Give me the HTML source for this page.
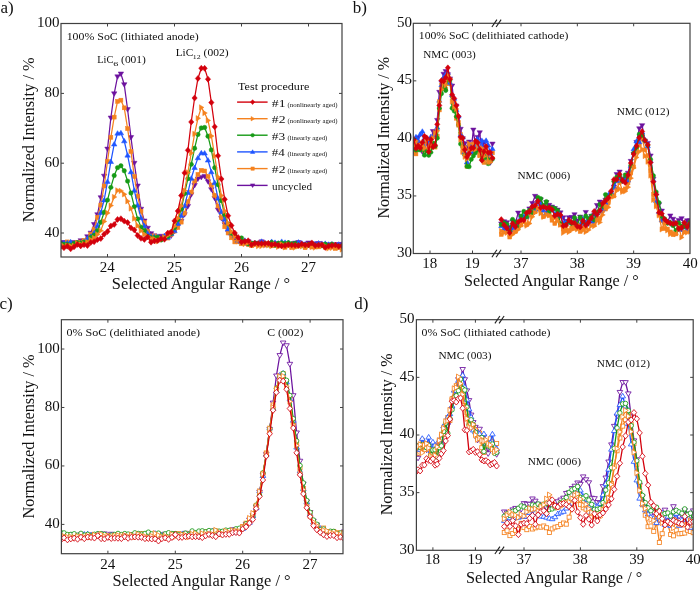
<!DOCTYPE html>
<html><head><meta charset="utf-8"><title>XRD panels</title>
<style>html,body{margin:0;padding:0;background:#fff;width:700px;height:590px;overflow:hidden}
svg{display:block;will-change:transform} text{font-family:"Liberation Serif",serif}</style></head>
<body><svg width="700" height="590" viewBox="0 0 700 590" font-family='"Liberation Serif", serif' fill="#111"><defs><clipPath id="ca"><rect x="61" y="23.5" width="281" height="233.5"/></clipPath><clipPath id="cb"><rect x="413.3" y="23.3" width="276.7" height="230.2"/></clipPath><clipPath id="cc"><rect x="61.4" y="319.7" width="281.6" height="234.00000000000006"/></clipPath><clipPath id="cd"><rect x="416.4" y="319.7" width="276.80000000000007" height="230.59999999999997"/></clipPath></defs><rect width="700" height="590" fill="#fff"/><g clip-path="url(#ca)">
<path d="M60.6,242.79 L63.95,242.34 L67.3,242.71 L70.65,244.1 L74,242.33 L77.35,242.75 L80.7,240.61 L84.05,240.9 L87.4,236.59 L90.75,233 L94.1,224.38 L97.45,214.57 L100.8,197.57 L104.15,176 L107.5,148.96 L110.85,117.88 L114.2,93.68 L117.55,76.68 L120.9,73.81 L124.25,84.56 L127.6,109.47 L130.95,137.4 L134.3,163.14 L137.65,185.84 L141,209.04 L144.35,220.83 L147.7,228.07 L151.05,233.5 L154.4,235.7 L157.75,237.04 L161.1,236.1 L164.45,236.91 L167.8,236.01 L171.15,235.89 L174.5,231.27 L177.85,225.97 L181.2,221.24 L184.55,214.52 L187.9,206.27 L191.25,194.62 L194.6,185.36 L197.95,178.86 L201.3,177.29 L204.65,176.35 L208,181.57 L211.35,189.48 L214.7,198.23 L218.05,209.79 L221.4,218.32 L224.75,224.49 L228.1,232.55 L231.45,236 L234.8,238.05 L238.15,241.09 L241.5,243.07 L244.85,241.82 L248.2,241.53 L251.55,244.44 L254.9,243.14 L258.25,243.44 L261.6,241.72 L264.95,244.8 L268.3,243.51 L271.65,244.86 L275,244.46 L278.35,243.5 L281.7,243.96 L285.05,243.84 L288.4,244.51 L291.75,245.45 L295.1,242.95 L298.45,242.45 L301.8,244.07 L305.15,244.48 L308.5,242.82 L311.85,243.73 L315.2,244.04 L318.55,243.45 L321.9,245.37 L325.25,245.38 L328.6,244.48 L331.95,245.8 L335.3,244.68 L338.65,244.53 L342,244.24" fill="none" stroke="#6c129e" stroke-width="1.25" stroke-linejoin="round"/>
<polygon points="60.6,245.43 63.33,240.95 57.87,240.95" fill="#6c129e" stroke="#6c129e" stroke-width="0.5"/>
<polygon points="63.95,244.98 66.68,240.49 61.22,240.49" fill="#6c129e" stroke="#6c129e" stroke-width="0.5"/>
<polygon points="67.3,245.35 70.03,240.86 64.57,240.86" fill="#6c129e" stroke="#6c129e" stroke-width="0.5"/>
<polygon points="70.65,246.74 73.38,242.25 67.92,242.25" fill="#6c129e" stroke="#6c129e" stroke-width="0.5"/>
<polygon points="74,244.97 76.73,240.48 71.27,240.48" fill="#6c129e" stroke="#6c129e" stroke-width="0.5"/>
<polygon points="77.35,245.39 80.08,240.9 74.62,240.9" fill="#6c129e" stroke="#6c129e" stroke-width="0.5"/>
<polygon points="80.7,243.25 83.43,238.76 77.97,238.76" fill="#6c129e" stroke="#6c129e" stroke-width="0.5"/>
<polygon points="84.05,243.54 86.78,239.05 81.32,239.05" fill="#6c129e" stroke="#6c129e" stroke-width="0.5"/>
<polygon points="87.4,239.23 90.13,234.74 84.67,234.74" fill="#6c129e" stroke="#6c129e" stroke-width="0.5"/>
<polygon points="90.75,235.64 93.48,231.15 88.02,231.15" fill="#6c129e" stroke="#6c129e" stroke-width="0.5"/>
<polygon points="94.1,227.02 96.83,222.54 91.37,222.54" fill="#6c129e" stroke="#6c129e" stroke-width="0.5"/>
<polygon points="97.45,217.21 100.18,212.72 94.72,212.72" fill="#6c129e" stroke="#6c129e" stroke-width="0.5"/>
<polygon points="100.8,200.21 103.53,195.73 98.07,195.73" fill="#6c129e" stroke="#6c129e" stroke-width="0.5"/>
<polygon points="104.15,178.64 106.88,174.16 101.42,174.16" fill="#6c129e" stroke="#6c129e" stroke-width="0.5"/>
<polygon points="107.5,151.6 110.23,147.11 104.77,147.11" fill="#6c129e" stroke="#6c129e" stroke-width="0.5"/>
<polygon points="110.85,120.52 113.58,116.03 108.12,116.03" fill="#6c129e" stroke="#6c129e" stroke-width="0.5"/>
<polygon points="114.2,96.32 116.93,91.83 111.47,91.83" fill="#6c129e" stroke="#6c129e" stroke-width="0.5"/>
<polygon points="117.55,79.32 120.28,74.83 114.82,74.83" fill="#6c129e" stroke="#6c129e" stroke-width="0.5"/>
<polygon points="120.9,76.45 123.63,71.97 118.17,71.97" fill="#6c129e" stroke="#6c129e" stroke-width="0.5"/>
<polygon points="124.25,87.2 126.98,82.71 121.52,82.71" fill="#6c129e" stroke="#6c129e" stroke-width="0.5"/>
<polygon points="127.6,112.11 130.33,107.62 124.87,107.62" fill="#6c129e" stroke="#6c129e" stroke-width="0.5"/>
<polygon points="130.95,140.04 133.68,135.55 128.22,135.55" fill="#6c129e" stroke="#6c129e" stroke-width="0.5"/>
<polygon points="134.3,165.78 137.03,161.3 131.57,161.3" fill="#6c129e" stroke="#6c129e" stroke-width="0.5"/>
<polygon points="137.65,188.48 140.38,183.99 134.92,183.99" fill="#6c129e" stroke="#6c129e" stroke-width="0.5"/>
<polygon points="141,211.68 143.73,207.19 138.27,207.19" fill="#6c129e" stroke="#6c129e" stroke-width="0.5"/>
<polygon points="144.35,223.47 147.08,218.99 141.62,218.99" fill="#6c129e" stroke="#6c129e" stroke-width="0.5"/>
<polygon points="147.7,230.71 150.43,226.22 144.97,226.22" fill="#6c129e" stroke="#6c129e" stroke-width="0.5"/>
<polygon points="151.05,236.14 153.78,231.65 148.32,231.65" fill="#6c129e" stroke="#6c129e" stroke-width="0.5"/>
<polygon points="154.4,238.34 157.13,233.85 151.67,233.85" fill="#6c129e" stroke="#6c129e" stroke-width="0.5"/>
<polygon points="157.75,239.68 160.48,235.19 155.02,235.19" fill="#6c129e" stroke="#6c129e" stroke-width="0.5"/>
<polygon points="161.1,238.74 163.83,234.25 158.37,234.25" fill="#6c129e" stroke="#6c129e" stroke-width="0.5"/>
<polygon points="164.45,239.55 167.18,235.06 161.72,235.06" fill="#6c129e" stroke="#6c129e" stroke-width="0.5"/>
<polygon points="167.8,238.65 170.53,234.16 165.07,234.16" fill="#6c129e" stroke="#6c129e" stroke-width="0.5"/>
<polygon points="171.15,238.53 173.88,234.04 168.42,234.04" fill="#6c129e" stroke="#6c129e" stroke-width="0.5"/>
<polygon points="174.5,233.91 177.23,229.43 171.77,229.43" fill="#6c129e" stroke="#6c129e" stroke-width="0.5"/>
<polygon points="177.85,228.61 180.58,224.12 175.12,224.12" fill="#6c129e" stroke="#6c129e" stroke-width="0.5"/>
<polygon points="181.2,223.88 183.93,219.4 178.47,219.4" fill="#6c129e" stroke="#6c129e" stroke-width="0.5"/>
<polygon points="184.55,217.16 187.28,212.68 181.82,212.68" fill="#6c129e" stroke="#6c129e" stroke-width="0.5"/>
<polygon points="187.9,208.91 190.63,204.42 185.17,204.42" fill="#6c129e" stroke="#6c129e" stroke-width="0.5"/>
<polygon points="191.25,197.26 193.98,192.77 188.52,192.77" fill="#6c129e" stroke="#6c129e" stroke-width="0.5"/>
<polygon points="194.6,188 197.33,183.51 191.87,183.51" fill="#6c129e" stroke="#6c129e" stroke-width="0.5"/>
<polygon points="197.95,181.5 200.68,177.01 195.22,177.01" fill="#6c129e" stroke="#6c129e" stroke-width="0.5"/>
<polygon points="201.3,179.93 204.03,175.44 198.57,175.44" fill="#6c129e" stroke="#6c129e" stroke-width="0.5"/>
<polygon points="204.65,178.99 207.38,174.5 201.92,174.5" fill="#6c129e" stroke="#6c129e" stroke-width="0.5"/>
<polygon points="208,184.21 210.73,179.73 205.27,179.73" fill="#6c129e" stroke="#6c129e" stroke-width="0.5"/>
<polygon points="211.35,192.12 214.08,187.63 208.62,187.63" fill="#6c129e" stroke="#6c129e" stroke-width="0.5"/>
<polygon points="214.7,200.87 217.43,196.38 211.97,196.38" fill="#6c129e" stroke="#6c129e" stroke-width="0.5"/>
<polygon points="218.05,212.43 220.78,207.94 215.32,207.94" fill="#6c129e" stroke="#6c129e" stroke-width="0.5"/>
<polygon points="221.4,220.96 224.13,216.47 218.67,216.47" fill="#6c129e" stroke="#6c129e" stroke-width="0.5"/>
<polygon points="224.75,227.13 227.48,222.64 222.02,222.64" fill="#6c129e" stroke="#6c129e" stroke-width="0.5"/>
<polygon points="228.1,235.19 230.83,230.7 225.37,230.7" fill="#6c129e" stroke="#6c129e" stroke-width="0.5"/>
<polygon points="231.45,238.64 234.18,234.16 228.72,234.16" fill="#6c129e" stroke="#6c129e" stroke-width="0.5"/>
<polygon points="234.8,240.69 237.53,236.2 232.07,236.2" fill="#6c129e" stroke="#6c129e" stroke-width="0.5"/>
<polygon points="238.15,243.73 240.88,239.24 235.42,239.24" fill="#6c129e" stroke="#6c129e" stroke-width="0.5"/>
<polygon points="241.5,245.71 244.23,241.22 238.77,241.22" fill="#6c129e" stroke="#6c129e" stroke-width="0.5"/>
<polygon points="244.85,244.46 247.58,239.97 242.12,239.97" fill="#6c129e" stroke="#6c129e" stroke-width="0.5"/>
<polygon points="248.2,244.17 250.93,239.68 245.47,239.68" fill="#6c129e" stroke="#6c129e" stroke-width="0.5"/>
<polygon points="251.55,247.08 254.28,242.59 248.82,242.59" fill="#6c129e" stroke="#6c129e" stroke-width="0.5"/>
<polygon points="254.9,245.78 257.63,241.29 252.17,241.29" fill="#6c129e" stroke="#6c129e" stroke-width="0.5"/>
<polygon points="258.25,246.08 260.98,241.59 255.52,241.59" fill="#6c129e" stroke="#6c129e" stroke-width="0.5"/>
<polygon points="261.6,244.36 264.33,239.87 258.87,239.87" fill="#6c129e" stroke="#6c129e" stroke-width="0.5"/>
<polygon points="264.95,247.44 267.68,242.95 262.22,242.95" fill="#6c129e" stroke="#6c129e" stroke-width="0.5"/>
<polygon points="268.3,246.15 271.03,241.66 265.57,241.66" fill="#6c129e" stroke="#6c129e" stroke-width="0.5"/>
<polygon points="271.65,247.5 274.38,243.01 268.92,243.01" fill="#6c129e" stroke="#6c129e" stroke-width="0.5"/>
<polygon points="275,247.1 277.73,242.61 272.27,242.61" fill="#6c129e" stroke="#6c129e" stroke-width="0.5"/>
<polygon points="278.35,246.14 281.08,241.65 275.62,241.65" fill="#6c129e" stroke="#6c129e" stroke-width="0.5"/>
<polygon points="281.7,246.6 284.43,242.12 278.97,242.12" fill="#6c129e" stroke="#6c129e" stroke-width="0.5"/>
<polygon points="285.05,246.48 287.78,241.99 282.32,241.99" fill="#6c129e" stroke="#6c129e" stroke-width="0.5"/>
<polygon points="288.4,247.15 291.13,242.66 285.67,242.66" fill="#6c129e" stroke="#6c129e" stroke-width="0.5"/>
<polygon points="291.75,248.09 294.48,243.6 289.02,243.6" fill="#6c129e" stroke="#6c129e" stroke-width="0.5"/>
<polygon points="295.1,245.59 297.83,241.1 292.37,241.1" fill="#6c129e" stroke="#6c129e" stroke-width="0.5"/>
<polygon points="298.45,245.09 301.18,240.61 295.72,240.61" fill="#6c129e" stroke="#6c129e" stroke-width="0.5"/>
<polygon points="301.8,246.71 304.53,242.22 299.07,242.22" fill="#6c129e" stroke="#6c129e" stroke-width="0.5"/>
<polygon points="305.15,247.12 307.88,242.63 302.42,242.63" fill="#6c129e" stroke="#6c129e" stroke-width="0.5"/>
<polygon points="308.5,245.46 311.23,240.97 305.77,240.97" fill="#6c129e" stroke="#6c129e" stroke-width="0.5"/>
<polygon points="311.85,246.37 314.58,241.88 309.12,241.88" fill="#6c129e" stroke="#6c129e" stroke-width="0.5"/>
<polygon points="315.2,246.68 317.93,242.2 312.47,242.2" fill="#6c129e" stroke="#6c129e" stroke-width="0.5"/>
<polygon points="318.55,246.09 321.28,241.6 315.82,241.6" fill="#6c129e" stroke="#6c129e" stroke-width="0.5"/>
<polygon points="321.9,248.01 324.63,243.52 319.17,243.52" fill="#6c129e" stroke="#6c129e" stroke-width="0.5"/>
<polygon points="325.25,248.02 327.98,243.54 322.52,243.54" fill="#6c129e" stroke="#6c129e" stroke-width="0.5"/>
<polygon points="328.6,247.12 331.33,242.63 325.87,242.63" fill="#6c129e" stroke="#6c129e" stroke-width="0.5"/>
<polygon points="331.95,248.44 334.68,243.95 329.22,243.95" fill="#6c129e" stroke="#6c129e" stroke-width="0.5"/>
<polygon points="335.3,247.32 338.03,242.83 332.57,242.83" fill="#6c129e" stroke="#6c129e" stroke-width="0.5"/>
<polygon points="338.65,247.17 341.38,242.68 335.92,242.68" fill="#6c129e" stroke="#6c129e" stroke-width="0.5"/>
<polygon points="342,246.88 344.73,242.4 339.27,242.4" fill="#6c129e" stroke="#6c129e" stroke-width="0.5"/>
<path d="M60.6,245.2 L63.95,244.68 L67.3,241.9 L70.65,244.22 L74,244.77 L77.35,242.58 L80.7,242.04 L84.05,240.41 L87.4,239.5 L90.75,234.21 L94.1,229.06 L97.45,217.47 L100.8,205.04 L104.15,185.97 L107.5,161.46 L110.85,137.32 L114.2,117.11 L117.55,101.38 L120.9,100.16 L124.25,107.84 L127.6,128.63 L130.95,151.46 L134.3,176.55 L137.65,196.28 L141,211.28 L144.35,222.61 L147.7,231.34 L151.05,235.98 L154.4,235.97 L157.75,238.37 L161.1,238.76 L164.45,237.06 L167.8,238.1 L171.15,234.34 L174.5,231.11 L177.85,227.56 L181.2,222.14 L184.55,213.13 L187.9,201.46 L191.25,192.08 L194.6,180.98 L197.95,174.38 L201.3,170.32 L204.65,170.98 L208,176.36 L211.35,185.03 L214.7,195.28 L218.05,206.06 L221.4,217.57 L224.75,226.82 L228.1,232.99 L231.45,237.82 L234.8,241.95 L238.15,241.87 L241.5,243.82 L244.85,241.89 L248.2,244.63 L251.55,245.73 L254.9,244.13 L258.25,244.68 L261.6,243.95 L264.95,244.78 L268.3,243.19 L271.65,245.85 L275,245.04 L278.35,245.83 L281.7,245.98 L285.05,247.24 L288.4,245.09 L291.75,247.43 L295.1,245.52 L298.45,245.53 L301.8,245.68 L305.15,247.74 L308.5,245.46 L311.85,247.04 L315.2,246.06 L318.55,246.9 L321.9,244.69 L325.25,247.28 L328.6,247.02 L331.95,246.6 L335.3,248.43 L338.65,247.54 L342,247.37" fill="none" stroke="#f5821f" stroke-width="1.25" stroke-linejoin="round"/>
<rect x="58.62" y="243.22" width="3.96" height="3.96" fill="#f5821f" stroke="#f5821f" stroke-width="0.5"/>
<rect x="61.97" y="242.7" width="3.96" height="3.96" fill="#f5821f" stroke="#f5821f" stroke-width="0.5"/>
<rect x="65.32" y="239.92" width="3.96" height="3.96" fill="#f5821f" stroke="#f5821f" stroke-width="0.5"/>
<rect x="68.67" y="242.24" width="3.96" height="3.96" fill="#f5821f" stroke="#f5821f" stroke-width="0.5"/>
<rect x="72.02" y="242.79" width="3.96" height="3.96" fill="#f5821f" stroke="#f5821f" stroke-width="0.5"/>
<rect x="75.37" y="240.6" width="3.96" height="3.96" fill="#f5821f" stroke="#f5821f" stroke-width="0.5"/>
<rect x="78.72" y="240.06" width="3.96" height="3.96" fill="#f5821f" stroke="#f5821f" stroke-width="0.5"/>
<rect x="82.07" y="238.43" width="3.96" height="3.96" fill="#f5821f" stroke="#f5821f" stroke-width="0.5"/>
<rect x="85.42" y="237.52" width="3.96" height="3.96" fill="#f5821f" stroke="#f5821f" stroke-width="0.5"/>
<rect x="88.77" y="232.23" width="3.96" height="3.96" fill="#f5821f" stroke="#f5821f" stroke-width="0.5"/>
<rect x="92.12" y="227.08" width="3.96" height="3.96" fill="#f5821f" stroke="#f5821f" stroke-width="0.5"/>
<rect x="95.47" y="215.49" width="3.96" height="3.96" fill="#f5821f" stroke="#f5821f" stroke-width="0.5"/>
<rect x="98.82" y="203.06" width="3.96" height="3.96" fill="#f5821f" stroke="#f5821f" stroke-width="0.5"/>
<rect x="102.17" y="183.99" width="3.96" height="3.96" fill="#f5821f" stroke="#f5821f" stroke-width="0.5"/>
<rect x="105.52" y="159.48" width="3.96" height="3.96" fill="#f5821f" stroke="#f5821f" stroke-width="0.5"/>
<rect x="108.87" y="135.34" width="3.96" height="3.96" fill="#f5821f" stroke="#f5821f" stroke-width="0.5"/>
<rect x="112.22" y="115.13" width="3.96" height="3.96" fill="#f5821f" stroke="#f5821f" stroke-width="0.5"/>
<rect x="115.57" y="99.4" width="3.96" height="3.96" fill="#f5821f" stroke="#f5821f" stroke-width="0.5"/>
<rect x="118.92" y="98.18" width="3.96" height="3.96" fill="#f5821f" stroke="#f5821f" stroke-width="0.5"/>
<rect x="122.27" y="105.86" width="3.96" height="3.96" fill="#f5821f" stroke="#f5821f" stroke-width="0.5"/>
<rect x="125.62" y="126.65" width="3.96" height="3.96" fill="#f5821f" stroke="#f5821f" stroke-width="0.5"/>
<rect x="128.97" y="149.48" width="3.96" height="3.96" fill="#f5821f" stroke="#f5821f" stroke-width="0.5"/>
<rect x="132.32" y="174.57" width="3.96" height="3.96" fill="#f5821f" stroke="#f5821f" stroke-width="0.5"/>
<rect x="135.67" y="194.3" width="3.96" height="3.96" fill="#f5821f" stroke="#f5821f" stroke-width="0.5"/>
<rect x="139.02" y="209.3" width="3.96" height="3.96" fill="#f5821f" stroke="#f5821f" stroke-width="0.5"/>
<rect x="142.37" y="220.63" width="3.96" height="3.96" fill="#f5821f" stroke="#f5821f" stroke-width="0.5"/>
<rect x="145.72" y="229.36" width="3.96" height="3.96" fill="#f5821f" stroke="#f5821f" stroke-width="0.5"/>
<rect x="149.07" y="234" width="3.96" height="3.96" fill="#f5821f" stroke="#f5821f" stroke-width="0.5"/>
<rect x="152.42" y="233.99" width="3.96" height="3.96" fill="#f5821f" stroke="#f5821f" stroke-width="0.5"/>
<rect x="155.77" y="236.39" width="3.96" height="3.96" fill="#f5821f" stroke="#f5821f" stroke-width="0.5"/>
<rect x="159.12" y="236.78" width="3.96" height="3.96" fill="#f5821f" stroke="#f5821f" stroke-width="0.5"/>
<rect x="162.47" y="235.08" width="3.96" height="3.96" fill="#f5821f" stroke="#f5821f" stroke-width="0.5"/>
<rect x="165.82" y="236.12" width="3.96" height="3.96" fill="#f5821f" stroke="#f5821f" stroke-width="0.5"/>
<rect x="169.17" y="232.36" width="3.96" height="3.96" fill="#f5821f" stroke="#f5821f" stroke-width="0.5"/>
<rect x="172.52" y="229.13" width="3.96" height="3.96" fill="#f5821f" stroke="#f5821f" stroke-width="0.5"/>
<rect x="175.87" y="225.58" width="3.96" height="3.96" fill="#f5821f" stroke="#f5821f" stroke-width="0.5"/>
<rect x="179.22" y="220.16" width="3.96" height="3.96" fill="#f5821f" stroke="#f5821f" stroke-width="0.5"/>
<rect x="182.57" y="211.15" width="3.96" height="3.96" fill="#f5821f" stroke="#f5821f" stroke-width="0.5"/>
<rect x="185.92" y="199.48" width="3.96" height="3.96" fill="#f5821f" stroke="#f5821f" stroke-width="0.5"/>
<rect x="189.27" y="190.1" width="3.96" height="3.96" fill="#f5821f" stroke="#f5821f" stroke-width="0.5"/>
<rect x="192.62" y="179" width="3.96" height="3.96" fill="#f5821f" stroke="#f5821f" stroke-width="0.5"/>
<rect x="195.97" y="172.4" width="3.96" height="3.96" fill="#f5821f" stroke="#f5821f" stroke-width="0.5"/>
<rect x="199.32" y="168.34" width="3.96" height="3.96" fill="#f5821f" stroke="#f5821f" stroke-width="0.5"/>
<rect x="202.67" y="169" width="3.96" height="3.96" fill="#f5821f" stroke="#f5821f" stroke-width="0.5"/>
<rect x="206.02" y="174.38" width="3.96" height="3.96" fill="#f5821f" stroke="#f5821f" stroke-width="0.5"/>
<rect x="209.37" y="183.05" width="3.96" height="3.96" fill="#f5821f" stroke="#f5821f" stroke-width="0.5"/>
<rect x="212.72" y="193.3" width="3.96" height="3.96" fill="#f5821f" stroke="#f5821f" stroke-width="0.5"/>
<rect x="216.07" y="204.08" width="3.96" height="3.96" fill="#f5821f" stroke="#f5821f" stroke-width="0.5"/>
<rect x="219.42" y="215.59" width="3.96" height="3.96" fill="#f5821f" stroke="#f5821f" stroke-width="0.5"/>
<rect x="222.77" y="224.84" width="3.96" height="3.96" fill="#f5821f" stroke="#f5821f" stroke-width="0.5"/>
<rect x="226.12" y="231.01" width="3.96" height="3.96" fill="#f5821f" stroke="#f5821f" stroke-width="0.5"/>
<rect x="229.47" y="235.84" width="3.96" height="3.96" fill="#f5821f" stroke="#f5821f" stroke-width="0.5"/>
<rect x="232.82" y="239.97" width="3.96" height="3.96" fill="#f5821f" stroke="#f5821f" stroke-width="0.5"/>
<rect x="236.17" y="239.89" width="3.96" height="3.96" fill="#f5821f" stroke="#f5821f" stroke-width="0.5"/>
<rect x="239.52" y="241.84" width="3.96" height="3.96" fill="#f5821f" stroke="#f5821f" stroke-width="0.5"/>
<rect x="242.87" y="239.91" width="3.96" height="3.96" fill="#f5821f" stroke="#f5821f" stroke-width="0.5"/>
<rect x="246.22" y="242.65" width="3.96" height="3.96" fill="#f5821f" stroke="#f5821f" stroke-width="0.5"/>
<rect x="249.57" y="243.75" width="3.96" height="3.96" fill="#f5821f" stroke="#f5821f" stroke-width="0.5"/>
<rect x="252.92" y="242.15" width="3.96" height="3.96" fill="#f5821f" stroke="#f5821f" stroke-width="0.5"/>
<rect x="256.27" y="242.7" width="3.96" height="3.96" fill="#f5821f" stroke="#f5821f" stroke-width="0.5"/>
<rect x="259.62" y="241.97" width="3.96" height="3.96" fill="#f5821f" stroke="#f5821f" stroke-width="0.5"/>
<rect x="262.97" y="242.8" width="3.96" height="3.96" fill="#f5821f" stroke="#f5821f" stroke-width="0.5"/>
<rect x="266.32" y="241.21" width="3.96" height="3.96" fill="#f5821f" stroke="#f5821f" stroke-width="0.5"/>
<rect x="269.67" y="243.87" width="3.96" height="3.96" fill="#f5821f" stroke="#f5821f" stroke-width="0.5"/>
<rect x="273.02" y="243.06" width="3.96" height="3.96" fill="#f5821f" stroke="#f5821f" stroke-width="0.5"/>
<rect x="276.37" y="243.85" width="3.96" height="3.96" fill="#f5821f" stroke="#f5821f" stroke-width="0.5"/>
<rect x="279.72" y="244" width="3.96" height="3.96" fill="#f5821f" stroke="#f5821f" stroke-width="0.5"/>
<rect x="283.07" y="245.26" width="3.96" height="3.96" fill="#f5821f" stroke="#f5821f" stroke-width="0.5"/>
<rect x="286.42" y="243.11" width="3.96" height="3.96" fill="#f5821f" stroke="#f5821f" stroke-width="0.5"/>
<rect x="289.77" y="245.45" width="3.96" height="3.96" fill="#f5821f" stroke="#f5821f" stroke-width="0.5"/>
<rect x="293.12" y="243.54" width="3.96" height="3.96" fill="#f5821f" stroke="#f5821f" stroke-width="0.5"/>
<rect x="296.47" y="243.55" width="3.96" height="3.96" fill="#f5821f" stroke="#f5821f" stroke-width="0.5"/>
<rect x="299.82" y="243.7" width="3.96" height="3.96" fill="#f5821f" stroke="#f5821f" stroke-width="0.5"/>
<rect x="303.17" y="245.76" width="3.96" height="3.96" fill="#f5821f" stroke="#f5821f" stroke-width="0.5"/>
<rect x="306.52" y="243.48" width="3.96" height="3.96" fill="#f5821f" stroke="#f5821f" stroke-width="0.5"/>
<rect x="309.87" y="245.06" width="3.96" height="3.96" fill="#f5821f" stroke="#f5821f" stroke-width="0.5"/>
<rect x="313.22" y="244.08" width="3.96" height="3.96" fill="#f5821f" stroke="#f5821f" stroke-width="0.5"/>
<rect x="316.57" y="244.92" width="3.96" height="3.96" fill="#f5821f" stroke="#f5821f" stroke-width="0.5"/>
<rect x="319.92" y="242.71" width="3.96" height="3.96" fill="#f5821f" stroke="#f5821f" stroke-width="0.5"/>
<rect x="323.27" y="245.3" width="3.96" height="3.96" fill="#f5821f" stroke="#f5821f" stroke-width="0.5"/>
<rect x="326.62" y="245.04" width="3.96" height="3.96" fill="#f5821f" stroke="#f5821f" stroke-width="0.5"/>
<rect x="329.97" y="244.62" width="3.96" height="3.96" fill="#f5821f" stroke="#f5821f" stroke-width="0.5"/>
<rect x="333.32" y="246.45" width="3.96" height="3.96" fill="#f5821f" stroke="#f5821f" stroke-width="0.5"/>
<rect x="336.67" y="245.56" width="3.96" height="3.96" fill="#f5821f" stroke="#f5821f" stroke-width="0.5"/>
<rect x="340.02" y="245.39" width="3.96" height="3.96" fill="#f5821f" stroke="#f5821f" stroke-width="0.5"/>
<path d="M60.6,243.32 L63.95,242.79 L67.3,242.86 L70.65,241.96 L74,243.73 L77.35,243.17 L80.7,242.94 L84.05,241.96 L87.4,238.43 L90.75,236.56 L94.1,233.12 L97.45,225.63 L100.8,212.64 L104.15,200.05 L107.5,181.57 L110.85,161.69 L114.2,144.21 L117.55,133.3 L120.9,132.98 L124.25,140.99 L127.6,155.29 L130.95,171.91 L134.3,190.37 L137.65,205.26 L141,217.82 L144.35,226 L147.7,233.32 L151.05,236.34 L154.4,236.72 L157.75,236.99 L161.1,238.24 L164.45,235.72 L167.8,237.44 L171.15,233.69 L174.5,230.73 L177.85,223.66 L181.2,215.54 L184.55,205.84 L187.9,192.64 L191.25,178.3 L194.6,167.63 L197.95,157.87 L201.3,153 L204.65,153.15 L208,160.25 L211.35,171.89 L214.7,182.74 L218.05,198.3 L221.4,211.91 L224.75,219.51 L228.1,229.13 L231.45,232.94 L234.8,236.03 L238.15,240.39 L241.5,241.9 L244.85,240.38 L248.2,243.6 L251.55,243.4 L254.9,243.19 L258.25,243.32 L261.6,241.43 L264.95,242.93 L268.3,244.7 L271.65,241.59 L275,242.5 L278.35,243.37 L281.7,241.52 L285.05,242.5 L288.4,242.73 L291.75,244.18 L295.1,243.66 L298.45,242.22 L301.8,243.16 L305.15,244.12 L308.5,245.32 L311.85,243.57 L315.2,243.93 L318.55,243.2 L321.9,243.58 L325.25,243.48 L328.6,244.38 L331.95,244.11 L335.3,245.01 L338.65,244.3 L342,244.32" fill="none" stroke="#1f55ff" stroke-width="1.25" stroke-linejoin="round"/>
<polygon points="60.6,240.68 63.33,245.17 57.87,245.17" fill="#1f55ff" stroke="#1f55ff" stroke-width="0.5"/>
<polygon points="63.95,240.15 66.68,244.64 61.22,244.64" fill="#1f55ff" stroke="#1f55ff" stroke-width="0.5"/>
<polygon points="67.3,240.22 70.03,244.7 64.57,244.7" fill="#1f55ff" stroke="#1f55ff" stroke-width="0.5"/>
<polygon points="70.65,239.32 73.38,243.81 67.92,243.81" fill="#1f55ff" stroke="#1f55ff" stroke-width="0.5"/>
<polygon points="74,241.09 76.73,245.57 71.27,245.57" fill="#1f55ff" stroke="#1f55ff" stroke-width="0.5"/>
<polygon points="77.35,240.53 80.08,245.02 74.62,245.02" fill="#1f55ff" stroke="#1f55ff" stroke-width="0.5"/>
<polygon points="80.7,240.3 83.43,244.79 77.97,244.79" fill="#1f55ff" stroke="#1f55ff" stroke-width="0.5"/>
<polygon points="84.05,239.32 86.78,243.81 81.32,243.81" fill="#1f55ff" stroke="#1f55ff" stroke-width="0.5"/>
<polygon points="87.4,235.79 90.13,240.27 84.67,240.27" fill="#1f55ff" stroke="#1f55ff" stroke-width="0.5"/>
<polygon points="90.75,233.92 93.48,238.41 88.02,238.41" fill="#1f55ff" stroke="#1f55ff" stroke-width="0.5"/>
<polygon points="94.1,230.48 96.83,234.97 91.37,234.97" fill="#1f55ff" stroke="#1f55ff" stroke-width="0.5"/>
<polygon points="97.45,222.99 100.18,227.48 94.72,227.48" fill="#1f55ff" stroke="#1f55ff" stroke-width="0.5"/>
<polygon points="100.8,210 103.53,214.49 98.07,214.49" fill="#1f55ff" stroke="#1f55ff" stroke-width="0.5"/>
<polygon points="104.15,197.41 106.88,201.9 101.42,201.9" fill="#1f55ff" stroke="#1f55ff" stroke-width="0.5"/>
<polygon points="107.5,178.93 110.23,183.42 104.77,183.42" fill="#1f55ff" stroke="#1f55ff" stroke-width="0.5"/>
<polygon points="110.85,159.05 113.58,163.53 108.12,163.53" fill="#1f55ff" stroke="#1f55ff" stroke-width="0.5"/>
<polygon points="114.2,141.57 116.93,146.06 111.47,146.06" fill="#1f55ff" stroke="#1f55ff" stroke-width="0.5"/>
<polygon points="117.55,130.66 120.28,135.14 114.82,135.14" fill="#1f55ff" stroke="#1f55ff" stroke-width="0.5"/>
<polygon points="120.9,130.34 123.63,134.83 118.17,134.83" fill="#1f55ff" stroke="#1f55ff" stroke-width="0.5"/>
<polygon points="124.25,138.35 126.98,142.84 121.52,142.84" fill="#1f55ff" stroke="#1f55ff" stroke-width="0.5"/>
<polygon points="127.6,152.65 130.33,157.14 124.87,157.14" fill="#1f55ff" stroke="#1f55ff" stroke-width="0.5"/>
<polygon points="130.95,169.27 133.68,173.76 128.22,173.76" fill="#1f55ff" stroke="#1f55ff" stroke-width="0.5"/>
<polygon points="134.3,187.73 137.03,192.22 131.57,192.22" fill="#1f55ff" stroke="#1f55ff" stroke-width="0.5"/>
<polygon points="137.65,202.62 140.38,207.11 134.92,207.11" fill="#1f55ff" stroke="#1f55ff" stroke-width="0.5"/>
<polygon points="141,215.18 143.73,219.67 138.27,219.67" fill="#1f55ff" stroke="#1f55ff" stroke-width="0.5"/>
<polygon points="144.35,223.36 147.08,227.85 141.62,227.85" fill="#1f55ff" stroke="#1f55ff" stroke-width="0.5"/>
<polygon points="147.7,230.68 150.43,235.17 144.97,235.17" fill="#1f55ff" stroke="#1f55ff" stroke-width="0.5"/>
<polygon points="151.05,233.7 153.78,238.18 148.32,238.18" fill="#1f55ff" stroke="#1f55ff" stroke-width="0.5"/>
<polygon points="154.4,234.08 157.13,238.57 151.67,238.57" fill="#1f55ff" stroke="#1f55ff" stroke-width="0.5"/>
<polygon points="157.75,234.35 160.48,238.84 155.02,238.84" fill="#1f55ff" stroke="#1f55ff" stroke-width="0.5"/>
<polygon points="161.1,235.6 163.83,240.09 158.37,240.09" fill="#1f55ff" stroke="#1f55ff" stroke-width="0.5"/>
<polygon points="164.45,233.08 167.18,237.57 161.72,237.57" fill="#1f55ff" stroke="#1f55ff" stroke-width="0.5"/>
<polygon points="167.8,234.8 170.53,239.29 165.07,239.29" fill="#1f55ff" stroke="#1f55ff" stroke-width="0.5"/>
<polygon points="171.15,231.05 173.88,235.53 168.42,235.53" fill="#1f55ff" stroke="#1f55ff" stroke-width="0.5"/>
<polygon points="174.5,228.09 177.23,232.58 171.77,232.58" fill="#1f55ff" stroke="#1f55ff" stroke-width="0.5"/>
<polygon points="177.85,221.02 180.58,225.51 175.12,225.51" fill="#1f55ff" stroke="#1f55ff" stroke-width="0.5"/>
<polygon points="181.2,212.9 183.93,217.38 178.47,217.38" fill="#1f55ff" stroke="#1f55ff" stroke-width="0.5"/>
<polygon points="184.55,203.2 187.28,207.69 181.82,207.69" fill="#1f55ff" stroke="#1f55ff" stroke-width="0.5"/>
<polygon points="187.9,190 190.63,194.49 185.17,194.49" fill="#1f55ff" stroke="#1f55ff" stroke-width="0.5"/>
<polygon points="191.25,175.66 193.98,180.15 188.52,180.15" fill="#1f55ff" stroke="#1f55ff" stroke-width="0.5"/>
<polygon points="194.6,164.99 197.33,169.47 191.87,169.47" fill="#1f55ff" stroke="#1f55ff" stroke-width="0.5"/>
<polygon points="197.95,155.23 200.68,159.72 195.22,159.72" fill="#1f55ff" stroke="#1f55ff" stroke-width="0.5"/>
<polygon points="201.3,150.36 204.03,154.85 198.57,154.85" fill="#1f55ff" stroke="#1f55ff" stroke-width="0.5"/>
<polygon points="204.65,150.51 207.38,155 201.92,155" fill="#1f55ff" stroke="#1f55ff" stroke-width="0.5"/>
<polygon points="208,157.61 210.73,162.1 205.27,162.1" fill="#1f55ff" stroke="#1f55ff" stroke-width="0.5"/>
<polygon points="211.35,169.25 214.08,173.74 208.62,173.74" fill="#1f55ff" stroke="#1f55ff" stroke-width="0.5"/>
<polygon points="214.7,180.1 217.43,184.58 211.97,184.58" fill="#1f55ff" stroke="#1f55ff" stroke-width="0.5"/>
<polygon points="218.05,195.66 220.78,200.15 215.32,200.15" fill="#1f55ff" stroke="#1f55ff" stroke-width="0.5"/>
<polygon points="221.4,209.27 224.13,213.76 218.67,213.76" fill="#1f55ff" stroke="#1f55ff" stroke-width="0.5"/>
<polygon points="224.75,216.87 227.48,221.35 222.02,221.35" fill="#1f55ff" stroke="#1f55ff" stroke-width="0.5"/>
<polygon points="228.1,226.49 230.83,230.98 225.37,230.98" fill="#1f55ff" stroke="#1f55ff" stroke-width="0.5"/>
<polygon points="231.45,230.3 234.18,234.78 228.72,234.78" fill="#1f55ff" stroke="#1f55ff" stroke-width="0.5"/>
<polygon points="234.8,233.39 237.53,237.87 232.07,237.87" fill="#1f55ff" stroke="#1f55ff" stroke-width="0.5"/>
<polygon points="238.15,237.75 240.88,242.24 235.42,242.24" fill="#1f55ff" stroke="#1f55ff" stroke-width="0.5"/>
<polygon points="241.5,239.26 244.23,243.75 238.77,243.75" fill="#1f55ff" stroke="#1f55ff" stroke-width="0.5"/>
<polygon points="244.85,237.74 247.58,242.23 242.12,242.23" fill="#1f55ff" stroke="#1f55ff" stroke-width="0.5"/>
<polygon points="248.2,240.96 250.93,245.45 245.47,245.45" fill="#1f55ff" stroke="#1f55ff" stroke-width="0.5"/>
<polygon points="251.55,240.76 254.28,245.25 248.82,245.25" fill="#1f55ff" stroke="#1f55ff" stroke-width="0.5"/>
<polygon points="254.9,240.55 257.63,245.03 252.17,245.03" fill="#1f55ff" stroke="#1f55ff" stroke-width="0.5"/>
<polygon points="258.25,240.68 260.98,245.17 255.52,245.17" fill="#1f55ff" stroke="#1f55ff" stroke-width="0.5"/>
<polygon points="261.6,238.79 264.33,243.28 258.87,243.28" fill="#1f55ff" stroke="#1f55ff" stroke-width="0.5"/>
<polygon points="264.95,240.29 267.68,244.78 262.22,244.78" fill="#1f55ff" stroke="#1f55ff" stroke-width="0.5"/>
<polygon points="268.3,242.06 271.03,246.55 265.57,246.55" fill="#1f55ff" stroke="#1f55ff" stroke-width="0.5"/>
<polygon points="271.65,238.95 274.38,243.43 268.92,243.43" fill="#1f55ff" stroke="#1f55ff" stroke-width="0.5"/>
<polygon points="275,239.86 277.73,244.35 272.27,244.35" fill="#1f55ff" stroke="#1f55ff" stroke-width="0.5"/>
<polygon points="278.35,240.73 281.08,245.22 275.62,245.22" fill="#1f55ff" stroke="#1f55ff" stroke-width="0.5"/>
<polygon points="281.7,238.88 284.43,243.37 278.97,243.37" fill="#1f55ff" stroke="#1f55ff" stroke-width="0.5"/>
<polygon points="285.05,239.86 287.78,244.35 282.32,244.35" fill="#1f55ff" stroke="#1f55ff" stroke-width="0.5"/>
<polygon points="288.4,240.09 291.13,244.58 285.67,244.58" fill="#1f55ff" stroke="#1f55ff" stroke-width="0.5"/>
<polygon points="291.75,241.54 294.48,246.03 289.02,246.03" fill="#1f55ff" stroke="#1f55ff" stroke-width="0.5"/>
<polygon points="295.1,241.02 297.83,245.51 292.37,245.51" fill="#1f55ff" stroke="#1f55ff" stroke-width="0.5"/>
<polygon points="298.45,239.58 301.18,244.07 295.72,244.07" fill="#1f55ff" stroke="#1f55ff" stroke-width="0.5"/>
<polygon points="301.8,240.52 304.53,245.01 299.07,245.01" fill="#1f55ff" stroke="#1f55ff" stroke-width="0.5"/>
<polygon points="305.15,241.48 307.88,245.97 302.42,245.97" fill="#1f55ff" stroke="#1f55ff" stroke-width="0.5"/>
<polygon points="308.5,242.68 311.23,247.16 305.77,247.16" fill="#1f55ff" stroke="#1f55ff" stroke-width="0.5"/>
<polygon points="311.85,240.93 314.58,245.42 309.12,245.42" fill="#1f55ff" stroke="#1f55ff" stroke-width="0.5"/>
<polygon points="315.2,241.29 317.93,245.78 312.47,245.78" fill="#1f55ff" stroke="#1f55ff" stroke-width="0.5"/>
<polygon points="318.55,240.56 321.28,245.05 315.82,245.05" fill="#1f55ff" stroke="#1f55ff" stroke-width="0.5"/>
<polygon points="321.9,240.94 324.63,245.42 319.17,245.42" fill="#1f55ff" stroke="#1f55ff" stroke-width="0.5"/>
<polygon points="325.25,240.84 327.98,245.32 322.52,245.32" fill="#1f55ff" stroke="#1f55ff" stroke-width="0.5"/>
<polygon points="328.6,241.74 331.33,246.22 325.87,246.22" fill="#1f55ff" stroke="#1f55ff" stroke-width="0.5"/>
<polygon points="331.95,241.47 334.68,245.95 329.22,245.95" fill="#1f55ff" stroke="#1f55ff" stroke-width="0.5"/>
<polygon points="335.3,242.37 338.03,246.86 332.57,246.86" fill="#1f55ff" stroke="#1f55ff" stroke-width="0.5"/>
<polygon points="338.65,241.66 341.38,246.15 335.92,246.15" fill="#1f55ff" stroke="#1f55ff" stroke-width="0.5"/>
<polygon points="342,241.68 344.73,246.17 339.27,246.17" fill="#1f55ff" stroke="#1f55ff" stroke-width="0.5"/>
<path d="M60.6,243.59 L63.95,244.53 L67.3,244.42 L70.65,245.38 L74,243.41 L77.35,242.74 L80.7,243.04 L84.05,242.24 L87.4,242.31 L90.75,237.46 L94.1,235.22 L97.45,230.77 L100.8,222.2 L104.15,212.21 L107.5,200.11 L110.85,187.37 L114.2,175.56 L117.55,167.66 L120.9,165.81 L124.25,170.74 L127.6,181.1 L130.95,193 L134.3,206.59 L137.65,218.85 L141,227.11 L144.35,230.5 L147.7,236.56 L151.05,237.67 L154.4,237.75 L157.75,237.16 L161.1,239.97 L164.45,238.27 L167.8,236.31 L171.15,233.3 L174.5,227.69 L177.85,219.46 L181.2,209.28 L184.55,193.57 L187.9,178.7 L191.25,164.37 L194.6,148.29 L197.95,134.45 L201.3,127.93 L204.65,127.48 L208,136.19 L211.35,149.88 L214.7,167.67 L218.05,184.72 L221.4,200.8 L224.75,214.66 L228.1,223.94 L231.45,233 L234.8,235.31 L238.15,238.53 L241.5,237.98 L244.85,241.87 L248.2,243.88 L251.55,243.32 L254.9,243.1 L258.25,243.85 L261.6,244.47 L264.95,243.76 L268.3,244.9 L271.65,242.48 L275,245.23 L278.35,243.25 L281.7,242.94 L285.05,243.59 L288.4,242.75 L291.75,243.81 L295.1,243.43 L298.45,245.25 L301.8,245.71 L305.15,245.09 L308.5,244.5 L311.85,243.76 L315.2,246.04 L318.55,245.54 L321.9,245.77 L325.25,244.27 L328.6,245.72 L331.95,244.1 L335.3,245.66 L338.65,246.12 L342,246.17" fill="none" stroke="#169a16" stroke-width="1.25" stroke-linejoin="round"/>
<circle cx="60.6" cy="243.59" r="2.2" fill="#169a16" stroke="#169a16" stroke-width="0.5"/>
<circle cx="63.95" cy="244.53" r="2.2" fill="#169a16" stroke="#169a16" stroke-width="0.5"/>
<circle cx="67.3" cy="244.42" r="2.2" fill="#169a16" stroke="#169a16" stroke-width="0.5"/>
<circle cx="70.65" cy="245.38" r="2.2" fill="#169a16" stroke="#169a16" stroke-width="0.5"/>
<circle cx="74" cy="243.41" r="2.2" fill="#169a16" stroke="#169a16" stroke-width="0.5"/>
<circle cx="77.35" cy="242.74" r="2.2" fill="#169a16" stroke="#169a16" stroke-width="0.5"/>
<circle cx="80.7" cy="243.04" r="2.2" fill="#169a16" stroke="#169a16" stroke-width="0.5"/>
<circle cx="84.05" cy="242.24" r="2.2" fill="#169a16" stroke="#169a16" stroke-width="0.5"/>
<circle cx="87.4" cy="242.31" r="2.2" fill="#169a16" stroke="#169a16" stroke-width="0.5"/>
<circle cx="90.75" cy="237.46" r="2.2" fill="#169a16" stroke="#169a16" stroke-width="0.5"/>
<circle cx="94.1" cy="235.22" r="2.2" fill="#169a16" stroke="#169a16" stroke-width="0.5"/>
<circle cx="97.45" cy="230.77" r="2.2" fill="#169a16" stroke="#169a16" stroke-width="0.5"/>
<circle cx="100.8" cy="222.2" r="2.2" fill="#169a16" stroke="#169a16" stroke-width="0.5"/>
<circle cx="104.15" cy="212.21" r="2.2" fill="#169a16" stroke="#169a16" stroke-width="0.5"/>
<circle cx="107.5" cy="200.11" r="2.2" fill="#169a16" stroke="#169a16" stroke-width="0.5"/>
<circle cx="110.85" cy="187.37" r="2.2" fill="#169a16" stroke="#169a16" stroke-width="0.5"/>
<circle cx="114.2" cy="175.56" r="2.2" fill="#169a16" stroke="#169a16" stroke-width="0.5"/>
<circle cx="117.55" cy="167.66" r="2.2" fill="#169a16" stroke="#169a16" stroke-width="0.5"/>
<circle cx="120.9" cy="165.81" r="2.2" fill="#169a16" stroke="#169a16" stroke-width="0.5"/>
<circle cx="124.25" cy="170.74" r="2.2" fill="#169a16" stroke="#169a16" stroke-width="0.5"/>
<circle cx="127.6" cy="181.1" r="2.2" fill="#169a16" stroke="#169a16" stroke-width="0.5"/>
<circle cx="130.95" cy="193" r="2.2" fill="#169a16" stroke="#169a16" stroke-width="0.5"/>
<circle cx="134.3" cy="206.59" r="2.2" fill="#169a16" stroke="#169a16" stroke-width="0.5"/>
<circle cx="137.65" cy="218.85" r="2.2" fill="#169a16" stroke="#169a16" stroke-width="0.5"/>
<circle cx="141" cy="227.11" r="2.2" fill="#169a16" stroke="#169a16" stroke-width="0.5"/>
<circle cx="144.35" cy="230.5" r="2.2" fill="#169a16" stroke="#169a16" stroke-width="0.5"/>
<circle cx="147.7" cy="236.56" r="2.2" fill="#169a16" stroke="#169a16" stroke-width="0.5"/>
<circle cx="151.05" cy="237.67" r="2.2" fill="#169a16" stroke="#169a16" stroke-width="0.5"/>
<circle cx="154.4" cy="237.75" r="2.2" fill="#169a16" stroke="#169a16" stroke-width="0.5"/>
<circle cx="157.75" cy="237.16" r="2.2" fill="#169a16" stroke="#169a16" stroke-width="0.5"/>
<circle cx="161.1" cy="239.97" r="2.2" fill="#169a16" stroke="#169a16" stroke-width="0.5"/>
<circle cx="164.45" cy="238.27" r="2.2" fill="#169a16" stroke="#169a16" stroke-width="0.5"/>
<circle cx="167.8" cy="236.31" r="2.2" fill="#169a16" stroke="#169a16" stroke-width="0.5"/>
<circle cx="171.15" cy="233.3" r="2.2" fill="#169a16" stroke="#169a16" stroke-width="0.5"/>
<circle cx="174.5" cy="227.69" r="2.2" fill="#169a16" stroke="#169a16" stroke-width="0.5"/>
<circle cx="177.85" cy="219.46" r="2.2" fill="#169a16" stroke="#169a16" stroke-width="0.5"/>
<circle cx="181.2" cy="209.28" r="2.2" fill="#169a16" stroke="#169a16" stroke-width="0.5"/>
<circle cx="184.55" cy="193.57" r="2.2" fill="#169a16" stroke="#169a16" stroke-width="0.5"/>
<circle cx="187.9" cy="178.7" r="2.2" fill="#169a16" stroke="#169a16" stroke-width="0.5"/>
<circle cx="191.25" cy="164.37" r="2.2" fill="#169a16" stroke="#169a16" stroke-width="0.5"/>
<circle cx="194.6" cy="148.29" r="2.2" fill="#169a16" stroke="#169a16" stroke-width="0.5"/>
<circle cx="197.95" cy="134.45" r="2.2" fill="#169a16" stroke="#169a16" stroke-width="0.5"/>
<circle cx="201.3" cy="127.93" r="2.2" fill="#169a16" stroke="#169a16" stroke-width="0.5"/>
<circle cx="204.65" cy="127.48" r="2.2" fill="#169a16" stroke="#169a16" stroke-width="0.5"/>
<circle cx="208" cy="136.19" r="2.2" fill="#169a16" stroke="#169a16" stroke-width="0.5"/>
<circle cx="211.35" cy="149.88" r="2.2" fill="#169a16" stroke="#169a16" stroke-width="0.5"/>
<circle cx="214.7" cy="167.67" r="2.2" fill="#169a16" stroke="#169a16" stroke-width="0.5"/>
<circle cx="218.05" cy="184.72" r="2.2" fill="#169a16" stroke="#169a16" stroke-width="0.5"/>
<circle cx="221.4" cy="200.8" r="2.2" fill="#169a16" stroke="#169a16" stroke-width="0.5"/>
<circle cx="224.75" cy="214.66" r="2.2" fill="#169a16" stroke="#169a16" stroke-width="0.5"/>
<circle cx="228.1" cy="223.94" r="2.2" fill="#169a16" stroke="#169a16" stroke-width="0.5"/>
<circle cx="231.45" cy="233" r="2.2" fill="#169a16" stroke="#169a16" stroke-width="0.5"/>
<circle cx="234.8" cy="235.31" r="2.2" fill="#169a16" stroke="#169a16" stroke-width="0.5"/>
<circle cx="238.15" cy="238.53" r="2.2" fill="#169a16" stroke="#169a16" stroke-width="0.5"/>
<circle cx="241.5" cy="237.98" r="2.2" fill="#169a16" stroke="#169a16" stroke-width="0.5"/>
<circle cx="244.85" cy="241.87" r="2.2" fill="#169a16" stroke="#169a16" stroke-width="0.5"/>
<circle cx="248.2" cy="243.88" r="2.2" fill="#169a16" stroke="#169a16" stroke-width="0.5"/>
<circle cx="251.55" cy="243.32" r="2.2" fill="#169a16" stroke="#169a16" stroke-width="0.5"/>
<circle cx="254.9" cy="243.1" r="2.2" fill="#169a16" stroke="#169a16" stroke-width="0.5"/>
<circle cx="258.25" cy="243.85" r="2.2" fill="#169a16" stroke="#169a16" stroke-width="0.5"/>
<circle cx="261.6" cy="244.47" r="2.2" fill="#169a16" stroke="#169a16" stroke-width="0.5"/>
<circle cx="264.95" cy="243.76" r="2.2" fill="#169a16" stroke="#169a16" stroke-width="0.5"/>
<circle cx="268.3" cy="244.9" r="2.2" fill="#169a16" stroke="#169a16" stroke-width="0.5"/>
<circle cx="271.65" cy="242.48" r="2.2" fill="#169a16" stroke="#169a16" stroke-width="0.5"/>
<circle cx="275" cy="245.23" r="2.2" fill="#169a16" stroke="#169a16" stroke-width="0.5"/>
<circle cx="278.35" cy="243.25" r="2.2" fill="#169a16" stroke="#169a16" stroke-width="0.5"/>
<circle cx="281.7" cy="242.94" r="2.2" fill="#169a16" stroke="#169a16" stroke-width="0.5"/>
<circle cx="285.05" cy="243.59" r="2.2" fill="#169a16" stroke="#169a16" stroke-width="0.5"/>
<circle cx="288.4" cy="242.75" r="2.2" fill="#169a16" stroke="#169a16" stroke-width="0.5"/>
<circle cx="291.75" cy="243.81" r="2.2" fill="#169a16" stroke="#169a16" stroke-width="0.5"/>
<circle cx="295.1" cy="243.43" r="2.2" fill="#169a16" stroke="#169a16" stroke-width="0.5"/>
<circle cx="298.45" cy="245.25" r="2.2" fill="#169a16" stroke="#169a16" stroke-width="0.5"/>
<circle cx="301.8" cy="245.71" r="2.2" fill="#169a16" stroke="#169a16" stroke-width="0.5"/>
<circle cx="305.15" cy="245.09" r="2.2" fill="#169a16" stroke="#169a16" stroke-width="0.5"/>
<circle cx="308.5" cy="244.5" r="2.2" fill="#169a16" stroke="#169a16" stroke-width="0.5"/>
<circle cx="311.85" cy="243.76" r="2.2" fill="#169a16" stroke="#169a16" stroke-width="0.5"/>
<circle cx="315.2" cy="246.04" r="2.2" fill="#169a16" stroke="#169a16" stroke-width="0.5"/>
<circle cx="318.55" cy="245.54" r="2.2" fill="#169a16" stroke="#169a16" stroke-width="0.5"/>
<circle cx="321.9" cy="245.77" r="2.2" fill="#169a16" stroke="#169a16" stroke-width="0.5"/>
<circle cx="325.25" cy="244.27" r="2.2" fill="#169a16" stroke="#169a16" stroke-width="0.5"/>
<circle cx="328.6" cy="245.72" r="2.2" fill="#169a16" stroke="#169a16" stroke-width="0.5"/>
<circle cx="331.95" cy="244.1" r="2.2" fill="#169a16" stroke="#169a16" stroke-width="0.5"/>
<circle cx="335.3" cy="245.66" r="2.2" fill="#169a16" stroke="#169a16" stroke-width="0.5"/>
<circle cx="338.65" cy="246.12" r="2.2" fill="#169a16" stroke="#169a16" stroke-width="0.5"/>
<circle cx="342" cy="246.17" r="2.2" fill="#169a16" stroke="#169a16" stroke-width="0.5"/>
<path d="M60.6,244.25 L63.95,246.41 L67.3,245.73 L70.65,246.08 L74,245.84 L77.35,243.41 L80.7,244.29 L84.05,243.96 L87.4,241.88 L90.75,239.67 L94.1,238.03 L97.45,234.43 L100.8,230.63 L104.15,221.41 L107.5,213.02 L110.85,205.56 L114.2,197.02 L117.55,190.44 L120.9,190.88 L124.25,194.29 L127.6,201.23 L130.95,208.45 L134.3,218.58 L137.65,225.65 L141,230.79 L144.35,234.18 L147.7,236.7 L151.05,238.27 L154.4,238.98 L157.75,241.36 L161.1,239.21 L164.45,237.14 L167.8,235.34 L171.15,233.05 L174.5,226.24 L177.85,218.19 L181.2,205.92 L184.55,190.55 L187.9,172.44 L191.25,153.01 L194.6,133.89 L197.95,118.29 L201.3,107.44 L204.65,113.03 L208,120.46 L211.35,136.06 L214.7,155.98 L218.05,177.07 L221.4,195.61 L224.75,210.96 L228.1,223.45 L231.45,231.71 L234.8,236.77 L238.15,240.1 L241.5,241.94 L244.85,243.97 L248.2,242.69 L251.55,243.69 L254.9,244.82 L258.25,246.08 L261.6,246.05 L264.95,245.39 L268.3,245.32 L271.65,246.11 L275,244.58 L278.35,246.77 L281.7,244.33 L285.05,247.32 L288.4,245.19 L291.75,246.91 L295.1,247.58 L298.45,246.32 L301.8,246.39 L305.15,246.38 L308.5,245.79 L311.85,246.77 L315.2,247.59 L318.55,246.5 L321.9,245.62 L325.25,246.06 L328.6,248.36 L331.95,247.89 L335.3,247.64 L338.65,247.62 L342,249.43" fill="none" stroke="#f5821f" stroke-width="1.25" stroke-linejoin="round"/>
<polygon points="63.24,244.25 58.75,241.52 58.75,246.98" fill="#f5821f" stroke="#f5821f" stroke-width="0.5"/>
<polygon points="66.59,246.41 62.1,243.68 62.1,249.14" fill="#f5821f" stroke="#f5821f" stroke-width="0.5"/>
<polygon points="69.94,245.73 65.45,243.01 65.45,248.46" fill="#f5821f" stroke="#f5821f" stroke-width="0.5"/>
<polygon points="73.29,246.08 68.8,243.35 68.8,248.81" fill="#f5821f" stroke="#f5821f" stroke-width="0.5"/>
<polygon points="76.64,245.84 72.15,243.11 72.15,248.57" fill="#f5821f" stroke="#f5821f" stroke-width="0.5"/>
<polygon points="79.99,243.41 75.5,240.68 75.5,246.14" fill="#f5821f" stroke="#f5821f" stroke-width="0.5"/>
<polygon points="83.34,244.29 78.85,241.57 78.85,247.02" fill="#f5821f" stroke="#f5821f" stroke-width="0.5"/>
<polygon points="86.69,243.96 82.2,241.23 82.2,246.69" fill="#f5821f" stroke="#f5821f" stroke-width="0.5"/>
<polygon points="90.04,241.88 85.55,239.15 85.55,244.61" fill="#f5821f" stroke="#f5821f" stroke-width="0.5"/>
<polygon points="93.39,239.67 88.9,236.94 88.9,242.4" fill="#f5821f" stroke="#f5821f" stroke-width="0.5"/>
<polygon points="96.74,238.03 92.25,235.3 92.25,240.76" fill="#f5821f" stroke="#f5821f" stroke-width="0.5"/>
<polygon points="100.09,234.43 95.6,231.7 95.6,237.16" fill="#f5821f" stroke="#f5821f" stroke-width="0.5"/>
<polygon points="103.44,230.63 98.95,227.9 98.95,233.35" fill="#f5821f" stroke="#f5821f" stroke-width="0.5"/>
<polygon points="106.79,221.41 102.3,218.69 102.3,224.14" fill="#f5821f" stroke="#f5821f" stroke-width="0.5"/>
<polygon points="110.14,213.02 105.65,210.29 105.65,215.75" fill="#f5821f" stroke="#f5821f" stroke-width="0.5"/>
<polygon points="113.49,205.56 109,202.83 109,208.29" fill="#f5821f" stroke="#f5821f" stroke-width="0.5"/>
<polygon points="116.84,197.02 112.35,194.29 112.35,199.75" fill="#f5821f" stroke="#f5821f" stroke-width="0.5"/>
<polygon points="120.19,190.44 115.7,187.71 115.7,193.16" fill="#f5821f" stroke="#f5821f" stroke-width="0.5"/>
<polygon points="123.54,190.88 119.05,188.15 119.05,193.6" fill="#f5821f" stroke="#f5821f" stroke-width="0.5"/>
<polygon points="126.89,194.29 122.4,191.56 122.4,197.02" fill="#f5821f" stroke="#f5821f" stroke-width="0.5"/>
<polygon points="130.24,201.23 125.75,198.5 125.75,203.96" fill="#f5821f" stroke="#f5821f" stroke-width="0.5"/>
<polygon points="133.59,208.45 129.1,205.73 129.1,211.18" fill="#f5821f" stroke="#f5821f" stroke-width="0.5"/>
<polygon points="136.94,218.58 132.45,215.86 132.45,221.31" fill="#f5821f" stroke="#f5821f" stroke-width="0.5"/>
<polygon points="140.29,225.65 135.8,222.93 135.8,228.38" fill="#f5821f" stroke="#f5821f" stroke-width="0.5"/>
<polygon points="143.64,230.79 139.15,228.06 139.15,233.52" fill="#f5821f" stroke="#f5821f" stroke-width="0.5"/>
<polygon points="146.99,234.18 142.5,231.45 142.5,236.91" fill="#f5821f" stroke="#f5821f" stroke-width="0.5"/>
<polygon points="150.34,236.7 145.85,233.97 145.85,239.42" fill="#f5821f" stroke="#f5821f" stroke-width="0.5"/>
<polygon points="153.69,238.27 149.2,235.55 149.2,241" fill="#f5821f" stroke="#f5821f" stroke-width="0.5"/>
<polygon points="157.04,238.98 152.55,236.25 152.55,241.71" fill="#f5821f" stroke="#f5821f" stroke-width="0.5"/>
<polygon points="160.39,241.36 155.9,238.63 155.9,244.09" fill="#f5821f" stroke="#f5821f" stroke-width="0.5"/>
<polygon points="163.74,239.21 159.25,236.49 159.25,241.94" fill="#f5821f" stroke="#f5821f" stroke-width="0.5"/>
<polygon points="167.09,237.14 162.6,234.41 162.6,239.87" fill="#f5821f" stroke="#f5821f" stroke-width="0.5"/>
<polygon points="170.44,235.34 165.95,232.61 165.95,238.07" fill="#f5821f" stroke="#f5821f" stroke-width="0.5"/>
<polygon points="173.79,233.05 169.3,230.32 169.3,235.78" fill="#f5821f" stroke="#f5821f" stroke-width="0.5"/>
<polygon points="177.14,226.24 172.65,223.51 172.65,228.96" fill="#f5821f" stroke="#f5821f" stroke-width="0.5"/>
<polygon points="180.49,218.19 176,215.46 176,220.92" fill="#f5821f" stroke="#f5821f" stroke-width="0.5"/>
<polygon points="183.84,205.92 179.35,203.2 179.35,208.65" fill="#f5821f" stroke="#f5821f" stroke-width="0.5"/>
<polygon points="187.19,190.55 182.7,187.83 182.7,193.28" fill="#f5821f" stroke="#f5821f" stroke-width="0.5"/>
<polygon points="190.54,172.44 186.05,169.71 186.05,175.17" fill="#f5821f" stroke="#f5821f" stroke-width="0.5"/>
<polygon points="193.89,153.01 189.4,150.28 189.4,155.74" fill="#f5821f" stroke="#f5821f" stroke-width="0.5"/>
<polygon points="197.24,133.89 192.75,131.16 192.75,136.62" fill="#f5821f" stroke="#f5821f" stroke-width="0.5"/>
<polygon points="200.59,118.29 196.1,115.56 196.1,121.02" fill="#f5821f" stroke="#f5821f" stroke-width="0.5"/>
<polygon points="203.94,107.44 199.45,104.71 199.45,110.17" fill="#f5821f" stroke="#f5821f" stroke-width="0.5"/>
<polygon points="207.29,113.03 202.8,110.3 202.8,115.75" fill="#f5821f" stroke="#f5821f" stroke-width="0.5"/>
<polygon points="210.64,120.46 206.15,117.73 206.15,123.18" fill="#f5821f" stroke="#f5821f" stroke-width="0.5"/>
<polygon points="213.99,136.06 209.5,133.33 209.5,138.79" fill="#f5821f" stroke="#f5821f" stroke-width="0.5"/>
<polygon points="217.34,155.98 212.85,153.26 212.85,158.71" fill="#f5821f" stroke="#f5821f" stroke-width="0.5"/>
<polygon points="220.69,177.07 216.2,174.35 216.2,179.8" fill="#f5821f" stroke="#f5821f" stroke-width="0.5"/>
<polygon points="224.04,195.61 219.55,192.88 219.55,198.34" fill="#f5821f" stroke="#f5821f" stroke-width="0.5"/>
<polygon points="227.39,210.96 222.9,208.23 222.9,213.69" fill="#f5821f" stroke="#f5821f" stroke-width="0.5"/>
<polygon points="230.74,223.45 226.25,220.72 226.25,226.18" fill="#f5821f" stroke="#f5821f" stroke-width="0.5"/>
<polygon points="234.09,231.71 229.6,228.98 229.6,234.44" fill="#f5821f" stroke="#f5821f" stroke-width="0.5"/>
<polygon points="237.44,236.77 232.95,234.04 232.95,239.5" fill="#f5821f" stroke="#f5821f" stroke-width="0.5"/>
<polygon points="240.79,240.1 236.3,237.37 236.3,242.83" fill="#f5821f" stroke="#f5821f" stroke-width="0.5"/>
<polygon points="244.14,241.94 239.65,239.21 239.65,244.66" fill="#f5821f" stroke="#f5821f" stroke-width="0.5"/>
<polygon points="247.49,243.97 243,241.24 243,246.7" fill="#f5821f" stroke="#f5821f" stroke-width="0.5"/>
<polygon points="250.84,242.69 246.35,239.96 246.35,245.42" fill="#f5821f" stroke="#f5821f" stroke-width="0.5"/>
<polygon points="254.19,243.69 249.7,240.96 249.7,246.42" fill="#f5821f" stroke="#f5821f" stroke-width="0.5"/>
<polygon points="257.54,244.82 253.05,242.09 253.05,247.55" fill="#f5821f" stroke="#f5821f" stroke-width="0.5"/>
<polygon points="260.89,246.08 256.4,243.35 256.4,248.81" fill="#f5821f" stroke="#f5821f" stroke-width="0.5"/>
<polygon points="264.24,246.05 259.75,243.32 259.75,248.77" fill="#f5821f" stroke="#f5821f" stroke-width="0.5"/>
<polygon points="267.59,245.39 263.1,242.66 263.1,248.12" fill="#f5821f" stroke="#f5821f" stroke-width="0.5"/>
<polygon points="270.94,245.32 266.45,242.6 266.45,248.05" fill="#f5821f" stroke="#f5821f" stroke-width="0.5"/>
<polygon points="274.29,246.11 269.8,243.39 269.8,248.84" fill="#f5821f" stroke="#f5821f" stroke-width="0.5"/>
<polygon points="277.64,244.58 273.15,241.85 273.15,247.3" fill="#f5821f" stroke="#f5821f" stroke-width="0.5"/>
<polygon points="280.99,246.77 276.5,244.04 276.5,249.5" fill="#f5821f" stroke="#f5821f" stroke-width="0.5"/>
<polygon points="284.34,244.33 279.85,241.6 279.85,247.05" fill="#f5821f" stroke="#f5821f" stroke-width="0.5"/>
<polygon points="287.69,247.32 283.2,244.59 283.2,250.05" fill="#f5821f" stroke="#f5821f" stroke-width="0.5"/>
<polygon points="291.04,245.19 286.55,242.46 286.55,247.92" fill="#f5821f" stroke="#f5821f" stroke-width="0.5"/>
<polygon points="294.39,246.91 289.9,244.19 289.9,249.64" fill="#f5821f" stroke="#f5821f" stroke-width="0.5"/>
<polygon points="297.74,247.58 293.25,244.85 293.25,250.31" fill="#f5821f" stroke="#f5821f" stroke-width="0.5"/>
<polygon points="301.09,246.32 296.6,243.59 296.6,249.05" fill="#f5821f" stroke="#f5821f" stroke-width="0.5"/>
<polygon points="304.44,246.39 299.95,243.66 299.95,249.12" fill="#f5821f" stroke="#f5821f" stroke-width="0.5"/>
<polygon points="307.79,246.38 303.3,243.65 303.3,249.11" fill="#f5821f" stroke="#f5821f" stroke-width="0.5"/>
<polygon points="311.14,245.79 306.65,243.07 306.65,248.52" fill="#f5821f" stroke="#f5821f" stroke-width="0.5"/>
<polygon points="314.49,246.77 310,244.04 310,249.49" fill="#f5821f" stroke="#f5821f" stroke-width="0.5"/>
<polygon points="317.84,247.59 313.35,244.86 313.35,250.32" fill="#f5821f" stroke="#f5821f" stroke-width="0.5"/>
<polygon points="321.19,246.5 316.7,243.77 316.7,249.23" fill="#f5821f" stroke="#f5821f" stroke-width="0.5"/>
<polygon points="324.54,245.62 320.05,242.89 320.05,248.35" fill="#f5821f" stroke="#f5821f" stroke-width="0.5"/>
<polygon points="327.89,246.06 323.4,243.33 323.4,248.78" fill="#f5821f" stroke="#f5821f" stroke-width="0.5"/>
<polygon points="331.24,248.36 326.75,245.63 326.75,251.08" fill="#f5821f" stroke="#f5821f" stroke-width="0.5"/>
<polygon points="334.59,247.89 330.1,245.16 330.1,250.61" fill="#f5821f" stroke="#f5821f" stroke-width="0.5"/>
<polygon points="337.94,247.64 333.45,244.91 333.45,250.37" fill="#f5821f" stroke="#f5821f" stroke-width="0.5"/>
<polygon points="341.29,247.62 336.8,244.89 336.8,250.35" fill="#f5821f" stroke="#f5821f" stroke-width="0.5"/>
<polygon points="344.64,249.43 340.15,246.7 340.15,252.15" fill="#f5821f" stroke="#f5821f" stroke-width="0.5"/>
<path d="M60.6,246.7 L63.95,247.71 L67.3,246.2 L70.65,248.85 L74,246.88 L77.35,244.39 L80.7,245.89 L84.05,244.67 L87.4,245.56 L90.75,242.47 L94.1,241.69 L97.45,239.63 L100.8,238.55 L104.15,234.29 L107.5,231.53 L110.85,225.91 L114.2,224.42 L117.55,219.42 L120.9,218.7 L124.25,221.13 L127.6,222.54 L130.95,227.87 L134.3,229.94 L137.65,235.51 L141,238.34 L144.35,239.42 L147.7,236.94 L151.05,242.24 L154.4,241 L157.75,240.61 L161.1,238.67 L164.45,239.31 L167.8,233.06 L171.15,232.04 L174.5,220.9 L177.85,211.03 L181.2,195.59 L184.55,172.88 L187.9,150.31 L191.25,121.96 L194.6,98.02 L197.95,78.46 L201.3,68.21 L204.65,68.36 L208,79.18 L211.35,102.55 L214.7,126.85 L218.05,155.76 L221.4,178.99 L224.75,199.35 L228.1,215.69 L231.45,225.58 L234.8,233.06 L238.15,237.39 L241.5,241.97 L244.85,241.45 L248.2,240.71 L251.55,244.79 L254.9,243.34 L258.25,243.49 L261.6,243.46 L264.95,243.42 L268.3,243.29 L271.65,244.63 L275,244.29 L278.35,245.28 L281.7,245.98 L285.05,245.39 L288.4,244.74 L291.75,244.94 L295.1,245.31 L298.45,245.47 L301.8,244.1 L305.15,245.06 L308.5,244.91 L311.85,242.89 L315.2,245.52 L318.55,245.04 L321.9,244.69 L325.25,247.49 L328.6,246.05 L331.95,245.5 L335.3,245 L338.65,246.33 L342,245.72" fill="none" stroke="#d3000c" stroke-width="1.25" stroke-linejoin="round"/>
<polygon points="60.6,243.7 63.24,246.7 60.6,249.69 57.96,246.7" fill="#d3000c" stroke="#d3000c" stroke-width="0.5"/>
<polygon points="63.95,244.71 66.59,247.71 63.95,250.7 61.31,247.71" fill="#d3000c" stroke="#d3000c" stroke-width="0.5"/>
<polygon points="67.3,243.21 69.94,246.2 67.3,249.19 64.66,246.2" fill="#d3000c" stroke="#d3000c" stroke-width="0.5"/>
<polygon points="70.65,245.86 73.29,248.85 70.65,251.85 68.01,248.85" fill="#d3000c" stroke="#d3000c" stroke-width="0.5"/>
<polygon points="74,243.88 76.64,246.88 74,249.87 71.36,246.88" fill="#d3000c" stroke="#d3000c" stroke-width="0.5"/>
<polygon points="77.35,241.4 79.99,244.39 77.35,247.38 74.71,244.39" fill="#d3000c" stroke="#d3000c" stroke-width="0.5"/>
<polygon points="80.7,242.9 83.34,245.89 80.7,248.88 78.06,245.89" fill="#d3000c" stroke="#d3000c" stroke-width="0.5"/>
<polygon points="84.05,241.68 86.69,244.67 84.05,247.66 81.41,244.67" fill="#d3000c" stroke="#d3000c" stroke-width="0.5"/>
<polygon points="87.4,242.57 90.04,245.56 87.4,248.55 84.76,245.56" fill="#d3000c" stroke="#d3000c" stroke-width="0.5"/>
<polygon points="90.75,239.48 93.39,242.47 90.75,245.46 88.11,242.47" fill="#d3000c" stroke="#d3000c" stroke-width="0.5"/>
<polygon points="94.1,238.69 96.74,241.69 94.1,244.68 91.46,241.69" fill="#d3000c" stroke="#d3000c" stroke-width="0.5"/>
<polygon points="97.45,236.63 100.09,239.63 97.45,242.62 94.81,239.63" fill="#d3000c" stroke="#d3000c" stroke-width="0.5"/>
<polygon points="100.8,235.56 103.44,238.55 100.8,241.54 98.16,238.55" fill="#d3000c" stroke="#d3000c" stroke-width="0.5"/>
<polygon points="104.15,231.3 106.79,234.29 104.15,237.28 101.51,234.29" fill="#d3000c" stroke="#d3000c" stroke-width="0.5"/>
<polygon points="107.5,228.54 110.14,231.53 107.5,234.52 104.86,231.53" fill="#d3000c" stroke="#d3000c" stroke-width="0.5"/>
<polygon points="110.85,222.92 113.49,225.91 110.85,228.9 108.21,225.91" fill="#d3000c" stroke="#d3000c" stroke-width="0.5"/>
<polygon points="114.2,221.43 116.84,224.42 114.2,227.41 111.56,224.42" fill="#d3000c" stroke="#d3000c" stroke-width="0.5"/>
<polygon points="117.55,216.42 120.19,219.42 117.55,222.41 114.91,219.42" fill="#d3000c" stroke="#d3000c" stroke-width="0.5"/>
<polygon points="120.9,215.71 123.54,218.7 120.9,221.69 118.26,218.7" fill="#d3000c" stroke="#d3000c" stroke-width="0.5"/>
<polygon points="124.25,218.14 126.89,221.13 124.25,224.12 121.61,221.13" fill="#d3000c" stroke="#d3000c" stroke-width="0.5"/>
<polygon points="127.6,219.55 130.24,222.54 127.6,225.53 124.96,222.54" fill="#d3000c" stroke="#d3000c" stroke-width="0.5"/>
<polygon points="130.95,224.88 133.59,227.87 130.95,230.86 128.31,227.87" fill="#d3000c" stroke="#d3000c" stroke-width="0.5"/>
<polygon points="134.3,226.95 136.94,229.94 134.3,232.93 131.66,229.94" fill="#d3000c" stroke="#d3000c" stroke-width="0.5"/>
<polygon points="137.65,232.52 140.29,235.51 137.65,238.5 135.01,235.51" fill="#d3000c" stroke="#d3000c" stroke-width="0.5"/>
<polygon points="141,235.35 143.64,238.34 141,241.33 138.36,238.34" fill="#d3000c" stroke="#d3000c" stroke-width="0.5"/>
<polygon points="144.35,236.43 146.99,239.42 144.35,242.41 141.71,239.42" fill="#d3000c" stroke="#d3000c" stroke-width="0.5"/>
<polygon points="147.7,233.95 150.34,236.94 147.7,239.93 145.06,236.94" fill="#d3000c" stroke="#d3000c" stroke-width="0.5"/>
<polygon points="151.05,239.25 153.69,242.24 151.05,245.23 148.41,242.24" fill="#d3000c" stroke="#d3000c" stroke-width="0.5"/>
<polygon points="154.4,238.01 157.04,241 154.4,243.99 151.76,241" fill="#d3000c" stroke="#d3000c" stroke-width="0.5"/>
<polygon points="157.75,237.61 160.39,240.61 157.75,243.6 155.11,240.61" fill="#d3000c" stroke="#d3000c" stroke-width="0.5"/>
<polygon points="161.1,235.68 163.74,238.67 161.1,241.66 158.46,238.67" fill="#d3000c" stroke="#d3000c" stroke-width="0.5"/>
<polygon points="164.45,236.32 167.09,239.31 164.45,242.31 161.81,239.31" fill="#d3000c" stroke="#d3000c" stroke-width="0.5"/>
<polygon points="167.8,230.07 170.44,233.06 167.8,236.05 165.16,233.06" fill="#d3000c" stroke="#d3000c" stroke-width="0.5"/>
<polygon points="171.15,229.05 173.79,232.04 171.15,235.04 168.51,232.04" fill="#d3000c" stroke="#d3000c" stroke-width="0.5"/>
<polygon points="174.5,217.91 177.14,220.9 174.5,223.89 171.86,220.9" fill="#d3000c" stroke="#d3000c" stroke-width="0.5"/>
<polygon points="177.85,208.04 180.49,211.03 177.85,214.03 175.21,211.03" fill="#d3000c" stroke="#d3000c" stroke-width="0.5"/>
<polygon points="181.2,192.6 183.84,195.59 181.2,198.58 178.56,195.59" fill="#d3000c" stroke="#d3000c" stroke-width="0.5"/>
<polygon points="184.55,169.89 187.19,172.88 184.55,175.87 181.91,172.88" fill="#d3000c" stroke="#d3000c" stroke-width="0.5"/>
<polygon points="187.9,147.32 190.54,150.31 187.9,153.3 185.26,150.31" fill="#d3000c" stroke="#d3000c" stroke-width="0.5"/>
<polygon points="191.25,118.97 193.89,121.96 191.25,124.95 188.61,121.96" fill="#d3000c" stroke="#d3000c" stroke-width="0.5"/>
<polygon points="194.6,95.03 197.24,98.02 194.6,101.01 191.96,98.02" fill="#d3000c" stroke="#d3000c" stroke-width="0.5"/>
<polygon points="197.95,75.47 200.59,78.46 197.95,81.45 195.31,78.46" fill="#d3000c" stroke="#d3000c" stroke-width="0.5"/>
<polygon points="201.3,65.22 203.94,68.21 201.3,71.2 198.66,68.21" fill="#d3000c" stroke="#d3000c" stroke-width="0.5"/>
<polygon points="204.65,65.37 207.29,68.36 204.65,71.35 202.01,68.36" fill="#d3000c" stroke="#d3000c" stroke-width="0.5"/>
<polygon points="208,76.18 210.64,79.18 208,82.17 205.36,79.18" fill="#d3000c" stroke="#d3000c" stroke-width="0.5"/>
<polygon points="211.35,99.56 213.99,102.55 211.35,105.54 208.71,102.55" fill="#d3000c" stroke="#d3000c" stroke-width="0.5"/>
<polygon points="214.7,123.86 217.34,126.85 214.7,129.84 212.06,126.85" fill="#d3000c" stroke="#d3000c" stroke-width="0.5"/>
<polygon points="218.05,152.77 220.69,155.76 218.05,158.75 215.41,155.76" fill="#d3000c" stroke="#d3000c" stroke-width="0.5"/>
<polygon points="221.4,176 224.04,178.99 221.4,181.98 218.76,178.99" fill="#d3000c" stroke="#d3000c" stroke-width="0.5"/>
<polygon points="224.75,196.36 227.39,199.35 224.75,202.34 222.11,199.35" fill="#d3000c" stroke="#d3000c" stroke-width="0.5"/>
<polygon points="228.1,212.7 230.74,215.69 228.1,218.68 225.46,215.69" fill="#d3000c" stroke="#d3000c" stroke-width="0.5"/>
<polygon points="231.45,222.59 234.09,225.58 231.45,228.57 228.81,225.58" fill="#d3000c" stroke="#d3000c" stroke-width="0.5"/>
<polygon points="234.8,230.07 237.44,233.06 234.8,236.05 232.16,233.06" fill="#d3000c" stroke="#d3000c" stroke-width="0.5"/>
<polygon points="238.15,234.4 240.79,237.39 238.15,240.38 235.51,237.39" fill="#d3000c" stroke="#d3000c" stroke-width="0.5"/>
<polygon points="241.5,238.97 244.14,241.97 241.5,244.96 238.86,241.97" fill="#d3000c" stroke="#d3000c" stroke-width="0.5"/>
<polygon points="244.85,238.46 247.49,241.45 244.85,244.45 242.21,241.45" fill="#d3000c" stroke="#d3000c" stroke-width="0.5"/>
<polygon points="248.2,237.72 250.84,240.71 248.2,243.71 245.56,240.71" fill="#d3000c" stroke="#d3000c" stroke-width="0.5"/>
<polygon points="251.55,241.8 254.19,244.79 251.55,247.78 248.91,244.79" fill="#d3000c" stroke="#d3000c" stroke-width="0.5"/>
<polygon points="254.9,240.34 257.54,243.34 254.9,246.33 252.26,243.34" fill="#d3000c" stroke="#d3000c" stroke-width="0.5"/>
<polygon points="258.25,240.5 260.89,243.49 258.25,246.48 255.61,243.49" fill="#d3000c" stroke="#d3000c" stroke-width="0.5"/>
<polygon points="261.6,240.47 264.24,243.46 261.6,246.45 258.96,243.46" fill="#d3000c" stroke="#d3000c" stroke-width="0.5"/>
<polygon points="264.95,240.43 267.59,243.42 264.95,246.42 262.31,243.42" fill="#d3000c" stroke="#d3000c" stroke-width="0.5"/>
<polygon points="268.3,240.3 270.94,243.29 268.3,246.29 265.66,243.29" fill="#d3000c" stroke="#d3000c" stroke-width="0.5"/>
<polygon points="271.65,241.64 274.29,244.63 271.65,247.62 269.01,244.63" fill="#d3000c" stroke="#d3000c" stroke-width="0.5"/>
<polygon points="275,241.3 277.64,244.29 275,247.29 272.36,244.29" fill="#d3000c" stroke="#d3000c" stroke-width="0.5"/>
<polygon points="278.35,242.29 280.99,245.28 278.35,248.27 275.71,245.28" fill="#d3000c" stroke="#d3000c" stroke-width="0.5"/>
<polygon points="281.7,242.99 284.34,245.98 281.7,248.97 279.06,245.98" fill="#d3000c" stroke="#d3000c" stroke-width="0.5"/>
<polygon points="285.05,242.4 287.69,245.39 285.05,248.38 282.41,245.39" fill="#d3000c" stroke="#d3000c" stroke-width="0.5"/>
<polygon points="288.4,241.74 291.04,244.74 288.4,247.73 285.76,244.74" fill="#d3000c" stroke="#d3000c" stroke-width="0.5"/>
<polygon points="291.75,241.94 294.39,244.94 291.75,247.93 289.11,244.94" fill="#d3000c" stroke="#d3000c" stroke-width="0.5"/>
<polygon points="295.1,242.31 297.74,245.31 295.1,248.3 292.46,245.31" fill="#d3000c" stroke="#d3000c" stroke-width="0.5"/>
<polygon points="298.45,242.48 301.09,245.47 298.45,248.46 295.81,245.47" fill="#d3000c" stroke="#d3000c" stroke-width="0.5"/>
<polygon points="301.8,241.11 304.44,244.1 301.8,247.1 299.16,244.1" fill="#d3000c" stroke="#d3000c" stroke-width="0.5"/>
<polygon points="305.15,242.07 307.79,245.06 305.15,248.05 302.51,245.06" fill="#d3000c" stroke="#d3000c" stroke-width="0.5"/>
<polygon points="308.5,241.92 311.14,244.91 308.5,247.9 305.86,244.91" fill="#d3000c" stroke="#d3000c" stroke-width="0.5"/>
<polygon points="311.85,239.9 314.49,242.89 311.85,245.89 309.21,242.89" fill="#d3000c" stroke="#d3000c" stroke-width="0.5"/>
<polygon points="315.2,242.53 317.84,245.52 315.2,248.52 312.56,245.52" fill="#d3000c" stroke="#d3000c" stroke-width="0.5"/>
<polygon points="318.55,242.05 321.19,245.04 318.55,248.03 315.91,245.04" fill="#d3000c" stroke="#d3000c" stroke-width="0.5"/>
<polygon points="321.9,241.7 324.54,244.69 321.9,247.68 319.26,244.69" fill="#d3000c" stroke="#d3000c" stroke-width="0.5"/>
<polygon points="325.25,244.5 327.89,247.49 325.25,250.48 322.61,247.49" fill="#d3000c" stroke="#d3000c" stroke-width="0.5"/>
<polygon points="328.6,243.06 331.24,246.05 328.6,249.04 325.96,246.05" fill="#d3000c" stroke="#d3000c" stroke-width="0.5"/>
<polygon points="331.95,242.51 334.59,245.5 331.95,248.49 329.31,245.5" fill="#d3000c" stroke="#d3000c" stroke-width="0.5"/>
<polygon points="335.3,242.01 337.94,245 335.3,248 332.66,245" fill="#d3000c" stroke="#d3000c" stroke-width="0.5"/>
<polygon points="338.65,243.34 341.29,246.33 338.65,249.32 336.01,246.33" fill="#d3000c" stroke="#d3000c" stroke-width="0.5"/>
<polygon points="342,242.73 344.64,245.72 342,248.72 339.36,245.72" fill="#d3000c" stroke="#d3000c" stroke-width="0.5"/>
</g>
<rect x="61" y="23.5" width="281" height="233.5" fill="none" stroke="#404040" stroke-width="1.2"/>
<line x1="107.5" y1="257" x2="107.5" y2="254" stroke="#404040" stroke-width="1"/>
<line x1="107.5" y1="23.5" x2="107.5" y2="26.5" stroke="#404040" stroke-width="1"/>
<line x1="174.5" y1="257" x2="174.5" y2="254" stroke="#404040" stroke-width="1"/>
<line x1="174.5" y1="23.5" x2="174.5" y2="26.5" stroke="#404040" stroke-width="1"/>
<line x1="241.5" y1="257" x2="241.5" y2="254" stroke="#404040" stroke-width="1"/>
<line x1="241.5" y1="23.5" x2="241.5" y2="26.5" stroke="#404040" stroke-width="1"/>
<line x1="308.5" y1="257" x2="308.5" y2="254" stroke="#404040" stroke-width="1"/>
<line x1="308.5" y1="23.5" x2="308.5" y2="26.5" stroke="#404040" stroke-width="1"/>
<line x1="61" y1="233" x2="64" y2="233" stroke="#404040" stroke-width="1"/>
<line x1="342" y1="233" x2="339" y2="233" stroke="#404040" stroke-width="1"/>
<line x1="61" y1="163.2" x2="64" y2="163.2" stroke="#404040" stroke-width="1"/>
<line x1="342" y1="163.2" x2="339" y2="163.2" stroke="#404040" stroke-width="1"/>
<line x1="61" y1="93.4" x2="64" y2="93.4" stroke="#404040" stroke-width="1"/>
<line x1="342" y1="93.4" x2="339" y2="93.4" stroke="#404040" stroke-width="1"/>
<text x="99.78" y="271.6" font-size="15">24</text>
<text x="166.96" y="271.6" font-size="15">25</text>
<text x="233.89" y="271.6" font-size="15">26</text>
<text x="300.89" y="271.6" font-size="15">27</text>
<text x="44.5" y="236.5" font-size="15">40</text>
<text x="44.5" y="166.7" font-size="15">60</text>
<text x="44.5" y="96.9" font-size="15">80</text>
<text x="37" y="27.1" font-size="15">100</text>
<text x="-0.49" y="0" font-size="16.2" textLength="164.87" lengthAdjust="spacingAndGlyphs" transform="translate(33.7,221.7) rotate(-90)">Normalized Intensity / %</text>
<text x="111.83" y="289.3" font-size="16.2" textLength="178.31" lengthAdjust="spacingAndGlyphs">Selected Angular Range / °</text>
<text x="0.41" y="12.6" font-size="17">a)</text>
<text x="66.69" y="39.5" font-size="11" textLength="132" lengthAdjust="spacingAndGlyphs">100% SoC (lithiated anode)</text>
<text x="97.29" y="62.8" font-size="11" textLength="16.09" lengthAdjust="spacingAndGlyphs">LiC</text>
<text x="113.19" y="65.5" font-size="6.6" textLength="5.12" lengthAdjust="spacingAndGlyphs">6</text>
<text x="121.09" y="62.8" font-size="11" textLength="24.79" lengthAdjust="spacingAndGlyphs">(001)</text>
<text x="175.76" y="56.3" font-size="11" textLength="17.46" lengthAdjust="spacingAndGlyphs">LiC</text>
<text x="192.74" y="58.8" font-size="6.6" textLength="7.79" lengthAdjust="spacingAndGlyphs">12</text>
<text x="203.58" y="56.3" font-size="11" textLength="24.99" lengthAdjust="spacingAndGlyphs">(002)</text>
<text x="238.06" y="89.5" font-size="11" textLength="71.26" lengthAdjust="spacingAndGlyphs">Test procedure</text>
<line x1="237.1" y1="102.1" x2="267.6" y2="102.1" stroke="#d3000c" stroke-width="1.4"/>
<polygon points="252.6,99.65 254.76,102.1 252.6,104.55 250.44,102.1" fill="#d3000c" stroke="#d3000c" stroke-width="0.5"/>
<text x="271.83" y="106.6" font-size="10.8" textLength="13.7" lengthAdjust="spacingAndGlyphs">#1</text>
<text x="287.59" y="106.6" font-size="6.5" textLength="49.9" lengthAdjust="spacingAndGlyphs">(nonlinearly aged)</text>
<line x1="237.1" y1="118.7" x2="267.6" y2="118.7" stroke="#f5821f" stroke-width="1.4"/>
<polygon points="254.76,118.7 251.09,116.47 251.09,120.93" fill="#f5821f" stroke="#f5821f" stroke-width="0.5"/>
<text x="271.83" y="123.2" font-size="10.8" textLength="13.62" lengthAdjust="spacingAndGlyphs">#2</text>
<text x="287.59" y="123.2" font-size="6.5" textLength="49.9" lengthAdjust="spacingAndGlyphs">(nonlinearly aged)</text>
<line x1="237.1" y1="135.2" x2="267.6" y2="135.2" stroke="#169a16" stroke-width="1.4"/>
<circle cx="252.6" cy="135.2" r="1.8" fill="#169a16" stroke="#169a16" stroke-width="0.5"/>
<text x="271.83" y="139.7" font-size="10.8" textLength="13.4" lengthAdjust="spacingAndGlyphs">#3</text>
<text x="287.6" y="139.7" font-size="6.5" textLength="39.7" lengthAdjust="spacingAndGlyphs">(linearly aged)</text>
<line x1="237.1" y1="151.9" x2="267.6" y2="151.9" stroke="#1f55ff" stroke-width="1.4"/>
<polygon points="252.6,149.74 254.83,153.41 250.37,153.41" fill="#1f55ff" stroke="#1f55ff" stroke-width="0.5"/>
<text x="271.84" y="156.4" font-size="10.8" textLength="13.06" lengthAdjust="spacingAndGlyphs">#4</text>
<text x="287.6" y="156.4" font-size="6.5" textLength="39.7" lengthAdjust="spacingAndGlyphs">(linearly aged)</text>
<line x1="237.1" y1="168.6" x2="267.6" y2="168.6" stroke="#f5821f" stroke-width="1.4"/>
<rect x="250.98" y="166.98" width="3.24" height="3.24" fill="#f5821f" stroke="#f5821f" stroke-width="0.5"/>
<text x="271.83" y="173.1" font-size="10.8" textLength="13.62" lengthAdjust="spacingAndGlyphs">#2</text>
<text x="287.6" y="173.1" font-size="6.5" textLength="39.7" lengthAdjust="spacingAndGlyphs">(linearly aged)</text>
<line x1="237.1" y1="185.4" x2="267.6" y2="185.4" stroke="#6c129e" stroke-width="1.4"/>
<polygon points="252.6,187.56 254.83,183.89 250.37,183.89" fill="#6c129e" stroke="#6c129e" stroke-width="0.5"/>
<text x="272.13" y="189.6" font-size="11" textLength="39.87" lengthAdjust="spacingAndGlyphs">uncycled</text>
<g clip-path="url(#cb)">
<path d="M411.73,139.24 L413.85,149.48 L415.98,145.56 L418.1,137.71 L420.22,146.52 L422.35,151.92 L424.48,140.86 L426.6,142.81 L428.72,146.94 L430.85,141.23 L432.98,131.32 L435.1,134.12 L437.23,120.23 L439.35,92.15 L441.47,82.66 L443.6,74.07 L445.73,71.4 L447.85,74.51 L449.97,78.73 L452.1,85.82 L454.23,105.7 L456.35,105.96 L458.48,117.8 L460.6,129.07 L462.72,138.46 L464.85,143.5 L466.98,147.94 L469.1,141.85 L471.22,149.78 L473.35,129.89 L475.48,146.21 L477.6,137.2 L479.73,132.56 L481.85,153.06 L483.97,141.96 L486.1,146.39 L488.23,155.5 L490.35,162.75 L492.47,143.89" fill="none" stroke="#6c129e" stroke-width="1.3" stroke-linejoin="round"/>
<polygon points="411.73,141.82 414.39,137.44 409.06,137.44" fill="#6c129e" stroke="#6c129e" stroke-width="0.5"/>
<polygon points="413.85,152.06 416.52,147.67 411.18,147.67" fill="#6c129e" stroke="#6c129e" stroke-width="0.5"/>
<polygon points="415.98,148.14 418.64,143.75 413.31,143.75" fill="#6c129e" stroke="#6c129e" stroke-width="0.5"/>
<polygon points="418.1,140.29 420.77,135.9 415.43,135.9" fill="#6c129e" stroke="#6c129e" stroke-width="0.5"/>
<polygon points="420.22,149.1 422.89,144.71 417.56,144.71" fill="#6c129e" stroke="#6c129e" stroke-width="0.5"/>
<polygon points="422.35,154.5 425.02,150.11 419.68,150.11" fill="#6c129e" stroke="#6c129e" stroke-width="0.5"/>
<polygon points="424.48,143.44 427.14,139.05 421.81,139.05" fill="#6c129e" stroke="#6c129e" stroke-width="0.5"/>
<polygon points="426.6,145.39 429.27,141 423.93,141" fill="#6c129e" stroke="#6c129e" stroke-width="0.5"/>
<polygon points="428.72,149.52 431.39,145.13 426.06,145.13" fill="#6c129e" stroke="#6c129e" stroke-width="0.5"/>
<polygon points="430.85,143.81 433.52,139.42 428.18,139.42" fill="#6c129e" stroke="#6c129e" stroke-width="0.5"/>
<polygon points="432.98,133.9 435.64,129.51 430.31,129.51" fill="#6c129e" stroke="#6c129e" stroke-width="0.5"/>
<polygon points="435.1,136.7 437.77,132.31 432.43,132.31" fill="#6c129e" stroke="#6c129e" stroke-width="0.5"/>
<polygon points="437.23,122.81 439.89,118.42 434.56,118.42" fill="#6c129e" stroke="#6c129e" stroke-width="0.5"/>
<polygon points="439.35,94.73 442.02,90.34 436.68,90.34" fill="#6c129e" stroke="#6c129e" stroke-width="0.5"/>
<polygon points="441.47,85.24 444.14,80.85 438.81,80.85" fill="#6c129e" stroke="#6c129e" stroke-width="0.5"/>
<polygon points="443.6,76.65 446.27,72.26 440.93,72.26" fill="#6c129e" stroke="#6c129e" stroke-width="0.5"/>
<polygon points="445.73,73.98 448.39,69.59 443.06,69.59" fill="#6c129e" stroke="#6c129e" stroke-width="0.5"/>
<polygon points="447.85,77.09 450.52,72.7 445.18,72.7" fill="#6c129e" stroke="#6c129e" stroke-width="0.5"/>
<polygon points="449.97,81.31 452.64,76.92 447.31,76.92" fill="#6c129e" stroke="#6c129e" stroke-width="0.5"/>
<polygon points="452.1,88.4 454.77,84.02 449.43,84.02" fill="#6c129e" stroke="#6c129e" stroke-width="0.5"/>
<polygon points="454.23,108.28 456.89,103.9 451.56,103.9" fill="#6c129e" stroke="#6c129e" stroke-width="0.5"/>
<polygon points="456.35,108.54 459.02,104.15 453.68,104.15" fill="#6c129e" stroke="#6c129e" stroke-width="0.5"/>
<polygon points="458.48,120.38 461.14,115.99 455.81,115.99" fill="#6c129e" stroke="#6c129e" stroke-width="0.5"/>
<polygon points="460.6,131.65 463.27,127.26 457.93,127.26" fill="#6c129e" stroke="#6c129e" stroke-width="0.5"/>
<polygon points="462.72,141.04 465.39,136.66 460.06,136.66" fill="#6c129e" stroke="#6c129e" stroke-width="0.5"/>
<polygon points="464.85,146.08 467.52,141.69 462.18,141.69" fill="#6c129e" stroke="#6c129e" stroke-width="0.5"/>
<polygon points="466.98,150.52 469.64,146.13 464.31,146.13" fill="#6c129e" stroke="#6c129e" stroke-width="0.5"/>
<polygon points="469.1,144.43 471.77,140.04 466.43,140.04" fill="#6c129e" stroke="#6c129e" stroke-width="0.5"/>
<polygon points="471.22,152.36 473.89,147.97 468.56,147.97" fill="#6c129e" stroke="#6c129e" stroke-width="0.5"/>
<polygon points="473.35,132.47 476.02,128.08 470.68,128.08" fill="#6c129e" stroke="#6c129e" stroke-width="0.5"/>
<polygon points="475.48,148.79 478.14,144.41 472.81,144.41" fill="#6c129e" stroke="#6c129e" stroke-width="0.5"/>
<polygon points="477.6,139.78 480.27,135.39 474.93,135.39" fill="#6c129e" stroke="#6c129e" stroke-width="0.5"/>
<polygon points="479.73,135.14 482.39,130.75 477.06,130.75" fill="#6c129e" stroke="#6c129e" stroke-width="0.5"/>
<polygon points="481.85,155.64 484.52,151.26 479.18,151.26" fill="#6c129e" stroke="#6c129e" stroke-width="0.5"/>
<polygon points="483.97,144.54 486.64,140.16 481.31,140.16" fill="#6c129e" stroke="#6c129e" stroke-width="0.5"/>
<polygon points="486.1,148.97 488.77,144.58 483.43,144.58" fill="#6c129e" stroke="#6c129e" stroke-width="0.5"/>
<polygon points="488.23,158.08 490.89,153.7 485.56,153.7" fill="#6c129e" stroke="#6c129e" stroke-width="0.5"/>
<polygon points="490.35,165.33 493.02,160.94 487.68,160.94" fill="#6c129e" stroke="#6c129e" stroke-width="0.5"/>
<polygon points="492.47,146.47 495.14,142.08 489.81,142.08" fill="#6c129e" stroke="#6c129e" stroke-width="0.5"/>
<path d="M501.28,223.75 L504.1,221.6 L506.92,222.49 L509.73,227.44 L512.55,221.57 L515.37,223.13 L518.18,212.87 L521,217.63 L523.82,219.83 L526.63,213.42 L529.45,208.74 L532.27,203.3 L535.08,196.14 L537.9,202.15 L540.72,199.65 L543.53,207.15 L546.35,202.28 L549.16,205.15 L551.98,206.84 L554.8,208.34 L557.61,209.89 L560.43,212.67 L563.25,217.66 L566.06,221.41 L568.88,217.55 L571.7,217.26 L574.51,214.52 L577.33,220.7 L580.15,216.88 L582.96,222.75 L585.78,212.25 L588.6,223.8 L591.41,216.15 L594.23,214.62 L597.05,205.31 L599.86,201.82 L602.68,210.35 L605.5,200.03 L608.31,198.74 L611.13,193.3 L613.94,186.8 L616.76,174.38 L619.58,171.87 L622.39,181.37 L625.21,178.54 L628.03,173.02 L630.84,161.17 L633.66,154.11 L636.48,142.23 L639.29,128.6 L642.11,125.43 L644.93,140.97 L647.74,143.22 L650.56,155.77 L653.38,178.97 L656.19,195.9 L659.01,204.63 L661.83,210.9 L664.64,221.23 L667.46,222.28 L670.27,215.76 L673.09,219.06 L675.91,223.03 L678.72,220.2 L681.54,218.5 L684.36,224.22 L687.17,220.57 L689.99,220.49" fill="none" stroke="#6c129e" stroke-width="1.3" stroke-linejoin="round"/>
<polygon points="501.28,226.33 503.95,221.94 498.62,221.94" fill="#6c129e" stroke="#6c129e" stroke-width="0.5"/>
<polygon points="504.1,224.18 506.77,219.79 501.43,219.79" fill="#6c129e" stroke="#6c129e" stroke-width="0.5"/>
<polygon points="506.92,225.07 509.58,220.68 504.25,220.68" fill="#6c129e" stroke="#6c129e" stroke-width="0.5"/>
<polygon points="509.73,230.02 512.4,225.64 507.07,225.64" fill="#6c129e" stroke="#6c129e" stroke-width="0.5"/>
<polygon points="512.55,224.15 515.22,219.76 509.88,219.76" fill="#6c129e" stroke="#6c129e" stroke-width="0.5"/>
<polygon points="515.37,225.71 518.03,221.32 512.7,221.32" fill="#6c129e" stroke="#6c129e" stroke-width="0.5"/>
<polygon points="518.18,215.45 520.85,211.06 515.52,211.06" fill="#6c129e" stroke="#6c129e" stroke-width="0.5"/>
<polygon points="521,220.21 523.67,215.83 518.33,215.83" fill="#6c129e" stroke="#6c129e" stroke-width="0.5"/>
<polygon points="523.82,222.41 526.48,218.02 521.15,218.02" fill="#6c129e" stroke="#6c129e" stroke-width="0.5"/>
<polygon points="526.63,216 529.3,211.61 523.97,211.61" fill="#6c129e" stroke="#6c129e" stroke-width="0.5"/>
<polygon points="529.45,211.32 532.12,206.93 526.78,206.93" fill="#6c129e" stroke="#6c129e" stroke-width="0.5"/>
<polygon points="532.27,205.88 534.93,201.49 529.6,201.49" fill="#6c129e" stroke="#6c129e" stroke-width="0.5"/>
<polygon points="535.08,198.72 537.75,194.33 532.42,194.33" fill="#6c129e" stroke="#6c129e" stroke-width="0.5"/>
<polygon points="537.9,204.73 540.56,200.34 535.23,200.34" fill="#6c129e" stroke="#6c129e" stroke-width="0.5"/>
<polygon points="540.72,202.23 543.38,197.85 538.05,197.85" fill="#6c129e" stroke="#6c129e" stroke-width="0.5"/>
<polygon points="543.53,209.73 546.2,205.35 540.87,205.35" fill="#6c129e" stroke="#6c129e" stroke-width="0.5"/>
<polygon points="546.35,204.86 549.01,200.48 543.68,200.48" fill="#6c129e" stroke="#6c129e" stroke-width="0.5"/>
<polygon points="549.16,207.73 551.83,203.35 546.5,203.35" fill="#6c129e" stroke="#6c129e" stroke-width="0.5"/>
<polygon points="551.98,209.42 554.65,205.03 549.32,205.03" fill="#6c129e" stroke="#6c129e" stroke-width="0.5"/>
<polygon points="554.8,210.92 557.46,206.54 552.13,206.54" fill="#6c129e" stroke="#6c129e" stroke-width="0.5"/>
<polygon points="557.61,212.47 560.28,208.08 554.95,208.08" fill="#6c129e" stroke="#6c129e" stroke-width="0.5"/>
<polygon points="560.43,215.25 563.1,210.86 557.76,210.86" fill="#6c129e" stroke="#6c129e" stroke-width="0.5"/>
<polygon points="563.25,220.24 565.91,215.85 560.58,215.85" fill="#6c129e" stroke="#6c129e" stroke-width="0.5"/>
<polygon points="566.06,223.99 568.73,219.61 563.4,219.61" fill="#6c129e" stroke="#6c129e" stroke-width="0.5"/>
<polygon points="568.88,220.13 571.55,215.74 566.21,215.74" fill="#6c129e" stroke="#6c129e" stroke-width="0.5"/>
<polygon points="571.7,219.84 574.36,215.45 569.03,215.45" fill="#6c129e" stroke="#6c129e" stroke-width="0.5"/>
<polygon points="574.51,217.1 577.18,212.72 571.85,212.72" fill="#6c129e" stroke="#6c129e" stroke-width="0.5"/>
<polygon points="577.33,223.28 580,218.89 574.66,218.89" fill="#6c129e" stroke="#6c129e" stroke-width="0.5"/>
<polygon points="580.15,219.46 582.81,215.08 577.48,215.08" fill="#6c129e" stroke="#6c129e" stroke-width="0.5"/>
<polygon points="582.96,225.33 585.63,220.94 580.3,220.94" fill="#6c129e" stroke="#6c129e" stroke-width="0.5"/>
<polygon points="585.78,214.83 588.45,210.45 583.11,210.45" fill="#6c129e" stroke="#6c129e" stroke-width="0.5"/>
<polygon points="588.6,226.38 591.26,222 585.93,222" fill="#6c129e" stroke="#6c129e" stroke-width="0.5"/>
<polygon points="591.41,218.73 594.08,214.35 588.75,214.35" fill="#6c129e" stroke="#6c129e" stroke-width="0.5"/>
<polygon points="594.23,217.2 596.89,212.81 591.56,212.81" fill="#6c129e" stroke="#6c129e" stroke-width="0.5"/>
<polygon points="597.05,207.89 599.71,203.5 594.38,203.5" fill="#6c129e" stroke="#6c129e" stroke-width="0.5"/>
<polygon points="599.86,204.4 602.53,200.02 597.2,200.02" fill="#6c129e" stroke="#6c129e" stroke-width="0.5"/>
<polygon points="602.68,212.93 605.34,208.54 600.01,208.54" fill="#6c129e" stroke="#6c129e" stroke-width="0.5"/>
<polygon points="605.5,202.61 608.16,198.22 602.83,198.22" fill="#6c129e" stroke="#6c129e" stroke-width="0.5"/>
<polygon points="608.31,201.32 610.98,196.93 605.65,196.93" fill="#6c129e" stroke="#6c129e" stroke-width="0.5"/>
<polygon points="611.13,195.88 613.79,191.49 608.46,191.49" fill="#6c129e" stroke="#6c129e" stroke-width="0.5"/>
<polygon points="613.94,189.38 616.61,184.99 611.28,184.99" fill="#6c129e" stroke="#6c129e" stroke-width="0.5"/>
<polygon points="616.76,176.96 619.43,172.57 614.09,172.57" fill="#6c129e" stroke="#6c129e" stroke-width="0.5"/>
<polygon points="619.58,174.45 622.24,170.06 616.91,170.06" fill="#6c129e" stroke="#6c129e" stroke-width="0.5"/>
<polygon points="622.39,183.95 625.06,179.56 619.73,179.56" fill="#6c129e" stroke="#6c129e" stroke-width="0.5"/>
<polygon points="625.21,181.12 627.88,176.73 622.54,176.73" fill="#6c129e" stroke="#6c129e" stroke-width="0.5"/>
<polygon points="628.03,175.6 630.69,171.21 625.36,171.21" fill="#6c129e" stroke="#6c129e" stroke-width="0.5"/>
<polygon points="630.84,163.75 633.51,159.37 628.18,159.37" fill="#6c129e" stroke="#6c129e" stroke-width="0.5"/>
<polygon points="633.66,156.69 636.33,152.3 630.99,152.3" fill="#6c129e" stroke="#6c129e" stroke-width="0.5"/>
<polygon points="636.48,144.81 639.14,140.43 633.81,140.43" fill="#6c129e" stroke="#6c129e" stroke-width="0.5"/>
<polygon points="639.29,131.18 641.96,126.8 636.63,126.8" fill="#6c129e" stroke="#6c129e" stroke-width="0.5"/>
<polygon points="642.11,128.01 644.78,123.63 639.44,123.63" fill="#6c129e" stroke="#6c129e" stroke-width="0.5"/>
<polygon points="644.93,143.55 647.59,139.16 642.26,139.16" fill="#6c129e" stroke="#6c129e" stroke-width="0.5"/>
<polygon points="647.74,145.8 650.41,141.42 645.08,141.42" fill="#6c129e" stroke="#6c129e" stroke-width="0.5"/>
<polygon points="650.56,158.35 653.22,153.96 647.89,153.96" fill="#6c129e" stroke="#6c129e" stroke-width="0.5"/>
<polygon points="653.38,181.55 656.04,177.16 650.71,177.16" fill="#6c129e" stroke="#6c129e" stroke-width="0.5"/>
<polygon points="656.19,198.48 658.86,194.09 653.53,194.09" fill="#6c129e" stroke="#6c129e" stroke-width="0.5"/>
<polygon points="659.01,207.21 661.67,202.83 656.34,202.83" fill="#6c129e" stroke="#6c129e" stroke-width="0.5"/>
<polygon points="661.83,213.48 664.49,209.09 659.16,209.09" fill="#6c129e" stroke="#6c129e" stroke-width="0.5"/>
<polygon points="664.64,223.81 667.31,219.42 661.98,219.42" fill="#6c129e" stroke="#6c129e" stroke-width="0.5"/>
<polygon points="667.46,224.86 670.12,220.47 664.79,220.47" fill="#6c129e" stroke="#6c129e" stroke-width="0.5"/>
<polygon points="670.27,218.34 672.94,213.95 667.61,213.95" fill="#6c129e" stroke="#6c129e" stroke-width="0.5"/>
<polygon points="673.09,221.64 675.76,217.26 670.42,217.26" fill="#6c129e" stroke="#6c129e" stroke-width="0.5"/>
<polygon points="675.91,225.61 678.57,221.22 673.24,221.22" fill="#6c129e" stroke="#6c129e" stroke-width="0.5"/>
<polygon points="678.72,222.78 681.39,218.4 676.06,218.4" fill="#6c129e" stroke="#6c129e" stroke-width="0.5"/>
<polygon points="681.54,221.08 684.21,216.69 678.87,216.69" fill="#6c129e" stroke="#6c129e" stroke-width="0.5"/>
<polygon points="684.36,226.8 687.02,222.42 681.69,222.42" fill="#6c129e" stroke="#6c129e" stroke-width="0.5"/>
<polygon points="687.17,223.15 689.84,218.77 684.51,218.77" fill="#6c129e" stroke="#6c129e" stroke-width="0.5"/>
<polygon points="689.99,223.07 692.66,218.68 687.32,218.68" fill="#6c129e" stroke="#6c129e" stroke-width="0.5"/>
<path d="M411.73,150.79 L413.85,152.73 L415.98,153.96 L418.1,145.81 L420.22,144.25 L422.35,144.22 L424.48,150.47 L426.6,140.09 L428.72,149.62 L430.85,139.63 L432.98,143.42 L435.1,147.14 L437.23,136.15 L439.35,109.99 L441.47,85.35 L443.6,87.47 L445.73,89 L447.85,79.06 L449.97,83.73 L452.1,95.84 L454.23,103.01 L456.35,118.26 L458.48,122.46 L460.6,134.61 L462.72,152.32 L464.85,147.58 L466.98,166.37 L469.1,150.83 L471.22,145.53 L473.35,144.06 L475.48,149.6 L477.6,143.22 L479.73,155.58 L481.85,152.23 L483.97,162.52 L486.1,146.53 L488.23,153.64 L490.35,160.96 L492.47,152.86" fill="none" stroke="#f5821f" stroke-width="1.3" stroke-linejoin="round"/>
<rect x="409.79" y="148.85" width="3.87" height="3.87" fill="#f5821f" stroke="#f5821f" stroke-width="0.5"/>
<rect x="411.92" y="150.8" width="3.87" height="3.87" fill="#f5821f" stroke="#f5821f" stroke-width="0.5"/>
<rect x="414.04" y="152.03" width="3.87" height="3.87" fill="#f5821f" stroke="#f5821f" stroke-width="0.5"/>
<rect x="416.16" y="143.88" width="3.87" height="3.87" fill="#f5821f" stroke="#f5821f" stroke-width="0.5"/>
<rect x="418.29" y="142.32" width="3.87" height="3.87" fill="#f5821f" stroke="#f5821f" stroke-width="0.5"/>
<rect x="420.42" y="142.29" width="3.87" height="3.87" fill="#f5821f" stroke="#f5821f" stroke-width="0.5"/>
<rect x="422.54" y="148.54" width="3.87" height="3.87" fill="#f5821f" stroke="#f5821f" stroke-width="0.5"/>
<rect x="424.67" y="138.16" width="3.87" height="3.87" fill="#f5821f" stroke="#f5821f" stroke-width="0.5"/>
<rect x="426.79" y="147.68" width="3.87" height="3.87" fill="#f5821f" stroke="#f5821f" stroke-width="0.5"/>
<rect x="428.91" y="137.7" width="3.87" height="3.87" fill="#f5821f" stroke="#f5821f" stroke-width="0.5"/>
<rect x="431.04" y="141.48" width="3.87" height="3.87" fill="#f5821f" stroke="#f5821f" stroke-width="0.5"/>
<rect x="433.17" y="145.21" width="3.87" height="3.87" fill="#f5821f" stroke="#f5821f" stroke-width="0.5"/>
<rect x="435.29" y="134.22" width="3.87" height="3.87" fill="#f5821f" stroke="#f5821f" stroke-width="0.5"/>
<rect x="437.41" y="108.05" width="3.87" height="3.87" fill="#f5821f" stroke="#f5821f" stroke-width="0.5"/>
<rect x="439.54" y="83.41" width="3.87" height="3.87" fill="#f5821f" stroke="#f5821f" stroke-width="0.5"/>
<rect x="441.67" y="85.54" width="3.87" height="3.87" fill="#f5821f" stroke="#f5821f" stroke-width="0.5"/>
<rect x="443.79" y="87.07" width="3.87" height="3.87" fill="#f5821f" stroke="#f5821f" stroke-width="0.5"/>
<rect x="445.92" y="77.13" width="3.87" height="3.87" fill="#f5821f" stroke="#f5821f" stroke-width="0.5"/>
<rect x="448.04" y="81.79" width="3.87" height="3.87" fill="#f5821f" stroke="#f5821f" stroke-width="0.5"/>
<rect x="450.16" y="93.91" width="3.87" height="3.87" fill="#f5821f" stroke="#f5821f" stroke-width="0.5"/>
<rect x="452.29" y="101.07" width="3.87" height="3.87" fill="#f5821f" stroke="#f5821f" stroke-width="0.5"/>
<rect x="454.42" y="116.33" width="3.87" height="3.87" fill="#f5821f" stroke="#f5821f" stroke-width="0.5"/>
<rect x="456.54" y="120.52" width="3.87" height="3.87" fill="#f5821f" stroke="#f5821f" stroke-width="0.5"/>
<rect x="458.66" y="132.67" width="3.87" height="3.87" fill="#f5821f" stroke="#f5821f" stroke-width="0.5"/>
<rect x="460.79" y="150.38" width="3.87" height="3.87" fill="#f5821f" stroke="#f5821f" stroke-width="0.5"/>
<rect x="462.92" y="145.64" width="3.87" height="3.87" fill="#f5821f" stroke="#f5821f" stroke-width="0.5"/>
<rect x="465.04" y="164.44" width="3.87" height="3.87" fill="#f5821f" stroke="#f5821f" stroke-width="0.5"/>
<rect x="467.17" y="148.89" width="3.87" height="3.87" fill="#f5821f" stroke="#f5821f" stroke-width="0.5"/>
<rect x="469.29" y="143.59" width="3.87" height="3.87" fill="#f5821f" stroke="#f5821f" stroke-width="0.5"/>
<rect x="471.41" y="142.13" width="3.87" height="3.87" fill="#f5821f" stroke="#f5821f" stroke-width="0.5"/>
<rect x="473.54" y="147.67" width="3.87" height="3.87" fill="#f5821f" stroke="#f5821f" stroke-width="0.5"/>
<rect x="475.67" y="141.29" width="3.87" height="3.87" fill="#f5821f" stroke="#f5821f" stroke-width="0.5"/>
<rect x="477.79" y="153.64" width="3.87" height="3.87" fill="#f5821f" stroke="#f5821f" stroke-width="0.5"/>
<rect x="479.91" y="150.3" width="3.87" height="3.87" fill="#f5821f" stroke="#f5821f" stroke-width="0.5"/>
<rect x="482.04" y="160.58" width="3.87" height="3.87" fill="#f5821f" stroke="#f5821f" stroke-width="0.5"/>
<rect x="484.17" y="144.59" width="3.87" height="3.87" fill="#f5821f" stroke="#f5821f" stroke-width="0.5"/>
<rect x="486.29" y="151.71" width="3.87" height="3.87" fill="#f5821f" stroke="#f5821f" stroke-width="0.5"/>
<rect x="488.42" y="159.03" width="3.87" height="3.87" fill="#f5821f" stroke="#f5821f" stroke-width="0.5"/>
<rect x="490.54" y="150.93" width="3.87" height="3.87" fill="#f5821f" stroke="#f5821f" stroke-width="0.5"/>
<path d="M501.28,234.52 L504.1,232.11 L506.92,230.22 L509.73,237.09 L512.55,230.03 L515.37,231.52 L518.18,224.98 L521,225 L523.82,221.53 L526.63,224.64 L529.45,215.12 L532.27,208.53 L535.08,211.86 L537.9,209.06 L540.72,210.37 L543.53,216.62 L546.35,214.25 L549.16,215.27 L551.98,220.26 L554.8,223.55 L557.61,216.48 L560.43,224.73 L563.25,229.02 L566.06,230.75 L568.88,230.3 L571.7,227.79 L574.51,228.32 L577.33,228.03 L580.15,231.55 L582.96,227.49 L585.78,227.83 L588.6,220.25 L591.41,221.14 L594.23,224.52 L597.05,218.49 L599.86,218.37 L602.68,210.74 L605.5,209.08 L608.31,202.64 L611.13,195.17 L613.94,195.99 L616.76,188.72 L619.58,182.37 L622.39,190.35 L625.21,188.85 L628.03,182.84 L630.84,172.81 L633.66,166.8 L636.48,151.4 L639.29,145.2 L642.11,138.25 L644.93,149.94 L647.74,155.71 L650.56,170.78 L653.38,194.55 L656.19,205.34 L659.01,214.61 L661.83,220.78 L664.64,228.62 L667.46,228.98 L670.27,231.93 L673.09,234.72 L675.91,233.94 L678.72,228.93 L681.54,229.83 L684.36,232.03 L687.17,227.75 L689.99,229.8" fill="none" stroke="#f5821f" stroke-width="1.3" stroke-linejoin="round"/>
<rect x="499.35" y="232.59" width="3.87" height="3.87" fill="#f5821f" stroke="#f5821f" stroke-width="0.5"/>
<rect x="502.17" y="230.17" width="3.87" height="3.87" fill="#f5821f" stroke="#f5821f" stroke-width="0.5"/>
<rect x="504.98" y="228.29" width="3.87" height="3.87" fill="#f5821f" stroke="#f5821f" stroke-width="0.5"/>
<rect x="507.8" y="235.16" width="3.87" height="3.87" fill="#f5821f" stroke="#f5821f" stroke-width="0.5"/>
<rect x="510.62" y="228.1" width="3.87" height="3.87" fill="#f5821f" stroke="#f5821f" stroke-width="0.5"/>
<rect x="513.43" y="229.59" width="3.87" height="3.87" fill="#f5821f" stroke="#f5821f" stroke-width="0.5"/>
<rect x="516.25" y="223.04" width="3.87" height="3.87" fill="#f5821f" stroke="#f5821f" stroke-width="0.5"/>
<rect x="519.07" y="223.07" width="3.87" height="3.87" fill="#f5821f" stroke="#f5821f" stroke-width="0.5"/>
<rect x="521.88" y="219.59" width="3.87" height="3.87" fill="#f5821f" stroke="#f5821f" stroke-width="0.5"/>
<rect x="524.7" y="222.7" width="3.87" height="3.87" fill="#f5821f" stroke="#f5821f" stroke-width="0.5"/>
<rect x="527.51" y="213.19" width="3.87" height="3.87" fill="#f5821f" stroke="#f5821f" stroke-width="0.5"/>
<rect x="530.33" y="206.6" width="3.87" height="3.87" fill="#f5821f" stroke="#f5821f" stroke-width="0.5"/>
<rect x="533.15" y="209.93" width="3.87" height="3.87" fill="#f5821f" stroke="#f5821f" stroke-width="0.5"/>
<rect x="535.96" y="207.12" width="3.87" height="3.87" fill="#f5821f" stroke="#f5821f" stroke-width="0.5"/>
<rect x="538.78" y="208.44" width="3.87" height="3.87" fill="#f5821f" stroke="#f5821f" stroke-width="0.5"/>
<rect x="541.6" y="214.68" width="3.87" height="3.87" fill="#f5821f" stroke="#f5821f" stroke-width="0.5"/>
<rect x="544.41" y="212.32" width="3.87" height="3.87" fill="#f5821f" stroke="#f5821f" stroke-width="0.5"/>
<rect x="547.23" y="213.34" width="3.87" height="3.87" fill="#f5821f" stroke="#f5821f" stroke-width="0.5"/>
<rect x="550.05" y="218.32" width="3.87" height="3.87" fill="#f5821f" stroke="#f5821f" stroke-width="0.5"/>
<rect x="552.86" y="221.62" width="3.87" height="3.87" fill="#f5821f" stroke="#f5821f" stroke-width="0.5"/>
<rect x="555.68" y="214.55" width="3.87" height="3.87" fill="#f5821f" stroke="#f5821f" stroke-width="0.5"/>
<rect x="558.5" y="222.8" width="3.87" height="3.87" fill="#f5821f" stroke="#f5821f" stroke-width="0.5"/>
<rect x="561.31" y="227.09" width="3.87" height="3.87" fill="#f5821f" stroke="#f5821f" stroke-width="0.5"/>
<rect x="564.13" y="228.81" width="3.87" height="3.87" fill="#f5821f" stroke="#f5821f" stroke-width="0.5"/>
<rect x="566.95" y="228.37" width="3.87" height="3.87" fill="#f5821f" stroke="#f5821f" stroke-width="0.5"/>
<rect x="569.76" y="225.86" width="3.87" height="3.87" fill="#f5821f" stroke="#f5821f" stroke-width="0.5"/>
<rect x="572.58" y="226.39" width="3.87" height="3.87" fill="#f5821f" stroke="#f5821f" stroke-width="0.5"/>
<rect x="575.4" y="226.1" width="3.87" height="3.87" fill="#f5821f" stroke="#f5821f" stroke-width="0.5"/>
<rect x="578.21" y="229.62" width="3.87" height="3.87" fill="#f5821f" stroke="#f5821f" stroke-width="0.5"/>
<rect x="581.03" y="225.55" width="3.87" height="3.87" fill="#f5821f" stroke="#f5821f" stroke-width="0.5"/>
<rect x="583.84" y="225.9" width="3.87" height="3.87" fill="#f5821f" stroke="#f5821f" stroke-width="0.5"/>
<rect x="586.66" y="218.31" width="3.87" height="3.87" fill="#f5821f" stroke="#f5821f" stroke-width="0.5"/>
<rect x="589.48" y="219.2" width="3.87" height="3.87" fill="#f5821f" stroke="#f5821f" stroke-width="0.5"/>
<rect x="592.29" y="222.58" width="3.87" height="3.87" fill="#f5821f" stroke="#f5821f" stroke-width="0.5"/>
<rect x="595.11" y="216.55" width="3.87" height="3.87" fill="#f5821f" stroke="#f5821f" stroke-width="0.5"/>
<rect x="597.93" y="216.43" width="3.87" height="3.87" fill="#f5821f" stroke="#f5821f" stroke-width="0.5"/>
<rect x="600.74" y="208.81" width="3.87" height="3.87" fill="#f5821f" stroke="#f5821f" stroke-width="0.5"/>
<rect x="603.56" y="207.15" width="3.87" height="3.87" fill="#f5821f" stroke="#f5821f" stroke-width="0.5"/>
<rect x="606.38" y="200.71" width="3.87" height="3.87" fill="#f5821f" stroke="#f5821f" stroke-width="0.5"/>
<rect x="609.19" y="193.24" width="3.87" height="3.87" fill="#f5821f" stroke="#f5821f" stroke-width="0.5"/>
<rect x="612.01" y="194.05" width="3.87" height="3.87" fill="#f5821f" stroke="#f5821f" stroke-width="0.5"/>
<rect x="614.83" y="186.78" width="3.87" height="3.87" fill="#f5821f" stroke="#f5821f" stroke-width="0.5"/>
<rect x="617.64" y="180.44" width="3.87" height="3.87" fill="#f5821f" stroke="#f5821f" stroke-width="0.5"/>
<rect x="620.46" y="188.42" width="3.87" height="3.87" fill="#f5821f" stroke="#f5821f" stroke-width="0.5"/>
<rect x="623.28" y="186.91" width="3.87" height="3.87" fill="#f5821f" stroke="#f5821f" stroke-width="0.5"/>
<rect x="626.09" y="180.9" width="3.87" height="3.87" fill="#f5821f" stroke="#f5821f" stroke-width="0.5"/>
<rect x="628.91" y="170.87" width="3.87" height="3.87" fill="#f5821f" stroke="#f5821f" stroke-width="0.5"/>
<rect x="631.73" y="164.86" width="3.87" height="3.87" fill="#f5821f" stroke="#f5821f" stroke-width="0.5"/>
<rect x="634.54" y="149.47" width="3.87" height="3.87" fill="#f5821f" stroke="#f5821f" stroke-width="0.5"/>
<rect x="637.36" y="143.27" width="3.87" height="3.87" fill="#f5821f" stroke="#f5821f" stroke-width="0.5"/>
<rect x="640.17" y="136.31" width="3.87" height="3.87" fill="#f5821f" stroke="#f5821f" stroke-width="0.5"/>
<rect x="642.99" y="148" width="3.87" height="3.87" fill="#f5821f" stroke="#f5821f" stroke-width="0.5"/>
<rect x="645.81" y="153.78" width="3.87" height="3.87" fill="#f5821f" stroke="#f5821f" stroke-width="0.5"/>
<rect x="648.62" y="168.85" width="3.87" height="3.87" fill="#f5821f" stroke="#f5821f" stroke-width="0.5"/>
<rect x="651.44" y="192.62" width="3.87" height="3.87" fill="#f5821f" stroke="#f5821f" stroke-width="0.5"/>
<rect x="654.26" y="203.4" width="3.87" height="3.87" fill="#f5821f" stroke="#f5821f" stroke-width="0.5"/>
<rect x="657.07" y="212.67" width="3.87" height="3.87" fill="#f5821f" stroke="#f5821f" stroke-width="0.5"/>
<rect x="659.89" y="218.85" width="3.87" height="3.87" fill="#f5821f" stroke="#f5821f" stroke-width="0.5"/>
<rect x="662.71" y="226.68" width="3.87" height="3.87" fill="#f5821f" stroke="#f5821f" stroke-width="0.5"/>
<rect x="665.52" y="227.04" width="3.87" height="3.87" fill="#f5821f" stroke="#f5821f" stroke-width="0.5"/>
<rect x="668.34" y="229.99" width="3.87" height="3.87" fill="#f5821f" stroke="#f5821f" stroke-width="0.5"/>
<rect x="671.16" y="232.78" width="3.87" height="3.87" fill="#f5821f" stroke="#f5821f" stroke-width="0.5"/>
<rect x="673.97" y="232.01" width="3.87" height="3.87" fill="#f5821f" stroke="#f5821f" stroke-width="0.5"/>
<rect x="676.79" y="227" width="3.87" height="3.87" fill="#f5821f" stroke="#f5821f" stroke-width="0.5"/>
<rect x="679.61" y="227.9" width="3.87" height="3.87" fill="#f5821f" stroke="#f5821f" stroke-width="0.5"/>
<rect x="682.42" y="230.1" width="3.87" height="3.87" fill="#f5821f" stroke="#f5821f" stroke-width="0.5"/>
<rect x="685.24" y="225.82" width="3.87" height="3.87" fill="#f5821f" stroke="#f5821f" stroke-width="0.5"/>
<rect x="688.06" y="227.86" width="3.87" height="3.87" fill="#f5821f" stroke="#f5821f" stroke-width="0.5"/>
<path d="M411.73,141.8 L413.85,148.31 L415.98,136.86 L418.1,140.71 L420.22,134.08 L422.35,131.31 L424.48,147.82 L426.6,140.18 L428.72,143.66 L430.85,136.66 L432.98,136.86 L435.1,136.55 L437.23,127.34 L439.35,100.41 L441.47,85.1 L443.6,77.57 L445.73,74.29 L447.85,72.82 L449.97,82.82 L452.1,94.71 L454.23,98.37 L456.35,109.77 L458.48,116.23 L460.6,134.8 L462.72,137.2 L464.85,152.11 L466.98,162.12 L469.1,143.96 L471.22,151.9 L473.35,152.01 L475.48,145.33 L477.6,138.81 L479.73,149.54 L481.85,140.46 L483.97,153.43 L486.1,140.38 L488.23,145.11 L490.35,153.53 L492.47,148.74" fill="none" stroke="#1f55ff" stroke-width="1.3" stroke-linejoin="round"/>
<polygon points="411.73,139.22 414.39,143.61 409.06,143.61" fill="#1f55ff" stroke="#1f55ff" stroke-width="0.5"/>
<polygon points="413.85,145.73 416.52,150.12 411.18,150.12" fill="#1f55ff" stroke="#1f55ff" stroke-width="0.5"/>
<polygon points="415.98,134.28 418.64,138.67 413.31,138.67" fill="#1f55ff" stroke="#1f55ff" stroke-width="0.5"/>
<polygon points="418.1,138.13 420.77,142.51 415.43,142.51" fill="#1f55ff" stroke="#1f55ff" stroke-width="0.5"/>
<polygon points="420.22,131.5 422.89,135.89 417.56,135.89" fill="#1f55ff" stroke="#1f55ff" stroke-width="0.5"/>
<polygon points="422.35,128.73 425.02,133.12 419.68,133.12" fill="#1f55ff" stroke="#1f55ff" stroke-width="0.5"/>
<polygon points="424.48,145.24 427.14,149.63 421.81,149.63" fill="#1f55ff" stroke="#1f55ff" stroke-width="0.5"/>
<polygon points="426.6,137.6 429.27,141.99 423.93,141.99" fill="#1f55ff" stroke="#1f55ff" stroke-width="0.5"/>
<polygon points="428.72,141.08 431.39,145.46 426.06,145.46" fill="#1f55ff" stroke="#1f55ff" stroke-width="0.5"/>
<polygon points="430.85,134.08 433.52,138.46 428.18,138.46" fill="#1f55ff" stroke="#1f55ff" stroke-width="0.5"/>
<polygon points="432.98,134.28 435.64,138.67 430.31,138.67" fill="#1f55ff" stroke="#1f55ff" stroke-width="0.5"/>
<polygon points="435.1,133.97 437.77,138.35 432.43,138.35" fill="#1f55ff" stroke="#1f55ff" stroke-width="0.5"/>
<polygon points="437.23,124.76 439.89,129.14 434.56,129.14" fill="#1f55ff" stroke="#1f55ff" stroke-width="0.5"/>
<polygon points="439.35,97.83 442.02,102.21 436.68,102.21" fill="#1f55ff" stroke="#1f55ff" stroke-width="0.5"/>
<polygon points="441.47,82.52 444.14,86.91 438.81,86.91" fill="#1f55ff" stroke="#1f55ff" stroke-width="0.5"/>
<polygon points="443.6,74.99 446.27,79.37 440.93,79.37" fill="#1f55ff" stroke="#1f55ff" stroke-width="0.5"/>
<polygon points="445.73,71.71 448.39,76.1 443.06,76.1" fill="#1f55ff" stroke="#1f55ff" stroke-width="0.5"/>
<polygon points="447.85,70.24 450.52,74.62 445.18,74.62" fill="#1f55ff" stroke="#1f55ff" stroke-width="0.5"/>
<polygon points="449.97,80.24 452.64,84.62 447.31,84.62" fill="#1f55ff" stroke="#1f55ff" stroke-width="0.5"/>
<polygon points="452.1,92.13 454.77,96.52 449.43,96.52" fill="#1f55ff" stroke="#1f55ff" stroke-width="0.5"/>
<polygon points="454.23,95.79 456.89,100.18 451.56,100.18" fill="#1f55ff" stroke="#1f55ff" stroke-width="0.5"/>
<polygon points="456.35,107.19 459.02,111.57 453.68,111.57" fill="#1f55ff" stroke="#1f55ff" stroke-width="0.5"/>
<polygon points="458.48,113.65 461.14,118.04 455.81,118.04" fill="#1f55ff" stroke="#1f55ff" stroke-width="0.5"/>
<polygon points="460.6,132.22 463.27,136.6 457.93,136.6" fill="#1f55ff" stroke="#1f55ff" stroke-width="0.5"/>
<polygon points="462.72,134.62 465.39,139.01 460.06,139.01" fill="#1f55ff" stroke="#1f55ff" stroke-width="0.5"/>
<polygon points="464.85,149.53 467.52,153.92 462.18,153.92" fill="#1f55ff" stroke="#1f55ff" stroke-width="0.5"/>
<polygon points="466.98,159.54 469.64,163.93 464.31,163.93" fill="#1f55ff" stroke="#1f55ff" stroke-width="0.5"/>
<polygon points="469.1,141.38 471.77,145.77 466.43,145.77" fill="#1f55ff" stroke="#1f55ff" stroke-width="0.5"/>
<polygon points="471.22,149.32 473.89,153.7 468.56,153.7" fill="#1f55ff" stroke="#1f55ff" stroke-width="0.5"/>
<polygon points="473.35,149.43 476.02,153.81 470.68,153.81" fill="#1f55ff" stroke="#1f55ff" stroke-width="0.5"/>
<polygon points="475.48,142.75 478.14,147.14 472.81,147.14" fill="#1f55ff" stroke="#1f55ff" stroke-width="0.5"/>
<polygon points="477.6,136.23 480.27,140.62 474.93,140.62" fill="#1f55ff" stroke="#1f55ff" stroke-width="0.5"/>
<polygon points="479.73,146.96 482.39,151.35 477.06,151.35" fill="#1f55ff" stroke="#1f55ff" stroke-width="0.5"/>
<polygon points="481.85,137.88 484.52,142.27 479.18,142.27" fill="#1f55ff" stroke="#1f55ff" stroke-width="0.5"/>
<polygon points="483.97,150.85 486.64,155.23 481.31,155.23" fill="#1f55ff" stroke="#1f55ff" stroke-width="0.5"/>
<polygon points="486.1,137.8 488.77,142.18 483.43,142.18" fill="#1f55ff" stroke="#1f55ff" stroke-width="0.5"/>
<polygon points="488.23,142.53 490.89,146.91 485.56,146.91" fill="#1f55ff" stroke="#1f55ff" stroke-width="0.5"/>
<polygon points="490.35,150.95 493.02,155.33 487.68,155.33" fill="#1f55ff" stroke="#1f55ff" stroke-width="0.5"/>
<polygon points="492.47,146.16 495.14,150.55 489.81,150.55" fill="#1f55ff" stroke="#1f55ff" stroke-width="0.5"/>
<path d="M501.28,225.91 L504.1,228.15 L506.92,229.08 L509.73,229.8 L512.55,228.29 L515.37,224.44 L518.18,224.74 L521,216.63 L523.82,216.05 L526.63,216.37 L529.45,211.34 L532.27,212.44 L535.08,209.36 L537.9,201.11 L540.72,204 L543.53,210.54 L546.35,212.88 L549.16,208.73 L551.98,209.89 L554.8,214.6 L557.61,211.3 L560.43,216.11 L563.25,223.13 L566.06,221.41 L568.88,221.8 L571.7,222.82 L574.51,221.29 L577.33,225.99 L580.15,224.42 L582.96,218.59 L585.78,223.17 L588.6,218.94 L591.41,221.33 L594.23,220.66 L597.05,213.14 L599.86,211.46 L602.68,209.23 L605.5,202.61 L608.31,194.76 L611.13,192.39 L613.94,187.26 L616.76,180.64 L619.58,177.74 L622.39,179.83 L625.21,180.25 L628.03,180.25 L630.84,165.58 L633.66,149.04 L636.48,141.22 L639.29,141.95 L642.11,132.16 L644.93,139.55 L647.74,145.91 L650.56,160.84 L653.38,179.85 L656.19,200.92 L659.01,211.61 L661.83,219.92 L664.64,221.13 L667.46,222.65 L670.27,222.23 L673.09,224.27 L675.91,223.48 L678.72,223.24 L681.54,229.74 L684.36,227.28 L687.17,230.16 L689.99,224.62" fill="none" stroke="#1f55ff" stroke-width="1.3" stroke-linejoin="round"/>
<polygon points="501.28,223.33 503.95,227.71 498.62,227.71" fill="#1f55ff" stroke="#1f55ff" stroke-width="0.5"/>
<polygon points="504.1,225.57 506.77,229.96 501.43,229.96" fill="#1f55ff" stroke="#1f55ff" stroke-width="0.5"/>
<polygon points="506.92,226.5 509.58,230.89 504.25,230.89" fill="#1f55ff" stroke="#1f55ff" stroke-width="0.5"/>
<polygon points="509.73,227.22 512.4,231.61 507.07,231.61" fill="#1f55ff" stroke="#1f55ff" stroke-width="0.5"/>
<polygon points="512.55,225.71 515.22,230.09 509.88,230.09" fill="#1f55ff" stroke="#1f55ff" stroke-width="0.5"/>
<polygon points="515.37,221.86 518.03,226.25 512.7,226.25" fill="#1f55ff" stroke="#1f55ff" stroke-width="0.5"/>
<polygon points="518.18,222.16 520.85,226.54 515.52,226.54" fill="#1f55ff" stroke="#1f55ff" stroke-width="0.5"/>
<polygon points="521,214.05 523.67,218.43 518.33,218.43" fill="#1f55ff" stroke="#1f55ff" stroke-width="0.5"/>
<polygon points="523.82,213.47 526.48,217.86 521.15,217.86" fill="#1f55ff" stroke="#1f55ff" stroke-width="0.5"/>
<polygon points="526.63,213.79 529.3,218.18 523.97,218.18" fill="#1f55ff" stroke="#1f55ff" stroke-width="0.5"/>
<polygon points="529.45,208.76 532.12,213.15 526.78,213.15" fill="#1f55ff" stroke="#1f55ff" stroke-width="0.5"/>
<polygon points="532.27,209.86 534.93,214.25 529.6,214.25" fill="#1f55ff" stroke="#1f55ff" stroke-width="0.5"/>
<polygon points="535.08,206.78 537.75,211.17 532.42,211.17" fill="#1f55ff" stroke="#1f55ff" stroke-width="0.5"/>
<polygon points="537.9,198.53 540.56,202.91 535.23,202.91" fill="#1f55ff" stroke="#1f55ff" stroke-width="0.5"/>
<polygon points="540.72,201.42 543.38,205.8 538.05,205.8" fill="#1f55ff" stroke="#1f55ff" stroke-width="0.5"/>
<polygon points="543.53,207.96 546.2,212.34 540.87,212.34" fill="#1f55ff" stroke="#1f55ff" stroke-width="0.5"/>
<polygon points="546.35,210.3 549.01,214.68 543.68,214.68" fill="#1f55ff" stroke="#1f55ff" stroke-width="0.5"/>
<polygon points="549.16,206.15 551.83,210.53 546.5,210.53" fill="#1f55ff" stroke="#1f55ff" stroke-width="0.5"/>
<polygon points="551.98,207.31 554.65,211.69 549.32,211.69" fill="#1f55ff" stroke="#1f55ff" stroke-width="0.5"/>
<polygon points="554.8,212.02 557.46,216.41 552.13,216.41" fill="#1f55ff" stroke="#1f55ff" stroke-width="0.5"/>
<polygon points="557.61,208.72 560.28,213.11 554.95,213.11" fill="#1f55ff" stroke="#1f55ff" stroke-width="0.5"/>
<polygon points="560.43,213.53 563.1,217.92 557.76,217.92" fill="#1f55ff" stroke="#1f55ff" stroke-width="0.5"/>
<polygon points="563.25,220.55 565.91,224.94 560.58,224.94" fill="#1f55ff" stroke="#1f55ff" stroke-width="0.5"/>
<polygon points="566.06,218.83 568.73,223.22 563.4,223.22" fill="#1f55ff" stroke="#1f55ff" stroke-width="0.5"/>
<polygon points="568.88,219.22 571.55,223.61 566.21,223.61" fill="#1f55ff" stroke="#1f55ff" stroke-width="0.5"/>
<polygon points="571.7,220.24 574.36,224.63 569.03,224.63" fill="#1f55ff" stroke="#1f55ff" stroke-width="0.5"/>
<polygon points="574.51,218.71 577.18,223.1 571.85,223.1" fill="#1f55ff" stroke="#1f55ff" stroke-width="0.5"/>
<polygon points="577.33,223.41 580,227.79 574.66,227.79" fill="#1f55ff" stroke="#1f55ff" stroke-width="0.5"/>
<polygon points="580.15,221.84 582.81,226.22 577.48,226.22" fill="#1f55ff" stroke="#1f55ff" stroke-width="0.5"/>
<polygon points="582.96,216.01 585.63,220.4 580.3,220.4" fill="#1f55ff" stroke="#1f55ff" stroke-width="0.5"/>
<polygon points="585.78,220.59 588.45,224.98 583.11,224.98" fill="#1f55ff" stroke="#1f55ff" stroke-width="0.5"/>
<polygon points="588.6,216.36 591.26,220.74 585.93,220.74" fill="#1f55ff" stroke="#1f55ff" stroke-width="0.5"/>
<polygon points="591.41,218.75 594.08,223.14 588.75,223.14" fill="#1f55ff" stroke="#1f55ff" stroke-width="0.5"/>
<polygon points="594.23,218.08 596.89,222.47 591.56,222.47" fill="#1f55ff" stroke="#1f55ff" stroke-width="0.5"/>
<polygon points="597.05,210.56 599.71,214.94 594.38,214.94" fill="#1f55ff" stroke="#1f55ff" stroke-width="0.5"/>
<polygon points="599.86,208.88 602.53,213.27 597.2,213.27" fill="#1f55ff" stroke="#1f55ff" stroke-width="0.5"/>
<polygon points="602.68,206.65 605.34,211.04 600.01,211.04" fill="#1f55ff" stroke="#1f55ff" stroke-width="0.5"/>
<polygon points="605.5,200.03 608.16,204.42 602.83,204.42" fill="#1f55ff" stroke="#1f55ff" stroke-width="0.5"/>
<polygon points="608.31,192.18 610.98,196.57 605.65,196.57" fill="#1f55ff" stroke="#1f55ff" stroke-width="0.5"/>
<polygon points="611.13,189.81 613.79,194.2 608.46,194.2" fill="#1f55ff" stroke="#1f55ff" stroke-width="0.5"/>
<polygon points="613.94,184.68 616.61,189.06 611.28,189.06" fill="#1f55ff" stroke="#1f55ff" stroke-width="0.5"/>
<polygon points="616.76,178.06 619.43,182.45 614.09,182.45" fill="#1f55ff" stroke="#1f55ff" stroke-width="0.5"/>
<polygon points="619.58,175.16 622.24,179.55 616.91,179.55" fill="#1f55ff" stroke="#1f55ff" stroke-width="0.5"/>
<polygon points="622.39,177.25 625.06,181.63 619.73,181.63" fill="#1f55ff" stroke="#1f55ff" stroke-width="0.5"/>
<polygon points="625.21,177.67 627.88,182.06 622.54,182.06" fill="#1f55ff" stroke="#1f55ff" stroke-width="0.5"/>
<polygon points="628.03,177.67 630.69,182.05 625.36,182.05" fill="#1f55ff" stroke="#1f55ff" stroke-width="0.5"/>
<polygon points="630.84,163 633.51,167.39 628.18,167.39" fill="#1f55ff" stroke="#1f55ff" stroke-width="0.5"/>
<polygon points="633.66,146.46 636.33,150.85 630.99,150.85" fill="#1f55ff" stroke="#1f55ff" stroke-width="0.5"/>
<polygon points="636.48,138.64 639.14,143.02 633.81,143.02" fill="#1f55ff" stroke="#1f55ff" stroke-width="0.5"/>
<polygon points="639.29,139.37 641.96,143.76 636.63,143.76" fill="#1f55ff" stroke="#1f55ff" stroke-width="0.5"/>
<polygon points="642.11,129.58 644.78,133.96 639.44,133.96" fill="#1f55ff" stroke="#1f55ff" stroke-width="0.5"/>
<polygon points="644.93,136.97 647.59,141.35 642.26,141.35" fill="#1f55ff" stroke="#1f55ff" stroke-width="0.5"/>
<polygon points="647.74,143.33 650.41,147.71 645.08,147.71" fill="#1f55ff" stroke="#1f55ff" stroke-width="0.5"/>
<polygon points="650.56,158.26 653.22,162.65 647.89,162.65" fill="#1f55ff" stroke="#1f55ff" stroke-width="0.5"/>
<polygon points="653.38,177.27 656.04,181.66 650.71,181.66" fill="#1f55ff" stroke="#1f55ff" stroke-width="0.5"/>
<polygon points="656.19,198.34 658.86,202.73 653.53,202.73" fill="#1f55ff" stroke="#1f55ff" stroke-width="0.5"/>
<polygon points="659.01,209.03 661.67,213.41 656.34,213.41" fill="#1f55ff" stroke="#1f55ff" stroke-width="0.5"/>
<polygon points="661.83,217.34 664.49,221.73 659.16,221.73" fill="#1f55ff" stroke="#1f55ff" stroke-width="0.5"/>
<polygon points="664.64,218.55 667.31,222.93 661.98,222.93" fill="#1f55ff" stroke="#1f55ff" stroke-width="0.5"/>
<polygon points="667.46,220.07 670.12,224.46 664.79,224.46" fill="#1f55ff" stroke="#1f55ff" stroke-width="0.5"/>
<polygon points="670.27,219.65 672.94,224.04 667.61,224.04" fill="#1f55ff" stroke="#1f55ff" stroke-width="0.5"/>
<polygon points="673.09,221.69 675.76,226.08 670.42,226.08" fill="#1f55ff" stroke="#1f55ff" stroke-width="0.5"/>
<polygon points="675.91,220.9 678.57,225.29 673.24,225.29" fill="#1f55ff" stroke="#1f55ff" stroke-width="0.5"/>
<polygon points="678.72,220.66 681.39,225.05 676.06,225.05" fill="#1f55ff" stroke="#1f55ff" stroke-width="0.5"/>
<polygon points="681.54,227.16 684.21,231.55 678.87,231.55" fill="#1f55ff" stroke="#1f55ff" stroke-width="0.5"/>
<polygon points="684.36,224.7 687.02,229.08 681.69,229.08" fill="#1f55ff" stroke="#1f55ff" stroke-width="0.5"/>
<polygon points="687.17,227.58 689.84,231.97 684.51,231.97" fill="#1f55ff" stroke="#1f55ff" stroke-width="0.5"/>
<polygon points="689.99,222.04 692.66,226.43 687.32,226.43" fill="#1f55ff" stroke="#1f55ff" stroke-width="0.5"/>
<path d="M411.73,143.36 L413.85,148.81 L415.98,150.01 L418.1,149.63 L420.22,149.97 L422.35,148.77 L424.48,155.21 L426.6,151.02 L428.72,155.32 L430.85,152.37 L432.98,143.08 L435.1,146.19 L437.23,138.17 L439.35,108.15 L441.47,93.69 L443.6,85.93 L445.73,90.48 L447.85,77.52 L449.97,80.04 L452.1,108.24 L454.23,111.05 L456.35,116.43 L458.48,125.05 L460.6,144 L462.72,147.04 L464.85,155.16 L466.98,166.41 L469.1,166.7 L471.22,159.39 L473.35,156 L475.48,152.91 L477.6,150.31 L479.73,150.49 L481.85,159.58 L483.97,151.79 L486.1,157.92 L488.23,163.68 L490.35,159.96 L492.47,159.11" fill="none" stroke="#169a16" stroke-width="1.3" stroke-linejoin="round"/>
<circle cx="411.73" cy="143.36" r="2.15" fill="#169a16" stroke="#169a16" stroke-width="0.5"/>
<circle cx="413.85" cy="148.81" r="2.15" fill="#169a16" stroke="#169a16" stroke-width="0.5"/>
<circle cx="415.98" cy="150.01" r="2.15" fill="#169a16" stroke="#169a16" stroke-width="0.5"/>
<circle cx="418.1" cy="149.63" r="2.15" fill="#169a16" stroke="#169a16" stroke-width="0.5"/>
<circle cx="420.22" cy="149.97" r="2.15" fill="#169a16" stroke="#169a16" stroke-width="0.5"/>
<circle cx="422.35" cy="148.77" r="2.15" fill="#169a16" stroke="#169a16" stroke-width="0.5"/>
<circle cx="424.48" cy="155.21" r="2.15" fill="#169a16" stroke="#169a16" stroke-width="0.5"/>
<circle cx="426.6" cy="151.02" r="2.15" fill="#169a16" stroke="#169a16" stroke-width="0.5"/>
<circle cx="428.72" cy="155.32" r="2.15" fill="#169a16" stroke="#169a16" stroke-width="0.5"/>
<circle cx="430.85" cy="152.37" r="2.15" fill="#169a16" stroke="#169a16" stroke-width="0.5"/>
<circle cx="432.98" cy="143.08" r="2.15" fill="#169a16" stroke="#169a16" stroke-width="0.5"/>
<circle cx="435.1" cy="146.19" r="2.15" fill="#169a16" stroke="#169a16" stroke-width="0.5"/>
<circle cx="437.23" cy="138.17" r="2.15" fill="#169a16" stroke="#169a16" stroke-width="0.5"/>
<circle cx="439.35" cy="108.15" r="2.15" fill="#169a16" stroke="#169a16" stroke-width="0.5"/>
<circle cx="441.47" cy="93.69" r="2.15" fill="#169a16" stroke="#169a16" stroke-width="0.5"/>
<circle cx="443.6" cy="85.93" r="2.15" fill="#169a16" stroke="#169a16" stroke-width="0.5"/>
<circle cx="445.73" cy="90.48" r="2.15" fill="#169a16" stroke="#169a16" stroke-width="0.5"/>
<circle cx="447.85" cy="77.52" r="2.15" fill="#169a16" stroke="#169a16" stroke-width="0.5"/>
<circle cx="449.97" cy="80.04" r="2.15" fill="#169a16" stroke="#169a16" stroke-width="0.5"/>
<circle cx="452.1" cy="108.24" r="2.15" fill="#169a16" stroke="#169a16" stroke-width="0.5"/>
<circle cx="454.23" cy="111.05" r="2.15" fill="#169a16" stroke="#169a16" stroke-width="0.5"/>
<circle cx="456.35" cy="116.43" r="2.15" fill="#169a16" stroke="#169a16" stroke-width="0.5"/>
<circle cx="458.48" cy="125.05" r="2.15" fill="#169a16" stroke="#169a16" stroke-width="0.5"/>
<circle cx="460.6" cy="144" r="2.15" fill="#169a16" stroke="#169a16" stroke-width="0.5"/>
<circle cx="462.72" cy="147.04" r="2.15" fill="#169a16" stroke="#169a16" stroke-width="0.5"/>
<circle cx="464.85" cy="155.16" r="2.15" fill="#169a16" stroke="#169a16" stroke-width="0.5"/>
<circle cx="466.98" cy="166.41" r="2.15" fill="#169a16" stroke="#169a16" stroke-width="0.5"/>
<circle cx="469.1" cy="166.7" r="2.15" fill="#169a16" stroke="#169a16" stroke-width="0.5"/>
<circle cx="471.22" cy="159.39" r="2.15" fill="#169a16" stroke="#169a16" stroke-width="0.5"/>
<circle cx="473.35" cy="156" r="2.15" fill="#169a16" stroke="#169a16" stroke-width="0.5"/>
<circle cx="475.48" cy="152.91" r="2.15" fill="#169a16" stroke="#169a16" stroke-width="0.5"/>
<circle cx="477.6" cy="150.31" r="2.15" fill="#169a16" stroke="#169a16" stroke-width="0.5"/>
<circle cx="479.73" cy="150.49" r="2.15" fill="#169a16" stroke="#169a16" stroke-width="0.5"/>
<circle cx="481.85" cy="159.58" r="2.15" fill="#169a16" stroke="#169a16" stroke-width="0.5"/>
<circle cx="483.97" cy="151.79" r="2.15" fill="#169a16" stroke="#169a16" stroke-width="0.5"/>
<circle cx="486.1" cy="157.92" r="2.15" fill="#169a16" stroke="#169a16" stroke-width="0.5"/>
<circle cx="488.23" cy="163.68" r="2.15" fill="#169a16" stroke="#169a16" stroke-width="0.5"/>
<circle cx="490.35" cy="159.96" r="2.15" fill="#169a16" stroke="#169a16" stroke-width="0.5"/>
<circle cx="492.47" cy="159.11" r="2.15" fill="#169a16" stroke="#169a16" stroke-width="0.5"/>
<path d="M501.28,224.72 L504.1,222.77 L506.92,224.32 L509.73,231.64 L512.55,219.38 L515.37,222.11 L518.18,227.7 L521,216.08 L523.82,211.38 L526.63,216.89 L529.45,210.25 L532.27,212.74 L535.08,206.84 L537.9,197.43 L540.72,198.58 L543.53,205.49 L546.35,201.56 L549.16,211.65 L551.98,207.65 L554.8,208.45 L557.61,210.64 L560.43,223.55 L563.25,225.42 L566.06,224.83 L568.88,221.57 L571.7,223.48 L574.51,217.76 L577.33,225 L580.15,217.36 L582.96,221.87 L585.78,215.97 L588.6,218.6 L591.41,216.04 L594.23,219.89 L597.05,212.57 L599.86,204.4 L602.68,206.58 L605.5,194.61 L608.31,197.81 L611.13,195.12 L613.94,181.31 L616.76,177.19 L619.58,175.65 L622.39,180.81 L625.21,174.95 L628.03,177 L630.84,165.51 L633.66,153.08 L636.48,147.85 L639.29,134.23 L642.11,135.13 L644.93,140.77 L647.74,145.33 L650.56,159.43 L653.38,175.77 L656.19,192.03 L659.01,202.58 L661.83,216.42 L664.64,218.78 L667.46,223.29 L670.27,222.61 L673.09,225.67 L675.91,230.56 L678.72,222.94 L681.54,226.13 L684.36,226.5 L687.17,225.49 L689.99,222.03" fill="none" stroke="#169a16" stroke-width="1.3" stroke-linejoin="round"/>
<circle cx="501.28" cy="224.72" r="2.15" fill="#169a16" stroke="#169a16" stroke-width="0.5"/>
<circle cx="504.1" cy="222.77" r="2.15" fill="#169a16" stroke="#169a16" stroke-width="0.5"/>
<circle cx="506.92" cy="224.32" r="2.15" fill="#169a16" stroke="#169a16" stroke-width="0.5"/>
<circle cx="509.73" cy="231.64" r="2.15" fill="#169a16" stroke="#169a16" stroke-width="0.5"/>
<circle cx="512.55" cy="219.38" r="2.15" fill="#169a16" stroke="#169a16" stroke-width="0.5"/>
<circle cx="515.37" cy="222.11" r="2.15" fill="#169a16" stroke="#169a16" stroke-width="0.5"/>
<circle cx="518.18" cy="227.7" r="2.15" fill="#169a16" stroke="#169a16" stroke-width="0.5"/>
<circle cx="521" cy="216.08" r="2.15" fill="#169a16" stroke="#169a16" stroke-width="0.5"/>
<circle cx="523.82" cy="211.38" r="2.15" fill="#169a16" stroke="#169a16" stroke-width="0.5"/>
<circle cx="526.63" cy="216.89" r="2.15" fill="#169a16" stroke="#169a16" stroke-width="0.5"/>
<circle cx="529.45" cy="210.25" r="2.15" fill="#169a16" stroke="#169a16" stroke-width="0.5"/>
<circle cx="532.27" cy="212.74" r="2.15" fill="#169a16" stroke="#169a16" stroke-width="0.5"/>
<circle cx="535.08" cy="206.84" r="2.15" fill="#169a16" stroke="#169a16" stroke-width="0.5"/>
<circle cx="537.9" cy="197.43" r="2.15" fill="#169a16" stroke="#169a16" stroke-width="0.5"/>
<circle cx="540.72" cy="198.58" r="2.15" fill="#169a16" stroke="#169a16" stroke-width="0.5"/>
<circle cx="543.53" cy="205.49" r="2.15" fill="#169a16" stroke="#169a16" stroke-width="0.5"/>
<circle cx="546.35" cy="201.56" r="2.15" fill="#169a16" stroke="#169a16" stroke-width="0.5"/>
<circle cx="549.16" cy="211.65" r="2.15" fill="#169a16" stroke="#169a16" stroke-width="0.5"/>
<circle cx="551.98" cy="207.65" r="2.15" fill="#169a16" stroke="#169a16" stroke-width="0.5"/>
<circle cx="554.8" cy="208.45" r="2.15" fill="#169a16" stroke="#169a16" stroke-width="0.5"/>
<circle cx="557.61" cy="210.64" r="2.15" fill="#169a16" stroke="#169a16" stroke-width="0.5"/>
<circle cx="560.43" cy="223.55" r="2.15" fill="#169a16" stroke="#169a16" stroke-width="0.5"/>
<circle cx="563.25" cy="225.42" r="2.15" fill="#169a16" stroke="#169a16" stroke-width="0.5"/>
<circle cx="566.06" cy="224.83" r="2.15" fill="#169a16" stroke="#169a16" stroke-width="0.5"/>
<circle cx="568.88" cy="221.57" r="2.15" fill="#169a16" stroke="#169a16" stroke-width="0.5"/>
<circle cx="571.7" cy="223.48" r="2.15" fill="#169a16" stroke="#169a16" stroke-width="0.5"/>
<circle cx="574.51" cy="217.76" r="2.15" fill="#169a16" stroke="#169a16" stroke-width="0.5"/>
<circle cx="577.33" cy="225" r="2.15" fill="#169a16" stroke="#169a16" stroke-width="0.5"/>
<circle cx="580.15" cy="217.36" r="2.15" fill="#169a16" stroke="#169a16" stroke-width="0.5"/>
<circle cx="582.96" cy="221.87" r="2.15" fill="#169a16" stroke="#169a16" stroke-width="0.5"/>
<circle cx="585.78" cy="215.97" r="2.15" fill="#169a16" stroke="#169a16" stroke-width="0.5"/>
<circle cx="588.6" cy="218.6" r="2.15" fill="#169a16" stroke="#169a16" stroke-width="0.5"/>
<circle cx="591.41" cy="216.04" r="2.15" fill="#169a16" stroke="#169a16" stroke-width="0.5"/>
<circle cx="594.23" cy="219.89" r="2.15" fill="#169a16" stroke="#169a16" stroke-width="0.5"/>
<circle cx="597.05" cy="212.57" r="2.15" fill="#169a16" stroke="#169a16" stroke-width="0.5"/>
<circle cx="599.86" cy="204.4" r="2.15" fill="#169a16" stroke="#169a16" stroke-width="0.5"/>
<circle cx="602.68" cy="206.58" r="2.15" fill="#169a16" stroke="#169a16" stroke-width="0.5"/>
<circle cx="605.5" cy="194.61" r="2.15" fill="#169a16" stroke="#169a16" stroke-width="0.5"/>
<circle cx="608.31" cy="197.81" r="2.15" fill="#169a16" stroke="#169a16" stroke-width="0.5"/>
<circle cx="611.13" cy="195.12" r="2.15" fill="#169a16" stroke="#169a16" stroke-width="0.5"/>
<circle cx="613.94" cy="181.31" r="2.15" fill="#169a16" stroke="#169a16" stroke-width="0.5"/>
<circle cx="616.76" cy="177.19" r="2.15" fill="#169a16" stroke="#169a16" stroke-width="0.5"/>
<circle cx="619.58" cy="175.65" r="2.15" fill="#169a16" stroke="#169a16" stroke-width="0.5"/>
<circle cx="622.39" cy="180.81" r="2.15" fill="#169a16" stroke="#169a16" stroke-width="0.5"/>
<circle cx="625.21" cy="174.95" r="2.15" fill="#169a16" stroke="#169a16" stroke-width="0.5"/>
<circle cx="628.03" cy="177" r="2.15" fill="#169a16" stroke="#169a16" stroke-width="0.5"/>
<circle cx="630.84" cy="165.51" r="2.15" fill="#169a16" stroke="#169a16" stroke-width="0.5"/>
<circle cx="633.66" cy="153.08" r="2.15" fill="#169a16" stroke="#169a16" stroke-width="0.5"/>
<circle cx="636.48" cy="147.85" r="2.15" fill="#169a16" stroke="#169a16" stroke-width="0.5"/>
<circle cx="639.29" cy="134.23" r="2.15" fill="#169a16" stroke="#169a16" stroke-width="0.5"/>
<circle cx="642.11" cy="135.13" r="2.15" fill="#169a16" stroke="#169a16" stroke-width="0.5"/>
<circle cx="644.93" cy="140.77" r="2.15" fill="#169a16" stroke="#169a16" stroke-width="0.5"/>
<circle cx="647.74" cy="145.33" r="2.15" fill="#169a16" stroke="#169a16" stroke-width="0.5"/>
<circle cx="650.56" cy="159.43" r="2.15" fill="#169a16" stroke="#169a16" stroke-width="0.5"/>
<circle cx="653.38" cy="175.77" r="2.15" fill="#169a16" stroke="#169a16" stroke-width="0.5"/>
<circle cx="656.19" cy="192.03" r="2.15" fill="#169a16" stroke="#169a16" stroke-width="0.5"/>
<circle cx="659.01" cy="202.58" r="2.15" fill="#169a16" stroke="#169a16" stroke-width="0.5"/>
<circle cx="661.83" cy="216.42" r="2.15" fill="#169a16" stroke="#169a16" stroke-width="0.5"/>
<circle cx="664.64" cy="218.78" r="2.15" fill="#169a16" stroke="#169a16" stroke-width="0.5"/>
<circle cx="667.46" cy="223.29" r="2.15" fill="#169a16" stroke="#169a16" stroke-width="0.5"/>
<circle cx="670.27" cy="222.61" r="2.15" fill="#169a16" stroke="#169a16" stroke-width="0.5"/>
<circle cx="673.09" cy="225.67" r="2.15" fill="#169a16" stroke="#169a16" stroke-width="0.5"/>
<circle cx="675.91" cy="230.56" r="2.15" fill="#169a16" stroke="#169a16" stroke-width="0.5"/>
<circle cx="678.72" cy="222.94" r="2.15" fill="#169a16" stroke="#169a16" stroke-width="0.5"/>
<circle cx="681.54" cy="226.13" r="2.15" fill="#169a16" stroke="#169a16" stroke-width="0.5"/>
<circle cx="684.36" cy="226.5" r="2.15" fill="#169a16" stroke="#169a16" stroke-width="0.5"/>
<circle cx="687.17" cy="225.49" r="2.15" fill="#169a16" stroke="#169a16" stroke-width="0.5"/>
<circle cx="689.99" cy="222.03" r="2.15" fill="#169a16" stroke="#169a16" stroke-width="0.5"/>
<path d="M411.73,147.87 L413.85,145.95 L415.98,141.1 L418.1,145.66 L420.22,146.84 L422.35,143.21 L424.48,148.29 L426.6,140.02 L428.72,147.6 L430.85,144.98 L432.98,138.05 L435.1,132.94 L437.23,130.85 L439.35,101.82 L441.47,89.5 L443.6,82.07 L445.73,85.36 L447.85,75.11 L449.97,78.51 L452.1,101.6 L454.23,106.87 L456.35,109.03 L458.48,124.63 L460.6,139.5 L462.72,147.54 L464.85,156.79 L466.98,159.08 L469.1,143.52 L471.22,150.1 L473.35,148.7 L475.48,149.45 L477.6,143.14 L479.73,155.15 L481.85,148.26 L483.97,156.45 L486.1,150.95 L488.23,162.13 L490.35,162.19 L492.47,157.42" fill="none" stroke="#f5821f" stroke-width="1.3" stroke-linejoin="round"/>
<polygon points="414.31,147.87 409.92,145.21 409.92,150.54" fill="#f5821f" stroke="#f5821f" stroke-width="0.5"/>
<polygon points="416.43,145.95 412.04,143.28 412.04,148.61" fill="#f5821f" stroke="#f5821f" stroke-width="0.5"/>
<polygon points="418.56,141.1 414.17,138.43 414.17,143.76" fill="#f5821f" stroke="#f5821f" stroke-width="0.5"/>
<polygon points="420.68,145.66 416.29,143 416.29,148.33" fill="#f5821f" stroke="#f5821f" stroke-width="0.5"/>
<polygon points="422.8,146.84 418.42,144.17 418.42,149.5" fill="#f5821f" stroke="#f5821f" stroke-width="0.5"/>
<polygon points="424.93,143.21 420.54,140.55 420.54,145.88" fill="#f5821f" stroke="#f5821f" stroke-width="0.5"/>
<polygon points="427.06,148.29 422.67,145.62 422.67,150.95" fill="#f5821f" stroke="#f5821f" stroke-width="0.5"/>
<polygon points="429.18,140.02 424.79,137.36 424.79,142.69" fill="#f5821f" stroke="#f5821f" stroke-width="0.5"/>
<polygon points="431.3,147.6 426.92,144.93 426.92,150.26" fill="#f5821f" stroke="#f5821f" stroke-width="0.5"/>
<polygon points="433.43,144.98 429.04,142.31 429.04,147.64" fill="#f5821f" stroke="#f5821f" stroke-width="0.5"/>
<polygon points="435.56,138.05 431.17,135.38 431.17,140.72" fill="#f5821f" stroke="#f5821f" stroke-width="0.5"/>
<polygon points="437.68,132.94 433.29,130.28 433.29,135.61" fill="#f5821f" stroke="#f5821f" stroke-width="0.5"/>
<polygon points="439.81,130.85 435.42,128.19 435.42,133.52" fill="#f5821f" stroke="#f5821f" stroke-width="0.5"/>
<polygon points="441.93,101.82 437.54,99.16 437.54,104.49" fill="#f5821f" stroke="#f5821f" stroke-width="0.5"/>
<polygon points="444.05,89.5 439.67,86.84 439.67,92.17" fill="#f5821f" stroke="#f5821f" stroke-width="0.5"/>
<polygon points="446.18,82.07 441.79,79.41 441.79,84.74" fill="#f5821f" stroke="#f5821f" stroke-width="0.5"/>
<polygon points="448.31,85.36 443.92,82.7 443.92,88.03" fill="#f5821f" stroke="#f5821f" stroke-width="0.5"/>
<polygon points="450.43,75.11 446.04,72.44 446.04,77.78" fill="#f5821f" stroke="#f5821f" stroke-width="0.5"/>
<polygon points="452.55,78.51 448.17,75.85 448.17,81.18" fill="#f5821f" stroke="#f5821f" stroke-width="0.5"/>
<polygon points="454.68,101.6 450.29,98.94 450.29,104.27" fill="#f5821f" stroke="#f5821f" stroke-width="0.5"/>
<polygon points="456.81,106.87 452.42,104.21 452.42,109.54" fill="#f5821f" stroke="#f5821f" stroke-width="0.5"/>
<polygon points="458.93,109.03 454.54,106.37 454.54,111.7" fill="#f5821f" stroke="#f5821f" stroke-width="0.5"/>
<polygon points="461.06,124.63 456.67,121.97 456.67,127.3" fill="#f5821f" stroke="#f5821f" stroke-width="0.5"/>
<polygon points="463.18,139.5 458.79,136.83 458.79,142.17" fill="#f5821f" stroke="#f5821f" stroke-width="0.5"/>
<polygon points="465.3,147.54 460.92,144.87 460.92,150.2" fill="#f5821f" stroke="#f5821f" stroke-width="0.5"/>
<polygon points="467.43,156.79 463.04,154.13 463.04,159.46" fill="#f5821f" stroke="#f5821f" stroke-width="0.5"/>
<polygon points="469.56,159.08 465.17,156.41 465.17,161.74" fill="#f5821f" stroke="#f5821f" stroke-width="0.5"/>
<polygon points="471.68,143.52 467.29,140.85 467.29,146.18" fill="#f5821f" stroke="#f5821f" stroke-width="0.5"/>
<polygon points="473.8,150.1 469.42,147.43 469.42,152.76" fill="#f5821f" stroke="#f5821f" stroke-width="0.5"/>
<polygon points="475.93,148.7 471.54,146.03 471.54,151.36" fill="#f5821f" stroke="#f5821f" stroke-width="0.5"/>
<polygon points="478.06,149.45 473.67,146.79 473.67,152.12" fill="#f5821f" stroke="#f5821f" stroke-width="0.5"/>
<polygon points="480.18,143.14 475.79,140.48 475.79,145.81" fill="#f5821f" stroke="#f5821f" stroke-width="0.5"/>
<polygon points="482.31,155.15 477.92,152.49 477.92,157.82" fill="#f5821f" stroke="#f5821f" stroke-width="0.5"/>
<polygon points="484.43,148.26 480.04,145.59 480.04,150.92" fill="#f5821f" stroke="#f5821f" stroke-width="0.5"/>
<polygon points="486.55,156.45 482.17,153.79 482.17,159.12" fill="#f5821f" stroke="#f5821f" stroke-width="0.5"/>
<polygon points="488.68,150.95 484.29,148.28 484.29,153.62" fill="#f5821f" stroke="#f5821f" stroke-width="0.5"/>
<polygon points="490.81,162.13 486.42,159.47 486.42,164.8" fill="#f5821f" stroke="#f5821f" stroke-width="0.5"/>
<polygon points="492.93,162.19 488.54,159.52 488.54,164.86" fill="#f5821f" stroke="#f5821f" stroke-width="0.5"/>
<polygon points="495.05,157.42 490.67,154.76 490.67,160.09" fill="#f5821f" stroke="#f5821f" stroke-width="0.5"/>
<path d="M501.28,230.9 L504.1,232.35 L506.92,232.85 L509.73,234.31 L512.55,234.56 L515.37,232.13 L518.18,229.65 L521,225.8 L523.82,221.72 L526.63,225.7 L529.45,223.47 L532.27,216.82 L535.08,212.56 L537.9,207.72 L540.72,213.3 L543.53,216.93 L546.35,214.4 L549.16,215.22 L551.98,216.89 L554.8,217.74 L557.61,220.96 L560.43,224.84 L563.25,232.8 L566.06,226.86 L568.88,232 L571.7,229.95 L574.51,227.48 L577.33,229.28 L580.15,226.04 L582.96,230.22 L585.78,231.94 L588.6,229.94 L591.41,225.77 L594.23,226.16 L597.05,220.82 L599.86,222.35 L602.68,214.89 L605.5,205.7 L608.31,207.3 L611.13,197.33 L613.94,196.43 L616.76,190.7 L619.58,188.83 L622.39,191.94 L625.21,191.36 L628.03,187.14 L630.84,178.15 L633.66,167.89 L636.48,157.43 L639.29,151.64 L642.11,149.27 L644.93,156.02 L647.74,161.68 L650.56,175.58 L653.38,199.8 L656.19,206.27 L659.01,215.38 L661.83,229.41 L664.64,223.5 L667.46,230.43 L670.27,234.11 L673.09,232.93 L675.91,234.2 L678.72,226.84 L681.54,237.39 L684.36,232.14 L687.17,232.44 L689.99,231.7" fill="none" stroke="#f5821f" stroke-width="1.3" stroke-linejoin="round"/>
<polygon points="503.86,230.9 499.48,228.23 499.48,233.56" fill="#f5821f" stroke="#f5821f" stroke-width="0.5"/>
<polygon points="506.68,232.35 502.29,229.68 502.29,235.01" fill="#f5821f" stroke="#f5821f" stroke-width="0.5"/>
<polygon points="509.5,232.85 505.11,230.19 505.11,235.52" fill="#f5821f" stroke="#f5821f" stroke-width="0.5"/>
<polygon points="512.31,234.31 507.93,231.64 507.93,236.98" fill="#f5821f" stroke="#f5821f" stroke-width="0.5"/>
<polygon points="515.13,234.56 510.74,231.9 510.74,237.23" fill="#f5821f" stroke="#f5821f" stroke-width="0.5"/>
<polygon points="517.95,232.13 513.56,229.46 513.56,234.8" fill="#f5821f" stroke="#f5821f" stroke-width="0.5"/>
<polygon points="520.76,229.65 516.38,226.98 516.38,232.31" fill="#f5821f" stroke="#f5821f" stroke-width="0.5"/>
<polygon points="523.58,225.8 519.19,223.13 519.19,228.46" fill="#f5821f" stroke="#f5821f" stroke-width="0.5"/>
<polygon points="526.4,221.72 522.01,219.05 522.01,224.39" fill="#f5821f" stroke="#f5821f" stroke-width="0.5"/>
<polygon points="529.21,225.7 524.83,223.04 524.83,228.37" fill="#f5821f" stroke="#f5821f" stroke-width="0.5"/>
<polygon points="532.03,223.47 527.64,220.8 527.64,226.14" fill="#f5821f" stroke="#f5821f" stroke-width="0.5"/>
<polygon points="534.85,216.82 530.46,214.15 530.46,219.48" fill="#f5821f" stroke="#f5821f" stroke-width="0.5"/>
<polygon points="537.66,212.56 533.28,209.89 533.28,215.22" fill="#f5821f" stroke="#f5821f" stroke-width="0.5"/>
<polygon points="540.48,207.72 536.09,205.05 536.09,210.39" fill="#f5821f" stroke="#f5821f" stroke-width="0.5"/>
<polygon points="543.3,213.3 538.91,210.63 538.91,215.96" fill="#f5821f" stroke="#f5821f" stroke-width="0.5"/>
<polygon points="546.11,216.93 541.73,214.27 541.73,219.6" fill="#f5821f" stroke="#f5821f" stroke-width="0.5"/>
<polygon points="548.93,214.4 544.54,211.73 544.54,217.06" fill="#f5821f" stroke="#f5821f" stroke-width="0.5"/>
<polygon points="551.75,215.22 547.36,212.55 547.36,217.88" fill="#f5821f" stroke="#f5821f" stroke-width="0.5"/>
<polygon points="554.56,216.89 550.18,214.23 550.18,219.56" fill="#f5821f" stroke="#f5821f" stroke-width="0.5"/>
<polygon points="557.38,217.74 552.99,215.07 552.99,220.41" fill="#f5821f" stroke="#f5821f" stroke-width="0.5"/>
<polygon points="560.19,220.96 555.81,218.29 555.81,223.63" fill="#f5821f" stroke="#f5821f" stroke-width="0.5"/>
<polygon points="563.01,224.84 558.62,222.17 558.62,227.5" fill="#f5821f" stroke="#f5821f" stroke-width="0.5"/>
<polygon points="565.83,232.8 561.44,230.14 561.44,235.47" fill="#f5821f" stroke="#f5821f" stroke-width="0.5"/>
<polygon points="568.64,226.86 564.26,224.2 564.26,229.53" fill="#f5821f" stroke="#f5821f" stroke-width="0.5"/>
<polygon points="571.46,232 567.07,229.34 567.07,234.67" fill="#f5821f" stroke="#f5821f" stroke-width="0.5"/>
<polygon points="574.28,229.95 569.89,227.29 569.89,232.62" fill="#f5821f" stroke="#f5821f" stroke-width="0.5"/>
<polygon points="577.09,227.48 572.71,224.81 572.71,230.14" fill="#f5821f" stroke="#f5821f" stroke-width="0.5"/>
<polygon points="579.91,229.28 575.52,226.61 575.52,231.94" fill="#f5821f" stroke="#f5821f" stroke-width="0.5"/>
<polygon points="582.73,226.04 578.34,223.37 578.34,228.7" fill="#f5821f" stroke="#f5821f" stroke-width="0.5"/>
<polygon points="585.54,230.22 581.16,227.55 581.16,232.89" fill="#f5821f" stroke="#f5821f" stroke-width="0.5"/>
<polygon points="588.36,231.94 583.97,229.27 583.97,234.61" fill="#f5821f" stroke="#f5821f" stroke-width="0.5"/>
<polygon points="591.18,229.94 586.79,227.28 586.79,232.61" fill="#f5821f" stroke="#f5821f" stroke-width="0.5"/>
<polygon points="593.99,225.77 589.61,223.11 589.61,228.44" fill="#f5821f" stroke="#f5821f" stroke-width="0.5"/>
<polygon points="596.81,226.16 592.42,223.49 592.42,228.83" fill="#f5821f" stroke="#f5821f" stroke-width="0.5"/>
<polygon points="599.63,220.82 595.24,218.16 595.24,223.49" fill="#f5821f" stroke="#f5821f" stroke-width="0.5"/>
<polygon points="602.44,222.35 598.06,219.69 598.06,225.02" fill="#f5821f" stroke="#f5821f" stroke-width="0.5"/>
<polygon points="605.26,214.89 600.87,212.23 600.87,217.56" fill="#f5821f" stroke="#f5821f" stroke-width="0.5"/>
<polygon points="608.08,205.7 603.69,203.04 603.69,208.37" fill="#f5821f" stroke="#f5821f" stroke-width="0.5"/>
<polygon points="610.89,207.3 606.51,204.63 606.51,209.96" fill="#f5821f" stroke="#f5821f" stroke-width="0.5"/>
<polygon points="613.71,197.33 609.32,194.67 609.32,200" fill="#f5821f" stroke="#f5821f" stroke-width="0.5"/>
<polygon points="616.52,196.43 612.14,193.76 612.14,199.1" fill="#f5821f" stroke="#f5821f" stroke-width="0.5"/>
<polygon points="619.34,190.7 614.95,188.03 614.95,193.37" fill="#f5821f" stroke="#f5821f" stroke-width="0.5"/>
<polygon points="622.16,188.83 617.77,186.16 617.77,191.49" fill="#f5821f" stroke="#f5821f" stroke-width="0.5"/>
<polygon points="624.97,191.94 620.59,189.28 620.59,194.61" fill="#f5821f" stroke="#f5821f" stroke-width="0.5"/>
<polygon points="627.79,191.36 623.4,188.69 623.4,194.02" fill="#f5821f" stroke="#f5821f" stroke-width="0.5"/>
<polygon points="630.61,187.14 626.22,184.48 626.22,189.81" fill="#f5821f" stroke="#f5821f" stroke-width="0.5"/>
<polygon points="633.42,178.15 629.04,175.49 629.04,180.82" fill="#f5821f" stroke="#f5821f" stroke-width="0.5"/>
<polygon points="636.24,167.89 631.85,165.22 631.85,170.55" fill="#f5821f" stroke="#f5821f" stroke-width="0.5"/>
<polygon points="639.06,157.43 634.67,154.77 634.67,160.1" fill="#f5821f" stroke="#f5821f" stroke-width="0.5"/>
<polygon points="641.87,151.64 637.49,148.97 637.49,154.31" fill="#f5821f" stroke="#f5821f" stroke-width="0.5"/>
<polygon points="644.69,149.27 640.3,146.61 640.3,151.94" fill="#f5821f" stroke="#f5821f" stroke-width="0.5"/>
<polygon points="647.51,156.02 643.12,153.35 643.12,158.68" fill="#f5821f" stroke="#f5821f" stroke-width="0.5"/>
<polygon points="650.32,161.68 645.94,159.01 645.94,164.35" fill="#f5821f" stroke="#f5821f" stroke-width="0.5"/>
<polygon points="653.14,175.58 648.75,172.92 648.75,178.25" fill="#f5821f" stroke="#f5821f" stroke-width="0.5"/>
<polygon points="655.96,199.8 651.57,197.14 651.57,202.47" fill="#f5821f" stroke="#f5821f" stroke-width="0.5"/>
<polygon points="658.77,206.27 654.39,203.6 654.39,208.93" fill="#f5821f" stroke="#f5821f" stroke-width="0.5"/>
<polygon points="661.59,215.38 657.2,212.71 657.2,218.04" fill="#f5821f" stroke="#f5821f" stroke-width="0.5"/>
<polygon points="664.41,229.41 660.02,226.75 660.02,232.08" fill="#f5821f" stroke="#f5821f" stroke-width="0.5"/>
<polygon points="667.22,223.5 662.84,220.84 662.84,226.17" fill="#f5821f" stroke="#f5821f" stroke-width="0.5"/>
<polygon points="670.04,230.43 665.65,227.77 665.65,233.1" fill="#f5821f" stroke="#f5821f" stroke-width="0.5"/>
<polygon points="672.85,234.11 668.47,231.44 668.47,236.77" fill="#f5821f" stroke="#f5821f" stroke-width="0.5"/>
<polygon points="675.67,232.93 671.28,230.26 671.28,235.59" fill="#f5821f" stroke="#f5821f" stroke-width="0.5"/>
<polygon points="678.49,234.2 674.1,231.53 674.1,236.86" fill="#f5821f" stroke="#f5821f" stroke-width="0.5"/>
<polygon points="681.3,226.84 676.92,224.17 676.92,229.5" fill="#f5821f" stroke="#f5821f" stroke-width="0.5"/>
<polygon points="684.12,237.39 679.73,234.72 679.73,240.05" fill="#f5821f" stroke="#f5821f" stroke-width="0.5"/>
<polygon points="686.94,232.14 682.55,229.48 682.55,234.81" fill="#f5821f" stroke="#f5821f" stroke-width="0.5"/>
<polygon points="689.75,232.44 685.37,229.77 685.37,235.11" fill="#f5821f" stroke="#f5821f" stroke-width="0.5"/>
<polygon points="692.57,231.7 688.18,229.04 688.18,234.37" fill="#f5821f" stroke="#f5821f" stroke-width="0.5"/>
<path d="M411.73,143.11 L413.85,139.46 L415.98,148.41 L418.1,145.71 L420.22,147.89 L422.35,142.42 L424.48,136.17 L426.6,137.79 L428.72,151.75 L430.85,139.6 L432.98,146.96 L435.1,145.24 L437.23,124.36 L439.35,105.38 L441.47,80.42 L443.6,81.21 L445.73,77.46 L447.85,67.78 L449.97,79.3 L452.1,94.7 L454.23,98.38 L456.35,105.61 L458.48,116.28 L460.6,137.1 L462.72,138.06 L464.85,149.71 L466.98,156.94 L469.1,153.75 L471.22,148.05 L473.35,147.94 L475.48,141.12 L477.6,142.53 L479.73,149.61 L481.85,160.27 L483.97,151.58 L486.1,146.52 L488.23,152.7 L490.35,152.56 L492.47,158.14" fill="none" stroke="#d3000c" stroke-width="1.3" stroke-linejoin="round"/>
<polygon points="411.73,140.19 414.31,143.11 411.73,146.04 409.15,143.11" fill="#d3000c" stroke="#d3000c" stroke-width="0.5"/>
<polygon points="413.85,136.53 416.43,139.46 413.85,142.38 411.27,139.46" fill="#d3000c" stroke="#d3000c" stroke-width="0.5"/>
<polygon points="415.98,145.49 418.56,148.41 415.98,151.34 413.4,148.41" fill="#d3000c" stroke="#d3000c" stroke-width="0.5"/>
<polygon points="418.1,142.79 420.68,145.71 418.1,148.64 415.52,145.71" fill="#d3000c" stroke="#d3000c" stroke-width="0.5"/>
<polygon points="420.22,144.96 422.8,147.89 420.22,150.81 417.64,147.89" fill="#d3000c" stroke="#d3000c" stroke-width="0.5"/>
<polygon points="422.35,139.5 424.93,142.42 422.35,145.35 419.77,142.42" fill="#d3000c" stroke="#d3000c" stroke-width="0.5"/>
<polygon points="424.48,133.25 427.06,136.17 424.48,139.1 421.9,136.17" fill="#d3000c" stroke="#d3000c" stroke-width="0.5"/>
<polygon points="426.6,134.86 429.18,137.79 426.6,140.71 424.02,137.79" fill="#d3000c" stroke="#d3000c" stroke-width="0.5"/>
<polygon points="428.72,148.82 431.3,151.75 428.72,154.67 426.14,151.75" fill="#d3000c" stroke="#d3000c" stroke-width="0.5"/>
<polygon points="430.85,136.67 433.43,139.6 430.85,142.52 428.27,139.6" fill="#d3000c" stroke="#d3000c" stroke-width="0.5"/>
<polygon points="432.98,144.04 435.56,146.96 432.98,149.88 430.4,146.96" fill="#d3000c" stroke="#d3000c" stroke-width="0.5"/>
<polygon points="435.1,142.31 437.68,145.24 435.1,148.16 432.52,145.24" fill="#d3000c" stroke="#d3000c" stroke-width="0.5"/>
<polygon points="437.23,121.43 439.81,124.36 437.23,127.28 434.65,124.36" fill="#d3000c" stroke="#d3000c" stroke-width="0.5"/>
<polygon points="439.35,102.46 441.93,105.38 439.35,108.31 436.77,105.38" fill="#d3000c" stroke="#d3000c" stroke-width="0.5"/>
<polygon points="441.47,77.5 444.05,80.42 441.47,83.35 438.89,80.42" fill="#d3000c" stroke="#d3000c" stroke-width="0.5"/>
<polygon points="443.6,78.28 446.18,81.21 443.6,84.13 441.02,81.21" fill="#d3000c" stroke="#d3000c" stroke-width="0.5"/>
<polygon points="445.73,74.54 448.31,77.46 445.73,80.39 443.15,77.46" fill="#d3000c" stroke="#d3000c" stroke-width="0.5"/>
<polygon points="447.85,64.85 450.43,67.78 447.85,70.7 445.27,67.78" fill="#d3000c" stroke="#d3000c" stroke-width="0.5"/>
<polygon points="449.97,76.37 452.55,79.3 449.97,82.22 447.39,79.3" fill="#d3000c" stroke="#d3000c" stroke-width="0.5"/>
<polygon points="452.1,91.78 454.68,94.7 452.1,97.62 449.52,94.7" fill="#d3000c" stroke="#d3000c" stroke-width="0.5"/>
<polygon points="454.23,95.46 456.81,98.38 454.23,101.31 451.65,98.38" fill="#d3000c" stroke="#d3000c" stroke-width="0.5"/>
<polygon points="456.35,102.68 458.93,105.61 456.35,108.53 453.77,105.61" fill="#d3000c" stroke="#d3000c" stroke-width="0.5"/>
<polygon points="458.48,113.36 461.06,116.28 458.48,119.21 455.9,116.28" fill="#d3000c" stroke="#d3000c" stroke-width="0.5"/>
<polygon points="460.6,134.18 463.18,137.1 460.6,140.03 458.02,137.1" fill="#d3000c" stroke="#d3000c" stroke-width="0.5"/>
<polygon points="462.72,135.14 465.3,138.06 462.72,140.98 460.14,138.06" fill="#d3000c" stroke="#d3000c" stroke-width="0.5"/>
<polygon points="464.85,146.79 467.43,149.71 464.85,152.63 462.27,149.71" fill="#d3000c" stroke="#d3000c" stroke-width="0.5"/>
<polygon points="466.98,154.02 469.56,156.94 466.98,159.87 464.4,156.94" fill="#d3000c" stroke="#d3000c" stroke-width="0.5"/>
<polygon points="469.1,150.82 471.68,153.75 469.1,156.67 466.52,153.75" fill="#d3000c" stroke="#d3000c" stroke-width="0.5"/>
<polygon points="471.22,145.13 473.8,148.05 471.22,150.98 468.64,148.05" fill="#d3000c" stroke="#d3000c" stroke-width="0.5"/>
<polygon points="473.35,145.02 475.93,147.94 473.35,150.87 470.77,147.94" fill="#d3000c" stroke="#d3000c" stroke-width="0.5"/>
<polygon points="475.48,138.2 478.06,141.12 475.48,144.05 472.9,141.12" fill="#d3000c" stroke="#d3000c" stroke-width="0.5"/>
<polygon points="477.6,139.61 480.18,142.53 477.6,145.46 475.02,142.53" fill="#d3000c" stroke="#d3000c" stroke-width="0.5"/>
<polygon points="479.73,146.68 482.31,149.61 479.73,152.53 477.15,149.61" fill="#d3000c" stroke="#d3000c" stroke-width="0.5"/>
<polygon points="481.85,157.35 484.43,160.27 481.85,163.2 479.27,160.27" fill="#d3000c" stroke="#d3000c" stroke-width="0.5"/>
<polygon points="483.97,148.66 486.55,151.58 483.97,154.51 481.39,151.58" fill="#d3000c" stroke="#d3000c" stroke-width="0.5"/>
<polygon points="486.1,143.6 488.68,146.52 486.1,149.45 483.52,146.52" fill="#d3000c" stroke="#d3000c" stroke-width="0.5"/>
<polygon points="488.23,149.77 490.81,152.7 488.23,155.62 485.65,152.7" fill="#d3000c" stroke="#d3000c" stroke-width="0.5"/>
<polygon points="490.35,149.63 492.93,152.56 490.35,155.48 487.77,152.56" fill="#d3000c" stroke="#d3000c" stroke-width="0.5"/>
<polygon points="492.47,155.21 495.05,158.14 492.47,161.06 489.89,158.14" fill="#d3000c" stroke="#d3000c" stroke-width="0.5"/>
<path d="M501.28,219.49 L504.1,225.07 L506.92,228.23 L509.73,232.74 L512.55,223.53 L515.37,226.78 L518.18,221.89 L521,220.07 L523.82,220.02 L526.63,212.88 L529.45,211.53 L532.27,206.78 L535.08,205.39 L537.9,201.29 L540.72,207.64 L543.53,206.87 L546.35,208.15 L549.16,207.59 L551.98,209.45 L554.8,215.71 L557.61,214.07 L560.43,215 L563.25,225.91 L566.06,224.97 L568.88,220.24 L571.7,222.44 L574.51,223.08 L577.33,226.41 L580.15,227.15 L582.96,220.67 L585.78,225.29 L588.6,222.21 L591.41,218.07 L594.23,211.33 L597.05,214.59 L599.86,210.58 L602.68,203.43 L605.5,200.63 L608.31,197.87 L611.13,191.06 L613.94,179.55 L616.76,179.43 L619.58,174.16 L622.39,180.3 L625.21,182.66 L628.03,175.02 L630.84,163.04 L633.66,154.06 L636.48,146.04 L639.29,137.6 L642.11,131.47 L644.93,140.35 L647.74,144.84 L650.56,162.49 L653.38,181.81 L656.19,194.45 L659.01,212.46 L661.83,213.64 L664.64,219.33 L667.46,221.92 L670.27,223.23 L673.09,223.94 L675.91,223.13 L678.72,228.8 L681.54,227.78 L684.36,222.76 L687.17,226.9 L689.99,223.5" fill="none" stroke="#d3000c" stroke-width="1.3" stroke-linejoin="round"/>
<polygon points="501.28,216.57 503.86,219.49 501.28,222.42 498.7,219.49" fill="#d3000c" stroke="#d3000c" stroke-width="0.5"/>
<polygon points="504.1,222.15 506.68,225.07 504.1,228 501.52,225.07" fill="#d3000c" stroke="#d3000c" stroke-width="0.5"/>
<polygon points="506.92,225.31 509.5,228.23 506.92,231.16 504.34,228.23" fill="#d3000c" stroke="#d3000c" stroke-width="0.5"/>
<polygon points="509.73,229.82 512.31,232.74 509.73,235.67 507.15,232.74" fill="#d3000c" stroke="#d3000c" stroke-width="0.5"/>
<polygon points="512.55,220.61 515.13,223.53 512.55,226.46 509.97,223.53" fill="#d3000c" stroke="#d3000c" stroke-width="0.5"/>
<polygon points="515.37,223.85 517.95,226.78 515.37,229.7 512.79,226.78" fill="#d3000c" stroke="#d3000c" stroke-width="0.5"/>
<polygon points="518.18,218.97 520.76,221.89 518.18,224.81 515.6,221.89" fill="#d3000c" stroke="#d3000c" stroke-width="0.5"/>
<polygon points="521,217.15 523.58,220.07 521,223 518.42,220.07" fill="#d3000c" stroke="#d3000c" stroke-width="0.5"/>
<polygon points="523.82,217.1 526.4,220.02 523.82,222.95 521.24,220.02" fill="#d3000c" stroke="#d3000c" stroke-width="0.5"/>
<polygon points="526.63,209.95 529.21,212.88 526.63,215.8 524.05,212.88" fill="#d3000c" stroke="#d3000c" stroke-width="0.5"/>
<polygon points="529.45,208.6 532.03,211.53 529.45,214.45 526.87,211.53" fill="#d3000c" stroke="#d3000c" stroke-width="0.5"/>
<polygon points="532.27,203.86 534.85,206.78 532.27,209.71 529.69,206.78" fill="#d3000c" stroke="#d3000c" stroke-width="0.5"/>
<polygon points="535.08,202.47 537.66,205.39 535.08,208.31 532.5,205.39" fill="#d3000c" stroke="#d3000c" stroke-width="0.5"/>
<polygon points="537.9,198.36 540.48,201.29 537.9,204.21 535.32,201.29" fill="#d3000c" stroke="#d3000c" stroke-width="0.5"/>
<polygon points="540.72,204.72 543.3,207.64 540.72,210.56 538.14,207.64" fill="#d3000c" stroke="#d3000c" stroke-width="0.5"/>
<polygon points="543.53,203.94 546.11,206.87 543.53,209.79 540.95,206.87" fill="#d3000c" stroke="#d3000c" stroke-width="0.5"/>
<polygon points="546.35,205.22 548.93,208.15 546.35,211.07 543.77,208.15" fill="#d3000c" stroke="#d3000c" stroke-width="0.5"/>
<polygon points="549.16,204.67 551.75,207.59 549.16,210.51 546.58,207.59" fill="#d3000c" stroke="#d3000c" stroke-width="0.5"/>
<polygon points="551.98,206.53 554.56,209.45 551.98,212.38 549.4,209.45" fill="#d3000c" stroke="#d3000c" stroke-width="0.5"/>
<polygon points="554.8,212.79 557.38,215.71 554.8,218.64 552.22,215.71" fill="#d3000c" stroke="#d3000c" stroke-width="0.5"/>
<polygon points="557.61,211.15 560.19,214.07 557.61,217 555.03,214.07" fill="#d3000c" stroke="#d3000c" stroke-width="0.5"/>
<polygon points="560.43,212.08 563.01,215 560.43,217.93 557.85,215" fill="#d3000c" stroke="#d3000c" stroke-width="0.5"/>
<polygon points="563.25,222.99 565.83,225.91 563.25,228.83 560.67,225.91" fill="#d3000c" stroke="#d3000c" stroke-width="0.5"/>
<polygon points="566.06,222.05 568.64,224.97 566.06,227.9 563.48,224.97" fill="#d3000c" stroke="#d3000c" stroke-width="0.5"/>
<polygon points="568.88,217.32 571.46,220.24 568.88,223.17 566.3,220.24" fill="#d3000c" stroke="#d3000c" stroke-width="0.5"/>
<polygon points="571.7,219.52 574.28,222.44 571.7,225.37 569.12,222.44" fill="#d3000c" stroke="#d3000c" stroke-width="0.5"/>
<polygon points="574.51,220.16 577.09,223.08 574.51,226 571.93,223.08" fill="#d3000c" stroke="#d3000c" stroke-width="0.5"/>
<polygon points="577.33,223.49 579.91,226.41 577.33,229.33 574.75,226.41" fill="#d3000c" stroke="#d3000c" stroke-width="0.5"/>
<polygon points="580.15,224.22 582.73,227.15 580.15,230.07 577.57,227.15" fill="#d3000c" stroke="#d3000c" stroke-width="0.5"/>
<polygon points="582.96,217.75 585.54,220.67 582.96,223.6 580.38,220.67" fill="#d3000c" stroke="#d3000c" stroke-width="0.5"/>
<polygon points="585.78,222.36 588.36,225.29 585.78,228.21 583.2,225.29" fill="#d3000c" stroke="#d3000c" stroke-width="0.5"/>
<polygon points="588.6,219.29 591.18,222.21 588.6,225.13 586.02,222.21" fill="#d3000c" stroke="#d3000c" stroke-width="0.5"/>
<polygon points="591.41,215.15 593.99,218.07 591.41,221 588.83,218.07" fill="#d3000c" stroke="#d3000c" stroke-width="0.5"/>
<polygon points="594.23,208.41 596.81,211.33 594.23,214.26 591.65,211.33" fill="#d3000c" stroke="#d3000c" stroke-width="0.5"/>
<polygon points="597.05,211.67 599.63,214.59 597.05,217.52 594.47,214.59" fill="#d3000c" stroke="#d3000c" stroke-width="0.5"/>
<polygon points="599.86,207.65 602.44,210.58 599.86,213.5 597.28,210.58" fill="#d3000c" stroke="#d3000c" stroke-width="0.5"/>
<polygon points="602.68,200.5 605.26,203.43 602.68,206.35 600.1,203.43" fill="#d3000c" stroke="#d3000c" stroke-width="0.5"/>
<polygon points="605.5,197.71 608.08,200.63 605.5,203.55 602.91,200.63" fill="#d3000c" stroke="#d3000c" stroke-width="0.5"/>
<polygon points="608.31,194.94 610.89,197.87 608.31,200.79 605.73,197.87" fill="#d3000c" stroke="#d3000c" stroke-width="0.5"/>
<polygon points="611.13,188.14 613.71,191.06 611.13,193.99 608.55,191.06" fill="#d3000c" stroke="#d3000c" stroke-width="0.5"/>
<polygon points="613.94,176.63 616.52,179.55 613.94,182.48 611.36,179.55" fill="#d3000c" stroke="#d3000c" stroke-width="0.5"/>
<polygon points="616.76,176.51 619.34,179.43 616.76,182.35 614.18,179.43" fill="#d3000c" stroke="#d3000c" stroke-width="0.5"/>
<polygon points="619.58,171.24 622.16,174.16 619.58,177.09 617,174.16" fill="#d3000c" stroke="#d3000c" stroke-width="0.5"/>
<polygon points="622.39,177.38 624.97,180.3 622.39,183.22 619.81,180.3" fill="#d3000c" stroke="#d3000c" stroke-width="0.5"/>
<polygon points="625.21,179.74 627.79,182.66 625.21,185.58 622.63,182.66" fill="#d3000c" stroke="#d3000c" stroke-width="0.5"/>
<polygon points="628.03,172.09 630.61,175.02 628.03,177.94 625.45,175.02" fill="#d3000c" stroke="#d3000c" stroke-width="0.5"/>
<polygon points="630.84,160.11 633.42,163.04 630.84,165.96 628.26,163.04" fill="#d3000c" stroke="#d3000c" stroke-width="0.5"/>
<polygon points="633.66,151.13 636.24,154.06 633.66,156.98 631.08,154.06" fill="#d3000c" stroke="#d3000c" stroke-width="0.5"/>
<polygon points="636.48,143.11 639.06,146.04 636.48,148.96 633.9,146.04" fill="#d3000c" stroke="#d3000c" stroke-width="0.5"/>
<polygon points="639.29,134.68 641.87,137.6 639.29,140.52 636.71,137.6" fill="#d3000c" stroke="#d3000c" stroke-width="0.5"/>
<polygon points="642.11,128.54 644.69,131.47 642.11,134.39 639.53,131.47" fill="#d3000c" stroke="#d3000c" stroke-width="0.5"/>
<polygon points="644.93,137.42 647.51,140.35 644.93,143.27 642.35,140.35" fill="#d3000c" stroke="#d3000c" stroke-width="0.5"/>
<polygon points="647.74,141.92 650.32,144.84 647.74,147.77 645.16,144.84" fill="#d3000c" stroke="#d3000c" stroke-width="0.5"/>
<polygon points="650.56,159.57 653.14,162.49 650.56,165.42 647.98,162.49" fill="#d3000c" stroke="#d3000c" stroke-width="0.5"/>
<polygon points="653.38,178.89 655.96,181.81 653.38,184.73 650.8,181.81" fill="#d3000c" stroke="#d3000c" stroke-width="0.5"/>
<polygon points="656.19,191.52 658.77,194.45 656.19,197.37 653.61,194.45" fill="#d3000c" stroke="#d3000c" stroke-width="0.5"/>
<polygon points="659.01,209.54 661.59,212.46 659.01,215.39 656.43,212.46" fill="#d3000c" stroke="#d3000c" stroke-width="0.5"/>
<polygon points="661.83,210.72 664.41,213.64 661.83,216.57 659.25,213.64" fill="#d3000c" stroke="#d3000c" stroke-width="0.5"/>
<polygon points="664.64,216.41 667.22,219.33 664.64,222.26 662.06,219.33" fill="#d3000c" stroke="#d3000c" stroke-width="0.5"/>
<polygon points="667.46,218.99 670.04,221.92 667.46,224.84 664.88,221.92" fill="#d3000c" stroke="#d3000c" stroke-width="0.5"/>
<polygon points="670.27,220.31 672.85,223.23 670.27,226.16 667.69,223.23" fill="#d3000c" stroke="#d3000c" stroke-width="0.5"/>
<polygon points="673.09,221.01 675.67,223.94 673.09,226.86 670.51,223.94" fill="#d3000c" stroke="#d3000c" stroke-width="0.5"/>
<polygon points="675.91,220.2 678.49,223.13 675.91,226.05 673.33,223.13" fill="#d3000c" stroke="#d3000c" stroke-width="0.5"/>
<polygon points="678.72,225.87 681.3,228.8 678.72,231.72 676.14,228.8" fill="#d3000c" stroke="#d3000c" stroke-width="0.5"/>
<polygon points="681.54,224.85 684.12,227.78 681.54,230.7 678.96,227.78" fill="#d3000c" stroke="#d3000c" stroke-width="0.5"/>
<polygon points="684.36,219.84 686.94,222.76 684.36,225.69 681.78,222.76" fill="#d3000c" stroke="#d3000c" stroke-width="0.5"/>
<polygon points="687.17,223.98 689.75,226.9 687.17,229.83 684.59,226.9" fill="#d3000c" stroke="#d3000c" stroke-width="0.5"/>
<polygon points="689.99,220.57 692.57,223.5 689.99,226.42 687.41,223.5" fill="#d3000c" stroke="#d3000c" stroke-width="0.5"/>
</g>
<rect x="413.3" y="23.3" width="276.7" height="230.2" fill="none" stroke="#404040" stroke-width="1.2"/>
<line x1="430" y1="253.5" x2="430" y2="250.5" stroke="#404040" stroke-width="1"/>
<line x1="430" y1="23.3" x2="430" y2="26.3" stroke="#404040" stroke-width="1"/>
<line x1="472.5" y1="253.5" x2="472.5" y2="250.5" stroke="#404040" stroke-width="1"/>
<line x1="472.5" y1="23.3" x2="472.5" y2="26.3" stroke="#404040" stroke-width="1"/>
<line x1="521" y1="253.5" x2="521" y2="250.5" stroke="#404040" stroke-width="1"/>
<line x1="521" y1="23.3" x2="521" y2="26.3" stroke="#404040" stroke-width="1"/>
<line x1="577.33" y1="253.5" x2="577.33" y2="250.5" stroke="#404040" stroke-width="1"/>
<line x1="577.33" y1="23.3" x2="577.33" y2="26.3" stroke="#404040" stroke-width="1"/>
<line x1="633.66" y1="253.5" x2="633.66" y2="250.5" stroke="#404040" stroke-width="1"/>
<line x1="633.66" y1="23.3" x2="633.66" y2="26.3" stroke="#404040" stroke-width="1"/>
<line x1="413.3" y1="195.95" x2="416.3" y2="195.95" stroke="#404040" stroke-width="1"/>
<line x1="413.3" y1="138.4" x2="416.3" y2="138.4" stroke="#404040" stroke-width="1"/>
<line x1="413.3" y1="80.85" x2="416.3" y2="80.85" stroke="#404040" stroke-width="1"/>
<line x1="491.9" y1="27" x2="496.9" y2="19.6" stroke="#222" stroke-width="1.1"/>
<line x1="496.1" y1="27" x2="501.1" y2="19.6" stroke="#222" stroke-width="1.1"/>
<line x1="491.9" y1="257.2" x2="496.9" y2="249.8" stroke="#222" stroke-width="1.1"/>
<line x1="496.1" y1="257.2" x2="501.1" y2="249.8" stroke="#222" stroke-width="1.1"/>
<text x="422.16" y="267.8" font-size="15">18</text>
<text x="464.66" y="267.8" font-size="15">19</text>
<text x="513.39" y="267.8" font-size="15">37</text>
<text x="569.79" y="267.8" font-size="15">38</text>
<text x="626.12" y="267.8" font-size="15">39</text>
<text x="682.64" y="267.8" font-size="15">40</text>
<text x="396.9" y="256.9" font-size="15">30</text>
<text x="396.9" y="199.35" font-size="15">35</text>
<text x="396.9" y="141.8" font-size="15">40</text>
<text x="396.9" y="84.25" font-size="15">45</text>
<text x="396.9" y="26.7" font-size="15">50</text>
<text x="-0.48" y="0" font-size="16.2" textLength="161.65" lengthAdjust="spacingAndGlyphs" transform="translate(388.8,218.1) rotate(-90)">Normalized Intensity / %</text>
<text x="463.95" y="286.4" font-size="16.2" textLength="174.77" lengthAdjust="spacingAndGlyphs">Selected Angular Range / °</text>
<text x="352.67" y="12.6" font-size="17">b)</text>
<text x="418.81" y="39.1" font-size="11" textLength="149.49" lengthAdjust="spacingAndGlyphs">100% SoC (delithiated cathode)</text>
<text x="423.26" y="57.5" font-size="11" textLength="52.53" lengthAdjust="spacingAndGlyphs">NMC (003)</text>
<text x="517.46" y="179.3" font-size="11" textLength="52.84" lengthAdjust="spacingAndGlyphs">NMC (006)</text>
<text x="616.66" y="115.2" font-size="11" textLength="52.84" lengthAdjust="spacingAndGlyphs">NMC (012)</text>
<g clip-path="url(#cc)">
<path d="M60.72,535.07 L64.09,535.54 L67.46,535.88 L70.83,536.28 L74.2,535.21 L77.57,536.35 L80.94,534.62 L84.31,535.64 L87.68,535.63 L91.05,535.55 L94.42,535.91 L97.79,534.59 L101.16,535 L104.53,533.83 L107.9,536.19 L111.27,534.18 L114.64,535.97 L118.01,535.31 L121.38,537.11 L124.75,535.05 L128.12,537.13 L131.49,535.54 L134.86,535.25 L138.23,535.26 L141.6,534.83 L144.97,534.77 L148.34,534.98 L151.71,536.39 L155.08,535.4 L158.45,536.05 L161.82,535.35 L165.19,534.06 L168.56,535.16 L171.93,537.32 L175.3,534.75 L178.67,534.32 L182.04,535 L185.41,533.23 L188.78,536.09 L192.15,535.27 L195.52,533.67 L198.89,537.01 L202.26,537.11 L205.63,532.95 L209,533.94 L212.37,531.14 L215.74,531.66 L219.11,531.69 L222.48,531.39 L225.85,532.92 L229.22,533.04 L232.59,529.7 L235.96,529.75 L239.33,530.82 L242.7,528.45 L246.07,524.25 L249.44,519.99 L252.81,515.49 L256.18,507.08 L259.55,492.12 L262.92,475.05 L266.29,454.5 L269.66,429.3 L273.03,403.03 L276.4,375.89 L279.77,355.48 L283.14,342.91 L286.51,345.61 L289.88,364.21 L293.25,395.62 L296.62,432.87 L299.99,461.14 L303.36,483.99 L306.73,501.84 L310.1,512.4 L313.47,521.21 L316.84,524.96 L320.21,528.88 L323.58,531.44 L326.95,532.06 L330.32,532.14 L333.69,533.79 L337.06,534.01 L340.43,533.94 L343.8,531.95" fill="none" stroke="#6c129e" stroke-width="1.25" stroke-linejoin="round"/>
<polygon points="60.72,537.77 63.51,533.18 57.93,533.18" fill="#fff" stroke="#6c129e" stroke-width="0.85"/>
<polygon points="64.09,538.24 66.88,533.65 61.3,533.65" fill="#fff" stroke="#6c129e" stroke-width="0.85"/>
<polygon points="67.46,538.58 70.25,533.99 64.67,533.99" fill="#fff" stroke="#6c129e" stroke-width="0.85"/>
<polygon points="70.83,538.98 73.62,534.39 68.04,534.39" fill="#fff" stroke="#6c129e" stroke-width="0.85"/>
<polygon points="74.2,537.91 76.99,533.32 71.41,533.32" fill="#fff" stroke="#6c129e" stroke-width="0.85"/>
<polygon points="77.57,539.05 80.36,534.46 74.78,534.46" fill="#fff" stroke="#6c129e" stroke-width="0.85"/>
<polygon points="80.94,537.32 83.73,532.73 78.15,532.73" fill="#fff" stroke="#6c129e" stroke-width="0.85"/>
<polygon points="84.31,538.34 87.1,533.75 81.52,533.75" fill="#fff" stroke="#6c129e" stroke-width="0.85"/>
<polygon points="87.68,538.33 90.47,533.74 84.89,533.74" fill="#fff" stroke="#6c129e" stroke-width="0.85"/>
<polygon points="91.05,538.25 93.84,533.66 88.26,533.66" fill="#fff" stroke="#6c129e" stroke-width="0.85"/>
<polygon points="94.42,538.61 97.21,534.02 91.63,534.02" fill="#fff" stroke="#6c129e" stroke-width="0.85"/>
<polygon points="97.79,537.29 100.58,532.7 95,532.7" fill="#fff" stroke="#6c129e" stroke-width="0.85"/>
<polygon points="101.16,537.7 103.95,533.11 98.37,533.11" fill="#fff" stroke="#6c129e" stroke-width="0.85"/>
<polygon points="104.53,536.53 107.32,531.94 101.74,531.94" fill="#fff" stroke="#6c129e" stroke-width="0.85"/>
<polygon points="107.9,538.89 110.69,534.3 105.11,534.3" fill="#fff" stroke="#6c129e" stroke-width="0.85"/>
<polygon points="111.27,536.88 114.06,532.29 108.48,532.29" fill="#fff" stroke="#6c129e" stroke-width="0.85"/>
<polygon points="114.64,538.67 117.43,534.08 111.85,534.08" fill="#fff" stroke="#6c129e" stroke-width="0.85"/>
<polygon points="118.01,538.01 120.8,533.42 115.22,533.42" fill="#fff" stroke="#6c129e" stroke-width="0.85"/>
<polygon points="121.38,539.81 124.17,535.22 118.59,535.22" fill="#fff" stroke="#6c129e" stroke-width="0.85"/>
<polygon points="124.75,537.75 127.54,533.16 121.96,533.16" fill="#fff" stroke="#6c129e" stroke-width="0.85"/>
<polygon points="128.12,539.83 130.91,535.24 125.33,535.24" fill="#fff" stroke="#6c129e" stroke-width="0.85"/>
<polygon points="131.49,538.24 134.28,533.65 128.7,533.65" fill="#fff" stroke="#6c129e" stroke-width="0.85"/>
<polygon points="134.86,537.95 137.65,533.36 132.07,533.36" fill="#fff" stroke="#6c129e" stroke-width="0.85"/>
<polygon points="138.23,537.96 141.02,533.37 135.44,533.37" fill="#fff" stroke="#6c129e" stroke-width="0.85"/>
<polygon points="141.6,537.53 144.39,532.94 138.81,532.94" fill="#fff" stroke="#6c129e" stroke-width="0.85"/>
<polygon points="144.97,537.47 147.76,532.88 142.18,532.88" fill="#fff" stroke="#6c129e" stroke-width="0.85"/>
<polygon points="148.34,537.68 151.13,533.09 145.55,533.09" fill="#fff" stroke="#6c129e" stroke-width="0.85"/>
<polygon points="151.71,539.09 154.5,534.5 148.92,534.5" fill="#fff" stroke="#6c129e" stroke-width="0.85"/>
<polygon points="155.08,538.1 157.87,533.51 152.29,533.51" fill="#fff" stroke="#6c129e" stroke-width="0.85"/>
<polygon points="158.45,538.75 161.24,534.16 155.66,534.16" fill="#fff" stroke="#6c129e" stroke-width="0.85"/>
<polygon points="161.82,538.05 164.61,533.46 159.03,533.46" fill="#fff" stroke="#6c129e" stroke-width="0.85"/>
<polygon points="165.19,536.76 167.98,532.17 162.4,532.17" fill="#fff" stroke="#6c129e" stroke-width="0.85"/>
<polygon points="168.56,537.86 171.35,533.27 165.77,533.27" fill="#fff" stroke="#6c129e" stroke-width="0.85"/>
<polygon points="171.93,540.02 174.72,535.43 169.14,535.43" fill="#fff" stroke="#6c129e" stroke-width="0.85"/>
<polygon points="175.3,537.45 178.09,532.86 172.51,532.86" fill="#fff" stroke="#6c129e" stroke-width="0.85"/>
<polygon points="178.67,537.02 181.46,532.43 175.88,532.43" fill="#fff" stroke="#6c129e" stroke-width="0.85"/>
<polygon points="182.04,537.7 184.83,533.11 179.25,533.11" fill="#fff" stroke="#6c129e" stroke-width="0.85"/>
<polygon points="185.41,535.93 188.2,531.34 182.62,531.34" fill="#fff" stroke="#6c129e" stroke-width="0.85"/>
<polygon points="188.78,538.79 191.57,534.2 185.99,534.2" fill="#fff" stroke="#6c129e" stroke-width="0.85"/>
<polygon points="192.15,537.97 194.94,533.38 189.36,533.38" fill="#fff" stroke="#6c129e" stroke-width="0.85"/>
<polygon points="195.52,536.37 198.31,531.78 192.73,531.78" fill="#fff" stroke="#6c129e" stroke-width="0.85"/>
<polygon points="198.89,539.71 201.68,535.12 196.1,535.12" fill="#fff" stroke="#6c129e" stroke-width="0.85"/>
<polygon points="202.26,539.81 205.05,535.22 199.47,535.22" fill="#fff" stroke="#6c129e" stroke-width="0.85"/>
<polygon points="205.63,535.65 208.42,531.06 202.84,531.06" fill="#fff" stroke="#6c129e" stroke-width="0.85"/>
<polygon points="209,536.64 211.79,532.05 206.21,532.05" fill="#fff" stroke="#6c129e" stroke-width="0.85"/>
<polygon points="212.37,533.84 215.16,529.25 209.58,529.25" fill="#fff" stroke="#6c129e" stroke-width="0.85"/>
<polygon points="215.74,534.36 218.53,529.77 212.95,529.77" fill="#fff" stroke="#6c129e" stroke-width="0.85"/>
<polygon points="219.11,534.39 221.9,529.8 216.32,529.8" fill="#fff" stroke="#6c129e" stroke-width="0.85"/>
<polygon points="222.48,534.09 225.27,529.5 219.69,529.5" fill="#fff" stroke="#6c129e" stroke-width="0.85"/>
<polygon points="225.85,535.62 228.64,531.03 223.06,531.03" fill="#fff" stroke="#6c129e" stroke-width="0.85"/>
<polygon points="229.22,535.74 232.01,531.15 226.43,531.15" fill="#fff" stroke="#6c129e" stroke-width="0.85"/>
<polygon points="232.59,532.4 235.38,527.81 229.8,527.81" fill="#fff" stroke="#6c129e" stroke-width="0.85"/>
<polygon points="235.96,532.45 238.75,527.86 233.17,527.86" fill="#fff" stroke="#6c129e" stroke-width="0.85"/>
<polygon points="239.33,533.52 242.12,528.93 236.54,528.93" fill="#fff" stroke="#6c129e" stroke-width="0.85"/>
<polygon points="242.7,531.15 245.49,526.56 239.91,526.56" fill="#fff" stroke="#6c129e" stroke-width="0.85"/>
<polygon points="246.07,526.95 248.86,522.36 243.28,522.36" fill="#fff" stroke="#6c129e" stroke-width="0.85"/>
<polygon points="249.44,522.69 252.23,518.1 246.65,518.1" fill="#fff" stroke="#6c129e" stroke-width="0.85"/>
<polygon points="252.81,518.19 255.6,513.6 250.02,513.6" fill="#fff" stroke="#6c129e" stroke-width="0.85"/>
<polygon points="256.18,509.78 258.97,505.19 253.39,505.19" fill="#fff" stroke="#6c129e" stroke-width="0.85"/>
<polygon points="259.55,494.82 262.34,490.23 256.76,490.23" fill="#fff" stroke="#6c129e" stroke-width="0.85"/>
<polygon points="262.92,477.75 265.71,473.16 260.13,473.16" fill="#fff" stroke="#6c129e" stroke-width="0.85"/>
<polygon points="266.29,457.2 269.08,452.61 263.5,452.61" fill="#fff" stroke="#6c129e" stroke-width="0.85"/>
<polygon points="269.66,432 272.45,427.41 266.87,427.41" fill="#fff" stroke="#6c129e" stroke-width="0.85"/>
<polygon points="273.03,405.73 275.82,401.14 270.24,401.14" fill="#fff" stroke="#6c129e" stroke-width="0.85"/>
<polygon points="276.4,378.59 279.19,374 273.61,374" fill="#fff" stroke="#6c129e" stroke-width="0.85"/>
<polygon points="279.77,358.18 282.56,353.59 276.98,353.59" fill="#fff" stroke="#6c129e" stroke-width="0.85"/>
<polygon points="283.14,345.61 285.93,341.02 280.35,341.02" fill="#fff" stroke="#6c129e" stroke-width="0.85"/>
<polygon points="286.51,348.31 289.3,343.72 283.72,343.72" fill="#fff" stroke="#6c129e" stroke-width="0.85"/>
<polygon points="289.88,366.91 292.67,362.32 287.09,362.32" fill="#fff" stroke="#6c129e" stroke-width="0.85"/>
<polygon points="293.25,398.32 296.04,393.73 290.46,393.73" fill="#fff" stroke="#6c129e" stroke-width="0.85"/>
<polygon points="296.62,435.57 299.41,430.98 293.83,430.98" fill="#fff" stroke="#6c129e" stroke-width="0.85"/>
<polygon points="299.99,463.84 302.78,459.25 297.2,459.25" fill="#fff" stroke="#6c129e" stroke-width="0.85"/>
<polygon points="303.36,486.69 306.15,482.1 300.57,482.1" fill="#fff" stroke="#6c129e" stroke-width="0.85"/>
<polygon points="306.73,504.54 309.52,499.95 303.94,499.95" fill="#fff" stroke="#6c129e" stroke-width="0.85"/>
<polygon points="310.1,515.1 312.89,510.51 307.31,510.51" fill="#fff" stroke="#6c129e" stroke-width="0.85"/>
<polygon points="313.47,523.91 316.26,519.32 310.68,519.32" fill="#fff" stroke="#6c129e" stroke-width="0.85"/>
<polygon points="316.84,527.66 319.63,523.07 314.05,523.07" fill="#fff" stroke="#6c129e" stroke-width="0.85"/>
<polygon points="320.21,531.58 323,526.99 317.42,526.99" fill="#fff" stroke="#6c129e" stroke-width="0.85"/>
<polygon points="323.58,534.14 326.37,529.55 320.79,529.55" fill="#fff" stroke="#6c129e" stroke-width="0.85"/>
<polygon points="326.95,534.76 329.74,530.17 324.16,530.17" fill="#fff" stroke="#6c129e" stroke-width="0.85"/>
<polygon points="330.32,534.84 333.11,530.25 327.53,530.25" fill="#fff" stroke="#6c129e" stroke-width="0.85"/>
<polygon points="333.69,536.49 336.48,531.9 330.9,531.9" fill="#fff" stroke="#6c129e" stroke-width="0.85"/>
<polygon points="337.06,536.71 339.85,532.12 334.27,532.12" fill="#fff" stroke="#6c129e" stroke-width="0.85"/>
<polygon points="340.43,536.64 343.22,532.05 337.64,532.05" fill="#fff" stroke="#6c129e" stroke-width="0.85"/>
<polygon points="343.8,534.65 346.59,530.06 341.01,530.06" fill="#fff" stroke="#6c129e" stroke-width="0.85"/>
<path d="M60.72,534.91 L64.09,535.34 L67.46,534.85 L70.83,535.63 L74.2,535.6 L77.57,537.17 L80.94,537.25 L84.31,535.22 L87.68,537.46 L91.05,534.86 L94.42,535.89 L97.79,535.78 L101.16,536.46 L104.53,535.84 L107.9,536.03 L111.27,535.47 L114.64,535.5 L118.01,535.87 L121.38,535.45 L124.75,534.47 L128.12,535.22 L131.49,534.48 L134.86,535.06 L138.23,536.57 L141.6,533.71 L144.97,534.74 L148.34,533.66 L151.71,534.23 L155.08,535.95 L158.45,534.15 L161.82,534.69 L165.19,536.55 L168.56,535.09 L171.93,535.48 L175.3,533.54 L178.67,533.72 L182.04,536.41 L185.41,534.57 L188.78,533.44 L192.15,534.18 L195.52,534.9 L198.89,532.49 L202.26,535.46 L205.63,531.64 L209,531.67 L212.37,532.42 L215.74,530.91 L219.11,534.13 L222.48,532.58 L225.85,531.56 L229.22,531.98 L232.59,531.06 L235.96,530.08 L239.33,529.57 L242.7,526.57 L246.07,523.2 L249.44,520.14 L252.81,515.52 L256.18,506.22 L259.55,492.58 L262.92,474.39 L266.29,452.96 L269.66,430.92 L273.03,405.04 L276.4,389.29 L279.77,375.95 L283.14,373.63 L286.51,382.28 L289.88,399.15 L293.25,422.29 L296.62,444.35 L299.99,467.82 L303.36,488.49 L306.73,502.62 L310.1,513.1 L313.47,521.94 L316.84,525.74 L320.21,529.96 L323.58,528.07 L326.95,532.77 L330.32,531.5 L333.69,531.41 L337.06,532.74 L340.43,533.21 L343.8,533.34" fill="none" stroke="#f5821f" stroke-width="1.25" stroke-linejoin="round"/>
<rect x="58.7" y="532.88" width="4.05" height="4.05" fill="#fff" stroke="#f5821f" stroke-width="0.85"/>
<rect x="62.07" y="533.31" width="4.05" height="4.05" fill="#fff" stroke="#f5821f" stroke-width="0.85"/>
<rect x="65.44" y="532.82" width="4.05" height="4.05" fill="#fff" stroke="#f5821f" stroke-width="0.85"/>
<rect x="68.8" y="533.61" width="4.05" height="4.05" fill="#fff" stroke="#f5821f" stroke-width="0.85"/>
<rect x="72.17" y="533.57" width="4.05" height="4.05" fill="#fff" stroke="#f5821f" stroke-width="0.85"/>
<rect x="75.55" y="535.15" width="4.05" height="4.05" fill="#fff" stroke="#f5821f" stroke-width="0.85"/>
<rect x="78.92" y="535.23" width="4.05" height="4.05" fill="#fff" stroke="#f5821f" stroke-width="0.85"/>
<rect x="82.29" y="533.19" width="4.05" height="4.05" fill="#fff" stroke="#f5821f" stroke-width="0.85"/>
<rect x="85.65" y="535.44" width="4.05" height="4.05" fill="#fff" stroke="#f5821f" stroke-width="0.85"/>
<rect x="89.03" y="532.84" width="4.05" height="4.05" fill="#fff" stroke="#f5821f" stroke-width="0.85"/>
<rect x="92.4" y="533.86" width="4.05" height="4.05" fill="#fff" stroke="#f5821f" stroke-width="0.85"/>
<rect x="95.77" y="533.76" width="4.05" height="4.05" fill="#fff" stroke="#f5821f" stroke-width="0.85"/>
<rect x="99.14" y="534.44" width="4.05" height="4.05" fill="#fff" stroke="#f5821f" stroke-width="0.85"/>
<rect x="102.5" y="533.82" width="4.05" height="4.05" fill="#fff" stroke="#f5821f" stroke-width="0.85"/>
<rect x="105.88" y="534.01" width="4.05" height="4.05" fill="#fff" stroke="#f5821f" stroke-width="0.85"/>
<rect x="109.25" y="533.44" width="4.05" height="4.05" fill="#fff" stroke="#f5821f" stroke-width="0.85"/>
<rect x="112.62" y="533.48" width="4.05" height="4.05" fill="#fff" stroke="#f5821f" stroke-width="0.85"/>
<rect x="115.99" y="533.85" width="4.05" height="4.05" fill="#fff" stroke="#f5821f" stroke-width="0.85"/>
<rect x="119.35" y="533.42" width="4.05" height="4.05" fill="#fff" stroke="#f5821f" stroke-width="0.85"/>
<rect x="122.72" y="532.44" width="4.05" height="4.05" fill="#fff" stroke="#f5821f" stroke-width="0.85"/>
<rect x="126.1" y="533.2" width="4.05" height="4.05" fill="#fff" stroke="#f5821f" stroke-width="0.85"/>
<rect x="129.47" y="532.46" width="4.05" height="4.05" fill="#fff" stroke="#f5821f" stroke-width="0.85"/>
<rect x="132.84" y="533.04" width="4.05" height="4.05" fill="#fff" stroke="#f5821f" stroke-width="0.85"/>
<rect x="136.2" y="534.55" width="4.05" height="4.05" fill="#fff" stroke="#f5821f" stroke-width="0.85"/>
<rect x="139.58" y="531.69" width="4.05" height="4.05" fill="#fff" stroke="#f5821f" stroke-width="0.85"/>
<rect x="142.95" y="532.71" width="4.05" height="4.05" fill="#fff" stroke="#f5821f" stroke-width="0.85"/>
<rect x="146.32" y="531.64" width="4.05" height="4.05" fill="#fff" stroke="#f5821f" stroke-width="0.85"/>
<rect x="149.69" y="532.21" width="4.05" height="4.05" fill="#fff" stroke="#f5821f" stroke-width="0.85"/>
<rect x="153.05" y="533.93" width="4.05" height="4.05" fill="#fff" stroke="#f5821f" stroke-width="0.85"/>
<rect x="156.43" y="532.13" width="4.05" height="4.05" fill="#fff" stroke="#f5821f" stroke-width="0.85"/>
<rect x="159.8" y="532.66" width="4.05" height="4.05" fill="#fff" stroke="#f5821f" stroke-width="0.85"/>
<rect x="163.17" y="534.53" width="4.05" height="4.05" fill="#fff" stroke="#f5821f" stroke-width="0.85"/>
<rect x="166.54" y="533.06" width="4.05" height="4.05" fill="#fff" stroke="#f5821f" stroke-width="0.85"/>
<rect x="169.9" y="533.45" width="4.05" height="4.05" fill="#fff" stroke="#f5821f" stroke-width="0.85"/>
<rect x="173.28" y="531.51" width="4.05" height="4.05" fill="#fff" stroke="#f5821f" stroke-width="0.85"/>
<rect x="176.65" y="531.69" width="4.05" height="4.05" fill="#fff" stroke="#f5821f" stroke-width="0.85"/>
<rect x="180.02" y="534.38" width="4.05" height="4.05" fill="#fff" stroke="#f5821f" stroke-width="0.85"/>
<rect x="183.39" y="532.55" width="4.05" height="4.05" fill="#fff" stroke="#f5821f" stroke-width="0.85"/>
<rect x="186.75" y="531.41" width="4.05" height="4.05" fill="#fff" stroke="#f5821f" stroke-width="0.85"/>
<rect x="190.12" y="532.15" width="4.05" height="4.05" fill="#fff" stroke="#f5821f" stroke-width="0.85"/>
<rect x="193.5" y="532.88" width="4.05" height="4.05" fill="#fff" stroke="#f5821f" stroke-width="0.85"/>
<rect x="196.87" y="530.46" width="4.05" height="4.05" fill="#fff" stroke="#f5821f" stroke-width="0.85"/>
<rect x="200.24" y="533.44" width="4.05" height="4.05" fill="#fff" stroke="#f5821f" stroke-width="0.85"/>
<rect x="203.6" y="529.61" width="4.05" height="4.05" fill="#fff" stroke="#f5821f" stroke-width="0.85"/>
<rect x="206.97" y="529.65" width="4.05" height="4.05" fill="#fff" stroke="#f5821f" stroke-width="0.85"/>
<rect x="210.35" y="530.4" width="4.05" height="4.05" fill="#fff" stroke="#f5821f" stroke-width="0.85"/>
<rect x="213.72" y="528.89" width="4.05" height="4.05" fill="#fff" stroke="#f5821f" stroke-width="0.85"/>
<rect x="217.09" y="532.1" width="4.05" height="4.05" fill="#fff" stroke="#f5821f" stroke-width="0.85"/>
<rect x="220.46" y="530.56" width="4.05" height="4.05" fill="#fff" stroke="#f5821f" stroke-width="0.85"/>
<rect x="223.83" y="529.54" width="4.05" height="4.05" fill="#fff" stroke="#f5821f" stroke-width="0.85"/>
<rect x="227.2" y="529.95" width="4.05" height="4.05" fill="#fff" stroke="#f5821f" stroke-width="0.85"/>
<rect x="230.57" y="529.04" width="4.05" height="4.05" fill="#fff" stroke="#f5821f" stroke-width="0.85"/>
<rect x="233.94" y="528.06" width="4.05" height="4.05" fill="#fff" stroke="#f5821f" stroke-width="0.85"/>
<rect x="237.31" y="527.54" width="4.05" height="4.05" fill="#fff" stroke="#f5821f" stroke-width="0.85"/>
<rect x="240.68" y="524.54" width="4.05" height="4.05" fill="#fff" stroke="#f5821f" stroke-width="0.85"/>
<rect x="244.05" y="521.17" width="4.05" height="4.05" fill="#fff" stroke="#f5821f" stroke-width="0.85"/>
<rect x="247.42" y="518.12" width="4.05" height="4.05" fill="#fff" stroke="#f5821f" stroke-width="0.85"/>
<rect x="250.79" y="513.49" width="4.05" height="4.05" fill="#fff" stroke="#f5821f" stroke-width="0.85"/>
<rect x="254.16" y="504.19" width="4.05" height="4.05" fill="#fff" stroke="#f5821f" stroke-width="0.85"/>
<rect x="257.53" y="490.56" width="4.05" height="4.05" fill="#fff" stroke="#f5821f" stroke-width="0.85"/>
<rect x="260.9" y="472.36" width="4.05" height="4.05" fill="#fff" stroke="#f5821f" stroke-width="0.85"/>
<rect x="264.27" y="450.94" width="4.05" height="4.05" fill="#fff" stroke="#f5821f" stroke-width="0.85"/>
<rect x="267.64" y="428.9" width="4.05" height="4.05" fill="#fff" stroke="#f5821f" stroke-width="0.85"/>
<rect x="271.01" y="403.01" width="4.05" height="4.05" fill="#fff" stroke="#f5821f" stroke-width="0.85"/>
<rect x="274.38" y="387.27" width="4.05" height="4.05" fill="#fff" stroke="#f5821f" stroke-width="0.85"/>
<rect x="277.75" y="373.93" width="4.05" height="4.05" fill="#fff" stroke="#f5821f" stroke-width="0.85"/>
<rect x="281.12" y="371.6" width="4.05" height="4.05" fill="#fff" stroke="#f5821f" stroke-width="0.85"/>
<rect x="284.49" y="380.25" width="4.05" height="4.05" fill="#fff" stroke="#f5821f" stroke-width="0.85"/>
<rect x="287.86" y="397.13" width="4.05" height="4.05" fill="#fff" stroke="#f5821f" stroke-width="0.85"/>
<rect x="291.23" y="420.26" width="4.05" height="4.05" fill="#fff" stroke="#f5821f" stroke-width="0.85"/>
<rect x="294.6" y="442.32" width="4.05" height="4.05" fill="#fff" stroke="#f5821f" stroke-width="0.85"/>
<rect x="297.97" y="465.8" width="4.05" height="4.05" fill="#fff" stroke="#f5821f" stroke-width="0.85"/>
<rect x="301.34" y="486.47" width="4.05" height="4.05" fill="#fff" stroke="#f5821f" stroke-width="0.85"/>
<rect x="304.71" y="500.59" width="4.05" height="4.05" fill="#fff" stroke="#f5821f" stroke-width="0.85"/>
<rect x="308.08" y="511.08" width="4.05" height="4.05" fill="#fff" stroke="#f5821f" stroke-width="0.85"/>
<rect x="311.45" y="519.91" width="4.05" height="4.05" fill="#fff" stroke="#f5821f" stroke-width="0.85"/>
<rect x="314.82" y="523.71" width="4.05" height="4.05" fill="#fff" stroke="#f5821f" stroke-width="0.85"/>
<rect x="318.19" y="527.93" width="4.05" height="4.05" fill="#fff" stroke="#f5821f" stroke-width="0.85"/>
<rect x="321.56" y="526.05" width="4.05" height="4.05" fill="#fff" stroke="#f5821f" stroke-width="0.85"/>
<rect x="324.93" y="530.75" width="4.05" height="4.05" fill="#fff" stroke="#f5821f" stroke-width="0.85"/>
<rect x="328.3" y="529.48" width="4.05" height="4.05" fill="#fff" stroke="#f5821f" stroke-width="0.85"/>
<rect x="331.67" y="529.39" width="4.05" height="4.05" fill="#fff" stroke="#f5821f" stroke-width="0.85"/>
<rect x="335.04" y="530.71" width="4.05" height="4.05" fill="#fff" stroke="#f5821f" stroke-width="0.85"/>
<rect x="338.41" y="531.18" width="4.05" height="4.05" fill="#fff" stroke="#f5821f" stroke-width="0.85"/>
<rect x="341.78" y="531.31" width="4.05" height="4.05" fill="#fff" stroke="#f5821f" stroke-width="0.85"/>
<path d="M60.72,535.02 L64.09,536.62 L67.46,535.72 L70.83,534.78 L74.2,536.34 L77.57,537.56 L80.94,536.93 L84.31,534.26 L87.68,533.91 L91.05,534.85 L94.42,534.77 L97.79,533.99 L101.16,536.66 L104.53,536.41 L107.9,537.16 L111.27,535.41 L114.64,535.36 L118.01,534.63 L121.38,536.68 L124.75,534.74 L128.12,535.16 L131.49,535.35 L134.86,535.07 L138.23,534.28 L141.6,537.06 L144.97,534.69 L148.34,535.09 L151.71,534.73 L155.08,533.37 L158.45,536.25 L161.82,534.97 L165.19,535.28 L168.56,535.02 L171.93,534.33 L175.3,534.5 L178.67,535.07 L182.04,534.16 L185.41,533.99 L188.78,534.19 L192.15,534.86 L195.52,533.18 L198.89,533.98 L202.26,534.12 L205.63,534.1 L209,533.92 L212.37,531.23 L215.74,532.26 L219.11,532.83 L222.48,532.81 L225.85,532.09 L229.22,531.76 L232.59,530.55 L235.96,532.07 L239.33,529.89 L242.7,528.49 L246.07,525.11 L249.44,522.38 L252.81,515.84 L256.18,507.82 L259.55,490.72 L262.92,475.59 L266.29,454.21 L269.66,428.05 L273.03,408.45 L276.4,390.91 L279.77,375.19 L283.14,373.26 L286.51,381.92 L289.88,399.06 L293.25,420.32 L296.62,447.13 L299.99,471 L303.36,488.62 L306.73,501.98 L310.1,513.94 L313.47,522.07 L316.84,526.06 L320.21,528.22 L323.58,530.85 L326.95,531.79 L330.32,531.71 L333.69,532.96 L337.06,534.04 L340.43,534.56 L343.8,534.05" fill="none" stroke="#1f55ff" stroke-width="1.25" stroke-linejoin="round"/>
<polygon points="60.72,532.32 63.51,536.91 57.93,536.91" fill="#fff" stroke="#1f55ff" stroke-width="0.85"/>
<polygon points="64.09,533.92 66.88,538.51 61.3,538.51" fill="#fff" stroke="#1f55ff" stroke-width="0.85"/>
<polygon points="67.46,533.02 70.25,537.61 64.67,537.61" fill="#fff" stroke="#1f55ff" stroke-width="0.85"/>
<polygon points="70.83,532.08 73.62,536.67 68.04,536.67" fill="#fff" stroke="#1f55ff" stroke-width="0.85"/>
<polygon points="74.2,533.64 76.99,538.23 71.41,538.23" fill="#fff" stroke="#1f55ff" stroke-width="0.85"/>
<polygon points="77.57,534.86 80.36,539.45 74.78,539.45" fill="#fff" stroke="#1f55ff" stroke-width="0.85"/>
<polygon points="80.94,534.23 83.73,538.82 78.15,538.82" fill="#fff" stroke="#1f55ff" stroke-width="0.85"/>
<polygon points="84.31,531.56 87.1,536.15 81.52,536.15" fill="#fff" stroke="#1f55ff" stroke-width="0.85"/>
<polygon points="87.68,531.21 90.47,535.8 84.89,535.8" fill="#fff" stroke="#1f55ff" stroke-width="0.85"/>
<polygon points="91.05,532.15 93.84,536.74 88.26,536.74" fill="#fff" stroke="#1f55ff" stroke-width="0.85"/>
<polygon points="94.42,532.07 97.21,536.66 91.63,536.66" fill="#fff" stroke="#1f55ff" stroke-width="0.85"/>
<polygon points="97.79,531.29 100.58,535.88 95,535.88" fill="#fff" stroke="#1f55ff" stroke-width="0.85"/>
<polygon points="101.16,533.96 103.95,538.55 98.37,538.55" fill="#fff" stroke="#1f55ff" stroke-width="0.85"/>
<polygon points="104.53,533.71 107.32,538.3 101.74,538.3" fill="#fff" stroke="#1f55ff" stroke-width="0.85"/>
<polygon points="107.9,534.46 110.69,539.05 105.11,539.05" fill="#fff" stroke="#1f55ff" stroke-width="0.85"/>
<polygon points="111.27,532.71 114.06,537.3 108.48,537.3" fill="#fff" stroke="#1f55ff" stroke-width="0.85"/>
<polygon points="114.64,532.66 117.43,537.25 111.85,537.25" fill="#fff" stroke="#1f55ff" stroke-width="0.85"/>
<polygon points="118.01,531.93 120.8,536.52 115.22,536.52" fill="#fff" stroke="#1f55ff" stroke-width="0.85"/>
<polygon points="121.38,533.98 124.17,538.57 118.59,538.57" fill="#fff" stroke="#1f55ff" stroke-width="0.85"/>
<polygon points="124.75,532.04 127.54,536.63 121.96,536.63" fill="#fff" stroke="#1f55ff" stroke-width="0.85"/>
<polygon points="128.12,532.46 130.91,537.05 125.33,537.05" fill="#fff" stroke="#1f55ff" stroke-width="0.85"/>
<polygon points="131.49,532.65 134.28,537.24 128.7,537.24" fill="#fff" stroke="#1f55ff" stroke-width="0.85"/>
<polygon points="134.86,532.37 137.65,536.96 132.07,536.96" fill="#fff" stroke="#1f55ff" stroke-width="0.85"/>
<polygon points="138.23,531.58 141.02,536.17 135.44,536.17" fill="#fff" stroke="#1f55ff" stroke-width="0.85"/>
<polygon points="141.6,534.36 144.39,538.95 138.81,538.95" fill="#fff" stroke="#1f55ff" stroke-width="0.85"/>
<polygon points="144.97,531.99 147.76,536.58 142.18,536.58" fill="#fff" stroke="#1f55ff" stroke-width="0.85"/>
<polygon points="148.34,532.39 151.13,536.98 145.55,536.98" fill="#fff" stroke="#1f55ff" stroke-width="0.85"/>
<polygon points="151.71,532.03 154.5,536.62 148.92,536.62" fill="#fff" stroke="#1f55ff" stroke-width="0.85"/>
<polygon points="155.08,530.67 157.87,535.26 152.29,535.26" fill="#fff" stroke="#1f55ff" stroke-width="0.85"/>
<polygon points="158.45,533.55 161.24,538.14 155.66,538.14" fill="#fff" stroke="#1f55ff" stroke-width="0.85"/>
<polygon points="161.82,532.27 164.61,536.86 159.03,536.86" fill="#fff" stroke="#1f55ff" stroke-width="0.85"/>
<polygon points="165.19,532.58 167.98,537.17 162.4,537.17" fill="#fff" stroke="#1f55ff" stroke-width="0.85"/>
<polygon points="168.56,532.32 171.35,536.91 165.77,536.91" fill="#fff" stroke="#1f55ff" stroke-width="0.85"/>
<polygon points="171.93,531.63 174.72,536.22 169.14,536.22" fill="#fff" stroke="#1f55ff" stroke-width="0.85"/>
<polygon points="175.3,531.8 178.09,536.39 172.51,536.39" fill="#fff" stroke="#1f55ff" stroke-width="0.85"/>
<polygon points="178.67,532.37 181.46,536.96 175.88,536.96" fill="#fff" stroke="#1f55ff" stroke-width="0.85"/>
<polygon points="182.04,531.46 184.83,536.05 179.25,536.05" fill="#fff" stroke="#1f55ff" stroke-width="0.85"/>
<polygon points="185.41,531.29 188.2,535.88 182.62,535.88" fill="#fff" stroke="#1f55ff" stroke-width="0.85"/>
<polygon points="188.78,531.49 191.57,536.08 185.99,536.08" fill="#fff" stroke="#1f55ff" stroke-width="0.85"/>
<polygon points="192.15,532.16 194.94,536.75 189.36,536.75" fill="#fff" stroke="#1f55ff" stroke-width="0.85"/>
<polygon points="195.52,530.48 198.31,535.07 192.73,535.07" fill="#fff" stroke="#1f55ff" stroke-width="0.85"/>
<polygon points="198.89,531.28 201.68,535.87 196.1,535.87" fill="#fff" stroke="#1f55ff" stroke-width="0.85"/>
<polygon points="202.26,531.42 205.05,536.01 199.47,536.01" fill="#fff" stroke="#1f55ff" stroke-width="0.85"/>
<polygon points="205.63,531.4 208.42,535.99 202.84,535.99" fill="#fff" stroke="#1f55ff" stroke-width="0.85"/>
<polygon points="209,531.22 211.79,535.81 206.21,535.81" fill="#fff" stroke="#1f55ff" stroke-width="0.85"/>
<polygon points="212.37,528.53 215.16,533.12 209.58,533.12" fill="#fff" stroke="#1f55ff" stroke-width="0.85"/>
<polygon points="215.74,529.56 218.53,534.15 212.95,534.15" fill="#fff" stroke="#1f55ff" stroke-width="0.85"/>
<polygon points="219.11,530.13 221.9,534.72 216.32,534.72" fill="#fff" stroke="#1f55ff" stroke-width="0.85"/>
<polygon points="222.48,530.11 225.27,534.7 219.69,534.7" fill="#fff" stroke="#1f55ff" stroke-width="0.85"/>
<polygon points="225.85,529.39 228.64,533.98 223.06,533.98" fill="#fff" stroke="#1f55ff" stroke-width="0.85"/>
<polygon points="229.22,529.06 232.01,533.65 226.43,533.65" fill="#fff" stroke="#1f55ff" stroke-width="0.85"/>
<polygon points="232.59,527.85 235.38,532.44 229.8,532.44" fill="#fff" stroke="#1f55ff" stroke-width="0.85"/>
<polygon points="235.96,529.37 238.75,533.96 233.17,533.96" fill="#fff" stroke="#1f55ff" stroke-width="0.85"/>
<polygon points="239.33,527.19 242.12,531.78 236.54,531.78" fill="#fff" stroke="#1f55ff" stroke-width="0.85"/>
<polygon points="242.7,525.79 245.49,530.38 239.91,530.38" fill="#fff" stroke="#1f55ff" stroke-width="0.85"/>
<polygon points="246.07,522.41 248.86,527 243.28,527" fill="#fff" stroke="#1f55ff" stroke-width="0.85"/>
<polygon points="249.44,519.68 252.23,524.27 246.65,524.27" fill="#fff" stroke="#1f55ff" stroke-width="0.85"/>
<polygon points="252.81,513.14 255.6,517.73 250.02,517.73" fill="#fff" stroke="#1f55ff" stroke-width="0.85"/>
<polygon points="256.18,505.12 258.97,509.71 253.39,509.71" fill="#fff" stroke="#1f55ff" stroke-width="0.85"/>
<polygon points="259.55,488.02 262.34,492.61 256.76,492.61" fill="#fff" stroke="#1f55ff" stroke-width="0.85"/>
<polygon points="262.92,472.89 265.71,477.48 260.13,477.48" fill="#fff" stroke="#1f55ff" stroke-width="0.85"/>
<polygon points="266.29,451.51 269.08,456.1 263.5,456.1" fill="#fff" stroke="#1f55ff" stroke-width="0.85"/>
<polygon points="269.66,425.35 272.45,429.94 266.87,429.94" fill="#fff" stroke="#1f55ff" stroke-width="0.85"/>
<polygon points="273.03,405.75 275.82,410.34 270.24,410.34" fill="#fff" stroke="#1f55ff" stroke-width="0.85"/>
<polygon points="276.4,388.21 279.19,392.8 273.61,392.8" fill="#fff" stroke="#1f55ff" stroke-width="0.85"/>
<polygon points="279.77,372.49 282.56,377.08 276.98,377.08" fill="#fff" stroke="#1f55ff" stroke-width="0.85"/>
<polygon points="283.14,370.56 285.93,375.15 280.35,375.15" fill="#fff" stroke="#1f55ff" stroke-width="0.85"/>
<polygon points="286.51,379.22 289.3,383.81 283.72,383.81" fill="#fff" stroke="#1f55ff" stroke-width="0.85"/>
<polygon points="289.88,396.36 292.67,400.95 287.09,400.95" fill="#fff" stroke="#1f55ff" stroke-width="0.85"/>
<polygon points="293.25,417.62 296.04,422.21 290.46,422.21" fill="#fff" stroke="#1f55ff" stroke-width="0.85"/>
<polygon points="296.62,444.43 299.41,449.02 293.83,449.02" fill="#fff" stroke="#1f55ff" stroke-width="0.85"/>
<polygon points="299.99,468.3 302.78,472.89 297.2,472.89" fill="#fff" stroke="#1f55ff" stroke-width="0.85"/>
<polygon points="303.36,485.92 306.15,490.51 300.57,490.51" fill="#fff" stroke="#1f55ff" stroke-width="0.85"/>
<polygon points="306.73,499.28 309.52,503.87 303.94,503.87" fill="#fff" stroke="#1f55ff" stroke-width="0.85"/>
<polygon points="310.1,511.24 312.89,515.83 307.31,515.83" fill="#fff" stroke="#1f55ff" stroke-width="0.85"/>
<polygon points="313.47,519.37 316.26,523.96 310.68,523.96" fill="#fff" stroke="#1f55ff" stroke-width="0.85"/>
<polygon points="316.84,523.36 319.63,527.95 314.05,527.95" fill="#fff" stroke="#1f55ff" stroke-width="0.85"/>
<polygon points="320.21,525.52 323,530.11 317.42,530.11" fill="#fff" stroke="#1f55ff" stroke-width="0.85"/>
<polygon points="323.58,528.15 326.37,532.74 320.79,532.74" fill="#fff" stroke="#1f55ff" stroke-width="0.85"/>
<polygon points="326.95,529.09 329.74,533.68 324.16,533.68" fill="#fff" stroke="#1f55ff" stroke-width="0.85"/>
<polygon points="330.32,529.01 333.11,533.6 327.53,533.6" fill="#fff" stroke="#1f55ff" stroke-width="0.85"/>
<polygon points="333.69,530.26 336.48,534.85 330.9,534.85" fill="#fff" stroke="#1f55ff" stroke-width="0.85"/>
<polygon points="337.06,531.34 339.85,535.93 334.27,535.93" fill="#fff" stroke="#1f55ff" stroke-width="0.85"/>
<polygon points="340.43,531.86 343.22,536.45 337.64,536.45" fill="#fff" stroke="#1f55ff" stroke-width="0.85"/>
<polygon points="343.8,531.35 346.59,535.94 341.01,535.94" fill="#fff" stroke="#1f55ff" stroke-width="0.85"/>
<path d="M60.72,532.33 L64.09,532.93 L67.46,534.57 L70.83,534.42 L74.2,533.75 L77.57,535.37 L80.94,533.36 L84.31,535.27 L87.68,534.33 L91.05,535.78 L94.42,534.3 L97.79,533.67 L101.16,533.65 L104.53,534.37 L107.9,537.02 L111.27,535.17 L114.64,534.54 L118.01,533.44 L121.38,534.59 L124.75,533.62 L128.12,534.09 L131.49,534.95 L134.86,532.86 L138.23,533.49 L141.6,534.13 L144.97,533.46 L148.34,532.16 L151.71,533.89 L155.08,535.09 L158.45,533.13 L161.82,536.14 L165.19,533.84 L168.56,532.76 L171.93,533.49 L175.3,533.67 L178.67,534.62 L182.04,534.56 L185.41,533.15 L188.78,534.44 L192.15,530.94 L195.52,532.73 L198.89,531.1 L202.26,530.84 L205.63,531.86 L209,530.56 L212.37,531.05 L215.74,531.05 L219.11,531.18 L222.48,531.3 L225.85,530.13 L229.22,530.45 L232.59,531.3 L235.96,528.8 L239.33,528.28 L242.7,528.4 L246.07,523.83 L249.44,521.46 L252.81,515.88 L256.18,505.15 L259.55,495.41 L262.92,472.82 L266.29,455.65 L269.66,428.52 L273.03,409.29 L276.4,388.46 L279.77,377.01 L283.14,373.35 L286.51,380.31 L289.88,395.41 L293.25,418.63 L296.62,440.88 L299.99,465.5 L303.36,482.91 L306.73,500.4 L310.1,512.3 L313.47,520.02 L316.84,524.24 L320.21,529.7 L323.58,529.03 L326.95,531.71 L330.32,531.22 L333.69,531.42 L337.06,533.88 L340.43,533.05 L343.8,533.69" fill="none" stroke="#169a16" stroke-width="1.25" stroke-linejoin="round"/>
<circle cx="60.72" cy="532.33" r="2.25" fill="#fff" stroke="#169a16" stroke-width="0.85"/>
<circle cx="64.09" cy="532.93" r="2.25" fill="#fff" stroke="#169a16" stroke-width="0.85"/>
<circle cx="67.46" cy="534.57" r="2.25" fill="#fff" stroke="#169a16" stroke-width="0.85"/>
<circle cx="70.83" cy="534.42" r="2.25" fill="#fff" stroke="#169a16" stroke-width="0.85"/>
<circle cx="74.2" cy="533.75" r="2.25" fill="#fff" stroke="#169a16" stroke-width="0.85"/>
<circle cx="77.57" cy="535.37" r="2.25" fill="#fff" stroke="#169a16" stroke-width="0.85"/>
<circle cx="80.94" cy="533.36" r="2.25" fill="#fff" stroke="#169a16" stroke-width="0.85"/>
<circle cx="84.31" cy="535.27" r="2.25" fill="#fff" stroke="#169a16" stroke-width="0.85"/>
<circle cx="87.68" cy="534.33" r="2.25" fill="#fff" stroke="#169a16" stroke-width="0.85"/>
<circle cx="91.05" cy="535.78" r="2.25" fill="#fff" stroke="#169a16" stroke-width="0.85"/>
<circle cx="94.42" cy="534.3" r="2.25" fill="#fff" stroke="#169a16" stroke-width="0.85"/>
<circle cx="97.79" cy="533.67" r="2.25" fill="#fff" stroke="#169a16" stroke-width="0.85"/>
<circle cx="101.16" cy="533.65" r="2.25" fill="#fff" stroke="#169a16" stroke-width="0.85"/>
<circle cx="104.53" cy="534.37" r="2.25" fill="#fff" stroke="#169a16" stroke-width="0.85"/>
<circle cx="107.9" cy="537.02" r="2.25" fill="#fff" stroke="#169a16" stroke-width="0.85"/>
<circle cx="111.27" cy="535.17" r="2.25" fill="#fff" stroke="#169a16" stroke-width="0.85"/>
<circle cx="114.64" cy="534.54" r="2.25" fill="#fff" stroke="#169a16" stroke-width="0.85"/>
<circle cx="118.01" cy="533.44" r="2.25" fill="#fff" stroke="#169a16" stroke-width="0.85"/>
<circle cx="121.38" cy="534.59" r="2.25" fill="#fff" stroke="#169a16" stroke-width="0.85"/>
<circle cx="124.75" cy="533.62" r="2.25" fill="#fff" stroke="#169a16" stroke-width="0.85"/>
<circle cx="128.12" cy="534.09" r="2.25" fill="#fff" stroke="#169a16" stroke-width="0.85"/>
<circle cx="131.49" cy="534.95" r="2.25" fill="#fff" stroke="#169a16" stroke-width="0.85"/>
<circle cx="134.86" cy="532.86" r="2.25" fill="#fff" stroke="#169a16" stroke-width="0.85"/>
<circle cx="138.23" cy="533.49" r="2.25" fill="#fff" stroke="#169a16" stroke-width="0.85"/>
<circle cx="141.6" cy="534.13" r="2.25" fill="#fff" stroke="#169a16" stroke-width="0.85"/>
<circle cx="144.97" cy="533.46" r="2.25" fill="#fff" stroke="#169a16" stroke-width="0.85"/>
<circle cx="148.34" cy="532.16" r="2.25" fill="#fff" stroke="#169a16" stroke-width="0.85"/>
<circle cx="151.71" cy="533.89" r="2.25" fill="#fff" stroke="#169a16" stroke-width="0.85"/>
<circle cx="155.08" cy="535.09" r="2.25" fill="#fff" stroke="#169a16" stroke-width="0.85"/>
<circle cx="158.45" cy="533.13" r="2.25" fill="#fff" stroke="#169a16" stroke-width="0.85"/>
<circle cx="161.82" cy="536.14" r="2.25" fill="#fff" stroke="#169a16" stroke-width="0.85"/>
<circle cx="165.19" cy="533.84" r="2.25" fill="#fff" stroke="#169a16" stroke-width="0.85"/>
<circle cx="168.56" cy="532.76" r="2.25" fill="#fff" stroke="#169a16" stroke-width="0.85"/>
<circle cx="171.93" cy="533.49" r="2.25" fill="#fff" stroke="#169a16" stroke-width="0.85"/>
<circle cx="175.3" cy="533.67" r="2.25" fill="#fff" stroke="#169a16" stroke-width="0.85"/>
<circle cx="178.67" cy="534.62" r="2.25" fill="#fff" stroke="#169a16" stroke-width="0.85"/>
<circle cx="182.04" cy="534.56" r="2.25" fill="#fff" stroke="#169a16" stroke-width="0.85"/>
<circle cx="185.41" cy="533.15" r="2.25" fill="#fff" stroke="#169a16" stroke-width="0.85"/>
<circle cx="188.78" cy="534.44" r="2.25" fill="#fff" stroke="#169a16" stroke-width="0.85"/>
<circle cx="192.15" cy="530.94" r="2.25" fill="#fff" stroke="#169a16" stroke-width="0.85"/>
<circle cx="195.52" cy="532.73" r="2.25" fill="#fff" stroke="#169a16" stroke-width="0.85"/>
<circle cx="198.89" cy="531.1" r="2.25" fill="#fff" stroke="#169a16" stroke-width="0.85"/>
<circle cx="202.26" cy="530.84" r="2.25" fill="#fff" stroke="#169a16" stroke-width="0.85"/>
<circle cx="205.63" cy="531.86" r="2.25" fill="#fff" stroke="#169a16" stroke-width="0.85"/>
<circle cx="209" cy="530.56" r="2.25" fill="#fff" stroke="#169a16" stroke-width="0.85"/>
<circle cx="212.37" cy="531.05" r="2.25" fill="#fff" stroke="#169a16" stroke-width="0.85"/>
<circle cx="215.74" cy="531.05" r="2.25" fill="#fff" stroke="#169a16" stroke-width="0.85"/>
<circle cx="219.11" cy="531.18" r="2.25" fill="#fff" stroke="#169a16" stroke-width="0.85"/>
<circle cx="222.48" cy="531.3" r="2.25" fill="#fff" stroke="#169a16" stroke-width="0.85"/>
<circle cx="225.85" cy="530.13" r="2.25" fill="#fff" stroke="#169a16" stroke-width="0.85"/>
<circle cx="229.22" cy="530.45" r="2.25" fill="#fff" stroke="#169a16" stroke-width="0.85"/>
<circle cx="232.59" cy="531.3" r="2.25" fill="#fff" stroke="#169a16" stroke-width="0.85"/>
<circle cx="235.96" cy="528.8" r="2.25" fill="#fff" stroke="#169a16" stroke-width="0.85"/>
<circle cx="239.33" cy="528.28" r="2.25" fill="#fff" stroke="#169a16" stroke-width="0.85"/>
<circle cx="242.7" cy="528.4" r="2.25" fill="#fff" stroke="#169a16" stroke-width="0.85"/>
<circle cx="246.07" cy="523.83" r="2.25" fill="#fff" stroke="#169a16" stroke-width="0.85"/>
<circle cx="249.44" cy="521.46" r="2.25" fill="#fff" stroke="#169a16" stroke-width="0.85"/>
<circle cx="252.81" cy="515.88" r="2.25" fill="#fff" stroke="#169a16" stroke-width="0.85"/>
<circle cx="256.18" cy="505.15" r="2.25" fill="#fff" stroke="#169a16" stroke-width="0.85"/>
<circle cx="259.55" cy="495.41" r="2.25" fill="#fff" stroke="#169a16" stroke-width="0.85"/>
<circle cx="262.92" cy="472.82" r="2.25" fill="#fff" stroke="#169a16" stroke-width="0.85"/>
<circle cx="266.29" cy="455.65" r="2.25" fill="#fff" stroke="#169a16" stroke-width="0.85"/>
<circle cx="269.66" cy="428.52" r="2.25" fill="#fff" stroke="#169a16" stroke-width="0.85"/>
<circle cx="273.03" cy="409.29" r="2.25" fill="#fff" stroke="#169a16" stroke-width="0.85"/>
<circle cx="276.4" cy="388.46" r="2.25" fill="#fff" stroke="#169a16" stroke-width="0.85"/>
<circle cx="279.77" cy="377.01" r="2.25" fill="#fff" stroke="#169a16" stroke-width="0.85"/>
<circle cx="283.14" cy="373.35" r="2.25" fill="#fff" stroke="#169a16" stroke-width="0.85"/>
<circle cx="286.51" cy="380.31" r="2.25" fill="#fff" stroke="#169a16" stroke-width="0.85"/>
<circle cx="289.88" cy="395.41" r="2.25" fill="#fff" stroke="#169a16" stroke-width="0.85"/>
<circle cx="293.25" cy="418.63" r="2.25" fill="#fff" stroke="#169a16" stroke-width="0.85"/>
<circle cx="296.62" cy="440.88" r="2.25" fill="#fff" stroke="#169a16" stroke-width="0.85"/>
<circle cx="299.99" cy="465.5" r="2.25" fill="#fff" stroke="#169a16" stroke-width="0.85"/>
<circle cx="303.36" cy="482.91" r="2.25" fill="#fff" stroke="#169a16" stroke-width="0.85"/>
<circle cx="306.73" cy="500.4" r="2.25" fill="#fff" stroke="#169a16" stroke-width="0.85"/>
<circle cx="310.1" cy="512.3" r="2.25" fill="#fff" stroke="#169a16" stroke-width="0.85"/>
<circle cx="313.47" cy="520.02" r="2.25" fill="#fff" stroke="#169a16" stroke-width="0.85"/>
<circle cx="316.84" cy="524.24" r="2.25" fill="#fff" stroke="#169a16" stroke-width="0.85"/>
<circle cx="320.21" cy="529.7" r="2.25" fill="#fff" stroke="#169a16" stroke-width="0.85"/>
<circle cx="323.58" cy="529.03" r="2.25" fill="#fff" stroke="#169a16" stroke-width="0.85"/>
<circle cx="326.95" cy="531.71" r="2.25" fill="#fff" stroke="#169a16" stroke-width="0.85"/>
<circle cx="330.32" cy="531.22" r="2.25" fill="#fff" stroke="#169a16" stroke-width="0.85"/>
<circle cx="333.69" cy="531.42" r="2.25" fill="#fff" stroke="#169a16" stroke-width="0.85"/>
<circle cx="337.06" cy="533.88" r="2.25" fill="#fff" stroke="#169a16" stroke-width="0.85"/>
<circle cx="340.43" cy="533.05" r="2.25" fill="#fff" stroke="#169a16" stroke-width="0.85"/>
<circle cx="343.8" cy="533.69" r="2.25" fill="#fff" stroke="#169a16" stroke-width="0.85"/>
<path d="M60.72,536.96 L64.09,536.33 L67.46,537.03 L70.83,536.81 L74.2,537.42 L77.57,536.37 L80.94,536.65 L84.31,536.98 L87.68,536 L91.05,536.44 L94.42,534.94 L97.79,535.67 L101.16,534.25 L104.53,536.45 L107.9,535.95 L111.27,536.71 L114.64,535.88 L118.01,535.32 L121.38,536.04 L124.75,535.44 L128.12,536.37 L131.49,535.06 L134.86,536.8 L138.23,534.27 L141.6,535.63 L144.97,536.35 L148.34,537.48 L151.71,536.03 L155.08,533.37 L158.45,535.19 L161.82,536.71 L165.19,536.11 L168.56,537.44 L171.93,534.33 L175.3,536.62 L178.67,535.54 L182.04,534.51 L185.41,535.12 L188.78,537.01 L192.15,534 L195.52,533.37 L198.89,535.6 L202.26,533.53 L205.63,534.11 L209,533.99 L212.37,534.26 L215.74,530.16 L219.11,532.72 L222.48,533.89 L225.85,530.99 L229.22,532.49 L232.59,530.35 L235.96,530.73 L239.33,531.28 L242.7,527.38 L246.07,525.47 L249.44,518.24 L252.81,513.29 L256.18,506.03 L259.55,491.44 L262.92,474.01 L266.29,454.16 L269.66,428.66 L273.03,407.33 L276.4,389.14 L279.77,376.48 L283.14,376.15 L286.51,386.47 L289.88,401.49 L293.25,424.88 L296.62,445.56 L299.99,472.8 L303.36,489.66 L306.73,505.33 L310.1,515.84 L313.47,522.12 L316.84,525.83 L320.21,530.79 L323.58,530.33 L326.95,530.86 L330.32,532.36 L333.69,533.47 L337.06,533.24 L340.43,534.88 L343.8,533.39" fill="none" stroke="#f5821f" stroke-width="1.25" stroke-linejoin="round"/>
<polygon points="63.42,536.96 58.83,534.17 58.83,539.75" fill="#fff" stroke="#f5821f" stroke-width="0.85"/>
<polygon points="66.79,536.33 62.2,533.54 62.2,539.12" fill="#fff" stroke="#f5821f" stroke-width="0.85"/>
<polygon points="70.16,537.03 65.57,534.24 65.57,539.82" fill="#fff" stroke="#f5821f" stroke-width="0.85"/>
<polygon points="73.53,536.81 68.94,534.02 68.94,539.6" fill="#fff" stroke="#f5821f" stroke-width="0.85"/>
<polygon points="76.9,537.42 72.31,534.63 72.31,540.21" fill="#fff" stroke="#f5821f" stroke-width="0.85"/>
<polygon points="80.27,536.37 75.68,533.58 75.68,539.16" fill="#fff" stroke="#f5821f" stroke-width="0.85"/>
<polygon points="83.64,536.65 79.05,533.86 79.05,539.44" fill="#fff" stroke="#f5821f" stroke-width="0.85"/>
<polygon points="87.01,536.98 82.42,534.19 82.42,539.77" fill="#fff" stroke="#f5821f" stroke-width="0.85"/>
<polygon points="90.38,536 85.79,533.21 85.79,538.79" fill="#fff" stroke="#f5821f" stroke-width="0.85"/>
<polygon points="93.75,536.44 89.16,533.65 89.16,539.23" fill="#fff" stroke="#f5821f" stroke-width="0.85"/>
<polygon points="97.12,534.94 92.53,532.15 92.53,537.73" fill="#fff" stroke="#f5821f" stroke-width="0.85"/>
<polygon points="100.49,535.67 95.9,532.88 95.9,538.46" fill="#fff" stroke="#f5821f" stroke-width="0.85"/>
<polygon points="103.86,534.25 99.27,531.46 99.27,537.04" fill="#fff" stroke="#f5821f" stroke-width="0.85"/>
<polygon points="107.23,536.45 102.64,533.66 102.64,539.24" fill="#fff" stroke="#f5821f" stroke-width="0.85"/>
<polygon points="110.6,535.95 106.01,533.16 106.01,538.74" fill="#fff" stroke="#f5821f" stroke-width="0.85"/>
<polygon points="113.97,536.71 109.38,533.92 109.38,539.5" fill="#fff" stroke="#f5821f" stroke-width="0.85"/>
<polygon points="117.34,535.88 112.75,533.09 112.75,538.67" fill="#fff" stroke="#f5821f" stroke-width="0.85"/>
<polygon points="120.71,535.32 116.12,532.53 116.12,538.11" fill="#fff" stroke="#f5821f" stroke-width="0.85"/>
<polygon points="124.08,536.04 119.49,533.25 119.49,538.83" fill="#fff" stroke="#f5821f" stroke-width="0.85"/>
<polygon points="127.45,535.44 122.86,532.65 122.86,538.23" fill="#fff" stroke="#f5821f" stroke-width="0.85"/>
<polygon points="130.82,536.37 126.23,533.58 126.23,539.16" fill="#fff" stroke="#f5821f" stroke-width="0.85"/>
<polygon points="134.19,535.06 129.6,532.27 129.6,537.85" fill="#fff" stroke="#f5821f" stroke-width="0.85"/>
<polygon points="137.56,536.8 132.97,534.01 132.97,539.59" fill="#fff" stroke="#f5821f" stroke-width="0.85"/>
<polygon points="140.93,534.27 136.34,531.48 136.34,537.06" fill="#fff" stroke="#f5821f" stroke-width="0.85"/>
<polygon points="144.3,535.63 139.71,532.84 139.71,538.42" fill="#fff" stroke="#f5821f" stroke-width="0.85"/>
<polygon points="147.67,536.35 143.08,533.56 143.08,539.14" fill="#fff" stroke="#f5821f" stroke-width="0.85"/>
<polygon points="151.04,537.48 146.45,534.69 146.45,540.27" fill="#fff" stroke="#f5821f" stroke-width="0.85"/>
<polygon points="154.41,536.03 149.82,533.24 149.82,538.82" fill="#fff" stroke="#f5821f" stroke-width="0.85"/>
<polygon points="157.78,533.37 153.19,530.58 153.19,536.16" fill="#fff" stroke="#f5821f" stroke-width="0.85"/>
<polygon points="161.15,535.19 156.56,532.4 156.56,537.98" fill="#fff" stroke="#f5821f" stroke-width="0.85"/>
<polygon points="164.52,536.71 159.93,533.92 159.93,539.5" fill="#fff" stroke="#f5821f" stroke-width="0.85"/>
<polygon points="167.89,536.11 163.3,533.32 163.3,538.9" fill="#fff" stroke="#f5821f" stroke-width="0.85"/>
<polygon points="171.26,537.44 166.67,534.65 166.67,540.23" fill="#fff" stroke="#f5821f" stroke-width="0.85"/>
<polygon points="174.63,534.33 170.04,531.54 170.04,537.12" fill="#fff" stroke="#f5821f" stroke-width="0.85"/>
<polygon points="178,536.62 173.41,533.83 173.41,539.41" fill="#fff" stroke="#f5821f" stroke-width="0.85"/>
<polygon points="181.37,535.54 176.78,532.75 176.78,538.33" fill="#fff" stroke="#f5821f" stroke-width="0.85"/>
<polygon points="184.74,534.51 180.15,531.72 180.15,537.3" fill="#fff" stroke="#f5821f" stroke-width="0.85"/>
<polygon points="188.11,535.12 183.52,532.33 183.52,537.91" fill="#fff" stroke="#f5821f" stroke-width="0.85"/>
<polygon points="191.48,537.01 186.89,534.22 186.89,539.8" fill="#fff" stroke="#f5821f" stroke-width="0.85"/>
<polygon points="194.85,534 190.26,531.21 190.26,536.79" fill="#fff" stroke="#f5821f" stroke-width="0.85"/>
<polygon points="198.22,533.37 193.63,530.58 193.63,536.16" fill="#fff" stroke="#f5821f" stroke-width="0.85"/>
<polygon points="201.59,535.6 197,532.81 197,538.39" fill="#fff" stroke="#f5821f" stroke-width="0.85"/>
<polygon points="204.96,533.53 200.37,530.74 200.37,536.32" fill="#fff" stroke="#f5821f" stroke-width="0.85"/>
<polygon points="208.33,534.11 203.74,531.32 203.74,536.9" fill="#fff" stroke="#f5821f" stroke-width="0.85"/>
<polygon points="211.7,533.99 207.11,531.2 207.11,536.78" fill="#fff" stroke="#f5821f" stroke-width="0.85"/>
<polygon points="215.07,534.26 210.48,531.47 210.48,537.05" fill="#fff" stroke="#f5821f" stroke-width="0.85"/>
<polygon points="218.44,530.16 213.85,527.37 213.85,532.95" fill="#fff" stroke="#f5821f" stroke-width="0.85"/>
<polygon points="221.81,532.72 217.22,529.93 217.22,535.51" fill="#fff" stroke="#f5821f" stroke-width="0.85"/>
<polygon points="225.18,533.89 220.59,531.1 220.59,536.68" fill="#fff" stroke="#f5821f" stroke-width="0.85"/>
<polygon points="228.55,530.99 223.96,528.2 223.96,533.78" fill="#fff" stroke="#f5821f" stroke-width="0.85"/>
<polygon points="231.92,532.49 227.33,529.7 227.33,535.28" fill="#fff" stroke="#f5821f" stroke-width="0.85"/>
<polygon points="235.29,530.35 230.7,527.56 230.7,533.14" fill="#fff" stroke="#f5821f" stroke-width="0.85"/>
<polygon points="238.66,530.73 234.07,527.94 234.07,533.52" fill="#fff" stroke="#f5821f" stroke-width="0.85"/>
<polygon points="242.03,531.28 237.44,528.49 237.44,534.07" fill="#fff" stroke="#f5821f" stroke-width="0.85"/>
<polygon points="245.4,527.38 240.81,524.59 240.81,530.17" fill="#fff" stroke="#f5821f" stroke-width="0.85"/>
<polygon points="248.77,525.47 244.18,522.68 244.18,528.26" fill="#fff" stroke="#f5821f" stroke-width="0.85"/>
<polygon points="252.14,518.24 247.55,515.45 247.55,521.03" fill="#fff" stroke="#f5821f" stroke-width="0.85"/>
<polygon points="255.51,513.29 250.92,510.5 250.92,516.08" fill="#fff" stroke="#f5821f" stroke-width="0.85"/>
<polygon points="258.88,506.03 254.29,503.24 254.29,508.82" fill="#fff" stroke="#f5821f" stroke-width="0.85"/>
<polygon points="262.25,491.44 257.66,488.65 257.66,494.23" fill="#fff" stroke="#f5821f" stroke-width="0.85"/>
<polygon points="265.62,474.01 261.03,471.22 261.03,476.8" fill="#fff" stroke="#f5821f" stroke-width="0.85"/>
<polygon points="268.99,454.16 264.4,451.37 264.4,456.95" fill="#fff" stroke="#f5821f" stroke-width="0.85"/>
<polygon points="272.36,428.66 267.77,425.87 267.77,431.45" fill="#fff" stroke="#f5821f" stroke-width="0.85"/>
<polygon points="275.73,407.33 271.14,404.54 271.14,410.12" fill="#fff" stroke="#f5821f" stroke-width="0.85"/>
<polygon points="279.1,389.14 274.51,386.35 274.51,391.93" fill="#fff" stroke="#f5821f" stroke-width="0.85"/>
<polygon points="282.47,376.48 277.88,373.69 277.88,379.27" fill="#fff" stroke="#f5821f" stroke-width="0.85"/>
<polygon points="285.84,376.15 281.25,373.36 281.25,378.94" fill="#fff" stroke="#f5821f" stroke-width="0.85"/>
<polygon points="289.21,386.47 284.62,383.68 284.62,389.26" fill="#fff" stroke="#f5821f" stroke-width="0.85"/>
<polygon points="292.58,401.49 287.99,398.7 287.99,404.28" fill="#fff" stroke="#f5821f" stroke-width="0.85"/>
<polygon points="295.95,424.88 291.36,422.09 291.36,427.67" fill="#fff" stroke="#f5821f" stroke-width="0.85"/>
<polygon points="299.32,445.56 294.73,442.77 294.73,448.35" fill="#fff" stroke="#f5821f" stroke-width="0.85"/>
<polygon points="302.69,472.8 298.1,470.01 298.1,475.59" fill="#fff" stroke="#f5821f" stroke-width="0.85"/>
<polygon points="306.06,489.66 301.47,486.87 301.47,492.45" fill="#fff" stroke="#f5821f" stroke-width="0.85"/>
<polygon points="309.43,505.33 304.84,502.54 304.84,508.12" fill="#fff" stroke="#f5821f" stroke-width="0.85"/>
<polygon points="312.8,515.84 308.21,513.05 308.21,518.63" fill="#fff" stroke="#f5821f" stroke-width="0.85"/>
<polygon points="316.17,522.12 311.58,519.33 311.58,524.91" fill="#fff" stroke="#f5821f" stroke-width="0.85"/>
<polygon points="319.54,525.83 314.95,523.04 314.95,528.62" fill="#fff" stroke="#f5821f" stroke-width="0.85"/>
<polygon points="322.91,530.79 318.32,528 318.32,533.58" fill="#fff" stroke="#f5821f" stroke-width="0.85"/>
<polygon points="326.28,530.33 321.69,527.54 321.69,533.12" fill="#fff" stroke="#f5821f" stroke-width="0.85"/>
<polygon points="329.65,530.86 325.06,528.07 325.06,533.65" fill="#fff" stroke="#f5821f" stroke-width="0.85"/>
<polygon points="333.02,532.36 328.43,529.57 328.43,535.15" fill="#fff" stroke="#f5821f" stroke-width="0.85"/>
<polygon points="336.39,533.47 331.8,530.68 331.8,536.26" fill="#fff" stroke="#f5821f" stroke-width="0.85"/>
<polygon points="339.76,533.24 335.17,530.45 335.17,536.03" fill="#fff" stroke="#f5821f" stroke-width="0.85"/>
<polygon points="343.13,534.88 338.54,532.09 338.54,537.67" fill="#fff" stroke="#f5821f" stroke-width="0.85"/>
<polygon points="346.5,533.39 341.91,530.6 341.91,536.18" fill="#fff" stroke="#f5821f" stroke-width="0.85"/>
<path d="M60.72,540.17 L64.09,537.98 L67.46,539.78 L70.83,538.85 L74.2,538.2 L77.57,539.17 L80.94,537.27 L84.31,538.65 L87.68,537.08 L91.05,537.44 L94.42,538.01 L97.79,535.63 L101.16,538.6 L104.53,538.92 L107.9,537.39 L111.27,538.44 L114.64,538.1 L118.01,538.21 L121.38,538.57 L124.75,536.74 L128.12,538.24 L131.49,537.14 L134.86,536.91 L138.23,537.14 L141.6,537.46 L144.97,538.64 L148.34,538.48 L151.71,538.97 L155.08,538.87 L158.45,540.96 L161.82,538.69 L165.19,537.94 L168.56,539.27 L171.93,537.41 L175.3,534.65 L178.67,537.42 L182.04,537.34 L185.41,536.56 L188.78,536.13 L192.15,536.8 L195.52,536.6 L198.89,536.67 L202.26,537.57 L205.63,535.73 L209,534.56 L212.37,535.53 L215.74,536.66 L219.11,533.91 L222.48,534.98 L225.85,534.27 L229.22,534.29 L232.59,532.65 L235.96,532.48 L239.33,533.01 L242.7,528.95 L246.07,526.86 L249.44,523.12 L252.81,519.43 L256.18,508.52 L259.55,496.39 L262.92,480.03 L266.29,456.03 L269.66,433.75 L273.03,410.26 L276.4,392.38 L279.77,380.35 L283.14,381.08 L286.51,389.2 L289.88,408.53 L293.25,427.98 L296.62,452.8 L299.99,474.82 L303.36,493.86 L306.73,507.75 L310.1,516.72 L313.47,525.66 L316.84,529.69 L320.21,532.44 L323.58,534.76 L326.95,536.45 L330.32,535.41 L333.69,535.43 L337.06,537.67 L340.43,537.1 L343.8,538.45" fill="none" stroke="#d3000c" stroke-width="1.25" stroke-linejoin="round"/>
<polygon points="60.72,537.11 63.42,540.17 60.72,543.23 58.02,540.17" fill="#fff" stroke="#d3000c" stroke-width="0.85"/>
<polygon points="64.09,534.92 66.79,537.98 64.09,541.04 61.39,537.98" fill="#fff" stroke="#d3000c" stroke-width="0.85"/>
<polygon points="67.46,536.72 70.16,539.78 67.46,542.84 64.76,539.78" fill="#fff" stroke="#d3000c" stroke-width="0.85"/>
<polygon points="70.83,535.79 73.53,538.85 70.83,541.91 68.13,538.85" fill="#fff" stroke="#d3000c" stroke-width="0.85"/>
<polygon points="74.2,535.14 76.9,538.2 74.2,541.26 71.5,538.2" fill="#fff" stroke="#d3000c" stroke-width="0.85"/>
<polygon points="77.57,536.11 80.27,539.17 77.57,542.23 74.87,539.17" fill="#fff" stroke="#d3000c" stroke-width="0.85"/>
<polygon points="80.94,534.21 83.64,537.27 80.94,540.33 78.24,537.27" fill="#fff" stroke="#d3000c" stroke-width="0.85"/>
<polygon points="84.31,535.59 87.01,538.65 84.31,541.71 81.61,538.65" fill="#fff" stroke="#d3000c" stroke-width="0.85"/>
<polygon points="87.68,534.02 90.38,537.08 87.68,540.14 84.98,537.08" fill="#fff" stroke="#d3000c" stroke-width="0.85"/>
<polygon points="91.05,534.38 93.75,537.44 91.05,540.5 88.35,537.44" fill="#fff" stroke="#d3000c" stroke-width="0.85"/>
<polygon points="94.42,534.95 97.12,538.01 94.42,541.07 91.72,538.01" fill="#fff" stroke="#d3000c" stroke-width="0.85"/>
<polygon points="97.79,532.57 100.49,535.63 97.79,538.69 95.09,535.63" fill="#fff" stroke="#d3000c" stroke-width="0.85"/>
<polygon points="101.16,535.54 103.86,538.6 101.16,541.66 98.46,538.6" fill="#fff" stroke="#d3000c" stroke-width="0.85"/>
<polygon points="104.53,535.86 107.23,538.92 104.53,541.98 101.83,538.92" fill="#fff" stroke="#d3000c" stroke-width="0.85"/>
<polygon points="107.9,534.33 110.6,537.39 107.9,540.45 105.2,537.39" fill="#fff" stroke="#d3000c" stroke-width="0.85"/>
<polygon points="111.27,535.38 113.97,538.44 111.27,541.5 108.57,538.44" fill="#fff" stroke="#d3000c" stroke-width="0.85"/>
<polygon points="114.64,535.04 117.34,538.1 114.64,541.16 111.94,538.1" fill="#fff" stroke="#d3000c" stroke-width="0.85"/>
<polygon points="118.01,535.15 120.71,538.21 118.01,541.27 115.31,538.21" fill="#fff" stroke="#d3000c" stroke-width="0.85"/>
<polygon points="121.38,535.51 124.08,538.57 121.38,541.63 118.68,538.57" fill="#fff" stroke="#d3000c" stroke-width="0.85"/>
<polygon points="124.75,533.68 127.45,536.74 124.75,539.8 122.05,536.74" fill="#fff" stroke="#d3000c" stroke-width="0.85"/>
<polygon points="128.12,535.18 130.82,538.24 128.12,541.3 125.42,538.24" fill="#fff" stroke="#d3000c" stroke-width="0.85"/>
<polygon points="131.49,534.08 134.19,537.14 131.49,540.2 128.79,537.14" fill="#fff" stroke="#d3000c" stroke-width="0.85"/>
<polygon points="134.86,533.85 137.56,536.91 134.86,539.97 132.16,536.91" fill="#fff" stroke="#d3000c" stroke-width="0.85"/>
<polygon points="138.23,534.08 140.93,537.14 138.23,540.2 135.53,537.14" fill="#fff" stroke="#d3000c" stroke-width="0.85"/>
<polygon points="141.6,534.4 144.3,537.46 141.6,540.52 138.9,537.46" fill="#fff" stroke="#d3000c" stroke-width="0.85"/>
<polygon points="144.97,535.58 147.67,538.64 144.97,541.7 142.27,538.64" fill="#fff" stroke="#d3000c" stroke-width="0.85"/>
<polygon points="148.34,535.42 151.04,538.48 148.34,541.54 145.64,538.48" fill="#fff" stroke="#d3000c" stroke-width="0.85"/>
<polygon points="151.71,535.91 154.41,538.97 151.71,542.03 149.01,538.97" fill="#fff" stroke="#d3000c" stroke-width="0.85"/>
<polygon points="155.08,535.81 157.78,538.87 155.08,541.93 152.38,538.87" fill="#fff" stroke="#d3000c" stroke-width="0.85"/>
<polygon points="158.45,537.9 161.15,540.96 158.45,544.02 155.75,540.96" fill="#fff" stroke="#d3000c" stroke-width="0.85"/>
<polygon points="161.82,535.63 164.52,538.69 161.82,541.75 159.12,538.69" fill="#fff" stroke="#d3000c" stroke-width="0.85"/>
<polygon points="165.19,534.88 167.89,537.94 165.19,541 162.49,537.94" fill="#fff" stroke="#d3000c" stroke-width="0.85"/>
<polygon points="168.56,536.21 171.26,539.27 168.56,542.33 165.86,539.27" fill="#fff" stroke="#d3000c" stroke-width="0.85"/>
<polygon points="171.93,534.35 174.63,537.41 171.93,540.47 169.23,537.41" fill="#fff" stroke="#d3000c" stroke-width="0.85"/>
<polygon points="175.3,531.59 178,534.65 175.3,537.71 172.6,534.65" fill="#fff" stroke="#d3000c" stroke-width="0.85"/>
<polygon points="178.67,534.36 181.37,537.42 178.67,540.48 175.97,537.42" fill="#fff" stroke="#d3000c" stroke-width="0.85"/>
<polygon points="182.04,534.28 184.74,537.34 182.04,540.4 179.34,537.34" fill="#fff" stroke="#d3000c" stroke-width="0.85"/>
<polygon points="185.41,533.5 188.11,536.56 185.41,539.62 182.71,536.56" fill="#fff" stroke="#d3000c" stroke-width="0.85"/>
<polygon points="188.78,533.07 191.48,536.13 188.78,539.19 186.08,536.13" fill="#fff" stroke="#d3000c" stroke-width="0.85"/>
<polygon points="192.15,533.74 194.85,536.8 192.15,539.86 189.45,536.8" fill="#fff" stroke="#d3000c" stroke-width="0.85"/>
<polygon points="195.52,533.54 198.22,536.6 195.52,539.66 192.82,536.6" fill="#fff" stroke="#d3000c" stroke-width="0.85"/>
<polygon points="198.89,533.61 201.59,536.67 198.89,539.73 196.19,536.67" fill="#fff" stroke="#d3000c" stroke-width="0.85"/>
<polygon points="202.26,534.51 204.96,537.57 202.26,540.63 199.56,537.57" fill="#fff" stroke="#d3000c" stroke-width="0.85"/>
<polygon points="205.63,532.67 208.33,535.73 205.63,538.79 202.93,535.73" fill="#fff" stroke="#d3000c" stroke-width="0.85"/>
<polygon points="209,531.5 211.7,534.56 209,537.62 206.3,534.56" fill="#fff" stroke="#d3000c" stroke-width="0.85"/>
<polygon points="212.37,532.47 215.07,535.53 212.37,538.59 209.67,535.53" fill="#fff" stroke="#d3000c" stroke-width="0.85"/>
<polygon points="215.74,533.6 218.44,536.66 215.74,539.72 213.04,536.66" fill="#fff" stroke="#d3000c" stroke-width="0.85"/>
<polygon points="219.11,530.85 221.81,533.91 219.11,536.97 216.41,533.91" fill="#fff" stroke="#d3000c" stroke-width="0.85"/>
<polygon points="222.48,531.92 225.18,534.98 222.48,538.04 219.78,534.98" fill="#fff" stroke="#d3000c" stroke-width="0.85"/>
<polygon points="225.85,531.21 228.55,534.27 225.85,537.33 223.15,534.27" fill="#fff" stroke="#d3000c" stroke-width="0.85"/>
<polygon points="229.22,531.23 231.92,534.29 229.22,537.35 226.52,534.29" fill="#fff" stroke="#d3000c" stroke-width="0.85"/>
<polygon points="232.59,529.59 235.29,532.65 232.59,535.71 229.89,532.65" fill="#fff" stroke="#d3000c" stroke-width="0.85"/>
<polygon points="235.96,529.42 238.66,532.48 235.96,535.54 233.26,532.48" fill="#fff" stroke="#d3000c" stroke-width="0.85"/>
<polygon points="239.33,529.95 242.03,533.01 239.33,536.07 236.63,533.01" fill="#fff" stroke="#d3000c" stroke-width="0.85"/>
<polygon points="242.7,525.89 245.4,528.95 242.7,532.01 240,528.95" fill="#fff" stroke="#d3000c" stroke-width="0.85"/>
<polygon points="246.07,523.8 248.77,526.86 246.07,529.92 243.37,526.86" fill="#fff" stroke="#d3000c" stroke-width="0.85"/>
<polygon points="249.44,520.06 252.14,523.12 249.44,526.18 246.74,523.12" fill="#fff" stroke="#d3000c" stroke-width="0.85"/>
<polygon points="252.81,516.37 255.51,519.43 252.81,522.49 250.11,519.43" fill="#fff" stroke="#d3000c" stroke-width="0.85"/>
<polygon points="256.18,505.46 258.88,508.52 256.18,511.58 253.48,508.52" fill="#fff" stroke="#d3000c" stroke-width="0.85"/>
<polygon points="259.55,493.33 262.25,496.39 259.55,499.45 256.85,496.39" fill="#fff" stroke="#d3000c" stroke-width="0.85"/>
<polygon points="262.92,476.97 265.62,480.03 262.92,483.09 260.22,480.03" fill="#fff" stroke="#d3000c" stroke-width="0.85"/>
<polygon points="266.29,452.97 268.99,456.03 266.29,459.09 263.59,456.03" fill="#fff" stroke="#d3000c" stroke-width="0.85"/>
<polygon points="269.66,430.69 272.36,433.75 269.66,436.81 266.96,433.75" fill="#fff" stroke="#d3000c" stroke-width="0.85"/>
<polygon points="273.03,407.2 275.73,410.26 273.03,413.32 270.33,410.26" fill="#fff" stroke="#d3000c" stroke-width="0.85"/>
<polygon points="276.4,389.32 279.1,392.38 276.4,395.44 273.7,392.38" fill="#fff" stroke="#d3000c" stroke-width="0.85"/>
<polygon points="279.77,377.29 282.47,380.35 279.77,383.41 277.07,380.35" fill="#fff" stroke="#d3000c" stroke-width="0.85"/>
<polygon points="283.14,378.02 285.84,381.08 283.14,384.14 280.44,381.08" fill="#fff" stroke="#d3000c" stroke-width="0.85"/>
<polygon points="286.51,386.14 289.21,389.2 286.51,392.26 283.81,389.2" fill="#fff" stroke="#d3000c" stroke-width="0.85"/>
<polygon points="289.88,405.47 292.58,408.53 289.88,411.59 287.18,408.53" fill="#fff" stroke="#d3000c" stroke-width="0.85"/>
<polygon points="293.25,424.92 295.95,427.98 293.25,431.04 290.55,427.98" fill="#fff" stroke="#d3000c" stroke-width="0.85"/>
<polygon points="296.62,449.74 299.32,452.8 296.62,455.86 293.92,452.8" fill="#fff" stroke="#d3000c" stroke-width="0.85"/>
<polygon points="299.99,471.76 302.69,474.82 299.99,477.88 297.29,474.82" fill="#fff" stroke="#d3000c" stroke-width="0.85"/>
<polygon points="303.36,490.8 306.06,493.86 303.36,496.92 300.66,493.86" fill="#fff" stroke="#d3000c" stroke-width="0.85"/>
<polygon points="306.73,504.69 309.43,507.75 306.73,510.81 304.03,507.75" fill="#fff" stroke="#d3000c" stroke-width="0.85"/>
<polygon points="310.1,513.66 312.8,516.72 310.1,519.78 307.4,516.72" fill="#fff" stroke="#d3000c" stroke-width="0.85"/>
<polygon points="313.47,522.6 316.17,525.66 313.47,528.72 310.77,525.66" fill="#fff" stroke="#d3000c" stroke-width="0.85"/>
<polygon points="316.84,526.63 319.54,529.69 316.84,532.75 314.14,529.69" fill="#fff" stroke="#d3000c" stroke-width="0.85"/>
<polygon points="320.21,529.38 322.91,532.44 320.21,535.5 317.51,532.44" fill="#fff" stroke="#d3000c" stroke-width="0.85"/>
<polygon points="323.58,531.7 326.28,534.76 323.58,537.82 320.88,534.76" fill="#fff" stroke="#d3000c" stroke-width="0.85"/>
<polygon points="326.95,533.39 329.65,536.45 326.95,539.51 324.25,536.45" fill="#fff" stroke="#d3000c" stroke-width="0.85"/>
<polygon points="330.32,532.35 333.02,535.41 330.32,538.47 327.62,535.41" fill="#fff" stroke="#d3000c" stroke-width="0.85"/>
<polygon points="333.69,532.37 336.39,535.43 333.69,538.49 330.99,535.43" fill="#fff" stroke="#d3000c" stroke-width="0.85"/>
<polygon points="337.06,534.61 339.76,537.67 337.06,540.73 334.36,537.67" fill="#fff" stroke="#d3000c" stroke-width="0.85"/>
<polygon points="340.43,534.04 343.13,537.1 340.43,540.16 337.73,537.1" fill="#fff" stroke="#d3000c" stroke-width="0.85"/>
<polygon points="343.8,535.39 346.5,538.45 343.8,541.51 341.1,538.45" fill="#fff" stroke="#d3000c" stroke-width="0.85"/>
</g>
<rect x="61.4" y="319.7" width="281.6" height="234" fill="none" stroke="#404040" stroke-width="1.2"/>
<line x1="107.9" y1="553.7" x2="107.9" y2="550.7" stroke="#404040" stroke-width="1"/>
<line x1="107.9" y1="319.7" x2="107.9" y2="322.7" stroke="#404040" stroke-width="1"/>
<line x1="175.3" y1="553.7" x2="175.3" y2="550.7" stroke="#404040" stroke-width="1"/>
<line x1="175.3" y1="319.7" x2="175.3" y2="322.7" stroke="#404040" stroke-width="1"/>
<line x1="242.7" y1="553.7" x2="242.7" y2="550.7" stroke="#404040" stroke-width="1"/>
<line x1="242.7" y1="319.7" x2="242.7" y2="322.7" stroke="#404040" stroke-width="1"/>
<line x1="310.1" y1="553.7" x2="310.1" y2="550.7" stroke="#404040" stroke-width="1"/>
<line x1="310.1" y1="319.7" x2="310.1" y2="322.7" stroke="#404040" stroke-width="1"/>
<line x1="61.4" y1="524.4" x2="64.4" y2="524.4" stroke="#404040" stroke-width="1"/>
<line x1="343" y1="524.4" x2="340" y2="524.4" stroke="#404040" stroke-width="1"/>
<line x1="61.4" y1="465.94" x2="64.4" y2="465.94" stroke="#404040" stroke-width="1"/>
<line x1="343" y1="465.94" x2="340" y2="465.94" stroke="#404040" stroke-width="1"/>
<line x1="61.4" y1="407.48" x2="64.4" y2="407.48" stroke="#404040" stroke-width="1"/>
<line x1="343" y1="407.48" x2="340" y2="407.48" stroke="#404040" stroke-width="1"/>
<line x1="61.4" y1="349.02" x2="64.4" y2="349.02" stroke="#404040" stroke-width="1"/>
<line x1="343" y1="349.02" x2="340" y2="349.02" stroke="#404040" stroke-width="1"/>
<text x="100.18" y="568.6" font-size="15">24</text>
<text x="167.76" y="568.6" font-size="15">25</text>
<text x="235.09" y="568.6" font-size="15">26</text>
<text x="302.49" y="568.6" font-size="15">27</text>
<text x="44.8" y="527.9" font-size="15">40</text>
<text x="44.8" y="469.44" font-size="15">60</text>
<text x="44.8" y="410.98" font-size="15">80</text>
<text x="37.3" y="352.52" font-size="15">100</text>
<text x="-0.49" y="0" font-size="16.2" textLength="164.07" lengthAdjust="spacingAndGlyphs" transform="translate(34,518) rotate(-90)">Normalized Intensity / %</text>
<text x="112.53" y="586" font-size="16.2" textLength="178.11" lengthAdjust="spacingAndGlyphs">Selected Angular Range / °</text>
<text x="-0.49" y="309" font-size="17">c)</text>
<text x="66.52" y="335.6" font-size="11" textLength="133.57" lengthAdjust="spacingAndGlyphs">0% SoC (delithiated anode)</text>
<text x="267.33" y="336" font-size="11" textLength="36.18" lengthAdjust="spacingAndGlyphs">C (002)</text>
<g clip-path="url(#cd)">
<path d="M415.9,445.95 L418.03,458.11 L420.15,450.62 L422.27,448.56 L424.4,446.23 L426.53,449.9 L428.65,444.42 L430.78,449.23 L432.9,454.57 L435.03,452.86 L437.15,445.01 L439.28,446.29 L441.4,444.65 L443.52,434.95 L445.65,429.69 L447.78,425.59 L449.9,421 L452.03,408.9 L454.15,398.57 L456.27,388.79 L458.4,379.58 L460.53,378.28 L462.65,369.39 L464.77,379.63 L466.9,390.77 L469.03,400.49 L471.15,414.98 L473.28,422.47 L475.4,427.25 L477.52,440.17 L479.65,429.15 L481.78,440.45 L483.9,436.8 L486.02,446.1 L488.15,453.7 L490.28,444.01 L492.4,448.36 L494.53,447.39 L496.65,454.52" fill="none" stroke="#6c129e" stroke-width="1.3" stroke-linejoin="round"/>
<polygon points="415.9,448.65 418.69,444.06 413.11,444.06" fill="#fff" stroke="#6c129e" stroke-width="0.85"/>
<polygon points="418.03,460.81 420.82,456.22 415.24,456.22" fill="#fff" stroke="#6c129e" stroke-width="0.85"/>
<polygon points="420.15,453.32 422.94,448.73 417.36,448.73" fill="#fff" stroke="#6c129e" stroke-width="0.85"/>
<polygon points="422.27,451.26 425.06,446.67 419.48,446.67" fill="#fff" stroke="#6c129e" stroke-width="0.85"/>
<polygon points="424.4,448.93 427.19,444.34 421.61,444.34" fill="#fff" stroke="#6c129e" stroke-width="0.85"/>
<polygon points="426.53,452.6 429.32,448.01 423.74,448.01" fill="#fff" stroke="#6c129e" stroke-width="0.85"/>
<polygon points="428.65,447.12 431.44,442.53 425.86,442.53" fill="#fff" stroke="#6c129e" stroke-width="0.85"/>
<polygon points="430.78,451.93 433.57,447.34 427.99,447.34" fill="#fff" stroke="#6c129e" stroke-width="0.85"/>
<polygon points="432.9,457.27 435.69,452.68 430.11,452.68" fill="#fff" stroke="#6c129e" stroke-width="0.85"/>
<polygon points="435.03,455.56 437.82,450.97 432.24,450.97" fill="#fff" stroke="#6c129e" stroke-width="0.85"/>
<polygon points="437.15,447.71 439.94,443.12 434.36,443.12" fill="#fff" stroke="#6c129e" stroke-width="0.85"/>
<polygon points="439.28,448.99 442.07,444.4 436.49,444.4" fill="#fff" stroke="#6c129e" stroke-width="0.85"/>
<polygon points="441.4,447.35 444.19,442.76 438.61,442.76" fill="#fff" stroke="#6c129e" stroke-width="0.85"/>
<polygon points="443.52,437.65 446.31,433.06 440.73,433.06" fill="#fff" stroke="#6c129e" stroke-width="0.85"/>
<polygon points="445.65,432.39 448.44,427.8 442.86,427.8" fill="#fff" stroke="#6c129e" stroke-width="0.85"/>
<polygon points="447.78,428.29 450.57,423.7 444.99,423.7" fill="#fff" stroke="#6c129e" stroke-width="0.85"/>
<polygon points="449.9,423.7 452.69,419.11 447.11,419.11" fill="#fff" stroke="#6c129e" stroke-width="0.85"/>
<polygon points="452.03,411.6 454.82,407.01 449.24,407.01" fill="#fff" stroke="#6c129e" stroke-width="0.85"/>
<polygon points="454.15,401.27 456.94,396.68 451.36,396.68" fill="#fff" stroke="#6c129e" stroke-width="0.85"/>
<polygon points="456.27,391.49 459.06,386.9 453.48,386.9" fill="#fff" stroke="#6c129e" stroke-width="0.85"/>
<polygon points="458.4,382.28 461.19,377.69 455.61,377.69" fill="#fff" stroke="#6c129e" stroke-width="0.85"/>
<polygon points="460.53,380.98 463.32,376.39 457.74,376.39" fill="#fff" stroke="#6c129e" stroke-width="0.85"/>
<polygon points="462.65,372.09 465.44,367.5 459.86,367.5" fill="#fff" stroke="#6c129e" stroke-width="0.85"/>
<polygon points="464.77,382.33 467.56,377.74 461.98,377.74" fill="#fff" stroke="#6c129e" stroke-width="0.85"/>
<polygon points="466.9,393.47 469.69,388.88 464.11,388.88" fill="#fff" stroke="#6c129e" stroke-width="0.85"/>
<polygon points="469.03,403.19 471.82,398.6 466.24,398.6" fill="#fff" stroke="#6c129e" stroke-width="0.85"/>
<polygon points="471.15,417.68 473.94,413.09 468.36,413.09" fill="#fff" stroke="#6c129e" stroke-width="0.85"/>
<polygon points="473.28,425.17 476.07,420.58 470.49,420.58" fill="#fff" stroke="#6c129e" stroke-width="0.85"/>
<polygon points="475.4,429.95 478.19,425.36 472.61,425.36" fill="#fff" stroke="#6c129e" stroke-width="0.85"/>
<polygon points="477.52,442.87 480.31,438.28 474.73,438.28" fill="#fff" stroke="#6c129e" stroke-width="0.85"/>
<polygon points="479.65,431.85 482.44,427.26 476.86,427.26" fill="#fff" stroke="#6c129e" stroke-width="0.85"/>
<polygon points="481.78,443.15 484.57,438.56 478.99,438.56" fill="#fff" stroke="#6c129e" stroke-width="0.85"/>
<polygon points="483.9,439.5 486.69,434.91 481.11,434.91" fill="#fff" stroke="#6c129e" stroke-width="0.85"/>
<polygon points="486.02,448.8 488.81,444.21 483.23,444.21" fill="#fff" stroke="#6c129e" stroke-width="0.85"/>
<polygon points="488.15,456.4 490.94,451.81 485.36,451.81" fill="#fff" stroke="#6c129e" stroke-width="0.85"/>
<polygon points="490.28,446.71 493.07,442.12 487.49,442.12" fill="#fff" stroke="#6c129e" stroke-width="0.85"/>
<polygon points="492.4,451.06 495.19,446.47 489.61,446.47" fill="#fff" stroke="#6c129e" stroke-width="0.85"/>
<polygon points="494.53,450.09 497.32,445.5 491.74,445.5" fill="#fff" stroke="#6c129e" stroke-width="0.85"/>
<polygon points="496.65,457.22 499.44,452.63 493.86,452.63" fill="#fff" stroke="#6c129e" stroke-width="0.85"/>
<path d="M504.26,511.88 L507.08,512.87 L509.9,514.98 L512.72,509.81 L515.54,508.31 L518.36,508.61 L521.18,509.35 L524,503.51 L526.82,504.08 L529.64,504.22 L532.46,498.86 L535.28,501.05 L538.1,504.16 L540.92,506.23 L543.74,506.43 L546.56,507.55 L549.38,508.39 L552.2,506.23 L555.02,506.6 L557.84,501.67 L560.66,499.94 L563.48,498.09 L566.3,493.36 L569.12,492.58 L571.94,488.4 L574.76,486.11 L577.58,482.88 L580.4,484.22 L583.22,476.81 L586.04,479.66 L588.86,482.68 L591.68,498.11 L594.5,498.55 L597.32,502.44 L600.14,503.21 L602.96,486.51 L605.78,477.92 L608.6,461.91 L611.42,444.78 L614.24,426.26 L617.06,416.2 L619.88,392.33 L622.7,382.4 L625.52,382.5 L628.34,393.79 L631.16,416.92 L633.98,440.78 L636.8,459.61 L639.62,485.34 L642.44,496.74 L645.26,507.14 L648.08,510.63 L650.9,514.35 L653.72,512.5 L656.54,510.38 L659.36,519.96 L662.18,516.49 L665,510.05 L667.82,521.17 L670.64,519.71 L673.46,506.6 L676.28,516.49 L679.1,516.3 L681.92,515.68 L684.74,510.54 L687.56,513.86 L690.38,515.76 L693.2,510.8" fill="none" stroke="#6c129e" stroke-width="1.3" stroke-linejoin="round"/>
<polygon points="504.26,514.58 507.05,509.99 501.47,509.99" fill="#fff" stroke="#6c129e" stroke-width="0.85"/>
<polygon points="507.08,515.57 509.87,510.98 504.29,510.98" fill="#fff" stroke="#6c129e" stroke-width="0.85"/>
<polygon points="509.9,517.68 512.69,513.09 507.11,513.09" fill="#fff" stroke="#6c129e" stroke-width="0.85"/>
<polygon points="512.72,512.51 515.51,507.92 509.93,507.92" fill="#fff" stroke="#6c129e" stroke-width="0.85"/>
<polygon points="515.54,511.01 518.33,506.42 512.75,506.42" fill="#fff" stroke="#6c129e" stroke-width="0.85"/>
<polygon points="518.36,511.31 521.15,506.72 515.57,506.72" fill="#fff" stroke="#6c129e" stroke-width="0.85"/>
<polygon points="521.18,512.05 523.97,507.46 518.39,507.46" fill="#fff" stroke="#6c129e" stroke-width="0.85"/>
<polygon points="524,506.21 526.79,501.62 521.21,501.62" fill="#fff" stroke="#6c129e" stroke-width="0.85"/>
<polygon points="526.82,506.78 529.61,502.19 524.03,502.19" fill="#fff" stroke="#6c129e" stroke-width="0.85"/>
<polygon points="529.64,506.92 532.43,502.33 526.85,502.33" fill="#fff" stroke="#6c129e" stroke-width="0.85"/>
<polygon points="532.46,501.56 535.25,496.97 529.67,496.97" fill="#fff" stroke="#6c129e" stroke-width="0.85"/>
<polygon points="535.28,503.75 538.07,499.16 532.49,499.16" fill="#fff" stroke="#6c129e" stroke-width="0.85"/>
<polygon points="538.1,506.86 540.89,502.27 535.31,502.27" fill="#fff" stroke="#6c129e" stroke-width="0.85"/>
<polygon points="540.92,508.93 543.71,504.34 538.13,504.34" fill="#fff" stroke="#6c129e" stroke-width="0.85"/>
<polygon points="543.74,509.13 546.53,504.54 540.95,504.54" fill="#fff" stroke="#6c129e" stroke-width="0.85"/>
<polygon points="546.56,510.25 549.35,505.66 543.77,505.66" fill="#fff" stroke="#6c129e" stroke-width="0.85"/>
<polygon points="549.38,511.09 552.17,506.5 546.59,506.5" fill="#fff" stroke="#6c129e" stroke-width="0.85"/>
<polygon points="552.2,508.93 554.99,504.34 549.41,504.34" fill="#fff" stroke="#6c129e" stroke-width="0.85"/>
<polygon points="555.02,509.3 557.81,504.71 552.23,504.71" fill="#fff" stroke="#6c129e" stroke-width="0.85"/>
<polygon points="557.84,504.37 560.63,499.78 555.05,499.78" fill="#fff" stroke="#6c129e" stroke-width="0.85"/>
<polygon points="560.66,502.64 563.45,498.05 557.87,498.05" fill="#fff" stroke="#6c129e" stroke-width="0.85"/>
<polygon points="563.48,500.79 566.27,496.2 560.69,496.2" fill="#fff" stroke="#6c129e" stroke-width="0.85"/>
<polygon points="566.3,496.06 569.09,491.47 563.51,491.47" fill="#fff" stroke="#6c129e" stroke-width="0.85"/>
<polygon points="569.12,495.28 571.91,490.69 566.33,490.69" fill="#fff" stroke="#6c129e" stroke-width="0.85"/>
<polygon points="571.94,491.1 574.73,486.51 569.15,486.51" fill="#fff" stroke="#6c129e" stroke-width="0.85"/>
<polygon points="574.76,488.81 577.55,484.22 571.97,484.22" fill="#fff" stroke="#6c129e" stroke-width="0.85"/>
<polygon points="577.58,485.58 580.37,480.99 574.79,480.99" fill="#fff" stroke="#6c129e" stroke-width="0.85"/>
<polygon points="580.4,486.92 583.19,482.33 577.61,482.33" fill="#fff" stroke="#6c129e" stroke-width="0.85"/>
<polygon points="583.22,479.51 586.01,474.92 580.43,474.92" fill="#fff" stroke="#6c129e" stroke-width="0.85"/>
<polygon points="586.04,482.36 588.83,477.77 583.25,477.77" fill="#fff" stroke="#6c129e" stroke-width="0.85"/>
<polygon points="588.86,485.38 591.65,480.79 586.07,480.79" fill="#fff" stroke="#6c129e" stroke-width="0.85"/>
<polygon points="591.68,500.81 594.47,496.22 588.89,496.22" fill="#fff" stroke="#6c129e" stroke-width="0.85"/>
<polygon points="594.5,501.25 597.29,496.66 591.71,496.66" fill="#fff" stroke="#6c129e" stroke-width="0.85"/>
<polygon points="597.32,505.14 600.11,500.55 594.53,500.55" fill="#fff" stroke="#6c129e" stroke-width="0.85"/>
<polygon points="600.14,505.91 602.93,501.32 597.35,501.32" fill="#fff" stroke="#6c129e" stroke-width="0.85"/>
<polygon points="602.96,489.21 605.75,484.62 600.17,484.62" fill="#fff" stroke="#6c129e" stroke-width="0.85"/>
<polygon points="605.78,480.62 608.57,476.03 602.99,476.03" fill="#fff" stroke="#6c129e" stroke-width="0.85"/>
<polygon points="608.6,464.61 611.39,460.02 605.81,460.02" fill="#fff" stroke="#6c129e" stroke-width="0.85"/>
<polygon points="611.42,447.48 614.21,442.89 608.63,442.89" fill="#fff" stroke="#6c129e" stroke-width="0.85"/>
<polygon points="614.24,428.96 617.03,424.37 611.45,424.37" fill="#fff" stroke="#6c129e" stroke-width="0.85"/>
<polygon points="617.06,418.9 619.85,414.31 614.27,414.31" fill="#fff" stroke="#6c129e" stroke-width="0.85"/>
<polygon points="619.88,395.03 622.67,390.44 617.09,390.44" fill="#fff" stroke="#6c129e" stroke-width="0.85"/>
<polygon points="622.7,385.1 625.49,380.51 619.91,380.51" fill="#fff" stroke="#6c129e" stroke-width="0.85"/>
<polygon points="625.52,385.2 628.31,380.61 622.73,380.61" fill="#fff" stroke="#6c129e" stroke-width="0.85"/>
<polygon points="628.34,396.49 631.13,391.9 625.55,391.9" fill="#fff" stroke="#6c129e" stroke-width="0.85"/>
<polygon points="631.16,419.62 633.95,415.03 628.37,415.03" fill="#fff" stroke="#6c129e" stroke-width="0.85"/>
<polygon points="633.98,443.48 636.77,438.89 631.19,438.89" fill="#fff" stroke="#6c129e" stroke-width="0.85"/>
<polygon points="636.8,462.31 639.59,457.72 634.01,457.72" fill="#fff" stroke="#6c129e" stroke-width="0.85"/>
<polygon points="639.62,488.04 642.41,483.45 636.83,483.45" fill="#fff" stroke="#6c129e" stroke-width="0.85"/>
<polygon points="642.44,499.44 645.23,494.85 639.65,494.85" fill="#fff" stroke="#6c129e" stroke-width="0.85"/>
<polygon points="645.26,509.84 648.05,505.25 642.47,505.25" fill="#fff" stroke="#6c129e" stroke-width="0.85"/>
<polygon points="648.08,513.33 650.87,508.74 645.29,508.74" fill="#fff" stroke="#6c129e" stroke-width="0.85"/>
<polygon points="650.9,517.05 653.69,512.46 648.11,512.46" fill="#fff" stroke="#6c129e" stroke-width="0.85"/>
<polygon points="653.72,515.2 656.51,510.61 650.93,510.61" fill="#fff" stroke="#6c129e" stroke-width="0.85"/>
<polygon points="656.54,513.08 659.33,508.49 653.75,508.49" fill="#fff" stroke="#6c129e" stroke-width="0.85"/>
<polygon points="659.36,522.66 662.15,518.07 656.57,518.07" fill="#fff" stroke="#6c129e" stroke-width="0.85"/>
<polygon points="662.18,519.19 664.97,514.6 659.39,514.6" fill="#fff" stroke="#6c129e" stroke-width="0.85"/>
<polygon points="665,512.75 667.79,508.16 662.21,508.16" fill="#fff" stroke="#6c129e" stroke-width="0.85"/>
<polygon points="667.82,523.87 670.61,519.28 665.03,519.28" fill="#fff" stroke="#6c129e" stroke-width="0.85"/>
<polygon points="670.64,522.41 673.43,517.82 667.85,517.82" fill="#fff" stroke="#6c129e" stroke-width="0.85"/>
<polygon points="673.46,509.3 676.25,504.71 670.67,504.71" fill="#fff" stroke="#6c129e" stroke-width="0.85"/>
<polygon points="676.28,519.19 679.07,514.6 673.49,514.6" fill="#fff" stroke="#6c129e" stroke-width="0.85"/>
<polygon points="679.1,519 681.89,514.41 676.31,514.41" fill="#fff" stroke="#6c129e" stroke-width="0.85"/>
<polygon points="681.92,518.38 684.71,513.79 679.13,513.79" fill="#fff" stroke="#6c129e" stroke-width="0.85"/>
<polygon points="684.74,513.24 687.53,508.65 681.95,508.65" fill="#fff" stroke="#6c129e" stroke-width="0.85"/>
<polygon points="687.56,516.56 690.35,511.97 684.77,511.97" fill="#fff" stroke="#6c129e" stroke-width="0.85"/>
<polygon points="690.38,518.46 693.17,513.87 687.59,513.87" fill="#fff" stroke="#6c129e" stroke-width="0.85"/>
<polygon points="693.2,513.5 695.99,508.91 690.41,508.91" fill="#fff" stroke="#6c129e" stroke-width="0.85"/>
<path d="M415.9,453.07 L418.03,453.11 L420.15,447.63 L422.27,440.33 L424.4,449.28 L426.53,443.66 L428.65,449.29 L430.78,454.29 L432.9,445.97 L435.03,450.62 L437.15,446.2 L439.28,440.9 L441.4,436.38 L443.52,434.11 L445.65,431.12 L447.78,417.44 L449.9,420.48 L452.03,399.88 L454.15,397.77 L456.27,385.69 L458.4,383.84 L460.53,385.58 L462.65,389.56 L464.77,401.55 L466.9,412.79 L469.03,421.94 L471.15,426.05 L473.28,428 L475.4,430.11 L477.52,438.05 L479.65,433.23 L481.78,447.74 L483.9,452.41 L486.02,445.05 L488.15,442.42 L490.28,438.83 L492.4,441.97 L494.53,449.8 L496.65,443.41" fill="none" stroke="#f5821f" stroke-width="1.3" stroke-linejoin="round"/>
<rect x="413.88" y="451.05" width="4.05" height="4.05" fill="#fff" stroke="#f5821f" stroke-width="0.85"/>
<rect x="416" y="451.08" width="4.05" height="4.05" fill="#fff" stroke="#f5821f" stroke-width="0.85"/>
<rect x="418.13" y="445.61" width="4.05" height="4.05" fill="#fff" stroke="#f5821f" stroke-width="0.85"/>
<rect x="420.25" y="438.31" width="4.05" height="4.05" fill="#fff" stroke="#f5821f" stroke-width="0.85"/>
<rect x="422.38" y="447.25" width="4.05" height="4.05" fill="#fff" stroke="#f5821f" stroke-width="0.85"/>
<rect x="424.5" y="441.63" width="4.05" height="4.05" fill="#fff" stroke="#f5821f" stroke-width="0.85"/>
<rect x="426.63" y="447.26" width="4.05" height="4.05" fill="#fff" stroke="#f5821f" stroke-width="0.85"/>
<rect x="428.75" y="452.27" width="4.05" height="4.05" fill="#fff" stroke="#f5821f" stroke-width="0.85"/>
<rect x="430.88" y="443.94" width="4.05" height="4.05" fill="#fff" stroke="#f5821f" stroke-width="0.85"/>
<rect x="433" y="448.6" width="4.05" height="4.05" fill="#fff" stroke="#f5821f" stroke-width="0.85"/>
<rect x="435.13" y="444.17" width="4.05" height="4.05" fill="#fff" stroke="#f5821f" stroke-width="0.85"/>
<rect x="437.25" y="438.87" width="4.05" height="4.05" fill="#fff" stroke="#f5821f" stroke-width="0.85"/>
<rect x="439.38" y="434.35" width="4.05" height="4.05" fill="#fff" stroke="#f5821f" stroke-width="0.85"/>
<rect x="441.5" y="432.08" width="4.05" height="4.05" fill="#fff" stroke="#f5821f" stroke-width="0.85"/>
<rect x="443.63" y="429.1" width="4.05" height="4.05" fill="#fff" stroke="#f5821f" stroke-width="0.85"/>
<rect x="445.75" y="415.41" width="4.05" height="4.05" fill="#fff" stroke="#f5821f" stroke-width="0.85"/>
<rect x="447.88" y="418.46" width="4.05" height="4.05" fill="#fff" stroke="#f5821f" stroke-width="0.85"/>
<rect x="450" y="397.86" width="4.05" height="4.05" fill="#fff" stroke="#f5821f" stroke-width="0.85"/>
<rect x="452.12" y="395.75" width="4.05" height="4.05" fill="#fff" stroke="#f5821f" stroke-width="0.85"/>
<rect x="454.25" y="383.67" width="4.05" height="4.05" fill="#fff" stroke="#f5821f" stroke-width="0.85"/>
<rect x="456.38" y="381.81" width="4.05" height="4.05" fill="#fff" stroke="#f5821f" stroke-width="0.85"/>
<rect x="458.5" y="383.56" width="4.05" height="4.05" fill="#fff" stroke="#f5821f" stroke-width="0.85"/>
<rect x="460.63" y="387.54" width="4.05" height="4.05" fill="#fff" stroke="#f5821f" stroke-width="0.85"/>
<rect x="462.75" y="399.53" width="4.05" height="4.05" fill="#fff" stroke="#f5821f" stroke-width="0.85"/>
<rect x="464.88" y="410.76" width="4.05" height="4.05" fill="#fff" stroke="#f5821f" stroke-width="0.85"/>
<rect x="467" y="419.91" width="4.05" height="4.05" fill="#fff" stroke="#f5821f" stroke-width="0.85"/>
<rect x="469.13" y="424.03" width="4.05" height="4.05" fill="#fff" stroke="#f5821f" stroke-width="0.85"/>
<rect x="471.25" y="425.97" width="4.05" height="4.05" fill="#fff" stroke="#f5821f" stroke-width="0.85"/>
<rect x="473.38" y="428.08" width="4.05" height="4.05" fill="#fff" stroke="#f5821f" stroke-width="0.85"/>
<rect x="475.5" y="436.03" width="4.05" height="4.05" fill="#fff" stroke="#f5821f" stroke-width="0.85"/>
<rect x="477.63" y="431.21" width="4.05" height="4.05" fill="#fff" stroke="#f5821f" stroke-width="0.85"/>
<rect x="479.75" y="445.71" width="4.05" height="4.05" fill="#fff" stroke="#f5821f" stroke-width="0.85"/>
<rect x="481.88" y="450.38" width="4.05" height="4.05" fill="#fff" stroke="#f5821f" stroke-width="0.85"/>
<rect x="484" y="443.02" width="4.05" height="4.05" fill="#fff" stroke="#f5821f" stroke-width="0.85"/>
<rect x="486.12" y="440.39" width="4.05" height="4.05" fill="#fff" stroke="#f5821f" stroke-width="0.85"/>
<rect x="488.25" y="436.81" width="4.05" height="4.05" fill="#fff" stroke="#f5821f" stroke-width="0.85"/>
<rect x="490.38" y="439.94" width="4.05" height="4.05" fill="#fff" stroke="#f5821f" stroke-width="0.85"/>
<rect x="492.5" y="447.77" width="4.05" height="4.05" fill="#fff" stroke="#f5821f" stroke-width="0.85"/>
<rect x="494.62" y="441.39" width="4.05" height="4.05" fill="#fff" stroke="#f5821f" stroke-width="0.85"/>
<path d="M504.26,532.58 L507.08,530.75 L509.9,535.63 L512.72,533.44 L515.54,530.33 L518.36,529.19 L521.18,523.29 L524,527.59 L526.82,529.68 L529.64,526.4 L532.46,528.99 L535.28,527.83 L538.1,526.79 L540.92,527.17 L543.74,525.99 L546.56,527.75 L549.38,532.47 L552.2,528.87 L555.02,527.19 L557.84,526.66 L560.66,524.4 L563.48,523 L566.3,524.18 L569.12,517.15 L571.94,507.84 L574.76,501.12 L577.58,500.21 L580.4,504.63 L583.22,507.83 L586.04,509.2 L588.86,512.3 L591.68,513.75 L594.5,511.83 L597.32,513.57 L600.14,511.87 L602.96,509.02 L605.78,505.72 L608.6,498.21 L611.42,483.41 L614.24,465.95 L617.06,450.78 L619.88,437.99 L622.7,426.12 L625.52,419.72 L628.34,413.46 L631.16,424.05 L633.98,443.59 L636.8,464.32 L639.62,485.02 L642.44,504.82 L645.26,515.21 L648.08,526.71 L650.9,526.04 L653.72,531.34 L656.54,522.96 L659.36,542.38 L662.18,533.71 L665,522.55 L667.82,523.83 L670.64,534.53 L673.46,535.82 L676.28,530.13 L679.1,533.82 L681.92,533.55 L684.74,533.01 L687.56,530.26 L690.38,531.47 L693.2,532.68" fill="none" stroke="#f5821f" stroke-width="1.3" stroke-linejoin="round"/>
<rect x="502.23" y="530.56" width="4.05" height="4.05" fill="#fff" stroke="#f5821f" stroke-width="0.85"/>
<rect x="505.05" y="528.73" width="4.05" height="4.05" fill="#fff" stroke="#f5821f" stroke-width="0.85"/>
<rect x="507.88" y="533.6" width="4.05" height="4.05" fill="#fff" stroke="#f5821f" stroke-width="0.85"/>
<rect x="510.69" y="531.41" width="4.05" height="4.05" fill="#fff" stroke="#f5821f" stroke-width="0.85"/>
<rect x="513.52" y="528.31" width="4.05" height="4.05" fill="#fff" stroke="#f5821f" stroke-width="0.85"/>
<rect x="516.33" y="527.16" width="4.05" height="4.05" fill="#fff" stroke="#f5821f" stroke-width="0.85"/>
<rect x="519.15" y="521.27" width="4.05" height="4.05" fill="#fff" stroke="#f5821f" stroke-width="0.85"/>
<rect x="521.98" y="525.57" width="4.05" height="4.05" fill="#fff" stroke="#f5821f" stroke-width="0.85"/>
<rect x="524.79" y="527.65" width="4.05" height="4.05" fill="#fff" stroke="#f5821f" stroke-width="0.85"/>
<rect x="527.62" y="524.38" width="4.05" height="4.05" fill="#fff" stroke="#f5821f" stroke-width="0.85"/>
<rect x="530.43" y="526.97" width="4.05" height="4.05" fill="#fff" stroke="#f5821f" stroke-width="0.85"/>
<rect x="533.25" y="525.81" width="4.05" height="4.05" fill="#fff" stroke="#f5821f" stroke-width="0.85"/>
<rect x="536.08" y="524.76" width="4.05" height="4.05" fill="#fff" stroke="#f5821f" stroke-width="0.85"/>
<rect x="538.89" y="525.14" width="4.05" height="4.05" fill="#fff" stroke="#f5821f" stroke-width="0.85"/>
<rect x="541.72" y="523.96" width="4.05" height="4.05" fill="#fff" stroke="#f5821f" stroke-width="0.85"/>
<rect x="544.53" y="525.72" width="4.05" height="4.05" fill="#fff" stroke="#f5821f" stroke-width="0.85"/>
<rect x="547.35" y="530.45" width="4.05" height="4.05" fill="#fff" stroke="#f5821f" stroke-width="0.85"/>
<rect x="550.18" y="526.85" width="4.05" height="4.05" fill="#fff" stroke="#f5821f" stroke-width="0.85"/>
<rect x="552.99" y="525.17" width="4.05" height="4.05" fill="#fff" stroke="#f5821f" stroke-width="0.85"/>
<rect x="555.82" y="524.63" width="4.05" height="4.05" fill="#fff" stroke="#f5821f" stroke-width="0.85"/>
<rect x="558.63" y="522.38" width="4.05" height="4.05" fill="#fff" stroke="#f5821f" stroke-width="0.85"/>
<rect x="561.45" y="520.98" width="4.05" height="4.05" fill="#fff" stroke="#f5821f" stroke-width="0.85"/>
<rect x="564.27" y="522.15" width="4.05" height="4.05" fill="#fff" stroke="#f5821f" stroke-width="0.85"/>
<rect x="567.09" y="515.13" width="4.05" height="4.05" fill="#fff" stroke="#f5821f" stroke-width="0.85"/>
<rect x="569.92" y="505.81" width="4.05" height="4.05" fill="#fff" stroke="#f5821f" stroke-width="0.85"/>
<rect x="572.73" y="499.09" width="4.05" height="4.05" fill="#fff" stroke="#f5821f" stroke-width="0.85"/>
<rect x="575.55" y="498.18" width="4.05" height="4.05" fill="#fff" stroke="#f5821f" stroke-width="0.85"/>
<rect x="578.38" y="502.61" width="4.05" height="4.05" fill="#fff" stroke="#f5821f" stroke-width="0.85"/>
<rect x="581.19" y="505.81" width="4.05" height="4.05" fill="#fff" stroke="#f5821f" stroke-width="0.85"/>
<rect x="584.02" y="507.18" width="4.05" height="4.05" fill="#fff" stroke="#f5821f" stroke-width="0.85"/>
<rect x="586.83" y="510.28" width="4.05" height="4.05" fill="#fff" stroke="#f5821f" stroke-width="0.85"/>
<rect x="589.65" y="511.72" width="4.05" height="4.05" fill="#fff" stroke="#f5821f" stroke-width="0.85"/>
<rect x="592.48" y="509.8" width="4.05" height="4.05" fill="#fff" stroke="#f5821f" stroke-width="0.85"/>
<rect x="595.29" y="511.54" width="4.05" height="4.05" fill="#fff" stroke="#f5821f" stroke-width="0.85"/>
<rect x="598.12" y="509.85" width="4.05" height="4.05" fill="#fff" stroke="#f5821f" stroke-width="0.85"/>
<rect x="600.93" y="506.99" width="4.05" height="4.05" fill="#fff" stroke="#f5821f" stroke-width="0.85"/>
<rect x="603.75" y="503.69" width="4.05" height="4.05" fill="#fff" stroke="#f5821f" stroke-width="0.85"/>
<rect x="606.58" y="496.19" width="4.05" height="4.05" fill="#fff" stroke="#f5821f" stroke-width="0.85"/>
<rect x="609.39" y="481.39" width="4.05" height="4.05" fill="#fff" stroke="#f5821f" stroke-width="0.85"/>
<rect x="612.22" y="463.92" width="4.05" height="4.05" fill="#fff" stroke="#f5821f" stroke-width="0.85"/>
<rect x="615.03" y="448.75" width="4.05" height="4.05" fill="#fff" stroke="#f5821f" stroke-width="0.85"/>
<rect x="617.85" y="435.97" width="4.05" height="4.05" fill="#fff" stroke="#f5821f" stroke-width="0.85"/>
<rect x="620.68" y="424.09" width="4.05" height="4.05" fill="#fff" stroke="#f5821f" stroke-width="0.85"/>
<rect x="623.49" y="417.7" width="4.05" height="4.05" fill="#fff" stroke="#f5821f" stroke-width="0.85"/>
<rect x="626.32" y="411.44" width="4.05" height="4.05" fill="#fff" stroke="#f5821f" stroke-width="0.85"/>
<rect x="629.13" y="422.02" width="4.05" height="4.05" fill="#fff" stroke="#f5821f" stroke-width="0.85"/>
<rect x="631.95" y="441.57" width="4.05" height="4.05" fill="#fff" stroke="#f5821f" stroke-width="0.85"/>
<rect x="634.77" y="462.3" width="4.05" height="4.05" fill="#fff" stroke="#f5821f" stroke-width="0.85"/>
<rect x="637.59" y="482.99" width="4.05" height="4.05" fill="#fff" stroke="#f5821f" stroke-width="0.85"/>
<rect x="640.42" y="502.79" width="4.05" height="4.05" fill="#fff" stroke="#f5821f" stroke-width="0.85"/>
<rect x="643.23" y="513.19" width="4.05" height="4.05" fill="#fff" stroke="#f5821f" stroke-width="0.85"/>
<rect x="646.05" y="524.68" width="4.05" height="4.05" fill="#fff" stroke="#f5821f" stroke-width="0.85"/>
<rect x="648.88" y="524.01" width="4.05" height="4.05" fill="#fff" stroke="#f5821f" stroke-width="0.85"/>
<rect x="651.69" y="529.32" width="4.05" height="4.05" fill="#fff" stroke="#f5821f" stroke-width="0.85"/>
<rect x="654.52" y="520.94" width="4.05" height="4.05" fill="#fff" stroke="#f5821f" stroke-width="0.85"/>
<rect x="657.33" y="540.36" width="4.05" height="4.05" fill="#fff" stroke="#f5821f" stroke-width="0.85"/>
<rect x="660.15" y="531.69" width="4.05" height="4.05" fill="#fff" stroke="#f5821f" stroke-width="0.85"/>
<rect x="662.98" y="520.52" width="4.05" height="4.05" fill="#fff" stroke="#f5821f" stroke-width="0.85"/>
<rect x="665.79" y="521.8" width="4.05" height="4.05" fill="#fff" stroke="#f5821f" stroke-width="0.85"/>
<rect x="668.62" y="532.51" width="4.05" height="4.05" fill="#fff" stroke="#f5821f" stroke-width="0.85"/>
<rect x="671.43" y="533.8" width="4.05" height="4.05" fill="#fff" stroke="#f5821f" stroke-width="0.85"/>
<rect x="674.25" y="528.11" width="4.05" height="4.05" fill="#fff" stroke="#f5821f" stroke-width="0.85"/>
<rect x="677.08" y="531.8" width="4.05" height="4.05" fill="#fff" stroke="#f5821f" stroke-width="0.85"/>
<rect x="679.89" y="531.53" width="4.05" height="4.05" fill="#fff" stroke="#f5821f" stroke-width="0.85"/>
<rect x="682.72" y="530.99" width="4.05" height="4.05" fill="#fff" stroke="#f5821f" stroke-width="0.85"/>
<rect x="685.53" y="528.23" width="4.05" height="4.05" fill="#fff" stroke="#f5821f" stroke-width="0.85"/>
<rect x="688.35" y="529.44" width="4.05" height="4.05" fill="#fff" stroke="#f5821f" stroke-width="0.85"/>
<rect x="691.18" y="530.66" width="4.05" height="4.05" fill="#fff" stroke="#f5821f" stroke-width="0.85"/>
<path d="M415.9,448.98 L418.03,445.88 L420.15,449.44 L422.27,438.47 L424.4,444.77 L426.53,445.94 L428.65,437.18 L430.78,450.69 L432.9,442.01 L435.03,445.05 L437.15,446.61 L439.28,439.93 L441.4,439.11 L443.52,425.92 L445.65,422.95 L447.78,416.91 L449.9,413.69 L452.03,405.99 L454.15,390.24 L456.27,390.57 L458.4,380.47 L460.53,377.8 L462.65,375.04 L464.77,386.95 L466.9,399.35 L469.03,408.99 L471.15,417.04 L473.28,430.08 L475.4,431.85 L477.52,432.74 L479.65,433.98 L481.78,436.7 L483.9,433.84 L486.02,443.68 L488.15,442.63 L490.28,442.69 L492.4,434.01 L494.53,446.73 L496.65,448.59" fill="none" stroke="#1f55ff" stroke-width="1.3" stroke-linejoin="round"/>
<polygon points="415.9,446.28 418.69,450.87 413.11,450.87" fill="#fff" stroke="#1f55ff" stroke-width="0.85"/>
<polygon points="418.03,443.18 420.82,447.77 415.24,447.77" fill="#fff" stroke="#1f55ff" stroke-width="0.85"/>
<polygon points="420.15,446.74 422.94,451.33 417.36,451.33" fill="#fff" stroke="#1f55ff" stroke-width="0.85"/>
<polygon points="422.27,435.77 425.06,440.36 419.48,440.36" fill="#fff" stroke="#1f55ff" stroke-width="0.85"/>
<polygon points="424.4,442.07 427.19,446.66 421.61,446.66" fill="#fff" stroke="#1f55ff" stroke-width="0.85"/>
<polygon points="426.53,443.24 429.32,447.83 423.74,447.83" fill="#fff" stroke="#1f55ff" stroke-width="0.85"/>
<polygon points="428.65,434.48 431.44,439.07 425.86,439.07" fill="#fff" stroke="#1f55ff" stroke-width="0.85"/>
<polygon points="430.78,447.99 433.57,452.58 427.99,452.58" fill="#fff" stroke="#1f55ff" stroke-width="0.85"/>
<polygon points="432.9,439.31 435.69,443.9 430.11,443.9" fill="#fff" stroke="#1f55ff" stroke-width="0.85"/>
<polygon points="435.03,442.35 437.82,446.94 432.24,446.94" fill="#fff" stroke="#1f55ff" stroke-width="0.85"/>
<polygon points="437.15,443.91 439.94,448.5 434.36,448.5" fill="#fff" stroke="#1f55ff" stroke-width="0.85"/>
<polygon points="439.28,437.23 442.07,441.82 436.49,441.82" fill="#fff" stroke="#1f55ff" stroke-width="0.85"/>
<polygon points="441.4,436.41 444.19,441 438.61,441" fill="#fff" stroke="#1f55ff" stroke-width="0.85"/>
<polygon points="443.52,423.22 446.31,427.81 440.73,427.81" fill="#fff" stroke="#1f55ff" stroke-width="0.85"/>
<polygon points="445.65,420.25 448.44,424.84 442.86,424.84" fill="#fff" stroke="#1f55ff" stroke-width="0.85"/>
<polygon points="447.78,414.21 450.57,418.8 444.99,418.8" fill="#fff" stroke="#1f55ff" stroke-width="0.85"/>
<polygon points="449.9,410.99 452.69,415.58 447.11,415.58" fill="#fff" stroke="#1f55ff" stroke-width="0.85"/>
<polygon points="452.03,403.29 454.82,407.88 449.24,407.88" fill="#fff" stroke="#1f55ff" stroke-width="0.85"/>
<polygon points="454.15,387.54 456.94,392.13 451.36,392.13" fill="#fff" stroke="#1f55ff" stroke-width="0.85"/>
<polygon points="456.27,387.87 459.06,392.46 453.48,392.46" fill="#fff" stroke="#1f55ff" stroke-width="0.85"/>
<polygon points="458.4,377.77 461.19,382.36 455.61,382.36" fill="#fff" stroke="#1f55ff" stroke-width="0.85"/>
<polygon points="460.53,375.1 463.32,379.69 457.74,379.69" fill="#fff" stroke="#1f55ff" stroke-width="0.85"/>
<polygon points="462.65,372.34 465.44,376.93 459.86,376.93" fill="#fff" stroke="#1f55ff" stroke-width="0.85"/>
<polygon points="464.77,384.25 467.56,388.84 461.98,388.84" fill="#fff" stroke="#1f55ff" stroke-width="0.85"/>
<polygon points="466.9,396.65 469.69,401.24 464.11,401.24" fill="#fff" stroke="#1f55ff" stroke-width="0.85"/>
<polygon points="469.03,406.29 471.82,410.88 466.24,410.88" fill="#fff" stroke="#1f55ff" stroke-width="0.85"/>
<polygon points="471.15,414.34 473.94,418.93 468.36,418.93" fill="#fff" stroke="#1f55ff" stroke-width="0.85"/>
<polygon points="473.28,427.38 476.07,431.97 470.49,431.97" fill="#fff" stroke="#1f55ff" stroke-width="0.85"/>
<polygon points="475.4,429.15 478.19,433.74 472.61,433.74" fill="#fff" stroke="#1f55ff" stroke-width="0.85"/>
<polygon points="477.52,430.04 480.31,434.63 474.73,434.63" fill="#fff" stroke="#1f55ff" stroke-width="0.85"/>
<polygon points="479.65,431.28 482.44,435.87 476.86,435.87" fill="#fff" stroke="#1f55ff" stroke-width="0.85"/>
<polygon points="481.78,434 484.57,438.59 478.99,438.59" fill="#fff" stroke="#1f55ff" stroke-width="0.85"/>
<polygon points="483.9,431.14 486.69,435.73 481.11,435.73" fill="#fff" stroke="#1f55ff" stroke-width="0.85"/>
<polygon points="486.02,440.98 488.81,445.57 483.23,445.57" fill="#fff" stroke="#1f55ff" stroke-width="0.85"/>
<polygon points="488.15,439.93 490.94,444.52 485.36,444.52" fill="#fff" stroke="#1f55ff" stroke-width="0.85"/>
<polygon points="490.28,439.99 493.07,444.58 487.49,444.58" fill="#fff" stroke="#1f55ff" stroke-width="0.85"/>
<polygon points="492.4,431.31 495.19,435.9 489.61,435.9" fill="#fff" stroke="#1f55ff" stroke-width="0.85"/>
<polygon points="494.53,444.03 497.32,448.62 491.74,448.62" fill="#fff" stroke="#1f55ff" stroke-width="0.85"/>
<polygon points="496.65,445.89 499.44,450.48 493.86,450.48" fill="#fff" stroke="#1f55ff" stroke-width="0.85"/>
<path d="M504.26,520.47 L507.08,517.87 L509.9,517.87 L512.72,518.4 L515.54,517.75 L518.36,517.29 L521.18,515.89 L524,516.63 L526.82,512.31 L529.64,512.4 L532.46,514.06 L535.28,512.59 L538.1,513.48 L540.92,516.14 L543.74,516.41 L546.56,517.26 L549.38,518.26 L552.2,518.8 L555.02,516.85 L557.84,513.72 L560.66,512.27 L563.48,511.4 L566.3,508.15 L569.12,504.3 L571.94,498.82 L574.76,492.25 L577.58,489.21 L580.4,490.15 L583.22,496.32 L586.04,503.62 L588.86,507.06 L591.68,511.52 L594.5,505.38 L597.32,506.37 L600.14,503.42 L602.96,494.81 L605.78,483.8 L608.6,469.22 L611.42,449.27 L614.24,430.68 L617.06,413.09 L619.88,404.53 L622.7,396.02 L625.52,406.07 L628.34,423.77 L631.16,444.06 L633.98,461.41 L636.8,480.03 L639.62,498.25 L642.44,504.08 L645.26,509.99 L648.08,513.98 L650.9,516.96 L653.72,518.32 L656.54,522.69 L659.36,516.06 L662.18,512.49 L665,524.54 L667.82,516.27 L670.64,525.49 L673.46,519.73 L676.28,513.5 L679.1,525.43 L681.92,519.72 L684.74,516.08 L687.56,524.29 L690.38,527.38 L693.2,520.15" fill="none" stroke="#1f55ff" stroke-width="1.3" stroke-linejoin="round"/>
<polygon points="504.26,517.77 507.05,522.36 501.47,522.36" fill="#fff" stroke="#1f55ff" stroke-width="0.85"/>
<polygon points="507.08,515.17 509.87,519.76 504.29,519.76" fill="#fff" stroke="#1f55ff" stroke-width="0.85"/>
<polygon points="509.9,515.17 512.69,519.76 507.11,519.76" fill="#fff" stroke="#1f55ff" stroke-width="0.85"/>
<polygon points="512.72,515.7 515.51,520.29 509.93,520.29" fill="#fff" stroke="#1f55ff" stroke-width="0.85"/>
<polygon points="515.54,515.05 518.33,519.64 512.75,519.64" fill="#fff" stroke="#1f55ff" stroke-width="0.85"/>
<polygon points="518.36,514.59 521.15,519.18 515.57,519.18" fill="#fff" stroke="#1f55ff" stroke-width="0.85"/>
<polygon points="521.18,513.19 523.97,517.78 518.39,517.78" fill="#fff" stroke="#1f55ff" stroke-width="0.85"/>
<polygon points="524,513.93 526.79,518.52 521.21,518.52" fill="#fff" stroke="#1f55ff" stroke-width="0.85"/>
<polygon points="526.82,509.61 529.61,514.2 524.03,514.2" fill="#fff" stroke="#1f55ff" stroke-width="0.85"/>
<polygon points="529.64,509.7 532.43,514.29 526.85,514.29" fill="#fff" stroke="#1f55ff" stroke-width="0.85"/>
<polygon points="532.46,511.36 535.25,515.95 529.67,515.95" fill="#fff" stroke="#1f55ff" stroke-width="0.85"/>
<polygon points="535.28,509.89 538.07,514.48 532.49,514.48" fill="#fff" stroke="#1f55ff" stroke-width="0.85"/>
<polygon points="538.1,510.78 540.89,515.37 535.31,515.37" fill="#fff" stroke="#1f55ff" stroke-width="0.85"/>
<polygon points="540.92,513.44 543.71,518.03 538.13,518.03" fill="#fff" stroke="#1f55ff" stroke-width="0.85"/>
<polygon points="543.74,513.71 546.53,518.3 540.95,518.3" fill="#fff" stroke="#1f55ff" stroke-width="0.85"/>
<polygon points="546.56,514.56 549.35,519.15 543.77,519.15" fill="#fff" stroke="#1f55ff" stroke-width="0.85"/>
<polygon points="549.38,515.56 552.17,520.15 546.59,520.15" fill="#fff" stroke="#1f55ff" stroke-width="0.85"/>
<polygon points="552.2,516.1 554.99,520.69 549.41,520.69" fill="#fff" stroke="#1f55ff" stroke-width="0.85"/>
<polygon points="555.02,514.15 557.81,518.74 552.23,518.74" fill="#fff" stroke="#1f55ff" stroke-width="0.85"/>
<polygon points="557.84,511.02 560.63,515.61 555.05,515.61" fill="#fff" stroke="#1f55ff" stroke-width="0.85"/>
<polygon points="560.66,509.57 563.45,514.16 557.87,514.16" fill="#fff" stroke="#1f55ff" stroke-width="0.85"/>
<polygon points="563.48,508.7 566.27,513.29 560.69,513.29" fill="#fff" stroke="#1f55ff" stroke-width="0.85"/>
<polygon points="566.3,505.45 569.09,510.04 563.51,510.04" fill="#fff" stroke="#1f55ff" stroke-width="0.85"/>
<polygon points="569.12,501.6 571.91,506.19 566.33,506.19" fill="#fff" stroke="#1f55ff" stroke-width="0.85"/>
<polygon points="571.94,496.12 574.73,500.71 569.15,500.71" fill="#fff" stroke="#1f55ff" stroke-width="0.85"/>
<polygon points="574.76,489.55 577.55,494.14 571.97,494.14" fill="#fff" stroke="#1f55ff" stroke-width="0.85"/>
<polygon points="577.58,486.51 580.37,491.1 574.79,491.1" fill="#fff" stroke="#1f55ff" stroke-width="0.85"/>
<polygon points="580.4,487.45 583.19,492.04 577.61,492.04" fill="#fff" stroke="#1f55ff" stroke-width="0.85"/>
<polygon points="583.22,493.62 586.01,498.21 580.43,498.21" fill="#fff" stroke="#1f55ff" stroke-width="0.85"/>
<polygon points="586.04,500.92 588.83,505.51 583.25,505.51" fill="#fff" stroke="#1f55ff" stroke-width="0.85"/>
<polygon points="588.86,504.36 591.65,508.95 586.07,508.95" fill="#fff" stroke="#1f55ff" stroke-width="0.85"/>
<polygon points="591.68,508.82 594.47,513.41 588.89,513.41" fill="#fff" stroke="#1f55ff" stroke-width="0.85"/>
<polygon points="594.5,502.68 597.29,507.27 591.71,507.27" fill="#fff" stroke="#1f55ff" stroke-width="0.85"/>
<polygon points="597.32,503.67 600.11,508.26 594.53,508.26" fill="#fff" stroke="#1f55ff" stroke-width="0.85"/>
<polygon points="600.14,500.72 602.93,505.31 597.35,505.31" fill="#fff" stroke="#1f55ff" stroke-width="0.85"/>
<polygon points="602.96,492.11 605.75,496.7 600.17,496.7" fill="#fff" stroke="#1f55ff" stroke-width="0.85"/>
<polygon points="605.78,481.1 608.57,485.69 602.99,485.69" fill="#fff" stroke="#1f55ff" stroke-width="0.85"/>
<polygon points="608.6,466.52 611.39,471.11 605.81,471.11" fill="#fff" stroke="#1f55ff" stroke-width="0.85"/>
<polygon points="611.42,446.57 614.21,451.16 608.63,451.16" fill="#fff" stroke="#1f55ff" stroke-width="0.85"/>
<polygon points="614.24,427.98 617.03,432.57 611.45,432.57" fill="#fff" stroke="#1f55ff" stroke-width="0.85"/>
<polygon points="617.06,410.39 619.85,414.98 614.27,414.98" fill="#fff" stroke="#1f55ff" stroke-width="0.85"/>
<polygon points="619.88,401.83 622.67,406.42 617.09,406.42" fill="#fff" stroke="#1f55ff" stroke-width="0.85"/>
<polygon points="622.7,393.32 625.49,397.91 619.91,397.91" fill="#fff" stroke="#1f55ff" stroke-width="0.85"/>
<polygon points="625.52,403.37 628.31,407.96 622.73,407.96" fill="#fff" stroke="#1f55ff" stroke-width="0.85"/>
<polygon points="628.34,421.07 631.13,425.66 625.55,425.66" fill="#fff" stroke="#1f55ff" stroke-width="0.85"/>
<polygon points="631.16,441.36 633.95,445.95 628.37,445.95" fill="#fff" stroke="#1f55ff" stroke-width="0.85"/>
<polygon points="633.98,458.71 636.77,463.3 631.19,463.3" fill="#fff" stroke="#1f55ff" stroke-width="0.85"/>
<polygon points="636.8,477.33 639.59,481.92 634.01,481.92" fill="#fff" stroke="#1f55ff" stroke-width="0.85"/>
<polygon points="639.62,495.55 642.41,500.14 636.83,500.14" fill="#fff" stroke="#1f55ff" stroke-width="0.85"/>
<polygon points="642.44,501.38 645.23,505.97 639.65,505.97" fill="#fff" stroke="#1f55ff" stroke-width="0.85"/>
<polygon points="645.26,507.29 648.05,511.88 642.47,511.88" fill="#fff" stroke="#1f55ff" stroke-width="0.85"/>
<polygon points="648.08,511.28 650.87,515.87 645.29,515.87" fill="#fff" stroke="#1f55ff" stroke-width="0.85"/>
<polygon points="650.9,514.26 653.69,518.85 648.11,518.85" fill="#fff" stroke="#1f55ff" stroke-width="0.85"/>
<polygon points="653.72,515.62 656.51,520.21 650.93,520.21" fill="#fff" stroke="#1f55ff" stroke-width="0.85"/>
<polygon points="656.54,519.99 659.33,524.58 653.75,524.58" fill="#fff" stroke="#1f55ff" stroke-width="0.85"/>
<polygon points="659.36,513.36 662.15,517.95 656.57,517.95" fill="#fff" stroke="#1f55ff" stroke-width="0.85"/>
<polygon points="662.18,509.79 664.97,514.38 659.39,514.38" fill="#fff" stroke="#1f55ff" stroke-width="0.85"/>
<polygon points="665,521.84 667.79,526.43 662.21,526.43" fill="#fff" stroke="#1f55ff" stroke-width="0.85"/>
<polygon points="667.82,513.57 670.61,518.16 665.03,518.16" fill="#fff" stroke="#1f55ff" stroke-width="0.85"/>
<polygon points="670.64,522.79 673.43,527.38 667.85,527.38" fill="#fff" stroke="#1f55ff" stroke-width="0.85"/>
<polygon points="673.46,517.03 676.25,521.62 670.67,521.62" fill="#fff" stroke="#1f55ff" stroke-width="0.85"/>
<polygon points="676.28,510.8 679.07,515.39 673.49,515.39" fill="#fff" stroke="#1f55ff" stroke-width="0.85"/>
<polygon points="679.1,522.73 681.89,527.32 676.31,527.32" fill="#fff" stroke="#1f55ff" stroke-width="0.85"/>
<polygon points="681.92,517.02 684.71,521.61 679.13,521.61" fill="#fff" stroke="#1f55ff" stroke-width="0.85"/>
<polygon points="684.74,513.38 687.53,517.97 681.95,517.97" fill="#fff" stroke="#1f55ff" stroke-width="0.85"/>
<polygon points="687.56,521.59 690.35,526.18 684.77,526.18" fill="#fff" stroke="#1f55ff" stroke-width="0.85"/>
<polygon points="690.38,524.68 693.17,529.27 687.59,529.27" fill="#fff" stroke="#1f55ff" stroke-width="0.85"/>
<polygon points="693.2,517.45 695.99,522.04 690.41,522.04" fill="#fff" stroke="#1f55ff" stroke-width="0.85"/>
<path d="M415.9,448.19 L418.03,445.94 L420.15,447.29 L422.27,444.54 L424.4,446.81 L426.53,447.55 L428.65,445.22 L430.78,454.97 L432.9,450.03 L435.03,449.8 L437.15,456.96 L439.28,447.55 L441.4,445.84 L443.52,431.52 L445.65,423.11 L447.78,433.22 L449.9,418.47 L452.03,409.77 L454.15,397.32 L456.27,395.73 L458.4,390.72 L460.53,379.16 L462.65,388.65 L464.77,390.01 L466.9,407.05 L469.03,424.86 L471.15,419.81 L473.28,424.61 L475.4,432.2 L477.52,437.68 L479.65,438.69 L481.78,437.46 L483.9,451.5 L486.02,441.65 L488.15,446.04 L490.28,446.96 L492.4,444.03 L494.53,453.29 L496.65,452.24" fill="none" stroke="#169a16" stroke-width="1.3" stroke-linejoin="round"/>
<circle cx="415.9" cy="448.19" r="2.25" fill="#fff" stroke="#169a16" stroke-width="0.85"/>
<circle cx="418.03" cy="445.94" r="2.25" fill="#fff" stroke="#169a16" stroke-width="0.85"/>
<circle cx="420.15" cy="447.29" r="2.25" fill="#fff" stroke="#169a16" stroke-width="0.85"/>
<circle cx="422.27" cy="444.54" r="2.25" fill="#fff" stroke="#169a16" stroke-width="0.85"/>
<circle cx="424.4" cy="446.81" r="2.25" fill="#fff" stroke="#169a16" stroke-width="0.85"/>
<circle cx="426.53" cy="447.55" r="2.25" fill="#fff" stroke="#169a16" stroke-width="0.85"/>
<circle cx="428.65" cy="445.22" r="2.25" fill="#fff" stroke="#169a16" stroke-width="0.85"/>
<circle cx="430.78" cy="454.97" r="2.25" fill="#fff" stroke="#169a16" stroke-width="0.85"/>
<circle cx="432.9" cy="450.03" r="2.25" fill="#fff" stroke="#169a16" stroke-width="0.85"/>
<circle cx="435.03" cy="449.8" r="2.25" fill="#fff" stroke="#169a16" stroke-width="0.85"/>
<circle cx="437.15" cy="456.96" r="2.25" fill="#fff" stroke="#169a16" stroke-width="0.85"/>
<circle cx="439.28" cy="447.55" r="2.25" fill="#fff" stroke="#169a16" stroke-width="0.85"/>
<circle cx="441.4" cy="445.84" r="2.25" fill="#fff" stroke="#169a16" stroke-width="0.85"/>
<circle cx="443.52" cy="431.52" r="2.25" fill="#fff" stroke="#169a16" stroke-width="0.85"/>
<circle cx="445.65" cy="423.11" r="2.25" fill="#fff" stroke="#169a16" stroke-width="0.85"/>
<circle cx="447.78" cy="433.22" r="2.25" fill="#fff" stroke="#169a16" stroke-width="0.85"/>
<circle cx="449.9" cy="418.47" r="2.25" fill="#fff" stroke="#169a16" stroke-width="0.85"/>
<circle cx="452.03" cy="409.77" r="2.25" fill="#fff" stroke="#169a16" stroke-width="0.85"/>
<circle cx="454.15" cy="397.32" r="2.25" fill="#fff" stroke="#169a16" stroke-width="0.85"/>
<circle cx="456.27" cy="395.73" r="2.25" fill="#fff" stroke="#169a16" stroke-width="0.85"/>
<circle cx="458.4" cy="390.72" r="2.25" fill="#fff" stroke="#169a16" stroke-width="0.85"/>
<circle cx="460.53" cy="379.16" r="2.25" fill="#fff" stroke="#169a16" stroke-width="0.85"/>
<circle cx="462.65" cy="388.65" r="2.25" fill="#fff" stroke="#169a16" stroke-width="0.85"/>
<circle cx="464.77" cy="390.01" r="2.25" fill="#fff" stroke="#169a16" stroke-width="0.85"/>
<circle cx="466.9" cy="407.05" r="2.25" fill="#fff" stroke="#169a16" stroke-width="0.85"/>
<circle cx="469.03" cy="424.86" r="2.25" fill="#fff" stroke="#169a16" stroke-width="0.85"/>
<circle cx="471.15" cy="419.81" r="2.25" fill="#fff" stroke="#169a16" stroke-width="0.85"/>
<circle cx="473.28" cy="424.61" r="2.25" fill="#fff" stroke="#169a16" stroke-width="0.85"/>
<circle cx="475.4" cy="432.2" r="2.25" fill="#fff" stroke="#169a16" stroke-width="0.85"/>
<circle cx="477.52" cy="437.68" r="2.25" fill="#fff" stroke="#169a16" stroke-width="0.85"/>
<circle cx="479.65" cy="438.69" r="2.25" fill="#fff" stroke="#169a16" stroke-width="0.85"/>
<circle cx="481.78" cy="437.46" r="2.25" fill="#fff" stroke="#169a16" stroke-width="0.85"/>
<circle cx="483.9" cy="451.5" r="2.25" fill="#fff" stroke="#169a16" stroke-width="0.85"/>
<circle cx="486.02" cy="441.65" r="2.25" fill="#fff" stroke="#169a16" stroke-width="0.85"/>
<circle cx="488.15" cy="446.04" r="2.25" fill="#fff" stroke="#169a16" stroke-width="0.85"/>
<circle cx="490.28" cy="446.96" r="2.25" fill="#fff" stroke="#169a16" stroke-width="0.85"/>
<circle cx="492.4" cy="444.03" r="2.25" fill="#fff" stroke="#169a16" stroke-width="0.85"/>
<circle cx="494.53" cy="453.29" r="2.25" fill="#fff" stroke="#169a16" stroke-width="0.85"/>
<circle cx="496.65" cy="452.24" r="2.25" fill="#fff" stroke="#169a16" stroke-width="0.85"/>
<path d="M504.26,516.18 L507.08,513.82 L509.9,515.35 L512.72,511.29 L515.54,510.49 L518.36,508.27 L521.18,505.94 L524,506.92 L526.82,508.67 L529.64,508.55 L532.46,504.9 L535.28,505.74 L538.1,503.97 L540.92,505.55 L543.74,504.17 L546.56,503.28 L549.38,509.58 L552.2,508.89 L555.02,507.7 L557.84,506.73 L560.66,502.64 L563.48,500.95 L566.3,497.56 L569.12,492.32 L571.94,489.85 L574.76,488.67 L577.58,486.58 L580.4,497.41 L583.22,498.15 L586.04,495.72 L588.86,500.03 L591.68,504.38 L594.5,509.36 L597.32,509.32 L600.14,508.46 L602.96,502.63 L605.78,490.07 L608.6,482.82 L611.42,467.63 L614.24,448.31 L617.06,427.91 L619.88,412.92 L622.7,403.87 L625.52,403.47 L628.34,410.61 L631.16,425.63 L633.98,442.24 L636.8,460.72 L639.62,482.12 L642.44,495.36 L645.26,502.64 L648.08,507.9 L650.9,510.75 L653.72,507.53 L656.54,507.26 L659.36,516.4 L662.18,514.97 L665,513.47 L667.82,512.93 L670.64,516.04 L673.46,511.76 L676.28,510.33 L679.1,511.95 L681.92,513.3 L684.74,508.92 L687.56,514.73 L690.38,513.16 L693.2,519.99" fill="none" stroke="#169a16" stroke-width="1.3" stroke-linejoin="round"/>
<circle cx="504.26" cy="516.18" r="2.25" fill="#fff" stroke="#169a16" stroke-width="0.85"/>
<circle cx="507.08" cy="513.82" r="2.25" fill="#fff" stroke="#169a16" stroke-width="0.85"/>
<circle cx="509.9" cy="515.35" r="2.25" fill="#fff" stroke="#169a16" stroke-width="0.85"/>
<circle cx="512.72" cy="511.29" r="2.25" fill="#fff" stroke="#169a16" stroke-width="0.85"/>
<circle cx="515.54" cy="510.49" r="2.25" fill="#fff" stroke="#169a16" stroke-width="0.85"/>
<circle cx="518.36" cy="508.27" r="2.25" fill="#fff" stroke="#169a16" stroke-width="0.85"/>
<circle cx="521.18" cy="505.94" r="2.25" fill="#fff" stroke="#169a16" stroke-width="0.85"/>
<circle cx="524" cy="506.92" r="2.25" fill="#fff" stroke="#169a16" stroke-width="0.85"/>
<circle cx="526.82" cy="508.67" r="2.25" fill="#fff" stroke="#169a16" stroke-width="0.85"/>
<circle cx="529.64" cy="508.55" r="2.25" fill="#fff" stroke="#169a16" stroke-width="0.85"/>
<circle cx="532.46" cy="504.9" r="2.25" fill="#fff" stroke="#169a16" stroke-width="0.85"/>
<circle cx="535.28" cy="505.74" r="2.25" fill="#fff" stroke="#169a16" stroke-width="0.85"/>
<circle cx="538.1" cy="503.97" r="2.25" fill="#fff" stroke="#169a16" stroke-width="0.85"/>
<circle cx="540.92" cy="505.55" r="2.25" fill="#fff" stroke="#169a16" stroke-width="0.85"/>
<circle cx="543.74" cy="504.17" r="2.25" fill="#fff" stroke="#169a16" stroke-width="0.85"/>
<circle cx="546.56" cy="503.28" r="2.25" fill="#fff" stroke="#169a16" stroke-width="0.85"/>
<circle cx="549.38" cy="509.58" r="2.25" fill="#fff" stroke="#169a16" stroke-width="0.85"/>
<circle cx="552.2" cy="508.89" r="2.25" fill="#fff" stroke="#169a16" stroke-width="0.85"/>
<circle cx="555.02" cy="507.7" r="2.25" fill="#fff" stroke="#169a16" stroke-width="0.85"/>
<circle cx="557.84" cy="506.73" r="2.25" fill="#fff" stroke="#169a16" stroke-width="0.85"/>
<circle cx="560.66" cy="502.64" r="2.25" fill="#fff" stroke="#169a16" stroke-width="0.85"/>
<circle cx="563.48" cy="500.95" r="2.25" fill="#fff" stroke="#169a16" stroke-width="0.85"/>
<circle cx="566.3" cy="497.56" r="2.25" fill="#fff" stroke="#169a16" stroke-width="0.85"/>
<circle cx="569.12" cy="492.32" r="2.25" fill="#fff" stroke="#169a16" stroke-width="0.85"/>
<circle cx="571.94" cy="489.85" r="2.25" fill="#fff" stroke="#169a16" stroke-width="0.85"/>
<circle cx="574.76" cy="488.67" r="2.25" fill="#fff" stroke="#169a16" stroke-width="0.85"/>
<circle cx="577.58" cy="486.58" r="2.25" fill="#fff" stroke="#169a16" stroke-width="0.85"/>
<circle cx="580.4" cy="497.41" r="2.25" fill="#fff" stroke="#169a16" stroke-width="0.85"/>
<circle cx="583.22" cy="498.15" r="2.25" fill="#fff" stroke="#169a16" stroke-width="0.85"/>
<circle cx="586.04" cy="495.72" r="2.25" fill="#fff" stroke="#169a16" stroke-width="0.85"/>
<circle cx="588.86" cy="500.03" r="2.25" fill="#fff" stroke="#169a16" stroke-width="0.85"/>
<circle cx="591.68" cy="504.38" r="2.25" fill="#fff" stroke="#169a16" stroke-width="0.85"/>
<circle cx="594.5" cy="509.36" r="2.25" fill="#fff" stroke="#169a16" stroke-width="0.85"/>
<circle cx="597.32" cy="509.32" r="2.25" fill="#fff" stroke="#169a16" stroke-width="0.85"/>
<circle cx="600.14" cy="508.46" r="2.25" fill="#fff" stroke="#169a16" stroke-width="0.85"/>
<circle cx="602.96" cy="502.63" r="2.25" fill="#fff" stroke="#169a16" stroke-width="0.85"/>
<circle cx="605.78" cy="490.07" r="2.25" fill="#fff" stroke="#169a16" stroke-width="0.85"/>
<circle cx="608.6" cy="482.82" r="2.25" fill="#fff" stroke="#169a16" stroke-width="0.85"/>
<circle cx="611.42" cy="467.63" r="2.25" fill="#fff" stroke="#169a16" stroke-width="0.85"/>
<circle cx="614.24" cy="448.31" r="2.25" fill="#fff" stroke="#169a16" stroke-width="0.85"/>
<circle cx="617.06" cy="427.91" r="2.25" fill="#fff" stroke="#169a16" stroke-width="0.85"/>
<circle cx="619.88" cy="412.92" r="2.25" fill="#fff" stroke="#169a16" stroke-width="0.85"/>
<circle cx="622.7" cy="403.87" r="2.25" fill="#fff" stroke="#169a16" stroke-width="0.85"/>
<circle cx="625.52" cy="403.47" r="2.25" fill="#fff" stroke="#169a16" stroke-width="0.85"/>
<circle cx="628.34" cy="410.61" r="2.25" fill="#fff" stroke="#169a16" stroke-width="0.85"/>
<circle cx="631.16" cy="425.63" r="2.25" fill="#fff" stroke="#169a16" stroke-width="0.85"/>
<circle cx="633.98" cy="442.24" r="2.25" fill="#fff" stroke="#169a16" stroke-width="0.85"/>
<circle cx="636.8" cy="460.72" r="2.25" fill="#fff" stroke="#169a16" stroke-width="0.85"/>
<circle cx="639.62" cy="482.12" r="2.25" fill="#fff" stroke="#169a16" stroke-width="0.85"/>
<circle cx="642.44" cy="495.36" r="2.25" fill="#fff" stroke="#169a16" stroke-width="0.85"/>
<circle cx="645.26" cy="502.64" r="2.25" fill="#fff" stroke="#169a16" stroke-width="0.85"/>
<circle cx="648.08" cy="507.9" r="2.25" fill="#fff" stroke="#169a16" stroke-width="0.85"/>
<circle cx="650.9" cy="510.75" r="2.25" fill="#fff" stroke="#169a16" stroke-width="0.85"/>
<circle cx="653.72" cy="507.53" r="2.25" fill="#fff" stroke="#169a16" stroke-width="0.85"/>
<circle cx="656.54" cy="507.26" r="2.25" fill="#fff" stroke="#169a16" stroke-width="0.85"/>
<circle cx="659.36" cy="516.4" r="2.25" fill="#fff" stroke="#169a16" stroke-width="0.85"/>
<circle cx="662.18" cy="514.97" r="2.25" fill="#fff" stroke="#169a16" stroke-width="0.85"/>
<circle cx="665" cy="513.47" r="2.25" fill="#fff" stroke="#169a16" stroke-width="0.85"/>
<circle cx="667.82" cy="512.93" r="2.25" fill="#fff" stroke="#169a16" stroke-width="0.85"/>
<circle cx="670.64" cy="516.04" r="2.25" fill="#fff" stroke="#169a16" stroke-width="0.85"/>
<circle cx="673.46" cy="511.76" r="2.25" fill="#fff" stroke="#169a16" stroke-width="0.85"/>
<circle cx="676.28" cy="510.33" r="2.25" fill="#fff" stroke="#169a16" stroke-width="0.85"/>
<circle cx="679.1" cy="511.95" r="2.25" fill="#fff" stroke="#169a16" stroke-width="0.85"/>
<circle cx="681.92" cy="513.3" r="2.25" fill="#fff" stroke="#169a16" stroke-width="0.85"/>
<circle cx="684.74" cy="508.92" r="2.25" fill="#fff" stroke="#169a16" stroke-width="0.85"/>
<circle cx="687.56" cy="514.73" r="2.25" fill="#fff" stroke="#169a16" stroke-width="0.85"/>
<circle cx="690.38" cy="513.16" r="2.25" fill="#fff" stroke="#169a16" stroke-width="0.85"/>
<circle cx="693.2" cy="519.99" r="2.25" fill="#fff" stroke="#169a16" stroke-width="0.85"/>
<path d="M415.9,453.25 L418.03,446.24 L420.15,444.45 L422.27,452.75 L424.4,445.24 L426.53,443.56 L428.65,447.96 L430.78,456.03 L432.9,457.3 L435.03,455.3 L437.15,446.92 L439.28,440.47 L441.4,434.81 L443.52,428.21 L445.65,421.47 L447.78,420.54 L449.9,410.1 L452.03,399.23 L454.15,388.59 L456.27,387.51 L458.4,376.85 L460.53,383.62 L462.65,394.5 L464.77,407.97 L466.9,418.56 L469.03,427.1 L471.15,427.89 L473.28,424.44 L475.4,434.94 L477.52,439.52 L479.65,438.23 L481.78,440.59 L483.9,441.26 L486.02,439.89 L488.15,443.7 L490.28,445.03 L492.4,449.19 L494.53,451.71 L496.65,449.62" fill="none" stroke="#f5821f" stroke-width="1.3" stroke-linejoin="round"/>
<polygon points="418.6,453.25 414.01,450.46 414.01,456.04" fill="#fff" stroke="#f5821f" stroke-width="0.85"/>
<polygon points="420.73,446.24 416.14,443.45 416.14,449.03" fill="#fff" stroke="#f5821f" stroke-width="0.85"/>
<polygon points="422.85,444.45 418.26,441.66 418.26,447.24" fill="#fff" stroke="#f5821f" stroke-width="0.85"/>
<polygon points="424.97,452.75 420.38,449.96 420.38,455.54" fill="#fff" stroke="#f5821f" stroke-width="0.85"/>
<polygon points="427.1,445.24 422.51,442.45 422.51,448.03" fill="#fff" stroke="#f5821f" stroke-width="0.85"/>
<polygon points="429.23,443.56 424.64,440.77 424.64,446.35" fill="#fff" stroke="#f5821f" stroke-width="0.85"/>
<polygon points="431.35,447.96 426.76,445.17 426.76,450.75" fill="#fff" stroke="#f5821f" stroke-width="0.85"/>
<polygon points="433.48,456.03 428.89,453.24 428.89,458.82" fill="#fff" stroke="#f5821f" stroke-width="0.85"/>
<polygon points="435.6,457.3 431.01,454.51 431.01,460.09" fill="#fff" stroke="#f5821f" stroke-width="0.85"/>
<polygon points="437.73,455.3 433.14,452.51 433.14,458.09" fill="#fff" stroke="#f5821f" stroke-width="0.85"/>
<polygon points="439.85,446.92 435.26,444.13 435.26,449.71" fill="#fff" stroke="#f5821f" stroke-width="0.85"/>
<polygon points="441.98,440.47 437.39,437.68 437.39,443.26" fill="#fff" stroke="#f5821f" stroke-width="0.85"/>
<polygon points="444.1,434.81 439.51,432.02 439.51,437.6" fill="#fff" stroke="#f5821f" stroke-width="0.85"/>
<polygon points="446.22,428.21 441.63,425.42 441.63,431" fill="#fff" stroke="#f5821f" stroke-width="0.85"/>
<polygon points="448.35,421.47 443.76,418.68 443.76,424.26" fill="#fff" stroke="#f5821f" stroke-width="0.85"/>
<polygon points="450.48,420.54 445.89,417.75 445.89,423.33" fill="#fff" stroke="#f5821f" stroke-width="0.85"/>
<polygon points="452.6,410.1 448.01,407.31 448.01,412.89" fill="#fff" stroke="#f5821f" stroke-width="0.85"/>
<polygon points="454.73,399.23 450.14,396.44 450.14,402.02" fill="#fff" stroke="#f5821f" stroke-width="0.85"/>
<polygon points="456.85,388.59 452.26,385.8 452.26,391.38" fill="#fff" stroke="#f5821f" stroke-width="0.85"/>
<polygon points="458.97,387.51 454.38,384.72 454.38,390.3" fill="#fff" stroke="#f5821f" stroke-width="0.85"/>
<polygon points="461.1,376.85 456.51,374.06 456.51,379.64" fill="#fff" stroke="#f5821f" stroke-width="0.85"/>
<polygon points="463.23,383.62 458.64,380.83 458.64,386.41" fill="#fff" stroke="#f5821f" stroke-width="0.85"/>
<polygon points="465.35,394.5 460.76,391.71 460.76,397.29" fill="#fff" stroke="#f5821f" stroke-width="0.85"/>
<polygon points="467.47,407.97 462.88,405.18 462.88,410.76" fill="#fff" stroke="#f5821f" stroke-width="0.85"/>
<polygon points="469.6,418.56 465.01,415.77 465.01,421.35" fill="#fff" stroke="#f5821f" stroke-width="0.85"/>
<polygon points="471.73,427.1 467.14,424.31 467.14,429.89" fill="#fff" stroke="#f5821f" stroke-width="0.85"/>
<polygon points="473.85,427.89 469.26,425.1 469.26,430.68" fill="#fff" stroke="#f5821f" stroke-width="0.85"/>
<polygon points="475.98,424.44 471.39,421.65 471.39,427.23" fill="#fff" stroke="#f5821f" stroke-width="0.85"/>
<polygon points="478.1,434.94 473.51,432.15 473.51,437.73" fill="#fff" stroke="#f5821f" stroke-width="0.85"/>
<polygon points="480.22,439.52 475.63,436.73 475.63,442.31" fill="#fff" stroke="#f5821f" stroke-width="0.85"/>
<polygon points="482.35,438.23 477.76,435.44 477.76,441.02" fill="#fff" stroke="#f5821f" stroke-width="0.85"/>
<polygon points="484.48,440.59 479.89,437.8 479.89,443.38" fill="#fff" stroke="#f5821f" stroke-width="0.85"/>
<polygon points="486.6,441.26 482.01,438.47 482.01,444.05" fill="#fff" stroke="#f5821f" stroke-width="0.85"/>
<polygon points="488.72,439.89 484.13,437.1 484.13,442.68" fill="#fff" stroke="#f5821f" stroke-width="0.85"/>
<polygon points="490.85,443.7 486.26,440.91 486.26,446.49" fill="#fff" stroke="#f5821f" stroke-width="0.85"/>
<polygon points="492.98,445.03 488.39,442.24 488.39,447.82" fill="#fff" stroke="#f5821f" stroke-width="0.85"/>
<polygon points="495.1,449.19 490.51,446.4 490.51,451.98" fill="#fff" stroke="#f5821f" stroke-width="0.85"/>
<polygon points="497.23,451.71 492.64,448.92 492.64,454.5" fill="#fff" stroke="#f5821f" stroke-width="0.85"/>
<polygon points="499.35,449.62 494.76,446.83 494.76,452.41" fill="#fff" stroke="#f5821f" stroke-width="0.85"/>
<path d="M504.26,518.75 L507.08,515 L509.9,511.98 L512.72,514.65 L515.54,515.22 L518.36,517.37 L521.18,514.53 L524,516.07 L526.82,511.84 L529.64,508.37 L532.46,509.41 L535.28,508.73 L538.1,511.1 L540.92,506.65 L543.74,504.77 L546.56,498.84 L549.38,494.83 L552.2,502.3 L555.02,505.04 L557.84,507.41 L560.66,506.64 L563.48,503.64 L566.3,502.7 L569.12,501.9 L571.94,498.45 L574.76,495.14 L577.58,493.89 L580.4,499.11 L583.22,505.22 L586.04,504.29 L588.86,508.76 L591.68,512.39 L594.5,516.32 L597.32,516.14 L600.14,517.21 L602.96,509.81 L605.78,505.29 L608.6,498.01 L611.42,484.57 L614.24,467.99 L617.06,448.55 L619.88,431.95 L622.7,416.76 L625.52,410.46 L628.34,416.31 L631.16,431.73 L633.98,452.28 L636.8,472.79 L639.62,490.49 L642.44,503.43 L645.26,508.52 L648.08,518.25 L650.9,519.54 L653.72,520.63 L656.54,513.25 L659.36,516.65 L662.18,522.88 L665,522.47 L667.82,523.85 L670.64,523.01 L673.46,527.92 L676.28,520.19 L679.1,523.52 L681.92,524.31 L684.74,524.61 L687.56,524.45 L690.38,520.77 L693.2,524.84" fill="none" stroke="#f5821f" stroke-width="1.3" stroke-linejoin="round"/>
<polygon points="506.96,518.75 502.37,515.96 502.37,521.54" fill="#fff" stroke="#f5821f" stroke-width="0.85"/>
<polygon points="509.78,515 505.19,512.21 505.19,517.79" fill="#fff" stroke="#f5821f" stroke-width="0.85"/>
<polygon points="512.6,511.98 508.01,509.19 508.01,514.77" fill="#fff" stroke="#f5821f" stroke-width="0.85"/>
<polygon points="515.42,514.65 510.83,511.86 510.83,517.44" fill="#fff" stroke="#f5821f" stroke-width="0.85"/>
<polygon points="518.24,515.22 513.65,512.43 513.65,518.01" fill="#fff" stroke="#f5821f" stroke-width="0.85"/>
<polygon points="521.06,517.37 516.47,514.58 516.47,520.16" fill="#fff" stroke="#f5821f" stroke-width="0.85"/>
<polygon points="523.88,514.53 519.29,511.74 519.29,517.32" fill="#fff" stroke="#f5821f" stroke-width="0.85"/>
<polygon points="526.7,516.07 522.11,513.28 522.11,518.86" fill="#fff" stroke="#f5821f" stroke-width="0.85"/>
<polygon points="529.52,511.84 524.93,509.05 524.93,514.63" fill="#fff" stroke="#f5821f" stroke-width="0.85"/>
<polygon points="532.34,508.37 527.75,505.58 527.75,511.16" fill="#fff" stroke="#f5821f" stroke-width="0.85"/>
<polygon points="535.16,509.41 530.57,506.62 530.57,512.2" fill="#fff" stroke="#f5821f" stroke-width="0.85"/>
<polygon points="537.98,508.73 533.39,505.94 533.39,511.52" fill="#fff" stroke="#f5821f" stroke-width="0.85"/>
<polygon points="540.8,511.1 536.21,508.31 536.21,513.89" fill="#fff" stroke="#f5821f" stroke-width="0.85"/>
<polygon points="543.62,506.65 539.03,503.86 539.03,509.44" fill="#fff" stroke="#f5821f" stroke-width="0.85"/>
<polygon points="546.44,504.77 541.85,501.98 541.85,507.56" fill="#fff" stroke="#f5821f" stroke-width="0.85"/>
<polygon points="549.26,498.84 544.67,496.05 544.67,501.63" fill="#fff" stroke="#f5821f" stroke-width="0.85"/>
<polygon points="552.08,494.83 547.49,492.04 547.49,497.62" fill="#fff" stroke="#f5821f" stroke-width="0.85"/>
<polygon points="554.9,502.3 550.31,499.51 550.31,505.09" fill="#fff" stroke="#f5821f" stroke-width="0.85"/>
<polygon points="557.72,505.04 553.13,502.25 553.13,507.83" fill="#fff" stroke="#f5821f" stroke-width="0.85"/>
<polygon points="560.54,507.41 555.95,504.62 555.95,510.2" fill="#fff" stroke="#f5821f" stroke-width="0.85"/>
<polygon points="563.36,506.64 558.77,503.85 558.77,509.43" fill="#fff" stroke="#f5821f" stroke-width="0.85"/>
<polygon points="566.18,503.64 561.59,500.85 561.59,506.43" fill="#fff" stroke="#f5821f" stroke-width="0.85"/>
<polygon points="569,502.7 564.41,499.91 564.41,505.49" fill="#fff" stroke="#f5821f" stroke-width="0.85"/>
<polygon points="571.82,501.9 567.23,499.11 567.23,504.69" fill="#fff" stroke="#f5821f" stroke-width="0.85"/>
<polygon points="574.64,498.45 570.05,495.66 570.05,501.24" fill="#fff" stroke="#f5821f" stroke-width="0.85"/>
<polygon points="577.46,495.14 572.87,492.35 572.87,497.93" fill="#fff" stroke="#f5821f" stroke-width="0.85"/>
<polygon points="580.28,493.89 575.69,491.1 575.69,496.68" fill="#fff" stroke="#f5821f" stroke-width="0.85"/>
<polygon points="583.1,499.11 578.51,496.32 578.51,501.9" fill="#fff" stroke="#f5821f" stroke-width="0.85"/>
<polygon points="585.92,505.22 581.33,502.43 581.33,508.01" fill="#fff" stroke="#f5821f" stroke-width="0.85"/>
<polygon points="588.74,504.29 584.15,501.5 584.15,507.08" fill="#fff" stroke="#f5821f" stroke-width="0.85"/>
<polygon points="591.56,508.76 586.97,505.97 586.97,511.55" fill="#fff" stroke="#f5821f" stroke-width="0.85"/>
<polygon points="594.38,512.39 589.79,509.6 589.79,515.18" fill="#fff" stroke="#f5821f" stroke-width="0.85"/>
<polygon points="597.2,516.32 592.61,513.53 592.61,519.11" fill="#fff" stroke="#f5821f" stroke-width="0.85"/>
<polygon points="600.02,516.14 595.43,513.35 595.43,518.93" fill="#fff" stroke="#f5821f" stroke-width="0.85"/>
<polygon points="602.84,517.21 598.25,514.42 598.25,520" fill="#fff" stroke="#f5821f" stroke-width="0.85"/>
<polygon points="605.66,509.81 601.07,507.02 601.07,512.6" fill="#fff" stroke="#f5821f" stroke-width="0.85"/>
<polygon points="608.48,505.29 603.89,502.5 603.89,508.08" fill="#fff" stroke="#f5821f" stroke-width="0.85"/>
<polygon points="611.3,498.01 606.71,495.22 606.71,500.8" fill="#fff" stroke="#f5821f" stroke-width="0.85"/>
<polygon points="614.12,484.57 609.53,481.78 609.53,487.36" fill="#fff" stroke="#f5821f" stroke-width="0.85"/>
<polygon points="616.94,467.99 612.35,465.2 612.35,470.78" fill="#fff" stroke="#f5821f" stroke-width="0.85"/>
<polygon points="619.76,448.55 615.17,445.76 615.17,451.34" fill="#fff" stroke="#f5821f" stroke-width="0.85"/>
<polygon points="622.58,431.95 617.99,429.16 617.99,434.74" fill="#fff" stroke="#f5821f" stroke-width="0.85"/>
<polygon points="625.4,416.76 620.81,413.97 620.81,419.55" fill="#fff" stroke="#f5821f" stroke-width="0.85"/>
<polygon points="628.22,410.46 623.63,407.67 623.63,413.25" fill="#fff" stroke="#f5821f" stroke-width="0.85"/>
<polygon points="631.04,416.31 626.45,413.52 626.45,419.1" fill="#fff" stroke="#f5821f" stroke-width="0.85"/>
<polygon points="633.86,431.73 629.27,428.94 629.27,434.52" fill="#fff" stroke="#f5821f" stroke-width="0.85"/>
<polygon points="636.68,452.28 632.09,449.49 632.09,455.07" fill="#fff" stroke="#f5821f" stroke-width="0.85"/>
<polygon points="639.5,472.79 634.91,470 634.91,475.58" fill="#fff" stroke="#f5821f" stroke-width="0.85"/>
<polygon points="642.32,490.49 637.73,487.7 637.73,493.28" fill="#fff" stroke="#f5821f" stroke-width="0.85"/>
<polygon points="645.14,503.43 640.55,500.64 640.55,506.22" fill="#fff" stroke="#f5821f" stroke-width="0.85"/>
<polygon points="647.96,508.52 643.37,505.73 643.37,511.31" fill="#fff" stroke="#f5821f" stroke-width="0.85"/>
<polygon points="650.78,518.25 646.19,515.46 646.19,521.04" fill="#fff" stroke="#f5821f" stroke-width="0.85"/>
<polygon points="653.6,519.54 649.01,516.75 649.01,522.33" fill="#fff" stroke="#f5821f" stroke-width="0.85"/>
<polygon points="656.42,520.63 651.83,517.84 651.83,523.42" fill="#fff" stroke="#f5821f" stroke-width="0.85"/>
<polygon points="659.24,513.25 654.65,510.46 654.65,516.04" fill="#fff" stroke="#f5821f" stroke-width="0.85"/>
<polygon points="662.06,516.65 657.47,513.86 657.47,519.44" fill="#fff" stroke="#f5821f" stroke-width="0.85"/>
<polygon points="664.88,522.88 660.29,520.09 660.29,525.67" fill="#fff" stroke="#f5821f" stroke-width="0.85"/>
<polygon points="667.7,522.47 663.11,519.68 663.11,525.26" fill="#fff" stroke="#f5821f" stroke-width="0.85"/>
<polygon points="670.52,523.85 665.93,521.06 665.93,526.64" fill="#fff" stroke="#f5821f" stroke-width="0.85"/>
<polygon points="673.34,523.01 668.75,520.22 668.75,525.8" fill="#fff" stroke="#f5821f" stroke-width="0.85"/>
<polygon points="676.16,527.92 671.57,525.13 671.57,530.71" fill="#fff" stroke="#f5821f" stroke-width="0.85"/>
<polygon points="678.98,520.19 674.39,517.4 674.39,522.98" fill="#fff" stroke="#f5821f" stroke-width="0.85"/>
<polygon points="681.8,523.52 677.21,520.73 677.21,526.31" fill="#fff" stroke="#f5821f" stroke-width="0.85"/>
<polygon points="684.62,524.31 680.03,521.52 680.03,527.1" fill="#fff" stroke="#f5821f" stroke-width="0.85"/>
<polygon points="687.44,524.61 682.85,521.82 682.85,527.4" fill="#fff" stroke="#f5821f" stroke-width="0.85"/>
<polygon points="690.26,524.45 685.67,521.66 685.67,527.24" fill="#fff" stroke="#f5821f" stroke-width="0.85"/>
<polygon points="693.08,520.77 688.49,517.98 688.49,523.56" fill="#fff" stroke="#f5821f" stroke-width="0.85"/>
<polygon points="695.9,524.84 691.31,522.05 691.31,527.63" fill="#fff" stroke="#f5821f" stroke-width="0.85"/>
<path d="M415.9,472.23 L418.03,469.78 L420.15,470.93 L422.27,465.22 L424.4,464.99 L426.53,458.67 L428.65,460.28 L430.78,461.08 L432.9,458.86 L435.03,465.15 L437.15,464.21 L439.28,458.35 L441.4,453.79 L443.52,450.6 L445.65,440.95 L447.78,435.53 L449.9,419.14 L452.03,401.29 L454.15,400.45 L456.27,401.98 L458.4,398.66 L460.53,397.98 L462.65,408.2 L464.77,429.79 L466.9,430.37 L469.03,451.87 L471.15,450.86 L473.28,449.4 L475.4,452.3 L477.52,451.68 L479.65,454.67 L481.78,459.88 L483.9,460.98 L486.02,460.64 L488.15,462.03 L490.28,464.88 L492.4,463.7 L494.53,462.51 L496.65,465.98" fill="none" stroke="#d3000c" stroke-width="1.3" stroke-linejoin="round"/>
<polygon points="415.9,469.17 418.6,472.23 415.9,475.29 413.2,472.23" fill="#fff" stroke="#d3000c" stroke-width="0.85"/>
<polygon points="418.03,466.72 420.73,469.78 418.03,472.84 415.33,469.78" fill="#fff" stroke="#d3000c" stroke-width="0.85"/>
<polygon points="420.15,467.87 422.85,470.93 420.15,473.99 417.45,470.93" fill="#fff" stroke="#d3000c" stroke-width="0.85"/>
<polygon points="422.27,462.16 424.97,465.22 422.27,468.28 419.57,465.22" fill="#fff" stroke="#d3000c" stroke-width="0.85"/>
<polygon points="424.4,461.93 427.1,464.99 424.4,468.05 421.7,464.99" fill="#fff" stroke="#d3000c" stroke-width="0.85"/>
<polygon points="426.53,455.61 429.23,458.67 426.53,461.73 423.83,458.67" fill="#fff" stroke="#d3000c" stroke-width="0.85"/>
<polygon points="428.65,457.22 431.35,460.28 428.65,463.34 425.95,460.28" fill="#fff" stroke="#d3000c" stroke-width="0.85"/>
<polygon points="430.78,458.02 433.48,461.08 430.78,464.14 428.08,461.08" fill="#fff" stroke="#d3000c" stroke-width="0.85"/>
<polygon points="432.9,455.8 435.6,458.86 432.9,461.92 430.2,458.86" fill="#fff" stroke="#d3000c" stroke-width="0.85"/>
<polygon points="435.03,462.09 437.73,465.15 435.03,468.21 432.33,465.15" fill="#fff" stroke="#d3000c" stroke-width="0.85"/>
<polygon points="437.15,461.15 439.85,464.21 437.15,467.27 434.45,464.21" fill="#fff" stroke="#d3000c" stroke-width="0.85"/>
<polygon points="439.28,455.29 441.98,458.35 439.28,461.41 436.58,458.35" fill="#fff" stroke="#d3000c" stroke-width="0.85"/>
<polygon points="441.4,450.73 444.1,453.79 441.4,456.85 438.7,453.79" fill="#fff" stroke="#d3000c" stroke-width="0.85"/>
<polygon points="443.52,447.54 446.22,450.6 443.52,453.66 440.82,450.6" fill="#fff" stroke="#d3000c" stroke-width="0.85"/>
<polygon points="445.65,437.89 448.35,440.95 445.65,444.01 442.95,440.95" fill="#fff" stroke="#d3000c" stroke-width="0.85"/>
<polygon points="447.78,432.47 450.48,435.53 447.78,438.59 445.08,435.53" fill="#fff" stroke="#d3000c" stroke-width="0.85"/>
<polygon points="449.9,416.08 452.6,419.14 449.9,422.2 447.2,419.14" fill="#fff" stroke="#d3000c" stroke-width="0.85"/>
<polygon points="452.03,398.23 454.73,401.29 452.03,404.35 449.33,401.29" fill="#fff" stroke="#d3000c" stroke-width="0.85"/>
<polygon points="454.15,397.39 456.85,400.45 454.15,403.51 451.45,400.45" fill="#fff" stroke="#d3000c" stroke-width="0.85"/>
<polygon points="456.27,398.92 458.97,401.98 456.27,405.04 453.57,401.98" fill="#fff" stroke="#d3000c" stroke-width="0.85"/>
<polygon points="458.4,395.6 461.1,398.66 458.4,401.72 455.7,398.66" fill="#fff" stroke="#d3000c" stroke-width="0.85"/>
<polygon points="460.53,394.92 463.23,397.98 460.53,401.04 457.83,397.98" fill="#fff" stroke="#d3000c" stroke-width="0.85"/>
<polygon points="462.65,405.14 465.35,408.2 462.65,411.26 459.95,408.2" fill="#fff" stroke="#d3000c" stroke-width="0.85"/>
<polygon points="464.77,426.73 467.47,429.79 464.77,432.85 462.07,429.79" fill="#fff" stroke="#d3000c" stroke-width="0.85"/>
<polygon points="466.9,427.31 469.6,430.37 466.9,433.43 464.2,430.37" fill="#fff" stroke="#d3000c" stroke-width="0.85"/>
<polygon points="469.03,448.81 471.73,451.87 469.03,454.93 466.33,451.87" fill="#fff" stroke="#d3000c" stroke-width="0.85"/>
<polygon points="471.15,447.8 473.85,450.86 471.15,453.92 468.45,450.86" fill="#fff" stroke="#d3000c" stroke-width="0.85"/>
<polygon points="473.28,446.34 475.98,449.4 473.28,452.46 470.58,449.4" fill="#fff" stroke="#d3000c" stroke-width="0.85"/>
<polygon points="475.4,449.24 478.1,452.3 475.4,455.36 472.7,452.3" fill="#fff" stroke="#d3000c" stroke-width="0.85"/>
<polygon points="477.52,448.62 480.22,451.68 477.52,454.74 474.82,451.68" fill="#fff" stroke="#d3000c" stroke-width="0.85"/>
<polygon points="479.65,451.61 482.35,454.67 479.65,457.73 476.95,454.67" fill="#fff" stroke="#d3000c" stroke-width="0.85"/>
<polygon points="481.78,456.82 484.48,459.88 481.78,462.94 479.08,459.88" fill="#fff" stroke="#d3000c" stroke-width="0.85"/>
<polygon points="483.9,457.92 486.6,460.98 483.9,464.04 481.2,460.98" fill="#fff" stroke="#d3000c" stroke-width="0.85"/>
<polygon points="486.02,457.58 488.72,460.64 486.02,463.7 483.32,460.64" fill="#fff" stroke="#d3000c" stroke-width="0.85"/>
<polygon points="488.15,458.97 490.85,462.03 488.15,465.09 485.45,462.03" fill="#fff" stroke="#d3000c" stroke-width="0.85"/>
<polygon points="490.28,461.82 492.98,464.88 490.28,467.94 487.58,464.88" fill="#fff" stroke="#d3000c" stroke-width="0.85"/>
<polygon points="492.4,460.64 495.1,463.7 492.4,466.76 489.7,463.7" fill="#fff" stroke="#d3000c" stroke-width="0.85"/>
<polygon points="494.53,459.45 497.23,462.51 494.53,465.57 491.83,462.51" fill="#fff" stroke="#d3000c" stroke-width="0.85"/>
<polygon points="496.65,462.92 499.35,465.98 496.65,469.04 493.95,465.98" fill="#fff" stroke="#d3000c" stroke-width="0.85"/>
<path d="M504.26,526.51 L507.08,522.99 L509.9,526.53 L512.72,520.6 L515.54,525.83 L518.36,534.59 L521.18,524.29 L524,523.21 L526.82,523.61 L529.64,518.26 L532.46,515.46 L535.28,524.29 L538.1,514.92 L540.92,511.6 L543.74,510.64 L546.56,513.6 L549.38,502.89 L552.2,499.86 L555.02,505.81 L557.84,506.98 L560.66,504.12 L563.48,503.51 L566.3,504.66 L569.12,506.72 L571.94,509.15 L574.76,500.34 L577.58,511.86 L580.4,517.66 L583.22,524.24 L586.04,515.5 L588.86,519.23 L591.68,525.02 L594.5,513.75 L597.32,520.94 L600.14,514.84 L602.96,512.93 L605.78,509.03 L608.6,504.86 L611.42,498.85 L614.24,489.32 L617.06,476.32 L619.88,463.25 L622.7,446.93 L625.52,435.81 L628.34,422.1 L631.16,419.93 L633.98,412.6 L636.8,418.83 L639.62,432.85 L642.44,456.27 L645.26,473.48 L648.08,485.14 L650.9,502.26 L653.72,505.82 L656.54,513.72 L659.36,511.13 L662.18,518.73 L665,524.91 L667.82,521.75 L670.64,523.69 L673.46,520.52 L676.28,521.98 L679.1,523.24 L681.92,524.15 L684.74,516.5 L687.56,527.14 L690.38,522.21 L693.2,521.77" fill="none" stroke="#d3000c" stroke-width="1.3" stroke-linejoin="round"/>
<polygon points="504.26,523.45 506.96,526.51 504.26,529.57 501.56,526.51" fill="#fff" stroke="#d3000c" stroke-width="0.85"/>
<polygon points="507.08,519.93 509.78,522.99 507.08,526.05 504.38,522.99" fill="#fff" stroke="#d3000c" stroke-width="0.85"/>
<polygon points="509.9,523.47 512.6,526.53 509.9,529.59 507.2,526.53" fill="#fff" stroke="#d3000c" stroke-width="0.85"/>
<polygon points="512.72,517.54 515.42,520.6 512.72,523.66 510.02,520.6" fill="#fff" stroke="#d3000c" stroke-width="0.85"/>
<polygon points="515.54,522.77 518.24,525.83 515.54,528.89 512.84,525.83" fill="#fff" stroke="#d3000c" stroke-width="0.85"/>
<polygon points="518.36,531.53 521.06,534.59 518.36,537.65 515.66,534.59" fill="#fff" stroke="#d3000c" stroke-width="0.85"/>
<polygon points="521.18,521.23 523.88,524.29 521.18,527.35 518.48,524.29" fill="#fff" stroke="#d3000c" stroke-width="0.85"/>
<polygon points="524,520.15 526.7,523.21 524,526.27 521.3,523.21" fill="#fff" stroke="#d3000c" stroke-width="0.85"/>
<polygon points="526.82,520.55 529.52,523.61 526.82,526.67 524.12,523.61" fill="#fff" stroke="#d3000c" stroke-width="0.85"/>
<polygon points="529.64,515.2 532.34,518.26 529.64,521.32 526.94,518.26" fill="#fff" stroke="#d3000c" stroke-width="0.85"/>
<polygon points="532.46,512.4 535.16,515.46 532.46,518.52 529.76,515.46" fill="#fff" stroke="#d3000c" stroke-width="0.85"/>
<polygon points="535.28,521.23 537.98,524.29 535.28,527.35 532.58,524.29" fill="#fff" stroke="#d3000c" stroke-width="0.85"/>
<polygon points="538.1,511.86 540.8,514.92 538.1,517.98 535.4,514.92" fill="#fff" stroke="#d3000c" stroke-width="0.85"/>
<polygon points="540.92,508.54 543.62,511.6 540.92,514.66 538.22,511.6" fill="#fff" stroke="#d3000c" stroke-width="0.85"/>
<polygon points="543.74,507.58 546.44,510.64 543.74,513.7 541.04,510.64" fill="#fff" stroke="#d3000c" stroke-width="0.85"/>
<polygon points="546.56,510.54 549.26,513.6 546.56,516.66 543.86,513.6" fill="#fff" stroke="#d3000c" stroke-width="0.85"/>
<polygon points="549.38,499.83 552.08,502.89 549.38,505.95 546.68,502.89" fill="#fff" stroke="#d3000c" stroke-width="0.85"/>
<polygon points="552.2,496.8 554.9,499.86 552.2,502.92 549.5,499.86" fill="#fff" stroke="#d3000c" stroke-width="0.85"/>
<polygon points="555.02,502.75 557.72,505.81 555.02,508.87 552.32,505.81" fill="#fff" stroke="#d3000c" stroke-width="0.85"/>
<polygon points="557.84,503.92 560.54,506.98 557.84,510.04 555.14,506.98" fill="#fff" stroke="#d3000c" stroke-width="0.85"/>
<polygon points="560.66,501.06 563.36,504.12 560.66,507.18 557.96,504.12" fill="#fff" stroke="#d3000c" stroke-width="0.85"/>
<polygon points="563.48,500.45 566.18,503.51 563.48,506.57 560.78,503.51" fill="#fff" stroke="#d3000c" stroke-width="0.85"/>
<polygon points="566.3,501.6 569,504.66 566.3,507.72 563.6,504.66" fill="#fff" stroke="#d3000c" stroke-width="0.85"/>
<polygon points="569.12,503.66 571.82,506.72 569.12,509.78 566.42,506.72" fill="#fff" stroke="#d3000c" stroke-width="0.85"/>
<polygon points="571.94,506.09 574.64,509.15 571.94,512.21 569.24,509.15" fill="#fff" stroke="#d3000c" stroke-width="0.85"/>
<polygon points="574.76,497.28 577.46,500.34 574.76,503.4 572.06,500.34" fill="#fff" stroke="#d3000c" stroke-width="0.85"/>
<polygon points="577.58,508.8 580.28,511.86 577.58,514.92 574.88,511.86" fill="#fff" stroke="#d3000c" stroke-width="0.85"/>
<polygon points="580.4,514.6 583.1,517.66 580.4,520.72 577.7,517.66" fill="#fff" stroke="#d3000c" stroke-width="0.85"/>
<polygon points="583.22,521.18 585.92,524.24 583.22,527.3 580.52,524.24" fill="#fff" stroke="#d3000c" stroke-width="0.85"/>
<polygon points="586.04,512.44 588.74,515.5 586.04,518.56 583.34,515.5" fill="#fff" stroke="#d3000c" stroke-width="0.85"/>
<polygon points="588.86,516.17 591.56,519.23 588.86,522.29 586.16,519.23" fill="#fff" stroke="#d3000c" stroke-width="0.85"/>
<polygon points="591.68,521.96 594.38,525.02 591.68,528.08 588.98,525.02" fill="#fff" stroke="#d3000c" stroke-width="0.85"/>
<polygon points="594.5,510.69 597.2,513.75 594.5,516.81 591.8,513.75" fill="#fff" stroke="#d3000c" stroke-width="0.85"/>
<polygon points="597.32,517.88 600.02,520.94 597.32,524 594.62,520.94" fill="#fff" stroke="#d3000c" stroke-width="0.85"/>
<polygon points="600.14,511.78 602.84,514.84 600.14,517.9 597.44,514.84" fill="#fff" stroke="#d3000c" stroke-width="0.85"/>
<polygon points="602.96,509.87 605.66,512.93 602.96,515.99 600.26,512.93" fill="#fff" stroke="#d3000c" stroke-width="0.85"/>
<polygon points="605.78,505.97 608.48,509.03 605.78,512.09 603.08,509.03" fill="#fff" stroke="#d3000c" stroke-width="0.85"/>
<polygon points="608.6,501.8 611.3,504.86 608.6,507.92 605.9,504.86" fill="#fff" stroke="#d3000c" stroke-width="0.85"/>
<polygon points="611.42,495.79 614.12,498.85 611.42,501.91 608.72,498.85" fill="#fff" stroke="#d3000c" stroke-width="0.85"/>
<polygon points="614.24,486.26 616.94,489.32 614.24,492.38 611.54,489.32" fill="#fff" stroke="#d3000c" stroke-width="0.85"/>
<polygon points="617.06,473.26 619.76,476.32 617.06,479.38 614.36,476.32" fill="#fff" stroke="#d3000c" stroke-width="0.85"/>
<polygon points="619.88,460.19 622.58,463.25 619.88,466.31 617.18,463.25" fill="#fff" stroke="#d3000c" stroke-width="0.85"/>
<polygon points="622.7,443.87 625.4,446.93 622.7,449.99 620,446.93" fill="#fff" stroke="#d3000c" stroke-width="0.85"/>
<polygon points="625.52,432.75 628.22,435.81 625.52,438.87 622.82,435.81" fill="#fff" stroke="#d3000c" stroke-width="0.85"/>
<polygon points="628.34,419.04 631.04,422.1 628.34,425.16 625.64,422.1" fill="#fff" stroke="#d3000c" stroke-width="0.85"/>
<polygon points="631.16,416.87 633.86,419.93 631.16,422.99 628.46,419.93" fill="#fff" stroke="#d3000c" stroke-width="0.85"/>
<polygon points="633.98,409.54 636.68,412.6 633.98,415.66 631.28,412.6" fill="#fff" stroke="#d3000c" stroke-width="0.85"/>
<polygon points="636.8,415.77 639.5,418.83 636.8,421.89 634.1,418.83" fill="#fff" stroke="#d3000c" stroke-width="0.85"/>
<polygon points="639.62,429.79 642.32,432.85 639.62,435.91 636.92,432.85" fill="#fff" stroke="#d3000c" stroke-width="0.85"/>
<polygon points="642.44,453.21 645.14,456.27 642.44,459.33 639.74,456.27" fill="#fff" stroke="#d3000c" stroke-width="0.85"/>
<polygon points="645.26,470.42 647.96,473.48 645.26,476.54 642.56,473.48" fill="#fff" stroke="#d3000c" stroke-width="0.85"/>
<polygon points="648.08,482.08 650.78,485.14 648.08,488.2 645.38,485.14" fill="#fff" stroke="#d3000c" stroke-width="0.85"/>
<polygon points="650.9,499.2 653.6,502.26 650.9,505.32 648.2,502.26" fill="#fff" stroke="#d3000c" stroke-width="0.85"/>
<polygon points="653.72,502.76 656.42,505.82 653.72,508.88 651.02,505.82" fill="#fff" stroke="#d3000c" stroke-width="0.85"/>
<polygon points="656.54,510.66 659.24,513.72 656.54,516.78 653.84,513.72" fill="#fff" stroke="#d3000c" stroke-width="0.85"/>
<polygon points="659.36,508.07 662.06,511.13 659.36,514.19 656.66,511.13" fill="#fff" stroke="#d3000c" stroke-width="0.85"/>
<polygon points="662.18,515.67 664.88,518.73 662.18,521.79 659.48,518.73" fill="#fff" stroke="#d3000c" stroke-width="0.85"/>
<polygon points="665,521.85 667.7,524.91 665,527.97 662.3,524.91" fill="#fff" stroke="#d3000c" stroke-width="0.85"/>
<polygon points="667.82,518.69 670.52,521.75 667.82,524.81 665.12,521.75" fill="#fff" stroke="#d3000c" stroke-width="0.85"/>
<polygon points="670.64,520.63 673.34,523.69 670.64,526.75 667.94,523.69" fill="#fff" stroke="#d3000c" stroke-width="0.85"/>
<polygon points="673.46,517.46 676.16,520.52 673.46,523.58 670.76,520.52" fill="#fff" stroke="#d3000c" stroke-width="0.85"/>
<polygon points="676.28,518.92 678.98,521.98 676.28,525.04 673.58,521.98" fill="#fff" stroke="#d3000c" stroke-width="0.85"/>
<polygon points="679.1,520.18 681.8,523.24 679.1,526.3 676.4,523.24" fill="#fff" stroke="#d3000c" stroke-width="0.85"/>
<polygon points="681.92,521.09 684.62,524.15 681.92,527.21 679.22,524.15" fill="#fff" stroke="#d3000c" stroke-width="0.85"/>
<polygon points="684.74,513.44 687.44,516.5 684.74,519.56 682.04,516.5" fill="#fff" stroke="#d3000c" stroke-width="0.85"/>
<polygon points="687.56,524.08 690.26,527.14 687.56,530.2 684.86,527.14" fill="#fff" stroke="#d3000c" stroke-width="0.85"/>
<polygon points="690.38,519.15 693.08,522.21 690.38,525.27 687.68,522.21" fill="#fff" stroke="#d3000c" stroke-width="0.85"/>
<polygon points="693.2,518.71 695.9,521.77 693.2,524.83 690.5,521.77" fill="#fff" stroke="#d3000c" stroke-width="0.85"/>
</g>
<rect x="416.4" y="319.7" width="276.8" height="230.6" fill="none" stroke="#404040" stroke-width="1.2"/>
<line x1="432.9" y1="550.3" x2="432.9" y2="547.3" stroke="#404040" stroke-width="1"/>
<line x1="432.9" y1="319.7" x2="432.9" y2="322.7" stroke="#404040" stroke-width="1"/>
<line x1="475.4" y1="550.3" x2="475.4" y2="547.3" stroke="#404040" stroke-width="1"/>
<line x1="475.4" y1="319.7" x2="475.4" y2="322.7" stroke="#404040" stroke-width="1"/>
<line x1="524" y1="550.3" x2="524" y2="547.3" stroke="#404040" stroke-width="1"/>
<line x1="524" y1="319.7" x2="524" y2="322.7" stroke="#404040" stroke-width="1"/>
<line x1="580.4" y1="550.3" x2="580.4" y2="547.3" stroke="#404040" stroke-width="1"/>
<line x1="580.4" y1="319.7" x2="580.4" y2="322.7" stroke="#404040" stroke-width="1"/>
<line x1="636.8" y1="550.3" x2="636.8" y2="547.3" stroke="#404040" stroke-width="1"/>
<line x1="636.8" y1="319.7" x2="636.8" y2="322.7" stroke="#404040" stroke-width="1"/>
<line x1="416.4" y1="492.65" x2="419.4" y2="492.65" stroke="#404040" stroke-width="1"/>
<line x1="693.2" y1="492.65" x2="690.2" y2="492.65" stroke="#404040" stroke-width="1"/>
<line x1="416.4" y1="435" x2="419.4" y2="435" stroke="#404040" stroke-width="1"/>
<line x1="693.2" y1="435" x2="690.2" y2="435" stroke="#404040" stroke-width="1"/>
<line x1="416.4" y1="377.35" x2="419.4" y2="377.35" stroke="#404040" stroke-width="1"/>
<line x1="693.2" y1="377.35" x2="690.2" y2="377.35" stroke="#404040" stroke-width="1"/>
<line x1="494.9" y1="323.4" x2="499.9" y2="316" stroke="#222" stroke-width="1.1"/>
<line x1="499.1" y1="323.4" x2="504.1" y2="316" stroke="#222" stroke-width="1.1"/>
<line x1="494.9" y1="554" x2="499.9" y2="546.6" stroke="#222" stroke-width="1.1"/>
<line x1="499.1" y1="554" x2="504.1" y2="546.6" stroke="#222" stroke-width="1.1"/>
<text x="425.06" y="564.4" font-size="15">18</text>
<text x="467.56" y="564.4" font-size="15">19</text>
<text x="516.39" y="564.4" font-size="15">37</text>
<text x="572.86" y="564.4" font-size="15">38</text>
<text x="629.26" y="564.4" font-size="15">39</text>
<text x="685.85" y="564.4" font-size="15">40</text>
<text x="399.6" y="553.7" font-size="15">30</text>
<text x="399.6" y="496.05" font-size="15">35</text>
<text x="399.6" y="438.4" font-size="15">40</text>
<text x="399.6" y="380.75" font-size="15">45</text>
<text x="399.6" y="323.1" font-size="15">50</text>
<text x="-0.48" y="0" font-size="16.2" textLength="161.95" lengthAdjust="spacingAndGlyphs" transform="translate(391.7,514.8) rotate(-90)">Normalized Intensity / %</text>
<text x="466.04" y="582.9" font-size="16.2" textLength="176.19" lengthAdjust="spacingAndGlyphs">Selected Angular Range / °</text>
<text x="354.17" y="308.9" font-size="17">d)</text>
<text x="421.52" y="336" font-size="11" textLength="128.99" lengthAdjust="spacingAndGlyphs">0% SoC (lithiated cathode)</text>
<text x="438.46" y="358.8" font-size="11" textLength="53.04" lengthAdjust="spacingAndGlyphs">NMC (003)</text>
<text x="596.86" y="366.8" font-size="11" textLength="53.14" lengthAdjust="spacingAndGlyphs">NMC (012)</text>
<text x="527.66" y="464.8" font-size="11" textLength="53.35" lengthAdjust="spacingAndGlyphs">NMC (006)</text></svg></body></html>
